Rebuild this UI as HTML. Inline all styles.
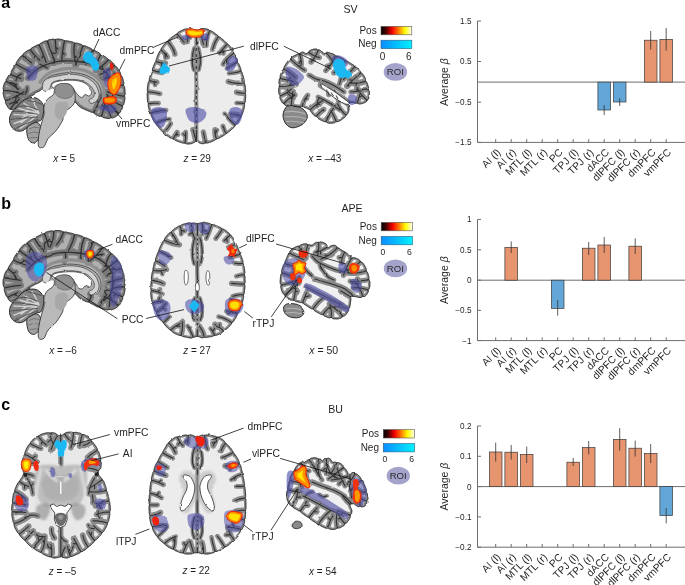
<!DOCTYPE html>
<html><head><meta charset="utf-8"><style>
html,body{margin:0;padding:0;background:#fff;width:685px;height:585px;overflow:hidden}
svg{display:block;font-family:"Liberation Sans",sans-serif;will-change:transform}
</style></head><body>
<svg width="685" height="585" viewBox="0 0 685 585">
<rect width="685" height="585" fill="#fff"/>
<defs><filter id="bw" x="-5%" y="-5%" width="110%" height="110%"><feGaussianBlur stdDeviation="0.75"/></filter><filter id="b1" x="-20%" y="-20%" width="140%" height="140%"><feGaussianBlur stdDeviation="1.2"/></filter><filter id="soft" x="-5%" y="-5%" width="110%" height="110%"><feTurbulence type="fractalNoise" baseFrequency="0.13" numOctaves="2" seed="4" result="n"/><feDisplacementMap in="SourceGraphic" in2="n" scale="2.0" xChannelSelector="R" yChannelSelector="G" result="d"/><feGaussianBlur in="d" stdDeviation="0.35"/></filter></defs>
<g filter="url(#soft)"><g>
<path d="M196,30.2 196.8,30.1 197.2,30 197.6,30.1 198.5,30.1 199.2,29.8 199.5,29.5 199.9,29.2 200.2,28.9 200.6,28.8 201,28.7 201.4,28.7 202.2,28.6 203,28.6 203.8,28.6 204.6,28.7 205.3,28.7 205.7,28.8 206.1,28.9 206.5,29 206.9,29 207.3,29.1 207.7,29.3 208.1,29.4 208.5,29.5 208.8,29.8 209.1,30.1 209.4,30.4 209.7,30.7 210.1,30.7 210.5,30.8 210.9,30.8 211.3,30.9 211.7,31.1 212,31.3 212.3,31.5 212.7,31.8 213,32 213.3,32.2 213.7,32.4 214,32.7 214.3,32.9 214.7,33.1 215,33.4 215.3,33.6 215.6,33.8 216,34.1 216.3,34.3 216.6,34.5 216.9,34.8 217.2,35 217.6,35.2 217.8,35.6 218,36 218.2,36.3 218.5,36.7 218.9,36.8 219.3,36.9 219.7,37.1 220.1,37.2 220.4,37.5 220.7,37.7 221,38 221.3,38.2 221.6,38.5 221.9,38.8 222.2,39 222.5,39.3 222.8,39.5 223.1,39.8 223.4,40.1 223.7,40.3 224,40.6 224.3,40.9 224.6,41.1 224.9,41.4 225.2,41.7 225.5,41.9 225.8,42.2 226.1,42.5 226.4,42.7 226.6,43.1 226.8,43.5 227,43.9 227.2,44.2 227.6,44.4 228,44.6 228.4,44.7 228.8,44.9 229.1,45.2 229.3,45.5 229.6,45.8 229.9,46.1 230.1,46.4 230.4,46.7 230.6,47 230.9,47.3 231.1,47.6 231.3,48 231.5,48.3 231.8,48.6 232,49 232.2,49.3 232.4,49.7 232.6,50 232.8,50.4 233,50.7 233.2,51 233.4,51.4 233.6,51.7 233.6,52.2 233.7,52.6 233.7,53 233.8,53.4 234.1,53.7 234.4,54 234.7,54.3 235,54.6 235.2,54.9 235.4,55.3 235.6,55.7 235.8,56 235.9,56.4 236.1,56.8 236.2,57.1 236.4,57.5 236.5,57.9 236.7,58.3 236.8,58.6 236.9,59 237,59.4 237.2,59.8 237.3,60.1 237.4,60.5 237.4,61.4 237.5,62.2 237.7,62.6 238,62.9 238.3,63.2 238.6,63.5 238.8,63.9 239,64.2 239.1,64.6 239.3,65 239.4,65.3 239.6,65.7 239.7,66.1 239.9,66.4 240,66.8 240.2,67.2 240.3,67.6 240.5,67.9 240.6,68.3 240.7,68.7 240.9,69.1 241,69.4 241,70.3 240.9,71.1 241.2,71.5 241.5,71.8 241.8,72.1 242,72.5 242.1,72.8 242.3,73.2 242.4,73.6 242.5,74 242.6,74.4 242.7,74.8 242.8,75.1 242.9,75.5 243.1,75.9 243.2,76.3 243.3,76.7 243.4,77.1 243.5,77.5 243.6,77.8 243.7,78.2 243.8,78.6 243.9,79 244,79.4 244.1,79.8 244.1,80.2 244.2,80.6 244.3,81 244.4,81.4 244.3,81.8 244.2,82.2 244.2,82.6 244.1,83 244.3,83.4 244.5,83.8 244.7,84.1 245,84.5 245,84.9 245.1,85.3 245.1,85.7 245.2,86.1 245.3,86.9 245.4,87.7 245.5,88.5 245.5,89.3 245.6,90.1 245.7,90.9 245.7,91.7 245.6,92.1 245.4,92.5 245.3,92.9 245.2,93.3 245.3,93.7 245.5,94.1 245.6,94.5 245.8,94.9 245.7,95.7 245.7,96.5 245.7,97.3 245.6,98.1 245.5,98.9 245.4,99.6 245.4,100.4 245.3,101.2 245.2,102 245,102.4 244.8,102.8 244.6,103.2 244.3,103.5 244.4,103.9 244.5,104.4 244.6,104.8 244.7,105.2 244.6,105.6 244.6,106 244.5,106.4 244.4,106.8 244.3,107.2 244.2,107.6 244.2,107.9 244.1,108.3 244,108.7 243.9,109.1 243.8,109.5 243.7,109.9 243.6,110.3 243.4,110.7 243.3,111 243.2,111.4 243.1,111.8 243,112.2 242.8,112.6 242.7,112.9 242.6,113.3 242.4,113.7 242.3,114.1 242.2,114.4 242,114.8 241.7,115.1 241.4,115.4 241.1,115.7 240.8,116 240.8,116.9 240.7,117.3 240.7,117.7 240.5,118.1 240.3,118.4 240.1,118.8 239.9,119.1 239.7,119.5 239.5,119.8 239.3,120.2 239.1,120.5 238.9,120.9 238.7,121.2 238.5,121.5 238.3,121.9 238,122.2 237.8,122.5 237.6,122.9 237.4,123.2 237.1,123.5 236.9,123.8 236.6,124.1 236.3,124.4 235.9,124.6 235.5,124.8 235.2,125 235,125.4 234.9,125.8 234.7,126.2 234.6,126.6 234.3,126.9 234,127.2 233.8,127.5 233.5,127.8 233.2,128 232.9,128.3 232.6,128.6 232.3,128.9 232,129.1 231.7,129.4 231.4,129.7 231.2,129.9 230.8,130.2 230.5,130.5 230.2,130.7 229.9,131 229.6,131.2 229.3,131.5 229,131.7 228.7,132 228.4,132.2 228.1,132.5 227.7,132.7 227.3,132.9 226.9,133 226.5,133.1 226.1,133.2 225.9,133.6 225.6,133.9 225.4,134.3 225.2,134.6 224.8,134.8 224.5,135.1 224.2,135.3 223.8,135.5 223.5,135.7 223.1,135.9 222.8,136.1 222.4,136.3 222.1,136.5 221.7,136.7 221.4,136.9 221,137.1 220.7,137.3 220.3,137.5 220,137.6 219.6,137.8 219.3,138 218.9,138.2 218.6,138.4 218.2,138.5 217.8,138.6 217.3,138.6 216.9,138.7 216.5,138.7 216.2,139 215.9,139.4 215.6,139.7 215.3,140 215,140.1 214.6,140.3 214.2,140.5 213.9,140.6 213.5,140.8 213.2,141 212.8,141.1 212.4,141.3 212,141.5 211.7,141.6 211.3,141.8 210.9,141.9 210.6,142 210.2,142.2 209.8,142.3 209.4,142.4 209,142.5 208.7,142.7 208.3,142.8 207.9,142.9 207.5,143 207.1,143.1 206.7,143 206.3,143 205.9,142.9 205.4,142.8 205.1,143 204.7,143.3 204.3,143.4 204,143.6 203.2,143.7 202.4,143.7 201.6,143.6 201.2,143.6 200.8,143.5 200.4,143.3 200.1,143.1 199.7,143 199.3,142.8 199,142.6 198.6,142.4 198.3,142.2 197.9,142.1 197.5,142 197.2,141.7 196.8,141.5 196.3,141.4 195.9,141.3 195.4,141.5 195.1,141.8 194.7,142.1 194.4,142.4 194.1,142.5 193.7,142.7 193.3,142.8 193,143 192.6,143.2 192.2,143.3 191.9,143.5 191.5,143.6 191.1,143.7 190.7,143.8 190.3,143.8 189.9,143.9 189.1,144 188.3,144 187.5,144 186.7,143.9 186.3,143.8 186,143.6 185.6,143.4 185.2,143.2 184.9,143 184.5,143 184,143.1 183.6,143.1 183.2,143.2 182.8,143.1 182.4,143 182,142.8 181.7,142.7 181.3,142.6 180.9,142.5 180.5,142.4 180.1,142.3 179.8,142.1 179.4,142 179,141.9 178.6,141.7 178.2,141.6 177.9,141.5 177.5,141.3 177.1,141.2 176.8,141 176.4,140.9 176,140.7 175.6,140.5 175.3,140.4 174.9,140.2 174.6,140 174.3,139.7 174,139.4 173.7,139.1 173.4,138.8 173,138.8 172.5,138.7 172.1,138.7 171.7,138.6 171.3,138.4 171,138.3 170.6,138.1 170.3,137.9 169.9,137.7 169.6,137.5 169.2,137.3 168.9,137.1 168.6,136.8 168.2,136.6 167.9,136.4 167.6,136.2 167.2,136 166.9,135.7 166.6,135.5 166.3,135.3 165.9,135 165.6,134.8 165.3,134.5 165,134.3 164.7,134 164.5,133.6 164.3,133.2 164.1,132.9 163.9,132.5 163.6,132.3 163.2,132.1 162.8,132 162.4,131.8 162.1,131.5 161.9,131.2 161.6,130.9 161.3,130.6 161.1,130.3 160.8,130 160.5,129.7 160.3,129.4 160,129.1 159.8,128.8 159.5,128.5 159.2,128.2 159,127.8 158.7,127.5 158.5,127.2 158.2,126.9 158,126.6 157.7,126.3 157.5,126 157.2,125.7 157,125.3 156.8,125 156.6,124.6 156.5,124.2 156.4,123.8 156.3,123.4 155.9,123.1 155.6,122.9 155.2,122.7 154.9,122.4 154.7,122.1 154.5,121.8 154.2,121.4 154,121.1 153.8,120.7 153.6,120.4 153.4,120.1 153.2,119.7 153,119.4 152.8,119 152.6,118.7 152.4,118.3 152.3,117.9 152.1,117.6 151.9,117.2 151.7,116.9 151.6,116.5 151.4,116.1 151.3,115.8 151.1,115.4 150.9,115 150.8,114.7 150.8,113.8 150.8,113 150.5,112.6 150.3,112.3 150,112 149.7,111.6 149.6,111.3 149.5,110.9 149.4,110.5 149.2,110.1 149.1,109.7 149,109.3 148.9,109 148.8,108.6 148.7,108.2 148.7,107.8 148.6,107.4 148.5,107 148.4,106.6 148.3,106.2 148.3,105.8 148.2,105.4 148.3,105 148.3,104.6 148.4,104.2 148.5,103.8 148.3,103.4 148.1,103 147.9,102.6 147.7,102.3 147.6,101.5 147.5,100.7 147.4,99.9 147.4,99.1 147.3,98.3 147.3,97.5 147.3,96.7 147.2,95.9 147.2,95.1 147.2,94.3 147.2,93.5 147.3,93.1 147.5,92.7 147.7,92.3 147.8,91.9 147.7,91.5 147.5,91.1 147.4,90.7 147.3,90.3 147.3,89.5 147.4,88.7 147.4,87.9 147.5,87.1 147.6,86.3 147.7,85.5 147.7,85.1 147.8,84.7 147.9,84.3 147.9,83.9 148,83.5 148.1,83.2 148.2,82.8 148.3,82.4 148.4,82 148.7,81.6 148.9,81.3 149.2,81 149.4,80.6 149.4,80.2 149.3,79.8 149.3,79.3 149.3,78.9 149.4,78.5 149.5,78.1 149.6,77.7 149.7,77.4 149.8,77 149.9,76.6 150,76.2 150.1,75.8 150.2,75.4 150.4,75.1 150.5,74.7 150.6,74.3 150.7,73.9 150.8,73.5 150.9,73.1 151.1,72.8 151.2,72.4 151.3,72 151.4,71.6 151.7,71.3 152,71 152.2,70.6 152.5,70.3 152.5,69.5 152.5,68.6 152.6,68.2 152.8,67.9 152.9,67.5 153.1,67.1 153.2,66.7 153.4,66.4 153.5,66 153.7,65.6 153.8,65.3 154,64.9 154.1,64.5 154.3,64.1 154.4,63.8 154.6,63.4 154.7,63 154.9,62.7 155.2,62.4 155.5,62 155.8,61.7 156.1,61.4 156.1,60.6 156.1,59.7 156.3,59.3 156.4,59 156.6,58.6 156.7,58.2 156.8,57.8 157,57.5 157.1,57.1 157.2,56.7 157.4,56.3 157.5,56 157.6,55.6 157.8,55.2 157.9,54.8 158.1,54.5 158.2,54.1 158.4,53.7 158.5,53.4 158.7,53 158.9,52.6 159.1,52.3 159.2,51.9 159.4,51.6 159.6,51.2 160,50.9 160.3,50.7 160.6,50.4 161,50.2 161,49.7 161.1,49.3 161.2,48.9 161.3,48.5 161.5,48.2 161.7,47.8 162,47.5 162.2,47.2 162.4,46.8 162.7,46.5 162.9,46.2 163.2,45.9 163.4,45.6 163.6,45.2 163.9,44.9 164.1,44.6 164.4,44.3 164.7,44 164.9,43.7 165.2,43.4 165.5,43.1 165.7,42.8 166,42.5 166.3,42.2 166.7,42 167,41.9 167.4,41.7 167.8,41.5 168,41.1 168.2,40.7 168.3,40.3 168.5,40 168.8,39.7 169.1,39.4 169.4,39.1 169.7,38.9 170,38.6 170.3,38.3 170.6,38.1 170.9,37.8 171.2,37.6 171.6,37.3 171.9,37.1 172.2,36.9 172.5,36.7 172.9,36.4 173.2,36.2 173.5,36 173.9,35.8 174.2,35.6 174.5,35.3 174.8,35.1 175.2,34.8 175.5,34.6 175.9,34.5 176.3,34.3 176.7,34.2 177.1,34 177.3,33.6 177.5,33.3 177.7,32.9 177.9,32.6 178.3,32.3 178.6,32.1 178.9,31.9 179.3,31.6 179.6,31.4 180,31.2 180.3,31.1 180.7,30.9 181,30.7 181.4,30.5 181.7,30.4 182.1,30.2 182.5,30 182.9,29.9 183.2,29.7 183.6,29.6 184,29.5 184.4,29.3 184.7,29.2 185.1,29.1 185.5,29 185.9,28.9 186.3,28.8 186.7,28.9 187.1,29 187.5,29.1 187.9,29.2 188.3,29 188.7,28.8 189.1,28.7 189.5,28.5 190.3,28.6 191,28.7 191.4,28.8 191.8,28.9 192.2,29.1 192.6,29.2 192.9,29.4 193.3,29.5 193.7,29.7 194,29.8 194.4,29.9 194.8,30 195.2,30.1Z" fill="#8a8a8a" stroke="#151515" stroke-width="0.9"/>
<path d="M175.7,36.9 175.4,37.2 175,37.4 174.7,37.7 174.3,37.9 174,38.1 173.6,38.3 173.3,38.5 173,38.8 172.7,39 172.4,39.2 172.2,39.4 171.9,39.6 171.6,39.9 171.3,40.1 171,40.4 170.8,40.6 171.3,41.5 173.2,44.1 174.9,46.9 176.3,50 177.5,53.3 177.6,53.8 177.6,54.3 177.5,54.8 177.4,55.3 177.1,55.7 176.8,56.1 176.3,56.4 175.9,56.6 175.4,56.8 174.9,56.8 174.4,56.7 173.9,56.5 173.4,56.3 173,55.9 172.7,55.5 172.5,55 171.5,52.1 170.3,49.5 168.9,47.1 167.3,44.9 166.9,44.5 166.7,44.7 166.4,45 166.2,45.3 165.9,45.6 165.7,45.9 165.5,46.2 165.2,46.5 165,46.8 164.7,47.1 164.5,47.4 164.3,47.7 164.1,48 163.8,48.3 163.6,48.6 165.2,50.2 166.8,51.8 168.3,53.6 169.7,55.5 169.9,56 170.1,56.4 170.1,56.9 170.1,57.4 169.9,57.9 169.7,58.4 169.4,58.8 169,59.1 168.6,59.3 168.1,59.5 167.6,59.6 167.1,59.5 166.6,59.7 166.2,59.9 165.8,60 165.4,60 165,60 164.5,59.9 164.2,59.7 163.8,59.4 163.6,59.1 163.4,58.7 163.2,58.3 162.9,55.2 161.8,54.1 160.8,53.2 160.5,53.8 160.4,54.2 160.2,54.5 160.1,54.9 159.9,55.2 159.8,55.6 159.7,55.9 159.5,56.3 159.4,56.6 159.3,57 159.1,57.4 159,57.8 158.8,58.1 158.7,58.5 158.6,58.9 159.9,59.6 161.7,60 163.5,60.2 165.4,60.3 166,60.4 166.5,60.6 167,60.9 167.4,61.2 167.8,61.7 168,62.2 168.1,62.7 168.2,63.3 168.1,63.9 167.9,64.4 167.6,64.9 167.2,65.3 166.8,65.6 166.3,65.9 165.7,66 165.1,66 164.3,66 164.4,66.4 164.5,66.8 164.5,67.3 164.4,67.7 164.2,68.1 164,68.4 164.1,69 164.2,69.5 164.1,69.9 164,70.4 164.3,70.8 164.6,71.2 164.9,71.7 165,72.2 165,72.7 164.9,73.2 164.8,73.7 164.5,74.1 164.1,74.5 163.7,74.8 163.3,75.1 162.8,75.2 162.2,75.2 159.8,74.9 157.6,74.5 155.4,73.9 153.2,73.3 152.8,73.7 152.7,74.1 152.6,74.5 152.5,74.9 152.4,75.2 152.3,75.6 152.2,76 152.1,76.4 151.9,76.8 151.8,77.1 151.7,77.5 151.6,77.9 151.5,78.3 152.7,78.6 154.2,79 155.8,79.3 157.4,79.6 157.9,79.7 158.4,80 158.8,80.3 159.1,80.7 159.4,81.2 159.5,81.7 159.6,82.2 159.5,82.7 159.4,83.3 159.2,83.7 158.8,84.1 158.4,84.5 157.9,84.7 157.4,84.9 157.2,85.2 157.2,85.6 157,86 156.8,86.4 156.6,86.7 156.2,87 155.8,87.1 155.4,87.3 155,87.3 154.6,87.3 154.2,87.1 153.8,86.9 153.5,86.6 153.2,86.3 153.1,85.9 152.3,84.1 151.4,83.9 150.1,83.6 150,84 149.8,84.7 149.7,85.4 149.6,86.2 149.5,86.9 149.4,87.7 149.4,88.4 149.3,89.2 149.9,89.6 152.6,89.8 155.2,90.2 157.9,90.8 160.5,91.4 161,91.6 161.4,91.8 161.8,92.2 162.1,92.6 162.3,93 162.4,93.5 162.4,93.9 162.3,94.4 162.2,94.9 161.9,95.3 161.6,95.6 161.2,95.9 160.8,96.1 160.3,96.3 159.8,96.3 159.3,96.2 156.9,95.6 154.4,95.1 152,94.7 149.6,94.5 149.2,94.7 149.2,95.4 149.2,96.2 149.3,97 149.3,97.8 149.3,98.6 149.4,99.3 149.5,100.1 149.5,100.9 149.7,101.2 151.9,101 154.1,100.8 156.3,100.7 158.5,100.7 159,100.8 159.4,100.9 159.9,101.2 160.2,101.5 160.5,101.8 160.7,102.2 160.9,102.7 160.9,103.2 160.9,103.6 160.7,104.1 160.5,104.5 160.2,104.9 159.8,105.2 159.4,105.4 159,105.5 158.5,105.6 156.4,105.6 154.4,105.6 152.3,105.8 150.3,106 150.4,106.6 150.5,107 150.6,107.4 150.7,107.7 150.8,108.1 150.9,108.5 151,108.8 151.1,109.2 151.2,109.6 151.3,109.9 152.5,109.8 155.7,109 158.9,108.3 162.3,107.9 165.7,107.7 166.2,107.7 166.7,107.8 167.1,108 167.5,108.3 167.9,108.7 168.1,109.1 168.3,109.5 168.4,110 168.4,110.5 168.2,111 168,111.5 167.8,111.9 167.4,112.2 167,112.5 166.5,112.6 166,112.7 162.8,112.9 159.8,113.3 156.8,113.9 153.9,114.6 153.1,114.9 153.2,115.3 153.4,115.7 153.6,116 153.7,116.4 153.9,116.7 154,117 154.2,117.4 154.4,117.7 154.6,118.1 154.8,118.4 154.9,118.7 155.3,119.4 155.5,119.7 155.7,120 155.9,120.3 156.1,120.7 157,120.3 159.8,119 162.8,118 166,117.3 169.3,116.9 170,116.9 170.4,117.1 170.8,117.3 171.2,117.5 171.4,117.9 171.7,118.2 171.8,118.7 171.8,119.1 171.8,119.5 171.7,120 171.5,120.4 171.2,120.7 170.9,121 171.4,121.2 171.8,121.4 172.2,121.6 172.6,122 172.9,122.4 173.1,122.8 173.2,123.3 173.2,123.7 173.1,124.2 172.9,124.7 171.5,126.9 170.1,128.9 168.6,130.9 167,132.8 166.7,133.1 167.5,133.7 167.7,133.9 168.1,134.1 168.4,134.3 169,134.7 169.3,134.9 169.6,135.1 170,135.3 170.3,135.5 170.6,135.7 170.9,135.9 171.3,136.1 171.6,136.3 172.3,135.3 173.1,133.8 174,132.3 174.9,130.9 175.2,130.5 175.6,130.2 176,129.9 176.5,129.8 177,129.7 177.5,129.7 178,129.9 178.5,130.1 178.9,130.4 179.2,130.8 179.5,131.2 179.6,131.7 179.7,132.2 179.7,132.7 179.8,133.1 180.1,133.5 180.3,133.9 180.3,134.4 180.3,134.8 180.2,135.3 180.1,135.7 179.8,136.1 179.5,136.4 179.1,136.7 178.6,136.9 177.2,137.1 176.9,137.7 176.4,138.7 176.8,138.9 177.2,139 177.5,139.2 177.9,139.3 178.2,139.5 178.6,139.6 178.9,139.7 179.3,139.9 179.7,140 180,140.1 180.4,140.2 180.8,140.4 181.5,140.6 181.9,140.7 182.2,140.8 182.6,140.9 183.1,138.8 183.3,137.4 181.6,135.5 181.4,135.2 181.2,134.7 181.1,134.3 181.1,133.8 181.1,133.4 181.3,133 181.6,132.6 181.9,132.3 182.2,132 182.7,131.8 183.1,131.7 183.4,131.4 183.6,131 183.8,130.6 184.1,130.2 184.5,130 184.9,129.8 185.4,129.7 185.8,129.7 186.3,129.7 186.7,129.9 187.1,130.1 187.5,130.5 187.7,130.8 187.9,131.3 188,131.7 188.1,134.3 188.1,136.8 187.9,139.2 187.5,141.6 187.7,142 188.3,142 188.9,142 189.6,141.9 190.4,141.8 191,141.7 191.5,141.5 192.2,141.2 192.5,141 192.9,140.9 192.7,140 192.2,137.6 191.6,135.3 191,132.9 190.2,130.6 190.1,130 190.1,129.5 190.2,128.9 190.4,128.4 190.7,127.9 191.1,127.5 191.6,127.2 192.1,127 192.6,126.9 193.2,126.9 193.8,127 194.3,127.2 194.3,124.5 194.2,121.8 194.2,119 194.2,116.2 194.4,110.7 194.4,108 194.4,105.3 194.3,102.6 194.2,99.8 194.2,97 194.2,94.2 194.4,88.7 194.4,86 194.4,83.3 194.3,80.6 194.2,77.8 194.2,75 194.2,72.2 194.1,71.9 193.5,71.9 193,71.7 192.7,71.5 192.4,71.3 192.2,71 192,70.7 191.6,69.4 191.2,67.8 190.8,65.8 190.5,63.7 190.4,61.4 190.4,58.9 190.6,56.6 190.8,54.4 191.1,52.3 191.6,50.3 192,48.7 192.3,47.5 192.4,47.2 192.6,46.9 192.9,46.6 193.2,46.4 193.5,46.2 193.9,46.1 194.3,46.1 194.4,44.8 194.4,42 194.4,38.8 194.4,35.3 194.3,32.2 193.9,31.9 193.4,31.7 193,31.5 192.6,31.4 192.2,31.2 191.8,31.1 191.5,30.9 190.8,30.7 190.6,31 190.7,33.8 190.6,35.7 191.4,36.2 191.7,36.4 192,36.7 192.2,37.1 192.3,37.4 192.3,38 192.2,38.6 192.1,38.9 191.8,39.2 191.5,39.5 191.2,39.7 190.8,39.8 190.2,39.9 189.9,42.1 189.8,42.6 189.6,43.1 189.3,43.5 188.9,43.8 188.5,44.1 188,44.3 187.5,44.3 187,44.3 186.5,44.2 186,44.3 185.5,44.6 185,44.8 184.5,44.9 184,45 183.4,44.9 182.9,44.7 182.4,44.4 182,44 180.5,42.3 179,40.6 177.5,38.9 176,37.1 175.8,36.9ZM156.3,64.5 156.1,64.9 156,65.3 155.8,65.6 155.7,66 155.5,66.4 155.4,66.7 155.2,67.1 155.1,67.5 154.9,67.8 154.8,68.2 156.7,68.8 157.9,69.1 160.1,67.6 159.5,65.4 158.7,65.2 156.6,64.6ZM159.1,124.7 159.3,125.1 159.5,125.4 159.8,125.7 160,126 160.3,126.3 160.5,126.6 160.8,126.9 161.3,127.5 161.5,127.8 161.8,128.1 162.1,128.4 162.3,128.7 162.6,129 162.8,129.3 163.1,129.5 164.7,127.9 166.1,126.1 167.4,124.2 168.7,122.2 169,121.9 169.3,121.5 166.8,121.7 164.1,122.3 161.6,123.2 159.2,124.2 158.8,124.5ZM198.6,140.2 199,140.4 199.5,140.6 199.9,140.8 200.3,141 200.6,141.2 201.2,141.5 201.7,141.6 202.1,141.7 202.5,141.6 202.1,139.3 201.6,137 201.2,134.8 200.7,132.5 200.7,132 200.7,131.5 200.9,131 201.1,130.5 201.4,130.1 201.8,129.8 202.3,129.5 202.8,129.4 203.3,129.3 203.8,129.3 204.3,129.5 204.8,129.7 205.2,130.1 205.5,130.5 205.8,130.9 205.9,131.4 206.4,133.7 206.8,136 207.3,138.3 207.7,140.6 208.1,140.7 208.5,140.6 208.8,140.5 209.2,140.4 209.5,140.3 209.9,140.2 210.2,140 210.6,139.9 210.9,139.7 211.3,139.6 211.6,139.5 212,139.3 212.3,139.1 212.7,139 213.1,138.8 213.4,138.7 212.8,136.6 212.4,134.4 212.2,132.1 212.3,129.7 212.3,129.2 212.5,128.6 212.8,128.2 213.1,127.7 213.6,127.4 214.1,127.2 214.6,127 215.1,127 215.7,127 216.2,127.2 216.7,127.5 217.1,127.8 217.7,127.9 218.1,128 218.5,128.3 218.8,128.6 219,128.9 219.2,129.3 219.3,129.8 219.3,130.4 219.2,130.8 217.9,133.3 218.2,135.1 218.5,136.1 219.1,135.9 219.4,135.7 219.7,135.5 220.1,135.3 220.4,135.1 220.8,134.9 221.1,134.8 221.4,134.6 221.8,134.4 222.1,134.2 222.4,134 222.8,133.8 223.1,133.6 222.6,132.1 221.8,130.4 221.1,128.6 220.5,126.8 220.4,126.3 220.4,125.8 220.5,125.4 220.7,124.9 221,124.5 221.3,124.2 221.7,123.9 222.2,123.7 222.7,123.6 223.2,123.6 223.6,123.7 224.1,123.9 224.5,124.2 224.8,124.5 225.1,124.9 225.3,125.4 225.8,126.9 226.3,128.4 226.9,129.7 227.4,130.5 227.8,130.2 228.1,129.9 228.4,129.7 228.7,129.4 229,129.2 229.2,129 229.5,128.7 229.8,128.4 230.1,128.2 230.4,127.9 230.7,127.7 231,127.4 231.2,127.1 231.5,126.9 232.1,126.3 232.3,126.1 232.6,125.8 231.7,125 229.4,122.7 227.1,120.2 224.9,117.7 222.9,115 222.6,114.6 222.5,114.2 222.4,113.8 222.4,113.3 222.5,112.9 222.7,112.5 222.9,112.1 223.3,111.8 223.6,111.6 224,111.4 224.5,111.4 224.9,111.4 225.4,111.5 225.8,111.7 226.1,111.9 226.4,112.2 227.7,114 227.9,113.4 228.1,112.9 228.4,112.4 228.8,112 229.3,111.7 229.8,111.5 230.4,111.4 233,111.4 235.4,111.6 237.9,112.1 240.2,112.7 240.6,112.9 240.8,112.3 240.9,111.9 241.1,111.6 241.2,111.2 241.3,110.8 241.4,110.5 241.5,110.1 241.6,109.7 241.7,109.4 241.9,108.6 242,108.2 242.1,107.9 242.4,106.8 242.5,106 242.6,105.6 241.4,105.4 239.8,105.3 238.2,105.2 236.6,105.2 236.1,105.2 235.7,105 235.3,104.8 235,104.5 234.7,104.2 234.5,103.8 234.4,103.4 234.4,103 234.4,102.5 234.5,102.1 234.8,101.7 235,101.4 235.4,101.1 235.8,100.9 236.2,100.8 236.6,100.8 238.3,100.8 240.1,100.9 241.8,101 243.3,101.1 243.3,100.6 243.4,99.8 243.5,99 243.6,98.3 243.6,97.5 243.7,96.7 243.7,96 241.9,95.9 239.9,95.7 237.9,95.4 236,94.9 235.5,94.8 235,94.5 234.6,94.2 234.2,93.7 234,93.3 233.8,92.8 233.8,92.2 233.9,91.7 234,91.2 234.3,90.7 234.6,90.3 235,90 235.5,89.7 236,89.6 236.6,89.5 237.1,89.6 238.9,90 240.6,90.2 242.3,90.4 243.6,90.5 243.6,89.8 243.5,89.1 243.4,88.3 243.4,87.5 243.3,86.7 243.2,86 241.8,86.1 238.4,86.1 234.8,85.9 231.2,85.2 227.6,84.2 227,84.1 226.6,83.8 226.2,83.4 225.9,83 225.7,82.5 225.5,81.9 225.5,81.4 225.6,80.9 225.8,80.3 226.1,79.9 226.5,79.5 226.9,79.2 227.4,79 227.9,78.8 228.5,78.8 229,78.9 232.3,79.8 235.4,80.4 238.4,80.6 241.3,80.6 242.2,80.5 242,79.9 241.9,79.5 241.8,79.1 241.7,78.7 241.6,78.4 241.5,78 241.4,77.6 241.3,77.2 241.2,76.8 241.1,76.5 241,76.1 240.9,75.7 240.8,75.3 240.7,74.9 240.6,74.6 240.5,74.2 240.3,73.8 239.7,73.8 237.2,74.5 234.6,75 231.9,75.3 229.2,75.5 228.6,75.5 228.1,75.4 227.8,75.2 227.4,74.9 227.1,74.5 226.9,74.1 226.8,73.7 226.8,73.3 226.8,72.8 227,72.4 227.2,72 227.5,71.7 227.8,71.4 228.2,71.2 228.6,71.1 231.4,70.9 233.8,70.5 236.2,70.1 238.5,69.5 238.9,69.4 238.7,69 238.6,68.6 238.4,68.3 238.3,67.9 238.2,67.5 238,67.2 237.9,66.8 237.7,66.5 237.6,66.1 237.4,65.7 237.3,65.4 237.1,65 236.7,65.2 234.6,66.2 232.5,67.5 230.5,68.8 228.4,70.3 228.1,70.5 227.6,70.7 227.2,70.7 226.7,70.7 226.3,70.6 225.8,70.4 225.5,70.1 225.2,69.8 224.9,69.4 224.8,68.9 224.7,68.5 224.7,68 224.9,67.6 225.1,67.2 225.3,66.8 225.7,66.5 226.9,65.6 226.3,65.7 225.8,65.6 225.3,65.8 225,66.2 224.6,66.5 224.1,66.7 223.6,66.8 223,66.8 222.5,66.7 222,66.5 221.6,66.2 221.2,65.8 220.9,65.4 220.7,64.9 220.6,64.4 220.6,63.9 220.7,63.4 220.9,62.9 222.9,59.8 225.1,57.1 227.5,54.7 230.1,52.6 231.3,51.8 231.1,51.3 230.7,50.7 230.5,50.4 230.3,50 230.1,49.7 229.9,49.4 229.7,49.1 229.5,48.8 229.2,48.5 229,48.2 228.8,47.9 228.6,47.7 228.1,47.1 227.8,47.3 226.1,49.2 225.3,50.1 225.8,52.8 225.9,53.3 225.8,53.8 225.7,54.2 225.4,54.7 225.1,55.1 224.7,55.4 224.3,55.6 223.8,55.7 223.3,55.8 222.8,55.7 222.3,55.6 221.9,55.3 221.5,55 220.9,55.2 220.5,55.5 220,55.6 219.5,55.7 219,55.7 218.6,55.6 218.1,55.4 217.7,55.2 217.4,54.8 217.1,54.4 216.9,53.9 216.8,53.5 216.8,53 216.9,52.5 217.1,52.1 217.4,51.7 219,49.7 220.3,48.3 220.5,48 220.8,47.6 221.1,47.3 222.4,45.9 224.1,44 224.4,43.6 223.9,43.2 223.6,42.9 223.3,42.6 223,42.4 222.7,42.1 222.4,41.8 222.1,41.6 221.8,41.3 221.5,41 221.2,40.8 220.9,40.5 220.6,40.3 220.3,40 220,39.8 219.7,39.5 219.3,39.9 218,42.2 216.8,44.6 215.9,47.2 215.1,50.1 214.9,50.6 214.6,51 214.3,51.3 213.9,51.6 213.4,51.8 213,51.9 212.5,51.9 212,51.8 211.5,51.7 211.1,51.4 210.8,51.1 210.5,50.7 210.3,50.2 210.2,49.7 210.2,49.2 210.3,48.8 211.1,45.8 212.2,42.8 213.5,40 215,37.3 215.7,36.3 215.4,36.1 215.1,35.9 214.8,35.7 214.4,35.4 214.1,35.2 213.8,35 213.5,34.7 213.2,34.5 212.9,34.3 212.5,34.1 212.2,33.9 211.9,33.6 211.6,33.4 211.3,33.2 210.8,33.8 209.9,36.6 209.4,38.8 209.4,39.3 209.3,39.8 209.2,40.1 208.9,42.5 208.7,45.8 208.7,46.2 208.5,46.7 208.3,47 208,47.4 207.6,47.6 207.2,47.8 206.8,47.9 206.4,48 205.9,47.9 205.5,47.7 205.1,47.5 204.8,47.2 204.5,46.9 204,46.9 203.5,46.9 203,46.9 202.4,46.8 202,46.6 201.5,46.2 201.1,45.8 200.9,45.4 200.7,44.9 199.9,41.9 199.1,39 198.4,36.9 198.4,38.8 198.4,42 198.4,44.9 198.3,46.1 198.9,46.2 199.3,46.3 199.6,46.5 199.9,46.7 200.1,47 200.2,47.4 200.6,48.7 201,50.3 201.4,52.2 201.8,54.3 202,56.5 202.2,58.9 202.2,61.3 202.2,63.5 201.9,65.6 201.4,67.7 201,69.4 200.7,70.5 200.5,70.8 200.3,71.2 200.1,71.4 199.8,71.6 199.4,71.8 198.9,71.9 198.3,71.8 198.2,72.3 198.2,75 198.2,77.7 198.3,80.4 198.4,83.2 198.4,86 198.4,88.8 198.2,94.3 198.2,97 198.2,99.7 198.3,102.4 198.4,105.2 198.4,108 198.4,110.8 198.2,116.3 198.2,119 198.2,121.7 198.3,124.4 198.4,127.1 198.4,130 198.4,133.2 198.4,136.7 198.4,139.1 198.6,140.2ZM235.7,122 236,121.7 236.2,121.4 236.4,121.1 236.6,120.8 236.8,120.4 237,120.1 237.2,119.8 237.4,119.5 237.6,119.2 237.8,118.8 238,118.5 238.2,118.2 236.7,117.7 234.8,117.4 232.8,117.2 230.6,117.2 232.5,119.5 234.8,121.6 235.5,122.3ZM235.3,60.4 235.1,60 235,59.7 234.9,59.3 234.8,58.9 234.6,58.6 234.5,58.2 234.4,57.9 234.2,57.5 234.1,57.2 233.9,56.9 233.3,56.9 231.2,58.6 229.5,60.2 229,63.5 228.8,64 228.7,64.4 230,63.5 232.3,62.2 234.6,60.9 235.4,60.6ZM206.8,31.1 206.1,30.9 205.4,30.8 204.7,30.7 204,30.6 203.3,30.6 202.6,30.6 202.1,30.6 202.4,31.4 203.4,34.4 204.3,37.1 205.2,37 205.5,35.5 206.5,32.3 207,31.1ZM185.3,31.1 184.6,31.4 184.3,31.5 183.9,31.6 183.6,31.8 183.3,31.9 182.9,32 182.6,32.2 182.2,32.3 181.9,32.5 181.6,32.7 181.2,32.8 180.9,33 180.6,33.2 180.3,33.4 181.8,35.2 183.2,36.9 184.7,38.6 185.1,39 185.4,36.3 185.5,33.8 185.4,31.3ZM194.2,59.1 194.2,61.3 194.2,63.2 194.4,64.7 194.4,64 194.4,61.3 194.3,58.6ZM198.4,61.7 198.4,59.1 198.3,57.7 198.3,58.4 198.4,61.2Z" fill="#ececec" filter="url(#bw)"/>
<path d="M198.9,30 199.8,32.4 200.8,35.3 201.7,38.2 202.6,41.2 203.4,44.2 M209.7,30.6 208.7,33 207.7,36 207,39.1 206.6,42.3 206.5,45.7 M207,39.1 204.1,39.6 M218.5,36.6 217.2,38.5 215.8,41 214.5,43.7 213.5,46.5 212.7,49.4 M227.3,44.2 225.9,45.7 224.2,47.5 222.6,49.4 220.9,51.3 219.3,53.3 M222.6,49.4 223.3,53.2 M233.9,53.4 231.8,54.7 229.4,56.6 227.2,58.7 225.1,61.3 223.3,64.1 M227.2,58.7 226.4,63.1 M237.5,62.2 235.7,63 233.5,64.2 231.3,65.5 229.1,66.9 227.1,68.4 M241,71.1 239.1,71.7 236.7,72.3 234.2,72.8 231.6,73.1 229,73.3 M244.2,83 241.5,83.3 238.3,83.4 235,83.1 231.7,82.5 228.3,81.6 M245.3,93.3 243.9,93.3 242.1,93.2 240.2,92.9 238.4,92.7 236.5,92.3 M244.4,103.5 243.3,103.4 241.6,103.2 240,103.1 238.3,103 236.6,103 M240.9,116.1 239.4,115.5 237.3,114.9 235.2,114.5 232.9,114.3 230.6,114.3 M235.2,125.1 233.2,123.3 230.9,121 228.7,118.7 226.6,116.2 224.6,113.6 M226.2,133.3 225.5,132.3 224.7,130.9 224,129.3 223.4,127.8 222.9,126.1 M216.5,138.8 216,137.6 215.5,135.8 215.2,133.9 215,131.9 215.1,129.8 M215.2,133.9 217.1,130 M205.5,142.9 205.1,141.1 204.7,138.8 204.2,136.5 203.8,134.2 203.3,132 M195.9,141.4 195.5,139.4 195,137 194.4,134.5 193.7,132.1 193,129.7 M184.9,143.1 185.2,141.3 185.5,139 185.7,136.7 185.7,134.4 185.7,132 M185.7,136.7 183.4,134 M173.3,138.9 173.8,137.9 174.6,136.5 175.4,135.1 176.2,133.7 177.1,132.3 M175.4,135.1 178,134.6 M163.9,132.5 165.1,131.2 166.6,129.4 168.1,127.5 169.4,125.6 170.7,123.6 M156.2,123.4 158.2,122.3 160.7,121.1 163.5,120.1 166.5,119.5 169.6,119.1 M150.7,113 153.2,112.2 156.3,111.4 159.4,110.8 162.6,110.4 165.9,110.2 M148.4,103.8 150,103.6 152.1,103.4 154.2,103.2 156.4,103.2 158.5,103.2 M147.7,91.9 149.8,92 152.3,92.3 154.9,92.7 157.4,93.2 159.9,93.8 M149.3,80.6 150.4,80.9 152,81.3 153.6,81.6 155.3,81.9 156.9,82.2 M153.6,81.6 155.1,85.1 M152.4,70.3 154,70.8 156,71.4 158.1,71.9 160.2,72.3 162.4,72.6 M158.1,71.9 161.8,69.4 M156,61.4 157.3,61.9 159.2,62.4 161.2,62.8 163.2,63.1 165.3,63.2 M161.2,62.8 162.3,66.9 M160.9,50.1 162.1,50.9 163.6,52.2 165,53.6 166.3,55.2 167.6,57 M165,53.6 165.4,57.9 M167.7,41.4 169.3,43.3 171.1,45.7 172.6,48.3 173.9,51.1 175,54.2 M177,33.9 178.2,35.3 179.6,37 181.1,38.7 182.6,40.5 184.1,42.2 M187.9,29.1 188,31.2 188.1,33.8 188,36.4 187.7,39.1 187.3,41.7 M188,36.4 190.4,37.9 M196.3,30 196.3,32.2 196.4,35.3 196.4,38.8 196.5,42 196.4,44.8 196.3,47.6 196.2,50.3 196.2,53 196.2,55.8 196.3,58.5 196.4,61.2 196.5,64 196.4,66.8 196.3,69.5 196.2,72.2 196.2,75 196.2,77.8 196.3,80.5 196.4,83.2 196.5,86 196.4,88.8 196.3,91.5 196.2,94.2 196.2,97 196.2,99.8 196.3,102.5 196.4,105.2 196.5,108 196.4,110.8 196.3,113.5 196.2,116.2 196.2,119 196.2,121.7 196.3,124.4 196.4,127.2 196.5,130 196.4,133.2 196.4,136.7 196.3,139.8 196.3,142 M194.1,48 193.9,49.1 193.4,50.8 193,52.6 192.7,54.6 192.5,56.7 192.3,59 192.3,61.3 192.3,63.4 192.6,65.4 193,67.2 193.5,68.9 193.8,70 M198.5,48 198.7,49.1 199.2,50.8 199.6,52.6 199.9,54.6 200.1,56.7 200.3,59 200.3,61.3 200.3,63.4 200,65.4 199.6,67.2 199.1,68.9 198.8,70" fill="none" stroke="#303030" stroke-width="1.1" stroke-linecap="round" stroke-linejoin="round"/>
</g>
<path d="M196.3,45 L196.3,130" stroke="#f4f4f4" stroke-width="0.7" stroke-dasharray="3 3"/>
<path d="M186,29.5 C186.9,28.4 190.2,28.5 192,28.5 C193.8,28.5 195.3,29.4 197,29.5 C198.7,29.6 200.7,28.8 202,29 C203.3,29.2 204.7,30 205,31 C205.3,32 205,33.9 204,35 C203,36.1 201,37.1 199,37.5 C197,37.9 194.1,37.9 192,37.5 C189.9,37.1 187.5,36.3 186.5,35 C185.5,33.7 185.1,30.6 186,29.5Z" fill="#ee2a0a"/>
<path d="M186.8,30.2 186.5,31.2 186.7,33 187.3,34.4 187.7,34.8 190.2,36 193.2,36.7 197.8,36.7 200.6,36 202.2,35.2 203.3,34.3 203.8,33.3 204.1,32.2 204,31.3 203.7,30.8 201.8,30 197,30.5 192.8,29.6 191,29.5 187.8,29.7Z" fill="#ff8c00"/>
<path d="M188.1,31.3 188.4,33.1 189.2,33.9 191.6,34.7 194.4,35.2 197.6,35.1 200,34.5 202.1,33.3 202.5,32 201.3,31.6 196.9,32.1 192.5,31.1Z" fill="#ffe000"/>
<path d="M182,36 C182.7,35.2 185.7,34.8 187,35 C188.3,35.2 190,36.7 190,37.5 C190,38.3 188.2,39.7 187,40 C185.8,40.3 183.8,40.2 183,39.5 C182.2,38.8 181.3,36.8 182,36Z" fill="#4a4aa8" fill-opacity="0.62" />
<path d="M201,36 C201.7,34.9 204.7,33.4 206,33.5 C207.3,33.6 208.8,35.3 209,36.5 C209.2,37.7 208.2,39.9 207,40.5 C205.8,41.1 203,40.8 202,40 C201,39.2 200.3,37.1 201,36Z" fill="#4a4aa8" fill-opacity="0.62" />
<path d="M159.5,70.5 C159.6,69.9 161.1,67.2 161.5,66.5 C161.9,65.8 163.7,62.3 164.2,62.2 C164.7,62.1 166.5,65 167,65.5 C167.5,66 169.9,67.9 170,68.5 C170.1,69.1 169,72.8 168.5,73.2 C168,73.6 164.2,73.8 163.5,73.8 C162.8,73.8 160.1,73.8 159.8,73.5 C159.5,73.2 159.4,71.1 159.5,70.5Z" fill="#1cb8f2"/>
<path d="M229.5,57.5 C230.8,56.3 233.6,55.6 235,56 C236.4,56.4 237.8,58.3 238,60 C238.2,61.7 237,64.2 236,66 C235,67.8 233.7,70.3 232,71 C230.3,71.7 226.8,71.3 226,70 C225.2,68.7 226.4,65.1 227,63 C227.6,60.9 228.2,58.7 229.5,57.5Z" fill="#4a4aa8" fill-opacity="0.62" />
<path d="M152,109 C153.4,107.5 157.6,106.7 160,107 C162.4,107.3 165.5,108.7 166.5,111 C167.5,113.3 166.8,118.2 166,121 C165.2,123.8 163.8,127.5 162,128 C160.2,128.5 156.8,126 155,124 C153.2,122 152,118.5 151.5,116 C151,113.5 150.6,110.5 152,109Z" fill="#4a4aa8" fill-opacity="0.62" />
<path d="M186,109 C187.1,107.7 190.7,107.2 193,107 C195.3,106.8 197.8,107.3 200,108 C202.2,108.7 205.2,109.3 206,111 C206.8,112.7 206.3,116 205,118 C203.7,120 200.5,122.5 198,123 C195.5,123.5 191.9,122.3 190,121 C188.1,119.7 187.2,117 186.5,115 C185.8,113 184.9,110.3 186,109Z" fill="#4a4aa8" fill-opacity="0.6" />
<path d="M230,109 C231.1,107.7 234,106.8 236,107 C238,107.2 241,108.3 242,110 C243,111.7 242.7,114.6 242,117 C241.3,119.4 239.7,123.7 238,124.5 C236.3,125.3 233.4,123.6 232,122 C230.6,120.4 229.8,117.2 229.5,115 C229.2,112.8 228.9,110.3 230,109Z" fill="#4a4aa8" fill-opacity="0.62" />
<path d="M287.4,105.8 C289.6,104.4 293.4,106 296,106.5 C298.6,107 301.1,107.4 303,109 C304.9,110.6 307.4,113.8 307.4,116.3 C307.4,118.8 305.4,122.1 303,124 C300.6,125.9 295.8,127.8 293,127.8 C290.2,127.8 287.7,126.1 286,124 C284.3,121.9 282.8,118 283,115 C283.2,112 285.2,107.2 287.4,105.8Z" fill="#8a8a8a" stroke="#1c1c1c" stroke-width="0.9"/>
<path d="M285,112 Q296,110 306,114 M284.5,117 Q296,115.5 306.5,119 M286,121.5 Q295,120.5 304,123" fill="none" stroke="#b4b4b4" stroke-width="1.1"/>
<path d="M278.9,84 279,83.2 279,82.4 279.1,81.6 279.2,80.8 279.3,80 279.6,79.7 280,79.3 280.3,79 280.6,78.6 280.5,78.2 280.3,77.8 280.1,77.3 279.9,76.9 280,76.5 280.1,76.1 280.2,75.7 280.3,75.3 280.5,74.9 280.6,74.6 280.7,74.2 280.9,73.8 281,73.4 281.2,73.1 281.3,72.7 281.5,72.3 281.6,72 281.8,71.6 282,71.2 282.1,70.9 282.3,70.5 282.5,70.1 282.9,69.9 283.3,69.7 283.7,69.5 284.2,69.2 284.1,68.8 284.1,68.3 284,67.8 284,67.3 284.1,67 284.3,66.6 284.5,66.3 284.7,65.9 284.9,65.6 285.1,65.2 285.4,64.9 285.6,64.5 285.8,64.2 286,63.9 286.2,63.5 286.4,63.2 286.6,62.9 286.9,62.5 287.1,62.2 287.3,61.9 287.6,61.5 287.8,61.2 288.1,60.9 288.3,60.6 288.6,60.3 288.8,60 289.1,59.7 289.6,59.6 290,59.5 290.5,59.4 291,59.3 291.1,58.9 291.2,58.4 291.3,58 291.4,57.5 291.8,57.3 292.1,57 292.4,56.8 292.8,56.6 293.1,56.4 293.4,56.2 293.8,56 294.1,55.8 294.5,55.6 294.8,55.4 295.2,55.2 295.6,55.1 295.9,54.9 296.3,54.7 296.6,54.5 297,54.3 297.4,54.2 297.7,54 298.2,54.1 298.7,54.1 299.2,54.2 299.6,54.3 299.9,53.9 300.1,53.5 300.4,53.1 300.6,52.7 301,52.5 301.4,52.4 301.8,52.3 302.2,52.2 302.6,52.1 303.3,52.2 303.7,52.3 304.1,52.5 304.4,52.7 304.7,53 305,53.2 305.4,53.4 305.7,53.6 306.5,53.5 306.9,53.3 307.1,53 307.6,52.9 308.1,52.8 308.6,52.6 309,52.5 309.1,52.1 309.1,51.6 309.2,51.2 309.4,50.8 309.8,50.6 310.1,50.4 310.5,50.2 310.9,50.1 311.2,49.9 311.6,49.8 312,49.6 312.4,49.5 312.7,49.4 313.1,49.3 313.5,49.2 313.9,49.1 314.3,49.1 315.1,49 315.9,49 316.7,49.1 317.1,49.4 317.4,49.7 317.7,50.1 318,50.4 318.4,50.3 318.9,50.1 319.3,50 319.8,49.9 320.2,50 320.5,50.2 320.9,50.4 321.2,50.7 321.5,51 321.8,51.2 322,51.5 322.3,51.8 322.6,52.1 322.9,52.4 323.1,52.7 323.4,53 323.7,53.2 324,53.5 324.4,53.6 324.9,53.8 325.5,53.7 326,53.5 326.4,53.4 326.4,52.7 326.6,52.4 327,52.1 327.4,52.2 327.8,52.3 328.1,52.4 328.5,52.5 328.9,52.6 329.3,52.8 329.7,52.9 330,53 330.4,53.2 330.8,53.3 331.2,53.5 331.5,53.6 331.9,53.8 332.2,54 332.6,54.2 332.9,54.4 333.3,54.6 333.6,54.8 334,54.9 334.3,55.3 334.6,55.7 334.9,56.1 335.1,56.5 335.6,56.4 336.1,56.3 336.6,56.1 337,56 337.4,56.1 337.8,56.3 338.1,56.4 338.5,56.6 338.9,56.7 339.3,56.9 339.6,57 340,57.2 340.4,57.4 340.7,57.5 341.1,57.7 341.4,57.9 341.8,58.1 342.2,58.2 342.5,58.4 342.9,58.6 343.2,58.8 343.6,59 343.9,59.2 344.1,59.6 344.4,60 344.6,60.5 344.8,60.9 345.2,60.9 345.7,60.9 346.2,60.8 346.7,60.8 347,61 347.4,61.2 347.7,61.5 348,61.7 348.4,61.9 348.7,62.1 349,62.3 349.4,62.5 349.7,62.8 350.1,63 350.4,63.2 350.7,63.4 351.1,63.6 351.4,63.8 351.8,64 352.1,64.2 352.5,64.4 352.8,64.6 353.2,64.8 353.5,65 353.8,65.2 354,65.7 354.2,66.1 354.3,66.6 354.5,67 354.9,67 355.4,67.1 355.9,67.1 356.4,67.2 356.7,67.5 357,67.7 357.2,68 357.5,68.3 357.8,68.6 358.1,68.8 358.4,69.1 358.7,69.4 358.9,69.7 359.2,70 359.5,70.3 359.8,70.6 360,70.9 360.3,71.2 360.4,71.7 360.4,72.1 360.5,72.6 360.5,73.1 361,73.2 361.5,73.3 361.9,73.5 362.4,73.6 362.6,73.9 362.9,74.2 363.1,74.6 363.3,74.9 363.6,75.2 363.8,75.6 364,75.9 364.2,76.2 364.4,76.6 364.6,76.9 364.8,77.3 365,77.6 365.2,78 365.4,78.4 365.5,78.7 365.7,79.1 365.9,79.4 365.8,79.9 365.7,80.4 365.6,80.9 365.4,81.3 365.8,81.6 366.2,81.9 366.6,82.1 367,82.4 367.1,82.8 367.3,83.2 367.4,83.6 367.5,84 367.6,84.3 367.7,84.7 367.8,85.1 367.9,85.5 368.1,85.9 368.2,86.3 368.3,86.7 368.4,87 368.5,87.4 368.6,87.8 368.4,88.3 368.2,88.7 368.1,89.2 367.9,89.6 368.2,89.9 368.6,90.3 368.9,90.6 369.2,91 369.3,91.4 369.4,92.1 369.4,92.9 369.4,93.7 369.3,94.5 369.3,95.3 369.2,96.1 369.1,96.5 369.1,96.9 369,97.3 368.9,97.7 368.8,98.1 368.6,98.5 368.5,98.9 368.4,99.2 367.9,99.5 367.5,99.7 367.1,99.8 366.7,99.9 366.6,100.8 366.5,101.2 366.4,101.7 366.1,101.9 365.7,102.1 365.4,102.3 365,102.5 364.6,102.7 364.3,102.8 363.9,103 363.5,103.1 363.1,103.2 362.8,103.4 362.4,103.5 362,103.6 361.6,103.7 361.2,103.8 360.8,103.8 360.4,103.9 359.6,104 358.8,104 358.5,103.7 358.1,103.4 357.8,103.1 357.5,102.7 357,102.9 356.6,103.1 356.2,103.2 355.7,103.4 355.3,103.3 354.9,103.1 354.5,103 354.2,102.9 353.8,102.8 353.4,102.7 353,102.6 352.6,102.5 351.8,102.5 351,102.6 350.6,102.7 350.2,102.8 349.7,102.7 349.2,102.8 348.6,102.9 348.1,103.1 348,103.7 348.1,104.3 348.2,104.8 348.5,105.3 348.6,106.1 348.7,106.5 348.7,106.8 348.8,107.2 348.9,107.6 349,108 349,108.4 349.1,109.2 349,110 348.9,110.4 348.8,110.8 348.7,111.2 348.6,111.6 348.5,111.9 348.3,112.3 348.2,112.7 348,113 347.8,113.4 347.7,113.8 347.5,114.1 347,114.3 346.6,114.5 346.1,114.6 345.7,114.7 345.7,115.2 345.6,115.7 345.6,116.1 345.5,116.6 345.2,116.9 344.9,117.2 344.6,117.4 344.3,117.7 344,117.9 343.7,118.2 343.3,118.4 343,118.7 342.7,118.9 342.4,119.1 342,119.4 341.7,119.6 341.4,119.8 341,120 340.7,120.2 340.4,120.5 340,120.7 339.7,120.9 339.3,121 339,121.2 338.6,121.4 338.2,121.6 337.9,121.7 337.4,121.6 336.9,121.5 336.5,121.4 336,121.3 335.8,121.6 335.5,122 335.2,122.4 334.8,122.7 334.4,122.8 334.1,122.9 333.7,123 333.3,123 332.5,123.1 331.7,123.2 330.9,123.2 330.1,123.2 329.3,123.2 328.5,123.1 328.1,123 327.7,122.9 327.3,122.9 327,122.5 326.7,122.1 326.4,121.7 326.2,121.3 325.7,121.4 325.2,121.5 324.8,121.6 324.3,121.7 323.9,121.6 323.6,121.4 323.2,121.2 322.8,121.1 322.5,120.9 322.1,120.7 321.8,120.5 321.4,120.3 321.1,120.1 320.7,120 320.3,119.8 320,119.6 319.7,119.4 319.3,119.2 319,119 318.6,118.8 318.3,118.6 317.9,118.3 317.6,118.1 317.3,117.9 317.1,117.5 316.9,117 316.7,116.6 316.6,116.1 316.1,116.1 315.6,116.1 315.2,116.1 314.7,116 314.4,115.8 314.1,115.5 313.8,115.2 313.5,114.9 313.3,114.6 313,114.3 312.7,114 312.5,113.7 312.2,113.4 312,113.1 311.8,112.7 311.5,112.4 311.3,112.1 311,111.8 310.8,111.5 310.7,111 310.6,110.5 310.6,110 310.5,109.5 310,109.4 309.5,109.3 309,109.3 308.5,109.2 308.2,109 307.8,108.8 307.5,108.6 307.1,108.4 306.8,108.2 306.4,108 306,107.9 305.7,107.8 305.3,107.6 304.9,107.5 304.5,107.4 304.1,107.3 303.7,107.2 303.4,106.9 303,106.5 302.7,106.2 302.3,105.9 301.9,106.1 301.4,106.3 301,106.5 300.6,106.7 299.8,106.6 299,106.5 298.2,106.5 297.4,106.4 296.6,106.3 295.8,106.2 295,106.1 294.2,106 293.4,106 292.6,105.7 292.2,105.4 291.8,105.2 291.4,104.9 291,105.2 290.6,105.4 290.2,105.7 289.8,106 289,106 288.2,105.9 287.4,105.8 287,105.8 286.6,105.7 286.2,105.6 285.8,105.5 285.5,105.4 285.1,105.2 284.7,105 284.5,104.6 284.4,104.2 284.2,103.7 284.2,103.3 283.7,103.3 283.3,103.2 282.8,103.1 282.4,102.9 282.1,102.6 281.9,102.2 281.7,101.9 281.5,101.5 281.3,101.2 281.1,100.8 280.9,100.5 280.8,100.1 280.6,99.8 280.4,99.4 280.3,99 280.2,98.6 280,98.3 279.9,97.9 279.8,97.5 280,97 280.1,96.6 280.3,96.1 280.5,95.7 280.1,95.4 279.8,95.1 279.4,94.7 279.1,94.4 279,94 279,93.6 278.9,93.2 278.8,92.4 278.7,91.6 278.7,90.8 278.7,90 278.7,89.2 278.7,88.4 279,87.6 279.2,87.2 279.5,86.8 279.8,86.5 279.6,86 279.3,85.6 279.1,85.2 278.8,84.8Z" fill="#8a8a8a" stroke="#151515" stroke-width="0.9"/>
<path d="M280.7,89.6 280.7,90.3 280.7,91.1 280.8,91.8 280.8,92.6 281.1,92.9 283.3,91.9 284.7,91.1 285,90.8 285.3,90.6 285.1,90.1 285.1,89.7 282.3,89.5 280.7,89.5ZM282.1,98 282.2,98.3 282.3,98.6 282.4,99 282.6,99.3 282.7,99.6 282.9,99.9 283.1,100.2 283.6,100.2 285.7,98 287.3,96.6 286.4,95.8 285.6,96.2 282.9,97.4 282,97.8ZM287.6,103.9 288.3,103.9 288.5,103 288.6,102.6 287.3,103.8ZM294.7,104.1 295.2,104.1 296,104.2 296.4,104.2 296.8,104.3 297.6,104.4 298.4,104.5 299.2,104.6 299.6,104.6 300.2,103.9 301.1,101.3 302.3,98.7 303.8,96.1 305.7,93.7 306,93.3 306.4,93 306.9,92.8 307.4,92.6 307.9,92.6 308.4,92.7 308.9,92.9 309.3,93.1 309.7,93.5 310,93.9 310.2,94.4 310.3,94.8 310.3,95.4 310.3,95.9 310.1,96.3 309.8,96.8 309.1,97.7 309.2,98.1 309.3,98.6 309.2,99 309.1,99.4 308.9,99.8 308.6,100.1 308.3,100.4 306.9,101.1 305.9,103.1 305.2,105.2 305.8,105.7 306.3,105.9 306.7,106 307.1,106.2 307.6,106.4 308,106.6 308.4,106.8 308.7,107 310,105.8 312.6,103.7 315.2,101.7 315.7,100 316.3,98.6 315.9,98.2 315.7,97.8 315.6,97.3 315.6,96.9 315.7,96.4 315.8,96 316.1,95.6 316.4,95.2 316.8,94.9 317.2,94.7 317.7,94.6 318.1,94.6 318.6,94.7 319,94.8 320.5,95.5 322.5,96.5 324.9,97.7 327.1,98.9 329.3,100.1 331.4,101.5 333.4,102.8 335.2,103.9 335.2,103.3 335.4,102.8 335.6,102.4 335.9,102.1 336.2,101.8 336.2,101.2 336.3,100.7 336,100.4 335.6,99.9 335.4,99.3 335.2,98.8 335.2,98.2 334.9,98 333.1,96.8 331.3,95.5 331,95.9 330.8,96.3 330.4,96.7 330,97 329.6,97.2 329.1,97.3 328.6,97.3 328.1,97.2 327.6,97.1 327.2,96.8 326.8,96.5 326.5,96 326.3,95.6 326.2,95.1 326.1,94.3 326,93.1 326,92.4 326.1,91.8 324.4,90.8 322.4,89.7 320.6,88.7 319.4,88 319.1,87.8 318.8,87.6 318.6,87.4 318.3,87.1 318.1,86.8 318,86.6 317.7,85.9 317.6,85.3 317.6,84.6 317.8,84 318,83.4 318.2,83.1 318.4,82.8 318.6,82.6 317.4,82.2 315.2,81.5 314.9,81.3 312.9,80.4 310.7,79.1 308.9,78 307.6,77.2 307.2,76.9 306.9,76.5 306.6,76.1 306.5,75.6 306.4,75.1 306.4,74.6 306.6,74.1 306.8,73.6 307.1,73.2 307.5,72.9 307.9,72.6 308.4,72.5 308.9,72.4 309.4,72.4 309.9,72.6 310.4,72.8 311.6,73.6 313.3,74.6 315.2,75.7 317,76.6 318.6,77.1 320.5,77.5 322.6,77.9 324.7,78.5 326.7,79.2 328.6,80 330.4,80.8 332.1,81.7 334,82.6 335.8,83.7 336.8,84.3 336.9,83.8 337,83.3 337.3,82.3 337.8,81 338.1,79.7 338.4,78.4 338.7,77 338.9,76 339,75.5 339.2,75.1 339.5,74.7 339.9,74.4 340.4,74.1 340.8,74 341.3,73.9 341.8,73.9 342.3,74.1 342.7,74.3 343.1,74.6 343.1,74.1 343.1,73.6 343.3,73.1 343.6,72.6 343.9,72.2 344.3,71.9 344.8,71.7 345.3,71.5 345.9,71.5 347.1,71.5 348.6,69.9 350.9,67.2 351.7,66.2 351.1,65.9 350.8,65.7 350.5,65.5 350.1,65.3 349.7,65.1 349.4,64.9 349,64.7 348.7,64.5 348.3,64.2 348,64 347.6,63.8 347.3,63.6 347,63.4 346.6,63.1 345.8,64.3 343.6,67.2 341.2,69.9 338.5,72.4 335.6,74.9 335.2,75.2 334.7,75.4 334.1,75.5 333.6,75.5 333.1,75.4 332.6,75.2 332.1,74.9 331.7,74.5 331.4,74 331.2,73.5 331.1,73 331.1,72.5 331.2,71.9 331.4,71.4 331.7,71 332.1,70.6 334.8,68.4 337.1,66.1 339.3,63.7 341.2,61.2 341.8,60.3 341.2,60 340.9,59.9 340.6,59.7 340.2,59.5 339.9,59.3 339.5,59.2 339.2,59 338.8,58.9 338.5,58.7 338.1,58.6 337.8,58.4 337.4,58.3 336.6,59.7 335.6,61.6 335.8,62.1 336,62.5 336.1,63.1 336,63.6 335.9,64.1 335.7,64.5 335.4,65 335,65.3 334.6,65.6 334.1,65.8 333.6,65.8 333.1,65.8 332.7,66.3 330.3,69.4 327.6,72.4 327.2,72.8 326.8,73 326.3,73.2 325.8,73.2 325.3,73.2 324.8,73.1 324.3,72.9 323.9,72.5 323.6,72.2 323.3,71.7 323.2,71.3 323.1,70.8 323.1,70.3 323.3,69.8 323.5,69.3 323.8,68.9 325.3,67.3 325.1,66.9 324.9,66.5 324.9,66 324.9,65.5 325,65.1 325.2,64.6 325.5,64.3 325.9,63.9 326.3,63.7 328.8,62.9 329.7,61.6 328.6,59.8 327.2,58 325.6,56.2 325.2,55.8 324.7,55.8 324.3,55.7 323.6,55.5 323.3,55.3 322.9,55.1 322.5,54.9 322.1,54.5 321.7,54.1 321.4,53.8 321.1,53.5 320.8,53.2 320.6,52.9 320.4,52.7 320.1,52.9 319.3,54.7 320.1,55 320.6,55.2 321,55.5 321.4,55.8 321.7,56.3 321.9,56.8 322,57.3 322,57.8 321.9,58.4 321.7,58.8 321.4,59.3 321,59.7 320.6,60 320.1,60.2 319.6,60.3 319,60.3 318.5,60.2 316.6,59.6 315.4,61.2 313.2,63.8 312.8,64.2 312.4,64.5 311.8,64.7 311.3,64.8 310.7,64.8 310.2,64.6 309.7,64.4 309.2,64.1 308.8,63.7 308.5,63.2 308.3,62.7 308.3,62.2 308.3,61.6 308.4,61.1 308.6,60.5 308.9,60.1 310.9,57.8 311.3,57.3 310.9,57.1 308.6,55.6 307.8,55 307.5,55.3 307.1,55.4 306.7,55.5 306.2,55.6 305.6,55.6 305.2,55.5 304.6,55.3 304.3,55.1 304,54.9 303.5,54.6 303.2,54.3 302.9,54.1 302.3,54.2 302.5,54.6 303.1,56.8 303.6,59.2 303.9,61.8 303.9,64.5 303.9,65 303.8,65.5 303.5,65.9 303.4,66.3 306.1,68 306.5,68.4 306.8,68.8 307,69.2 307.2,69.7 307.3,70.2 307.2,70.7 307.1,71.2 306.8,71.7 306.5,72.1 306.1,72.4 305.7,72.7 305.2,72.8 304.7,72.9 304.1,72.8 303.7,72.7 303.2,72.4 300,70.4 296.9,68.1 293.9,65.7 291.1,63.1 289.8,61.9 289.6,62.2 289.4,62.4 289.2,62.7 289,63 288.7,63.4 288.5,63.7 288.1,64.3 287.9,64.6 287.7,64.9 287.5,65.3 287.3,65.6 287.1,65.9 286.9,66.2 286.7,66.6 286.5,66.9 287.3,67.4 289.9,69.1 292.4,70.9 294.9,72.8 297.2,75 297.6,75.4 298,75.9 298.2,76.5 298.3,77.1 298.2,77.7 298.1,78.3 297.8,78.8 297.5,79.3 297,79.7 296.5,80.1 296.7,80.7 296.8,81.2 297.1,81.3 297.7,81.6 298.1,82 298.5,82.5 298.8,83 298.9,83.6 299,84.2 298.9,84.8 298.7,85.3 298.4,85.9 298,86.3 297.5,86.7 297,87 293.6,87.9 293.7,88.3 293.8,88.7 294.3,88.9 294.8,89.2 295.2,89.6 295.5,90.1 295.8,90.6 295.9,91.2 295.9,91.8 296,92.1 296.4,92.5 296.7,92.9 296.9,93.2 297.3,93.7 297.5,94.1 297.6,94.7 297.6,95.2 297.6,95.7 297.4,96.2 297.1,96.7 296.8,97.1 295.8,97.9 295.8,98.5 295.7,99 295.5,99.5 295.2,99.9 294.9,100.2 294.5,100.5 294.4,103.2 294.3,104ZM313.3,111.5 313.6,111.8 313.8,112.1 314.1,112.4 314.3,112.7 314.5,113 314.8,113.3 315,113.5 316.6,111.9 318.3,110.2 320.1,108.6 322,107.2 322.5,106.9 323,106.7 323.5,106.6 324.1,106.7 324.6,106.8 325.1,107 325.6,107.3 325.9,107.7 326.2,108.2 326.4,108.7 326.5,109.3 326.5,109.8 326.3,110.3 326.1,110.8 325.8,111.3 325.4,111.7 323.6,112.9 322.1,114.3 320.7,115.6 319.5,117 320,117.2 320.6,117.6 321,117.8 321.3,118 321.7,118.2 322.3,118.6 322.7,118.7 323,118.9 323.4,119.1 323.7,119.3 324.1,119.4 324.7,118.4 326.1,115.4 327.7,112.5 328.5,111.2 328.5,110.6 328.6,110.2 328.8,109.7 329.1,109.3 329.5,109 329.9,108.7 331.2,107 330.8,106.8 328.8,105.5 326.8,104.3 324.8,103.1 324.3,103.1 322.2,104.4 322.1,105 321.9,105.5 321.7,105.9 321.4,106.2 321,106.5 320.6,106.7 320.1,106.8 319.6,106.8 319.2,106.8 319.1,107.2 318.9,107.6 318.6,108 318.3,108.3 317.9,108.5 317.5,108.6 317,108.7 316.6,108.7 316.2,108.6 314.1,110.4 313.1,111.2ZM329.1,121.1 329.7,121.2 330.5,121.2 331.2,121.2 331.9,121.1 332.6,121.1 333.2,121 332.3,118.7 331.2,116.6 330.6,117.7 329.3,120.4 329,121.1ZM338.4,119.3 338.7,119.1 339.3,118.7 339.7,118.5 340,118.3 340.3,118.1 340.6,117.9 340.9,117.7 341.2,117.5 341.5,117.3 341.8,117.1 342.1,116.8 342.4,116.6 342.7,116.4 343,116.1 343.3,115.9 342.8,115.4 340.7,113.1 340.1,112.4 339.5,112.4 339.1,112.2 338.7,112 337.6,111.3 336.2,110.3 335.4,109.8 334.3,111.4 334.6,111.9 335.8,114.2 337,116.6 338,119 338.1,119.4ZM346.3,111.9 346.6,111.2 346.8,110.6 347,110 347.1,109.5 347.1,109 347,108.4 346.9,107.6 346.8,107.3 346.7,106.9 346.6,106.4 346.5,106 346.2,105.9 345.9,105.7 344.9,104.9 344.1,104.3 343.5,103.9 341.9,103.1 340.3,103.6 341.2,105.4 342.6,107.7 344.3,109.9 346.1,111.8ZM350.6,100.6 351.1,100.6 351.6,100.5 352.2,100.5 352.8,100.6 353.4,100.7 353.8,100.8 354.3,100.9 354.7,101 355.6,98.7 356.2,96.4 357,94.1 357.1,93.7 354.7,94 350.9,94.3 350.5,94.3 350,94.2 349.6,94 349.2,93.7 348.8,93.4 348.6,93 348.4,92.5 348.3,92 348.3,91.6 348.4,91.1 348.6,90.6 348.9,90.3 349.2,89.9 349.6,89.7 350.1,89.5 350.6,89.4 353.8,89.2 353.9,88.7 354.1,88.3 354.3,88 354.3,87.4 354.1,87.1 353.8,86.7 353.6,86.3 353,86.2 351.4,86.1 349.4,88.2 348.9,88.6 348.4,88.9 347.8,89.1 347.2,89.2 346.6,89.2 346,89 345.5,88.7 345,88.4 344.6,87.9 344.3,87.4 344.1,86.8 344,86.2 344.1,85.6 344.2,85 344.5,84.5 344.9,84 346.6,82.1 346.9,81.5 347.1,81.1 346.9,80.7 346.8,80.1 345.3,81.3 344.9,81.6 344.5,81.9 344,82 343.5,82.1 342.9,82.1 342.6,82.5 342.1,84 341.8,84.9 341.6,85.4 341.3,85.8 340.9,86.1 340.5,86.4 341.1,86.9 342.9,88.1 344.4,89.1 345.5,89.9 345.9,90.2 346.2,90.6 346.4,91 346.6,91.5 346.6,92 346.5,92.5 346.4,93 346.1,93.5 345.8,93.9 345.4,94.2 345,94.4 344.5,94.6 344,94.6 343.5,94.5 343,94.4 342.5,94.1 341.5,93.4 340,92.4 338.3,91.3 336.6,90.2 335,89.2 333.3,88.2 331.5,87.2 331,87 331.7,87.4 332,87.6 332.5,87.8 332.8,88.2 333.5,88.7 335.2,90 336.9,91.2 338.6,92.3 340.4,93.4 342.1,94.5 343.9,95.7 345.7,97 347.5,98.3 349,99.5 350.1,100.3 350.3,100.5ZM360.8,101.8 361.5,101.6 362.2,101.4 362.9,101.2 363.5,101 363.2,100.6 361.5,98.8 361.1,100.1 360.6,101.8ZM367.2,96.2 367.3,95.5 367.3,94.8 367.4,94.1 367.4,93.3 367.4,92.6 367.4,92.2 365.8,92.5 363.8,92.8 364.9,94.3 367,96.4ZM366.3,87.2 366.2,86.8 366.1,86.4 366,86.1 365.9,85.7 365.8,85.3 365.7,84.9 365.6,84.5 364.3,84.9 360.8,85.7 359.4,85.9 359.6,86.2 360.8,88.3 361.4,88.3 364.9,87.7 366.4,87.4ZM363.2,78.6 363,78.2 362.9,77.9 362.7,77.6 362.5,77.3 362.3,77 362.1,76.6 361.9,76.3 360.5,77.3 357.7,79.8 359.6,79.6 362.5,79 363.3,78.7ZM357.8,71.4 357.5,71.1 357.2,70.8 357,70.5 356.7,70.3 356.4,70 356.1,69.7 355.9,69.5 355,70.6 352.7,73.3 350.6,75.7 350.3,76 349.9,76.4 349.4,77 350,77.1 351.3,77.3 353.3,75.4 356.3,72.7 357.8,71.4ZM314.6,51 313.9,51.2 313.3,51.3 312.6,51.5 313.5,52.3 314.1,52.6 314.8,51ZM297.5,56.3 297.2,56.5 296.8,56.7 296.5,56.8 296.1,57 295.8,57.2 295.4,57.4 295.1,57.5 294.8,57.7 294.4,57.9 294.1,58.1 293.8,58.3 294.6,59.3 297.3,61.6 298.5,60 298.1,58.1 297.6,56.3ZM283.5,72.8 283.3,73.1 283.1,73.5 283,73.8 282.9,74.2 282.7,74.5 282.6,74.9 282.5,75.2 282.4,75.6 283,76.1 285.9,76.7 287.8,77.1 288.9,76 286.5,74.3 284.2,72.8 283.6,72.5ZM281.1,81.8 281,82.6 281,83.4 282.1,83.4 285.3,83.2 286.9,83 284.7,82.5 281.8,81.9 281.1,81.8Z" fill="#f0f0f0" filter="url(#bw)"/>
<path d="M280.1,78.5 282.4,79 285.3,79.6 288.2,80.2 291,80.9 293.9,81.7 M288.2,80.2 290.7,77.9 M283.6,68.9 285.7,70.1 288.2,71.7 290.6,73.4 292.9,75.3 295.2,77.3 M290.6,58.9 292.8,61.2 295.6,63.6 298.4,66 301.5,68.2 304.6,70.2 M298.4,66 301,65.7 M299.4,53.7 300,55.3 300.6,57.5 301.1,59.7 301.3,62.1 301.3,64.5 M301.1,59.7 299.1,63.4 M308.6,52.1 310.1,53.3 312.1,54.7 314.4,55.8 316.7,56.8 319.3,57.6 M318.2,49.8 317.4,52 316.3,54.6 314.8,57.1 313.1,59.6 311.1,61.9 M326,53 327.5,54.4 329.2,56.3 330.8,58.4 332.2,60.7 333.4,63.2 M335.3,55.9 334.2,58.7 332.6,61.9 330.6,64.9 328.3,67.9 325.7,70.7 M330.6,64.9 327.3,66 M345.1,60.4 343.5,62.8 341.4,65.5 339.1,68 336.6,70.5 333.9,72.7 M354.8,66.5 352.9,68.9 350.6,71.6 348.3,74.3 345.9,76.9 343.4,79.4 M348.3,74.3 345.8,74.2 M361,72.7 358.4,75 355.5,77.7 352.6,80.4 349.8,83.2 347.1,86.1 M352.6,80.4 349.4,79.7 M366,81.1 363.3,81.9 360.1,82.7 356.7,83.1 353.2,83.1 349.6,82.9 M356.7,83.1 356,85.5 M368.5,89.5 365.4,90.1 361.7,90.7 358.1,91.2 354.4,91.6 350.8,91.8 M358.1,91.2 356.2,89.5 M367.1,100.3 365.1,98.5 362.8,96.1 360.7,93.5 358.8,90.7 357.1,87.6 M357.3,103.3 357.8,101.6 358.3,99.4 359,97.2 359.7,95 360.4,92.9 M359,97.2 362.7,95.5 M348.6,103.5 347,102.4 344.9,101.2 342.8,100.1 340.6,99.2 338.2,98.3 M342.8,100.1 338.7,101.4 M346.2,115.1 344.4,113.6 342.4,111.5 340.7,109.1 339,106.6 337.6,103.8 M336.2,121.8 335.6,120 334.6,117.7 333.6,115.4 332.4,113.2 331.1,111 M325.9,121.9 327,119.4 328.4,116.5 329.9,113.7 331.6,110.9 333.4,108.2 M316.2,116.6 317.2,115.3 318.7,113.7 320.2,112.2 321.9,110.8 323.7,109.4 M310,109.9 312,108.1 314.5,106 317.1,104 319.9,102.2 322.7,100.5 M317.1,104 319.7,104.4 M302.2,106.5 302.7,104.5 303.5,102.1 304.6,99.8 306.1,97.5 307.7,95.2 M304.6,99.8 307,98.5 M291.4,105.5 291.5,103.1 291.6,100.2 292,97.3 292.4,94.4 293,91.5 M292,97.3 294.9,95.1 M283.8,103.7 285.4,102 287.6,99.9 289.7,97.9 292,96 294.4,94.1 M289.7,97.9 293.2,98.2 M279.9,95.8 281.9,95.2 284.4,94.1 286.8,92.7 289.1,91 291.3,88.9 M286.8,92.7 290.1,95.5 M279.2,86.4 282.1,86.5 285.6,86.3 289,85.8 292.5,85.1 295.9,84.1 M289,85.8 291.8,82.5 M348,103 346.9,102.2 345.4,101 343.7,99.7 342,98.5 340.3,97.4 338.6,96.3 336.8,95.2 335,94 333.2,92.8 331.5,91.5 329.8,90.2 328,89 326.1,87.8 324.1,86.7 322.3,85.7 321,85 M309,75 310.2,75.8 312,76.9 314,78 316,79 318,79.6 320,80.1 322,80.5 324,81 325.8,81.7 327.6,82.4 329.3,83.2 331,84 332.8,84.9 334.6,85.9 336.3,87 338,88 339.7,89.1 341.4,90.2 342.9,91.3 344,92 M318,97 319.4,97.7 321.5,98.7 323.8,99.8 326,101 328,102.2 330.1,103.5 332.1,104.8 334,106 335.8,107.2 337.5,108.3 339,109.3 340,110 M318.9,98.2 318.5,99.2 317.9,100.7 317.4,102.2 317.2,103.7 317,105.3 317,106.4 M331,89.9 330.3,90.4 329.4,91 328.7,91.8 328.5,92.8 328.6,94 328.7,94.8 M341.4,76.4 341.2,77.5 340.9,78.9 340.6,80.3 340.2,81.8 339.7,83.1 339.4,84.1 M287.4,89.7 287.9,90.4 288.7,91.5 289.5,92.5 290.6,93.2 291.8,93.8 292.6,94.2" fill="none" stroke="#303030" stroke-width="1.1" stroke-linecap="round" stroke-linejoin="round"/>
<path d="M321.5,84 C322.5,84 325.8,86.3 328,87.6 C330.2,88.9 332.8,90.5 335,92 C337.2,93.5 339.2,95.1 341,96.5 C342.8,97.9 344.6,99 346,100.2 C347.4,101.4 349.5,102.8 349.5,103.5 C349.5,104.2 347.6,104.6 346,104.2 C344.4,103.8 342.1,102.5 340,101.3 C337.9,100.1 335.7,98.8 333.5,97.2 C331.3,95.7 328.9,93.6 327,92 C325.1,90.4 322.9,88.8 322,87.5 C321.1,86.2 320.5,84 321.5,84Z" fill="#fff" stroke="#222" stroke-width="0.8"/>
<path d="M326,89.5 L329,93 M331,92.5 L333.5,96 M336,95.5 L338,99" stroke="#555" stroke-width="1.1"/>
<path d="M287,67 C288.3,65.5 291.8,67.2 294,68 C296.2,68.8 298.3,70.5 300,72 C301.7,73.5 304,75.2 304,77 C304,78.8 301.7,81.5 300,83 C298.3,84.5 295.7,86 294,86 C292.3,86 291.3,84.5 290,83 C288.7,81.5 286.5,79.7 286,77 C285.5,74.3 285.7,68.5 287,67Z" fill="#4a4aa8" fill-opacity="0.56" />
<path d="M332.5,57 C333.3,55.9 336.1,55.1 338,55.2 C339.9,55.3 342.4,56.5 344,57.5 C345.6,58.5 347,59.6 347.5,61 C348,62.4 347.9,65 347,66 C346.1,67 343.8,67.1 342,67 C340.2,66.9 337.5,66.3 336,65.5 C334.5,64.7 333.6,63.4 333,62 C332.4,60.6 331.7,58.1 332.5,57Z" fill="#4a4aa8" fill-opacity="0.6" />
<path d="M333.8,61.5 C334.6,60.3 336.1,59.1 337.5,58.8 C338.9,58.5 340.8,59.1 342,59.8 C343.2,60.5 344.2,61.7 344.8,63 C345.4,64.3 345.1,66.2 345.5,67.5 C345.9,68.8 346.7,69.8 347.5,70.5 C348.3,71.2 349.8,71 350.5,71.8 C351.2,72.6 352.2,74.4 352,75.5 C351.8,76.6 350.1,78.2 349,78.5 C347.9,78.8 346.8,77.3 345.5,77.2 C344.2,77.1 342.9,78.3 341.5,78 C340.1,77.7 338.2,76.7 337,75.5 C335.8,74.3 335.2,72.6 334.5,71 C333.8,69.4 333.1,67.6 333,66 C332.9,64.4 333.1,62.7 333.8,61.5Z" fill="#1cb8f2" fill-opacity="1.0" />
<path d="M349,95 C350,93.9 352.7,94 354,94.5 C355.3,95 356.7,96.6 357,98 C357.3,99.4 357,101.8 356,103 C355,104.2 352.3,105.3 351,105 C349.7,104.7 348.3,102.7 348,101 C347.7,99.3 348,96.1 349,95Z" fill="#4a4aa8" fill-opacity="0.6" />
<path d="M12,110 11.6,109.7 11.3,109.5 11.1,109.1 10.9,108.8 10.5,108.9 10.1,108.9 9.6,108.9 9.2,108.8 8.9,108.5 8.6,108.2 8.4,107.9 8.2,107.6 7.9,107.3 7.7,106.9 7.5,106.6 7.3,106.3 7.1,105.9 6.9,105.6 6.7,105.2 6.5,104.9 6.3,104.5 6.1,104.2 5.9,103.8 5.8,103.4 5.6,103.1 5.5,102.7 5.4,102.3 5.5,101.9 5.6,101.4 5.8,100.9 5.9,100.5 5.6,100.2 5.2,99.9 4.8,99.6 4.5,99.2 4.4,98.9 4.3,98.5 4.2,98.1 4.1,97.7 4,97.3 3.9,96.9 3.8,96.5 3.7,96.1 3.6,95.7 3.6,95.3 3.5,95 3.4,94.6 3.3,94.2 3.3,93.8 3.2,93.4 3.2,93 3.1,92.2 3.3,91.8 3.6,91.4 3.8,91 4.1,90.6 3.8,90.2 3.6,89.8 3.3,89.4 3.1,89 3.2,88.2 3.2,87.8 3.3,87.4 3.4,87 3.4,86.6 3.5,86.2 3.6,85.8 3.7,85.5 3.8,85.1 3.9,84.7 4.1,84.3 4.2,83.9 4.3,83.5 4.4,83.2 4.6,82.8 4.7,82.4 5.1,82.2 5.6,81.9 6,81.7 6.4,81.5 6.3,81 6.3,80.5 6.2,80.1 6.2,79.6 6.4,79.2 6.6,78.9 6.8,78.5 7,78.2 7.2,77.8 7.4,77.5 7.6,77.2 7.8,76.8 8,76.5 8.2,76.1 8.4,75.8 8.6,75.4 8.9,75.1 9.1,74.8 9.5,74.6 10,74.4 10.4,74.2 10.9,74 10.9,73.6 10.9,73.1 10.8,72.6 10.8,72.1 11,71.8 11.2,71.4 11.5,71.1 11.7,70.7 11.9,70.4 12.1,70 12.2,69.7 12.4,69.3 12.6,69 12.8,68.6 13,68.3 13.2,67.9 13.4,67.6 13.6,67.2 13.8,66.9 13.9,66.5 14.1,66.2 14.3,65.8 14.5,65.5 14.7,65.1 15.2,64.9 15.6,64.7 16,64.5 16.5,64.3 16.4,63.8 16.4,63.4 16.4,62.9 16.4,62.4 16.6,62.1 16.8,61.7 17.1,61.4 17.3,61.1 17.5,60.7 17.7,60.4 18,60.1 18.2,59.7 18.4,59.4 18.6,59.1 18.9,58.8 19.1,58.4 19.3,58.1 19.6,57.8 19.8,57.5 20.1,57.2 20.3,56.8 20.6,56.5 20.9,56.2 21.3,56.1 21.8,56 22.3,55.9 22.7,55.8 22.8,55.4 22.9,54.9 23,54.4 23.1,54 23.4,53.7 23.7,53.4 24,53.2 24.3,52.9 24.6,52.7 25,52.4 25.3,52.2 25.6,52 25.9,51.7 26.2,51.5 26.6,51.3 26.9,51 27.2,50.8 27.6,50.6 27.9,50.4 28.2,50.1 28.6,49.9 29,49.9 29.5,50 30,50 30.5,50 30.7,49.5 30.9,49.1 31.1,48.7 31.3,48.2 31.6,48 32,47.8 32.3,47.6 32.7,47.4 33,47.2 33.4,47 33.7,46.8 34.1,46.7 34.4,46.5 34.8,46.3 35.1,46.1 35.5,45.9 35.8,45.7 36.2,45.5 36.5,45.3 36.9,45.2 37.3,45 37.7,45 38.2,45.1 38.7,45.2 39.2,45.2 39.4,44.8 39.6,44.4 39.9,44 40.1,43.5 40.5,43.4 40.8,43.2 41.2,43 41.5,42.8 41.9,42.6 42.2,42.4 42.6,42.2 42.9,42.1 43.3,41.9 43.7,41.7 44,41.5 44.4,41.3 44.7,41.2 45.1,41 45.5,40.9 45.9,41 46.4,41.1 46.9,41.2 47.3,41.3 47.6,41 47.9,40.6 48.2,40.2 48.5,39.9 48.9,39.8 49.3,39.7 49.7,39.6 50.1,39.5 50.5,39.5 50.9,39.4 51.3,39.4 51.7,39.3 52.5,39.2 53.2,39.1 54.1,39.3 54.5,39.6 54.9,39.8 55.3,40.1 55.7,39.8 56.1,39.5 56.4,39.2 56.8,39 57.6,39 58.4,39 59.2,39.1 60,39.2 60.4,39.3 60.8,39.3 61.2,39.4 61.6,39.5 62,39.6 62.4,39.6 62.8,39.7 63.2,39.8 63.5,40.2 63.8,40.5 64.1,40.9 64.5,41.3 64.9,41.1 65.4,40.9 65.8,40.8 66.3,40.6 66.7,40.7 67.1,40.8 67.4,40.9 67.8,41 68.2,41.1 68.6,41.1 69,41.2 69.4,41.3 69.8,41.4 70.2,41.5 70.6,41.6 71,41.7 71.3,41.7 71.7,41.8 72.1,41.9 72.5,42 72.9,42.1 73.3,42.2 73.6,42.5 74,42.9 74.3,43.3 74.6,43.6 75,43.4 75.5,43.3 76,43.1 76.4,42.9 76.8,43 77.2,43.2 77.6,43.3 78,43.4 78.3,43.5 78.7,43.6 79.1,43.7 79.5,43.8 79.9,44 80.2,44.1 80.6,44.2 81,44.3 81.4,44.5 81.8,44.6 82,45 82.3,45.4 82.6,45.8 82.9,46.2 83.3,46.1 83.8,46 84.3,45.8 84.7,45.7 85.1,45.9 85.5,46 85.9,46.2 86.2,46.3 86.6,46.5 87,46.7 87.3,46.8 87.7,47 88.1,47.1 88.4,47.3 88.8,47.5 89.2,47.6 89.5,47.8 89.9,48 90.2,48.1 90.6,48.3 91,48.5 91.3,48.7 91.7,48.8 91.9,49.3 92.1,49.7 92.4,50.1 92.6,50.5 93.1,50.5 93.6,50.4 94,50.4 94.5,50.3 94.9,50.5 95.2,50.7 95.6,50.9 95.9,51.1 96.3,51.3 96.6,51.5 97,51.7 97.3,51.9 97.7,52.1 98,52.3 98.4,52.5 98.7,52.7 99.1,52.9 99.4,53.1 99.7,53.3 99.9,53.7 100.1,54.2 100.3,54.6 100.5,55 101,55 101.5,55 102,55 102.5,55 102.8,55.2 103.1,55.4 103.5,55.6 103.8,55.9 104.1,56.1 104.4,56.3 104.8,56.5 105.1,56.8 105.4,57 105.8,57.2 106.1,57.4 106.4,57.7 106.7,57.9 107.1,58.1 107.4,58.4 107.6,58.8 107.7,59.3 107.9,59.7 108,60.2 108.5,60.2 109,60.2 109.5,60.3 109.9,60.3 110.3,60.6 110.6,60.8 110.9,61.1 111.2,61.3 111.5,61.6 111.8,61.9 112.1,62.1 112.4,62.4 112.7,62.7 113,62.9 113.2,63.2 113.5,63.5 113.8,63.8 113.9,64.3 113.9,64.8 114,65.2 114.1,65.7 114.5,65.8 115,65.9 115.5,66.1 115.9,66.2 116.2,66.5 116.4,66.8 116.7,67.1 116.9,67.4 117.2,67.7 117.4,68.1 117.6,68.4 117.9,68.7 118.1,69 118.3,69.4 118.6,69.7 118.8,70 119,70.4 119.2,70.7 119.4,71.1 119.6,71.4 119.8,71.7 120,72.1 120.2,72.4 120.4,72.8 120.6,73.2 120.5,73.6 120.4,74.1 120.4,74.6 120.3,75 120.7,75.3 121.1,75.5 121.5,75.8 121.9,76.1 122,76.5 122.2,76.8 122.3,77.2 122.4,77.6 122.5,78 122.7,78.3 122.8,78.7 122.9,79.1 123,79.5 123.1,79.9 123.2,80.3 123.3,80.7 123.4,81 123.5,81.4 123.6,81.8 123.7,82.2 123.8,82.6 123.8,83 123.9,83.4 123.7,83.8 123.5,84.3 123.3,84.7 123.1,85.2 123.5,85.5 123.8,85.8 124.2,86.2 124.5,86.5 124.5,86.9 124.6,87.3 124.7,88.1 124.8,88.9 124.9,89.7 125,90.5 125,91.3 125.1,92.1 125.1,92.9 125.1,93.7 125.1,94.5 124.9,94.9 124.6,95.3 124.3,95.7 124,96.1 124.3,96.5 124.5,96.9 124.8,97.3 125,97.7 124.9,98.5 124.8,99.3 124.8,99.7 124.7,100.1 124.7,100.5 124.6,100.9 124.5,101.3 124.4,101.7 124.3,102 124.2,102.4 124.1,102.8 124,103.2 123.9,103.6 123.8,104 123.7,104.4 123.6,104.7 123.2,105 122.8,105.3 122.4,105.6 122,105.9 122.2,106.3 122.3,106.8 122.4,107.3 122.5,107.8 122.3,108.1 122.2,108.5 122,108.9 121.9,109.2 121.7,109.6 121.5,110 121.4,110.3 121.2,110.7 121,111 120.8,111.4 120.6,111.7 120.4,112.1 120.2,112.4 119.8,112.6 119.3,112.8 118.9,112.9 118.4,113 118.4,113.5 118.3,113.9 118.3,114.4 118.2,114.9 117.9,115.1 117.5,115.4 117.2,115.6 116.9,115.8 116.6,116.1 116.2,116.3 115.9,116.5 115.6,116.7 115.2,116.9 114.8,117.1 114.5,117.2 114.1,117.4 113.8,117.6 113.4,117.7 113,117.8 112.6,118 112.2,117.8 111.7,117.7 111.3,117.5 110.9,117.3 110.6,117.6 110.2,117.9 109.9,118.2 109.5,118.5 108.7,118.5 107.9,118.5 107.1,118.4 106.7,118.3 106.3,118.2 105.9,118.2 105.5,118.1 105.1,118 104.7,117.9 104.3,117.8 104,117.7 103.6,117.6 103.2,117.5 102.8,117.4 102.5,117 102.2,116.6 101.9,116.3 101.6,115.9 101.1,116 100.7,116.1 100.2,116.3 99.8,116.4 99.4,116.3 99,116.1 98.6,116 98.3,115.8 97.9,115.6 97.5,115.5 97.2,115.3 96.8,115.1 96.5,114.9 96.1,114.7 95.8,114.5 95.4,114.4 95.1,114.2 94.7,114 94.5,113.5 94.3,113.1 94.1,112.6 93.9,112.2 93.4,112.3 92.9,112.3 92.4,112.4 91.9,112.5 91.5,112.3 91.2,112.1 90.8,112 90.4,111.8 90.1,111.7 89.7,111.5 89.3,111.4 89,111.2 88.6,111.1 88.2,110.9 87.8,110.8 87.5,110.6 87.1,110.5 86.7,110.3 86.4,110.2 86,110 85.6,109.8 85.3,109.7 84.9,109.5 84.5,109.3 84.2,109.2 83.8,109 83.4,108.9 83.1,108.7 82.7,108.5 82.4,108.3 82,108.2 81.6,108 81.3,107.8 80.9,107.6 80.6,107.4 80.3,107.2 79.9,106.9 79.6,106.7 79.3,106.5 79,106.2 78.7,105.9 78.4,105.6 78.2,105.3 77.9,105 77.6,104.7 77.4,104.4 77.1,104.1 76.8,103.8 76.6,103.5 76.3,103.3 76,103 75.7,102.7 75.4,102.4 75.1,102.2 74.8,101.9 74.6,101.6 74.3,101.3 74,101 73.7,100.8 73.4,100.5 73.1,100.2 72.8,99.9 72.5,99.7 72.2,99.4 71.9,99.2 71.6,98.9 71.2,98.7 70.9,98.5 70.6,98.3 70.2,98.1 69.8,97.9 69.5,97.8 69.1,97.6 68.7,97.5 68.4,97.3 68,97.2 67.6,97.1 67.2,96.9 66.8,96.8 66.5,96.7 66.1,96.6 65.7,96.5 65.3,96.4 64.9,96.3 64.5,96.2 64.1,96.1 63.8,96 63.4,95.9 63,95.8 62.6,95.7 62.2,95.6 61.8,95.5 61.4,95.4 61,95.3 60.7,95.2 60.3,95.1 59.9,95 59.5,94.9 59.1,94.7 58.7,94.6 58.3,94.5 58,94.4 57.6,94.3 57.2,94.2 56.8,94.1 56.4,94 56,93.9 55.6,93.8 55.3,93.7 54.9,93.6 54.5,93.5 54.1,93.4 53.7,93.3 53.3,93.2 53,93 52.6,92.9 52.2,92.8 51.8,92.7 51.4,92.6 51.1,92.4 50.7,92.3 50.3,92.1 49.9,92 49.6,91.8 49.2,91.6 48.9,91.4 48.5,91.2 48.2,90.9 47.9,90.7 47.6,90.5 47.3,90.2 47,89.9 46.7,89.7 46.4,89.4 46.1,89.2 45.8,88.9 45.4,88.7 45.1,88.5 44.8,88.3 44.4,88.1 44,88 43.2,88.1 42.8,88.2 42.5,88.5 42.2,88.7 42,89 41.7,89.3 41.4,89.6 41.1,89.9 40.8,90.1 40.5,90.4 40.2,90.6 39.8,90.8 39.4,91 39.1,91.2 38.7,91.3 38.4,91.5 38,91.7 37.6,91.8 37.3,92 36.9,92.2 36.5,92.3 36.2,92.5 35.8,92.6 35.4,92.8 35.1,93 34.7,93.2 34.4,93.3 34,93.5 33.7,93.7 33.3,93.9 33,94.1 32.6,94.3 32.3,94.5 31.9,94.7 31.6,95 31.3,95.2 30.9,95.4 30.6,95.6 30.3,95.9 30,96.1 29.6,96.3 29.3,96.6 29,96.8 28.7,97 28.3,97.3 28,97.5 27.7,97.8 27.4,98 27.1,98.2 26.8,98.5 26.4,98.7 26.1,99 25.8,99.2 25.5,99.5 25.2,99.7 24.9,99.9 24.5,100.2 24.2,100.4 23.9,100.7 23.6,100.9 23.3,101.2 23,101.4 22.6,101.7 22.3,101.9 22,102.2 21.7,102.4 21.4,102.6 21.1,102.9 20.8,103.1 20.4,103.4 20.1,103.7 19.8,103.9 19.5,104.2 19.2,104.4 18.9,104.7 18.6,105 18.3,105.3 18.1,105.5 17.8,105.8 17.5,106.1 17.2,106.3 16.9,106.6 16.6,106.9 16.3,107.2 16,107.4 15.7,107.7 15.4,108 15.1,108.2 14.8,108.5 14.5,108.7 14.1,108.9 13.8,109.2 13.5,109.4 13.1,109.6 12.8,109.8 12.4,109.9Z" fill="#7a7a7a" stroke="#151515" stroke-width="0.9"/>
<path d="M5.6,94.2 5.7,94.9 5.8,95.3 5.9,95.6 6,96 6,96.4 6.1,96.8 7.7,96.4 11.4,94.9 10.5,94.6 6.7,94.2 5.6,94.1ZM22.9,98.7 23.2,98.5 23.5,98.2 24.1,97.7 23.7,97.8 23,97.8 22.3,97.7 22.4,98.1 22.6,98.8ZM28,94.8 28.3,94.5 28.7,94.3 29,94.1 29.7,93.6 30,93.4 30.4,93.1 30.7,92.9 31.1,92.7 31.5,92.4 31.8,92.2 32.2,92 32.6,91.8 33,91.6 33.4,91.4 33.7,91.2 34.1,91 34.5,90.8 34.9,90.7 35.3,90.5 35.6,90.3 36,90.1 36.4,90 36.7,89.8 37.1,89.7 37.5,89.5 37.8,89.3 38.1,89.2 38.5,89 39,88.7 39.4,88.4 39.9,88.1 40.1,87.8 40.4,87.5 40.7,87.2 41,86.9 41.6,86.5 41.9,86.2 42.3,86.1 42.8,85.9 43.2,85.8 43.6,85.8 44.3,85.8 44.9,86 45.6,86.2 46.2,86.5 46.7,86.9 47.1,87.2 47.4,87.4 47.8,87.8 48.1,88 48.4,88.3 48.7,88.5 49,88.7 49.2,89 49.5,89.2 50.1,89.5 50.6,89.8 51.1,90.1 51.5,90.2 51.8,90.4 52.2,90.5 52.5,90.6 52.9,90.7 53.2,90.8 53.6,90.9 54,91.1 54.3,91.2 54.7,91.3 55.1,91.4 55.5,91.5 55.8,91.6 56.2,91.7 56.6,91.8 57.4,92 57.8,92.1 58.1,92.2 58.5,92.3 58.9,92.4 59.3,92.5 59.7,92.6 60.1,92.7 60.5,92.9 60.9,93 61.3,93.1 61.6,93.2 62,93.3 62.4,93.4 62.8,93.5 63.1,93.6 63.5,93.7 63.9,93.8 64.3,93.9 64.7,94 65.1,94.1 65.5,94.2 65.9,94.3 66.3,94.4 66.7,94.5 67.1,94.6 67.5,94.7 67.9,94.8 68.3,95 68.7,95.1 69.1,95.2 69.9,95.5 70.4,95.8 70.8,95.9 71.2,96.1 71.6,96.4 72,96.6 72.4,96.9 72.8,97.1 73.2,97.4 73.5,97.7 73.9,98 74.2,98.2 74.6,98.6 74.9,98.8 75.2,99.2 75.5,99.4 75.8,99.8 76.1,100 76.4,100.3 76.7,100.6 76.9,100.9 77.2,101.1 77.5,101.4 77.8,101.7 78.1,102 78.4,102.3 78.7,102.6 79,102.9 79.3,103.3 79.6,103.6 79.8,103.9 80.1,104.1 80.3,104.4 80.7,104.8 81.2,105.2 81.8,105.5 82,105.7 82.4,105.9 82.7,106 83,106.2 83.3,106.4 83.7,106.5 84,106.7 84.4,106.9 84.7,107 85.1,107.2 85.4,107.3 85.8,107.5 86.2,107.7 86.5,107.8 86.9,108 87.3,108.1 87.6,108.3 87.9,108.4 88.3,108.6 88.7,108.7 89,108.9 89.4,109 89.8,109.2 90.1,109.3 90.5,109.5 90.9,109.6 91.3,109.8 92.3,108.4 94,105.1 95.3,102.7 94.2,100.4 94,99.9 94,99.3 94,98.8 94.1,98.3 94.4,97.8 94.7,97.4 95.1,97 95.5,96.7 96.1,96.5 96.6,96.5 97.1,96.5 97.6,96.6 98.1,96.9 99.1,95.1 99.4,94.6 99.9,94.2 100.4,93.8 100.9,93.6 101.5,93.4 102.2,93.4 102.8,93.5 103.4,93.7 103.6,93.5 103.9,92.9 104.1,92.6 104.1,92.1 104.1,91.4 104.2,90.8 104.4,90.2 104.6,89.9 104.8,89.6 105,89.4 105.3,89.1 105.6,88.9 105.8,88.8 106.5,88.5 107.1,88.4 107.8,88.4 108.4,88.5 110,89.1 109.7,86.4 109.5,85.7 109.3,85.2 109.1,84.7 109.1,84.1 109.1,83.6 108.2,81.2 105,81.4 100.2,81.5 99.6,81.5 99.1,81.3 98.6,81.1 98.1,80.7 97.8,80.3 97.5,79.8 97.3,79.3 97.3,78.7 97.3,78.1 97.4,77.6 97.7,77.1 97.9,76.8 97.6,76.4 97.3,75.9 97.1,75.3 97,74.7 97,74.1 97.2,73.5 97.4,73 96.8,73.2 96.2,73.3 95.6,73.3 95,73.2 94.4,72.9 93.9,72.5 93.5,72.1 93.2,71.6 93,71 92.9,70.4 92.9,69.8 93.1,68.2 91,67.3 87.9,66.3 84.6,65.6 81.2,65 79.5,64.7 79.4,65.4 79.1,66 78.7,66.5 78.5,66.8 78.2,67 77.8,67.4 77.6,67.6 77.3,67.8 77,67.9 76.3,68.1 75.6,68.2 75,68.2 74.3,68 74,67.8 73.7,67.6 73.4,67.4 73.2,67.2 72.9,67 72.7,66.7 72.6,66.4 72.4,66.1 72.2,65.5 72.1,64.8 72.2,64.1 69.9,63.9 66,63.8 62.2,64 58.8,64.4 56.4,64.8 56,65.3 55.6,65.6 55.1,65.9 54.6,66 54,66.1 53.5,66 52.9,65.9 52.6,65.7 52.1,65.8 49.4,66.7 49.5,67.1 49.6,67.5 49.6,68 49.5,68.5 49.3,68.9 49.1,69.3 48.8,69.7 48.4,69.9 47.9,70.1 47.5,70.2 47,70.2 46.5,70.1 45.3,69.7 44,69.1 43,69.4 40.2,70.9 37.8,72.4 35.6,74.3 33.4,76.4 31.6,78.5 30.2,80 29.8,80.4 29.3,80.7 28.7,80.9 28.1,81 27.6,81 27,80.8 26.5,80.6 26,80.2 25.6,79.8 25.3,79.3 25.1,78.7 25,78.1 25,77.6 25.2,77 25.4,76.5 25.8,76 27.1,74.5 27.6,74 25.8,73.1 22.8,71.5 19.8,69.8 16.9,68.1 15.9,67.5 15.7,67.9 15.5,68.3 15.3,68.6 15.1,69 14.9,69.3 14.8,69.7 14.6,70 14.4,70.4 14.2,70.7 14,71.1 13.8,71.5 15.7,72.8 16.7,73.2 17.2,72.9 19,72 20.2,71.5 20.7,71.3 21.3,71.2 21.8,71.3 22.4,71.4 22.9,71.6 23.3,72 23.7,72.4 24,72.9 24.1,73.4 24.2,74 24.2,74.5 24,75.1 23.8,75.6 23.4,76 23.7,76.6 23.9,76.9 24.1,77.2 24.3,77.8 24.4,78.5 24.4,79.2 24.2,79.8 23.9,80.5 23.7,80.8 23.5,81 23.3,81.3 23,81.5 22.7,81.7 22.4,81.8 21.8,82.1 21.1,82.2 20.4,82.1 19.7,82 18.7,81.6 18.5,82 18.2,82.4 18.4,82.7 18.7,83.1 18.9,83.6 18.9,84.1 18.9,84.6 18.8,85 18.9,85.6 20.4,86.7 20.9,87.1 21.3,87.6 21.5,88.2 21.7,88.7 21.7,89.3 22.2,89 22.8,88.7 23.4,88.5 24.1,88.5 24.6,88.5 24.6,87.5 24.7,87 24.8,86.5 25.1,86.1 25.4,85.7 25.8,85.4 26.3,85.1 26.8,85 27.3,85 27.8,85 28.3,85.2 28.7,85.4 29.1,85.8 29.4,86.2 29.7,86.6 29.8,87.1 29.8,87.6 29.8,88.6 29.7,90 29.5,91.6 29.3,92 28.7,93.4 28.5,93.7 27.8,94.8ZM97.2,112.8 97.5,113 97.8,113.2 98.2,113.3 98.5,113.5 98.9,113.7 99.2,112.9 100.1,109.8 100.7,107.5 100.3,106.9 99.7,108 97.9,111.4 97.2,112.8ZM105.3,115.8 106,115.9 106.7,116.1 106.9,115.7 105.8,112.8 105.3,114.7 105,115.7ZM113.9,115.1 114.2,114.9 114.5,114.8 114.8,114.6 113.9,113.6 113,112.6 113.3,113.5 113.4,113.8 113.8,115.1ZM119.6,109 119.7,108.7 118.2,107.9 118.6,108.5 119.5,109.2ZM122.1,101.9 122.4,100.8 122.5,100.1 122.6,99.4 121.3,99.2 117.5,98.6 115.5,98.1 118,99.9 121.1,101.7 122.1,102.1ZM122.9,92.2 122.8,91.5 122.8,90.7 122.7,89.9 122.6,89.2 122.5,88.4 122.2,88.2 119.6,88.3 118.9,88.3 118.3,89.5 118,90 117.6,90.5 117.1,90.8 116.6,91.1 116,91.2 118.7,91.9 122,92.4 122.9,92.5ZM121.3,81.9 121.2,81.2 121,80.5 120.9,80.1 120.8,79.7 120.7,79.4 120.6,79 120.4,78.6 120.3,78.3 118.4,78.8 114.5,79.9 114.3,80.2 114.8,81.8 115.2,81.9 116.8,82.1 117.3,82.1 117.9,82.2 119.5,82.3 121.4,82.3ZM117.9,72.8 117.7,72.5 117.5,72.2 117.3,71.9 116.9,71.2 116.7,70.9 116.5,70.6 116.3,70.3 116.1,70 115.9,69.7 115.6,69.4 115.4,69.1 115.2,68.8 114.2,69.6 113.1,70.4 113.6,70.2 114,70.2 114.5,70.2 115,70.4 115.4,70.6 115.8,70.9 116.1,71.3 116.3,71.7 116.5,72.2 116.5,72.7 116.5,73.4 117.9,72.8ZM110.9,64 110.6,63.8 110.3,63.5 110,63.2 109.2,63.8 106.8,66.2 105.7,67.1 105.9,67.9 107.6,66.7 110.3,64.8 111,64.2ZM104.5,59 104.2,58.8 103.9,58.6 103.5,58.3 103.2,58.1 102.9,57.9 102.3,58.3 101.1,61.1 100.6,62.7 102.3,61.4 104.3,59.4 104.6,59.1ZM97.3,54.4 96.9,54.2 96.6,54 96.2,53.8 95.9,53.6 95.6,53.4 95.2,53.2 94.9,53 94.3,53.7 92.4,56.4 90.3,59 88.9,60.4 89.4,60.5 92.9,61.6 94.2,62.2 95.2,59.1 96.6,55.7 97.3,54.4ZM88.9,50 88.6,49.8 88.2,49.6 87.9,49.5 87.5,49.3 87.2,49.2 86.5,48.8 86.1,48.7 85.7,48.5 85,50.3 83.5,54.3 82,58.2 81.8,58.7 83.6,57.1 84.5,56.1 84.7,55.8 85.6,54.7 86.3,53.9 86.6,53.5 87,53.2 87.5,52.8 89,50.5 89.3,50.1ZM79.2,46 78.8,45.9 78.4,45.8 78.1,45.7 77.7,45.6 77.4,47 77.2,50.9 78.5,47.9 79.2,46.1ZM70.9,43.9 70.5,43.8 70.1,43.7 69.7,43.6 68.9,43.5 68.5,43.4 68.1,43.3 67.7,43.2 67.3,43.1 67,43 66.6,44.7 65.9,48.7 65.4,51.6 66.3,52.6 66.6,53 66.8,53.5 66.9,54 66.9,54.6 66.8,55.1 66.6,55.6 66.3,56 65.9,56.4 65.4,56.7 64.9,56.9 64.8,57.9 65.8,57.8 70,57.9 71.2,57.9 70.9,55.8 70.6,51.1 70.8,46.5 71.2,44ZM61.2,41.6 60.4,41.5 59.7,41.4 59,41.3 58.4,41.2 58.6,44.3 58.7,46 59.4,46.5 59.8,46.8 60.1,47.2 60.3,47.6 61,43.7 61.5,41.7ZM52,41.5 51.2,41.6 51.6,43.3 52.5,45.9 52.4,44.7 52.3,41.9 52.2,41.4ZM44.3,43.8 44,44 43.6,44.2 43.3,44.4 42.9,44.6 42.6,44.8 43.3,46.4 45,50 46.5,53.8 47.9,57.5 48.9,60.6 50.4,60.1 50.8,60 49.9,57.9 48.2,53.8 46.6,49.7 45.1,45.6 44.5,43.7ZM36.5,47.9 36.1,48 35.8,48.2 35.5,48.4 35.1,48.6 34.8,48.8 34.4,49 34.1,49.1 34.3,49.4 36,51.6 37.8,53.7 39.7,55.5 39.9,55 39,52.6 37.4,49.2 36.7,47.7ZM28.1,52.8 27.8,53.1 27.5,53.3 27.2,53.5 26.9,53.7 26.6,54 26.3,54.2 26,54.4 27.6,55.9 29.5,57.3 31.4,58.7 31.4,58 31.6,57.4 30.8,56.1 28.8,53.6 28.2,52.8ZM21.3,59.1 21.1,59.4 20.9,59.7 20.7,60 20.4,60.4 20.2,60.7 20,61 19.8,61.3 19.5,61.6 19.3,61.9 19.1,62.3 19.9,62.9 22.8,64.5 25.7,66.1 28.6,67.7 31.5,69.2 31.9,69.5 34.1,67.7 34.4,67.5 37.1,65.8 37.9,65.3 37.7,64.9 37.6,64.4 37.7,64 37.8,63.5 38,63.1 37.5,62.8 35.7,61.2 35.4,61.4 34.8,61.5 34.8,62.1 34.8,62.7 34.8,63.3 34.6,63.9 34.3,64.5 33.9,65 33.4,65.4 32.8,65.7 32.2,65.9 31.6,66 31,65.9 30.4,65.7 29.8,65.4 27.7,64 25.6,62.5 23.6,60.9 21.6,59.2ZM9.9,77.6 9.7,77.9 9.5,78.3 9.3,78.6 9.1,79 8.9,79.3 9.6,79.7 10.2,80 10.7,80.1 12.1,80.3 13.2,80.6 13.2,80 13.4,79.4 12.6,79 10.3,77.8 9.9,77.5ZM6.1,85 6,85.3 5.9,85.7 5.7,86.4 5.6,87.1 7.2,87.3 10.9,87.7 9.2,86.7 6.6,85.2 6.2,84.9ZM42.1,62.7 42.6,62.9 42.5,62.2 42.2,62.7ZM57.6,58.5 59.1,58.3 59.2,56.2 59.7,52 59.9,50.5 59.5,50.8 59.2,51 59.3,52.3 59.3,53 59.2,53.5 59,54.1 58.7,54.6 58.2,55.1 57.7,55.4 57.3,55.8 56.9,56.2ZM110.6,73.5 111.4,74.6 111.5,73.5 111.6,72.4 111.7,72 111.9,71.5 112.1,71.1 111.2,71.8 109.9,72.6 110.4,73.2ZM99.4,71.4 99,71.7 99.4,71.4Z" fill="#b0b0b0" filter="url(#bw)"/>
<path d="M10.6,109.3 11.6,107.4 13.1,105.2 14.9,103.2 16.9,101.2 19.2,99.4 M14.9,103.2 17.7,102.5 M5.4,100.6 8.9,99.5 12.8,98 16.6,96.2 20.3,94.1 24,91.8 M16.6,96.2 18.8,97.8 M3.5,90.6 7,90.7 11,91.2 15.1,91.9 19.1,93 23.1,94.4 M5.9,81.2 8.1,82.4 10.8,84 13.5,85.6 16.1,87.4 18.6,89.2 M13.5,85.6 16.4,84.2 M10.4,73.7 12,74.7 14.1,75.9 16.3,76.9 18.6,77.9 20.9,78.7 M16.3,76.9 18.8,76 M16,64 18.4,65.5 21.3,67.2 24.2,68.8 27.2,70.4 30.2,71.9 M22.3,55.4 23.7,56.7 25.6,58.4 27.5,59.9 29.5,61.3 31.6,62.7 M30.2,49.5 31.6,51.5 33.4,53.8 35.3,56 37.5,58.1 39.8,60.2 M35.3,56 34.4,58.5 M38.9,44.7 40.4,47.8 42,51.4 43.4,55 44.8,58.7 46.1,62.4 M43.4,55 42,58 M47.1,40.8 48.3,44.4 49.8,48.5 51.4,52.5 53,56.5 54.8,60.5 M51.4,52.5 55,53.7 M55.3,39.5 55.4,41.7 55.5,44.5 55.7,47.2 56,49.9 56.2,52.7 M55.7,47.2 57.9,48.7 M64.6,40.7 63.8,44.2 63.1,48.2 62.5,52.2 62.1,56.3 61.8,60.5 M62.5,52.2 64.2,54.3 M74.7,43 74.1,46.7 73.9,50.9 74.2,55.3 74.9,59.8 76.2,64.4 M74.2,55.3 75.9,57.4 M83.1,45.6 81.8,49.1 80.3,53 78.7,56.9 77.2,60.8 75.6,64.7 M92.9,50 91.6,52.2 89.9,54.7 87.9,57 85.7,59.3 83.3,61.4 M100.8,54.5 99.5,57 98.2,60 97.2,63.2 96.4,66.6 96,70.2 M97.2,63.2 98.2,65.8 M108.4,59.7 106.7,61.7 104.5,63.8 102.1,65.8 99.5,67.6 96.6,69.2 M102.1,65.8 103.1,69.4 M114.5,65.3 112.2,67.2 109.4,69.3 106.4,71.2 103.3,73 100.1,74.5 M120.8,74.8 117.4,76.1 113.3,77.3 109.1,78.1 104.7,78.5 100.1,78.6 M109.1,78.1 105.8,76.3 M123.7,85.1 121.9,85.3 119.5,85.3 117.1,85.2 114.6,84.8 112.1,84.2 M117.1,85.2 115.6,88.1 M124.6,96.1 121.6,95.8 118,95.2 114.5,94.4 111,93.2 107.4,91.8 M114.5,94.4 112.4,91.3 M122.6,106.1 119.5,104.7 116.1,102.8 112.9,100.5 109.8,97.8 106.9,94.6 M112.9,100.5 111.9,97.3 M118.9,113.4 116.2,111 113.4,108 110.7,104.9 108.2,101.5 105.9,97.9 M110.7,104.9 110.9,101.9 M111,117.9 110.2,114.7 108.8,111 106.9,107.5 104.6,104.1 101.8,100.7 M101.4,116.4 102.2,113.8 103.1,110.6 104,107.5 104.8,104.3 105.5,101.1 M104,107.5 101.4,103.9 M93.6,112.7 95.1,109.9 96.8,106.6 98.6,103.3 100.3,99.9 101.9,96.6 M98.6,103.3 96.7,99.2 M28,78 29.3,76.5 31.2,74.4 33.5,72 36,70 38.7,68.3 41.6,66.7 44.8,65.2 48,64 51.3,63 54.8,62.1 58.3,61.4 62,61 65.9,60.8 70,60.9 74.1,61.1 78,61.5 81.7,62 85.2,62.6 88.7,63.4 92,64.5 95.3,65.8 98.4,67.4 101.4,69.1 104,71 106.2,73 108.1,75.2 109.7,77.5 111,80 112,82.8 112.6,85.9 113,89 113,92 112.7,94.9 112,97.9 111.1,100.6 110,103 108.6,105 106.8,106.7 105.1,108 104,109 M52.7,57.2 53.2,57.9 53.8,59 54.2,60.1 54.2,61.2 54.1,62.4 54,63.3 M21.4,74.1 20.2,74.6 18.7,75.3 17.4,76.3 16.7,77.7 16.3,79.4 16,80.6 M40.1,64.3 41,64.8 42.2,65.5 43.5,66.2 44.9,66.8 46.2,67.4 47.2,67.8 M88.2,55.5 87.6,56.3 86.7,57.4 86,58.6 85.5,60 85.2,61.4 84.9,62.4 M27.2,87.6 27.2,88.5 27.1,89.8 26.9,91.1 26.3,92.3 25.6,93.4 25.1,94.2 M114.1,72.7 114,73.8 113.8,75.3 113.4,76.8 112.7,78.2 111.8,79.4 111.1,80.3 M16.3,95.3 16.1,96.9 15.9,99.2 15.1,101.1 13.5,102.4 11.4,103.3 9.9,103.9 M10.2,82.7 11.6,83 13.6,83.4 15.2,84.3 16.2,85.8 16.7,87.8 17.1,89.2" fill="none" stroke="#303030" stroke-width="1.3" stroke-linecap="round" stroke-linejoin="round"/>
<path d="M40,82 C41.2,80.8 44.3,76.4 47,74.5 C49.7,72.6 52.2,71.5 56,70.5 C59.8,69.5 65.3,68.3 70,68.3 C74.7,68.3 79.7,68.9 84,70.3 C88.3,71.7 92.8,73.9 96,76.5 C99.2,79.1 101.8,82.6 103,86 C104.2,89.4 104,94 103.5,97 C103,100 100.6,102.8 100,104" fill="none" stroke="#8e8e8e" stroke-width="3.2" stroke-linecap="round"/>
<path d="M42,84.5 C43,83.3 45.7,79.2 48,77.5 C50.3,75.8 52.3,75.3 56,74.5 C59.7,73.7 65.3,72.6 70,72.6 C74.7,72.6 79.8,73.3 84,74.6 C88.2,75.9 92.2,78.1 95,80.5 C97.8,82.9 99.6,86.1 100.5,89 C101.4,91.9 101.1,95.7 100.5,98 C99.9,100.3 97.6,102.2 97,103" fill="none" stroke="#4a4a4a" stroke-width="0.9"/>
<path d="M44,108 C43.9,105 42.3,103.2 41,101.5 C39.7,99.8 37.7,98.7 36,98 C34.3,97.3 32.5,97.5 31,97.6 C29.4,97.7 28.2,98 26.7,98.7 C25.2,99.4 23.4,100.4 22,101.5 C20.6,102.6 19.2,104.2 18,105.5 C16.8,106.8 15.8,108.2 14.7,109.5 C13.6,110.8 12.3,111.6 11.5,113 C10.7,114.4 9.8,116.2 9.6,118 C9.3,119.8 9.5,121.8 10,123.5 C10.5,125.2 11.4,126.8 12.5,128 C13.6,129.2 15,130.3 16.5,130.8 C18,131.3 19.9,131.4 21.5,131 C23.1,130.6 24.4,129.6 26,128.5 C27.6,127.4 29.2,125.7 31,124.5 C32.8,123.3 34.8,122.3 36.5,121.5 C38.2,120.7 40.2,121.8 41.5,119.5 C42.8,117.2 44.1,111 44,108Z" fill="#858585" stroke="#1c1c1c" stroke-width="0.9"/>
<path d="M27,128 C27.7,125.9 29.8,124.9 31.5,124 C33.2,123.1 35.5,122.2 37,122.5 C38.5,122.8 39.8,124.3 40.3,126 C40.8,127.7 40.3,130.3 40,132.5 C39.7,134.7 39.4,137.3 38.5,139 C37.6,140.7 35.9,142.4 34.5,142.8 C33.1,143.2 31.2,142.6 30,141.5 C28.8,140.4 28,138.8 27.5,136.5 C27,134.2 26.3,130.1 27,128Z" fill="#a0a0a0" stroke="#1c1c1c" stroke-width="0.9"/>
<path d="M29,129 34,127 39.5,128 M28.5,133.5 34,132 39.8,133 M29.5,138 34,137.5 38.8,137.5" fill="none" stroke="#6a6a6a" stroke-width="0.8"/>
<path d="M39,113 C37.7,112.2 33.5,109.6 31,108 C28.5,106.4 25.2,104.2 24,103.5 M39,113 C37.3,112.7 32.3,111.8 29,111 C25.7,110.2 20.7,108.9 19,108.5 M39,113 C37,113.3 31.2,114.8 27,115 C22.8,115.2 16.2,114.6 14,114.5 M39,113 C36.8,114 30.2,117.2 26,119 C21.8,120.8 16,122.8 14,123.5 M39,113 C37.3,114.5 32.2,119.4 29,122 C25.8,124.6 21.5,127.4 20,128.5 M39,113 C38.3,111.7 36.2,107.2 35,105 C33.8,102.8 32.5,100.8 32,100 M31,108 27,107.5 M29,111 24,112.5 M27,115 22,117.8 M26,119 21,122.6" fill="none" stroke="#d2d2d2" stroke-width="1.4" stroke-linecap="round"/>
<path d="M41,104 C39.7,103.6 35.3,102.1 33,101.5 C30.7,100.9 28,100.4 27,100.2 M38,109.6 C36,109 29.5,106.5 26,106 C22.5,105.5 18.5,106.7 17,106.8 M37.5,114.2 C34.6,113.8 24.2,112 20,111.5 C15.8,111 13.3,111.5 12,111.5 M37.5,117 C34.6,117.2 24.4,118.1 20,118.5 C15.6,118.9 12.5,119.3 11,119.5 M38,119.4 C35.7,120.2 27.8,122.9 24,124.5 C20.2,126.1 16.5,128.2 15,129 M36,121.6 C34.7,122.4 30.2,125 28,126.5 C25.8,128 23.8,129.8 23,130.5" fill="none" stroke="#4a4a4a" stroke-width="0.9" stroke-linecap="round"/>
<path d="M42.6,86 C42.8,84.5 42.9,82.3 44,81 C45.1,79.7 47,78.8 49,78 C51,77.2 52.5,76.9 56,76.3 C59.5,75.7 65.3,74.3 70,74.3 C74.7,74.3 79.9,75 84,76.5 C88.1,78 92.1,80.7 94.6,83.5 C97.1,86.3 98.6,90.7 99,93.5 C99.4,96.3 98.3,98.8 97,100.5 C95.7,102.2 92.3,103.6 91,103.5 C89.7,103.4 88.6,101.1 89,100 C89.4,98.9 92.7,98.5 93.5,97 C94.3,95.5 94.8,93.1 94,91 C93.2,88.9 91.2,86.2 89,84.5 C86.8,82.8 84.2,81.4 81,80.5 C77.8,79.6 73.8,79.3 70,79.3 C66.2,79.3 61,79.9 58,80.5 C55,81.1 53.3,81.8 52,83 C50.7,84.2 50.8,86.6 50,88 C49.2,89.4 48.2,91.2 47,91.5 C45.8,91.8 43.7,90.9 43,90 C42.3,89.1 42.4,87.5 42.6,86Z" fill="#d2d2d2" stroke="#4a4a4a" stroke-width="0.8"/>
<path d="M52,84 C52.8,82.9 55,81.9 58,81.3 C61,80.7 66.2,80.2 70,80.2 C73.8,80.2 77.9,80.5 81,81.5 C84.1,82.5 86.8,84.2 88.5,86 C90.2,87.8 91.4,90.8 91.5,92.5 C91.6,94.2 90.1,95.7 89,96 C87.9,96.3 86.2,94.2 85,94.5 C83.8,94.8 83.2,97.4 82,97.5 C80.8,97.6 79.4,96.4 78,95 C76.6,93.6 74.8,90.8 73.5,89 C72.2,87.2 71.6,85.4 70,84.5 C68.4,83.6 66.2,83.4 64,83.5 C61.8,83.6 58.8,84.2 57,85 C55.2,85.8 53.8,88.2 53,88 C52.2,87.8 51.2,85.1 52,84Z" fill="#ffffff" stroke="#2a2a2a" stroke-width="0.7"/>
<path d="M46,91.5 C46.7,90.6 50.3,89.1 52,89 C53.7,88.9 55.7,90.2 56,91 C56.3,91.8 55.3,93.4 54,94 C52.7,94.6 49.3,94.9 48,94.5 C46.7,94.1 45.3,92.4 46,91.5Z" fill="#ffffff"/>
<path d="M44,106.7 C44.5,104.2 45.2,102 46.7,100 C48.2,98 51.9,96.5 53.3,94.7 C54.7,92.9 53.9,90.7 55,89 C56.1,87.3 58,85.3 60,84.5 C62,83.7 64.8,83.5 67,84 C69.2,84.5 71.7,85.8 73,87.5 C74.3,89.2 74.7,91.6 75,94 C75.3,96.4 75.5,99.7 74.7,102 C73.9,104.3 71.8,106.3 70,108 C68.2,109.7 65.2,110 64,112 C62.8,114 64,116.9 62.7,120 C61.4,123.1 58.5,127.6 56,130.7 C53.5,133.8 50,136 48,138.7 C46,141.4 45.5,145.4 44,146.7 C42.5,148 39.6,148.5 38.7,146.7 C37.8,144.9 38.3,139.8 38.7,136 C39.1,132.2 40.4,127.5 41.3,124 C42.2,120.5 43.5,117.6 44,114.7 C44.5,111.8 43.5,109.2 44,106.7Z" fill="#b9b9b9" stroke="#2a2a2a" stroke-width="0.8"/>
<path d="M55,89 C55.4,87.5 56.5,85.4 58,84.5 C59.5,83.6 62,83.4 64,83.5 C66,83.6 68.4,83.9 70,85 C71.6,86.1 73.2,88.2 73.5,90 C73.8,91.8 73.2,94.6 72,96 C70.8,97.4 68.2,98.3 66,98.5 C63.8,98.7 60.8,97.8 59,97 C57.2,96.2 56.2,94.8 55.5,93.5 C54.8,92.2 54.6,90.5 55,89Z" fill="#8f8f8f" stroke="#5a5a5a" stroke-width="0.6"/>
<path d="M56,104 C57.2,101.8 60,101 62,101 C64,101 67.3,101.8 68,104 C68.7,106.2 67.3,111.3 66,114 C64.7,116.7 61.8,120 60,120 C58.2,120 55.7,116.7 55,114 C54.3,111.3 54.8,106.2 56,104Z" fill="#a8a8a8"/>
<path d="M26,68 C26.9,66.6 30.1,65.7 32,65.5 C33.9,65.3 36.6,65.6 37.5,67 C38.4,68.4 37.9,71.8 37.5,74 C37.1,76.2 36.5,79 35,80 C33.5,81 29.9,81 28.5,80 C27.1,79 26.9,76 26.5,74 C26.1,72 25.1,69.4 26,68Z" fill="#4a4aa8" fill-opacity="0.56" />
<path d="M93,57 C93.7,55.7 97.2,58.5 98,60 C98.8,61.5 98.2,64.7 97.5,66 C96.8,67.3 94.8,69.5 94,68 C93.2,66.5 92.3,58.3 93,57Z" fill="#4a4aa8" fill-opacity="0.6" />
<path d="M104,70 C104.8,68.7 106.8,67.5 108,68 C109.2,68.5 110.7,70.7 111,73 C111.3,75.3 110.7,79.5 110,82 C109.3,84.5 108,87.7 107,88 C106,88.3 104.7,86 104,84 C103.3,82 103,78.3 103,76 C103,73.7 103.2,71.3 104,70Z" fill="#4a4aa8" fill-opacity="0.56" />
<path d="M100,106 C101.3,105.1 105.5,104.5 108,104.5 C110.5,104.5 113.7,105 115,106 C116.3,107 116.7,109.2 116,110.5 C115.3,111.8 112.7,113.4 111,113.5 C109.3,113.6 107.8,111.6 106,111 C104.2,110.4 101,110.8 100,110 C99,109.2 98.7,106.9 100,106Z" fill="#4a4aa8" fill-opacity="0.6" />
<path d="M83.5,55.5 C84.1,54.1 85.7,52.3 87,51.8 C88.3,51.3 90.4,51.7 91.5,52.5 C92.6,53.3 92.7,55.3 93.5,56.5 C94.3,57.7 95.6,58.2 96.5,59.5 C97.4,60.8 98.7,62.4 99,64 C99.3,65.6 99.1,67.8 98.5,69 C97.9,70.2 96.5,71.1 95.5,71 C94.5,70.9 93.3,69.6 92.5,68.5 C91.7,67.4 91.5,65.5 90.5,64.5 C89.5,63.5 87.7,63.2 86.5,62.5 C85.3,61.8 84,61.2 83.5,60 C83,58.8 82.9,56.9 83.5,55.5Z" fill="#1cb8f2" fill-opacity="1.0" />
<path d="M110,63.5 C110.2,62.3 111.9,62.2 112.5,63 C113.1,63.8 113.8,66.8 113.5,68 C113.2,69.2 111.6,70.8 111,70 C110.4,69.2 109.8,64.7 110,63.5Z" fill="#e8200c" fill-opacity="1.0" />
<path d="M108,80 C108.9,78.1 111.2,75.8 113,74.5 C114.8,73.2 117.6,71.8 119,72.5 C120.4,73.2 121.3,76.4 121.5,79 C121.7,81.6 121.1,85.3 120,88 C118.9,90.7 116.7,94.2 115,95 C113.3,95.8 111.2,94 110,92.5 C108.8,91 107.8,88.1 107.5,86 C107.2,83.9 107.1,81.9 108,80Z" fill="#ee2a0a"/>
<path d="M108.9,80.4 108.4,82.1 108.4,84.9 109,88 109.8,90.2 110.8,91.9 112.1,93.2 113.5,94.1 114.6,94.1 116,92.8 117.7,90.3 119.1,87.6 119.9,84.8 120.4,81.8 120.5,79.1 120.1,76.6 119.4,74.4 118.9,73.7 118.1,73.3 116.5,73.7 114.5,74.7 112.7,76 110.9,77.7Z" fill="#ff8800"/>
<path d="M112.2,82 111.9,83.8 112.2,86.1 113.1,88.7 113.8,89.8 115.2,87.3 116.4,84 116.9,80.3 116.7,77.6 114.2,79.4Z" fill="#ffd400"/>
<path d="M103.5,97 C104.6,95.8 107.8,95.9 110,96 C112.2,96.1 115.6,96.3 116.5,97.5 C117.4,98.7 116.8,101.8 115.5,103 C114.2,104.2 111,104.5 109,104.5 C107,104.5 104.4,104.2 103.5,103 C102.6,101.8 102.4,98.2 103.5,97Z" fill="#ee2a0a"/>
<path d="M104.5,97.9 104.1,99.9 104.3,101.8 104.8,102.5 106.1,102.9 110,103.2 113.3,102.7 114.6,102 115.5,100 115.4,98.3 113.5,97.6 107.6,97.3 105.5,97.5Z" fill="#ff7000"/>
<path d="M105.5,98.8 105.4,99.9 105.6,101.4 108.1,101.9 111,101.8 113.5,101.2 114.1,100.4 114.3,99.2 109.9,98.6 107.7,98.6Z" fill="#ff9a00"/>
<path d="M12,301.5 11.2,301.5 10.8,301.4 10.4,301.3 10.1,301.1 9.8,300.9 9.4,300.6 9.2,300.3 8.9,300 8.6,299.7 8.4,299.4 8.2,299.1 8.2,298.6 8.2,298.1 8.2,297.7 8.2,297.2 7.8,297 7.3,296.8 6.9,296.6 6.5,296.4 6.3,296 6.1,295.7 5.9,295.3 5.8,294.9 5.6,294.6 5.5,294.2 5.4,293.8 5.2,293.4 5.1,293.1 5,292.7 4.9,292.3 4.8,291.9 4.7,291.5 4.6,291.1 4.5,290.7 4.4,290.4 4.3,290 4.2,289.6 4.4,289.1 4.5,288.7 4.7,288.2 4.9,287.8 4.5,287.4 4.2,287.1 3.8,286.8 3.5,286.5 3.4,286.1 3.3,285.7 3.3,285.3 3.2,284.9 3.2,284.5 3.1,283.7 3,282.9 3,282.1 3,281.3 3.1,280.5 3.2,279.7 3.2,279.3 3.3,278.9 3.6,278.6 4,278.2 4.3,277.9 4.7,277.6 4.5,277.2 4.3,276.7 4.2,276.3 4.1,275.8 4.2,275.4 4.3,275 4.4,274.7 4.6,274.3 4.7,273.9 4.9,273.6 5.1,273.2 5.2,272.8 5.4,272.5 5.6,272.1 5.8,271.8 6,271.4 6.2,271.1 6.4,270.7 6.6,270.4 6.8,270 7.2,269.8 7.7,269.6 8.1,269.4 8.6,269.2 8.5,268.7 8.5,268.3 8.5,267.8 8.4,267.3 8.6,266.9 8.9,266.6 9.1,266.3 9.3,265.9 9.5,265.6 9.7,265.3 10,264.9 10.2,264.6 10.4,264.3 10.6,263.9 10.8,263.6 11,263.3 11.2,262.9 11.5,262.6 11.7,262.2 11.9,261.9 12.1,261.5 12.2,261.2 12.7,261 13.1,260.7 13.5,260.5 14,260.3 13.9,259.8 13.9,259.3 13.8,258.8 13.8,258.4 13.9,258 14.1,257.7 14.3,257.3 14.5,257 14.7,256.6 14.9,256.3 15.1,255.9 15.3,255.6 15.5,255.2 15.7,254.9 16,254.6 16.2,254.2 16.4,253.9 16.6,253.6 16.8,253.2 17.1,252.9 17.3,252.6 17.5,252.2 17.7,251.9 18,251.6 18.4,251.4 18.9,251.2 19.3,251.1 19.8,250.9 19.8,250.4 19.8,249.9 19.8,249.5 19.8,249 20.1,248.7 20.3,248.3 20.6,248 20.9,247.7 21.1,247.4 21.4,247.1 21.7,246.9 21.9,246.6 22.2,246.3 22.5,246 22.8,245.7 23.1,245.5 23.4,245.2 23.7,244.9 24,244.7 24.3,244.4 24.6,244.2 25,243.9 25.3,243.7 25.6,243.5 26.1,243.4 26.6,243.4 27,243.4 27.5,243.4 27.7,243 27.9,242.5 28,242.1 28.2,241.6 28.6,241.4 28.9,241.2 29.2,241 29.6,240.8 29.9,240.6 30.2,240.3 30.6,240.1 30.9,239.9 31.3,239.7 31.6,239.5 32,239.3 32.3,239.1 32.7,238.9 33,238.7 33.5,238.8 34,238.8 34.5,238.9 34.9,238.9 35.2,238.5 35.4,238.1 35.6,237.6 35.8,237.2 36.2,237 36.5,236.8 36.9,236.7 37.3,236.5 37.6,236.3 38,236.1 38.3,235.9 38.7,235.8 39,235.6 39.4,235.4 39.8,235.2 40.1,235 40.5,234.9 40.8,234.7 41.2,234.5 41.5,234.3 41.9,234.1 42.2,233.9 42.6,233.7 43.1,233.8 43.6,233.9 44,233.9 44.5,234 44.7,233.6 45,233.2 45.2,232.8 45.5,232.4 45.8,232.2 46.2,232.1 46.6,231.9 47,231.8 47.4,231.7 47.7,231.6 48.1,231.5 48.5,231.4 48.9,231.3 49.3,231.2 49.7,231.1 50.1,231 50.5,231 50.9,230.9 51.3,230.9 51.7,230.8 52.5,231 52.9,231.2 53.3,231.4 53.7,231.7 54.1,231.4 54.5,231.1 54.9,230.8 55.2,230.5 56,230.5 56.8,230.5 57.6,230.5 58.4,230.5 59.2,230.6 60,230.7 60.4,230.8 60.8,230.8 61.2,230.9 61.6,231 62,231.1 62.3,231.4 62.7,231.8 63,232.1 63.3,232.5 63.8,232.3 64.2,232.1 64.7,232 65.1,231.8 65.5,231.9 65.9,232 66.3,232.1 66.7,232.2 67.1,232.3 67.4,232.4 67.8,232.5 68.2,232.6 68.6,232.6 69,232.7 69.4,232.8 69.8,232.9 70.2,233 70.6,233.1 71,233.2 71.3,233.2 71.7,233.3 72.1,233.4 72.5,233.5 72.9,233.6 73.3,233.7 73.6,234 74,234.4 74.3,234.8 74.6,235.1 75,234.9 75.5,234.8 76,234.6 76.4,234.4 76.8,234.5 77.2,234.7 77.6,234.8 78,234.9 78.3,235 78.7,235.1 79.1,235.2 79.5,235.3 79.9,235.5 80.2,235.6 80.6,235.7 81,235.8 81.4,236 81.8,236.1 82.1,236.2 82.5,236.4 82.9,236.5 83.2,236.9 83.4,237.3 83.7,237.7 84,238.1 84.4,238 84.9,237.9 85.4,237.8 85.9,237.7 86.2,237.8 86.6,238 87,238.2 87.3,238.3 87.7,238.5 88.1,238.6 88.4,238.8 88.8,239 89.2,239.1 89.5,239.3 89.9,239.5 90.2,239.6 90.6,239.8 91,240 91.3,240.2 91.7,240.3 92,240.5 92.3,240.9 92.5,241.4 92.7,241.8 93,242.2 93.4,242.2 93.9,242.1 94.4,242.1 94.9,242 95.2,242.2 95.6,242.4 95.9,242.6 96.3,242.8 96.6,243 97,243.2 97.3,243.4 97.7,243.6 98,243.8 98.4,244 98.7,244.2 99.1,244.4 99.4,244.6 99.7,244.8 100.1,245 100.4,245.2 100.8,245.4 101.1,245.6 101.4,245.8 101.8,246 102,246.5 102.2,246.9 102.3,247.4 102.5,247.8 103,247.8 103.5,247.8 104,247.8 104.4,247.8 104.8,248 105.1,248.3 105.4,248.5 105.8,248.7 106.1,248.9 106.4,249.2 106.7,249.4 107.1,249.6 107.4,249.9 107.7,250.1 108,250.3 108.4,250.6 108.7,250.8 109,251.1 109.3,251.3 109.6,251.6 109.9,251.8 110.3,252.1 110.4,252.5 110.5,253 110.6,253.5 110.8,253.9 111.2,254 111.7,254 112.2,254.1 112.7,254.2 113,254.4 113.2,254.7 113.5,255 113.8,255.3 114.1,255.6 114.3,255.9 114.6,256.2 114.9,256.5 115.2,256.8 115.4,257.1 115.7,257.4 115.9,257.7 116.2,258 116.4,258.3 116.7,258.6 116.9,258.9 117,259.4 117,259.9 117,260.4 117,260.9 117.4,261 117.9,261.2 118.3,261.4 118.8,261.5 119,261.9 119.2,262.2 119.4,262.6 119.6,262.9 119.8,263.2 120,263.6 120.2,263.9 120.4,264.3 120.6,264.7 120.8,265 120.9,265.4 121.1,265.7 121.3,266.1 121.4,266.5 121.6,266.8 121.5,267.3 121.4,267.8 121.2,268.2 121.1,268.7 121.5,269 121.9,269.3 122.3,269.6 122.7,269.8 122.8,270.2 122.9,270.6 123,271 123.1,271.4 123.2,271.8 123.3,272.2 123.4,272.5 123.5,272.9 123.6,273.3 123.7,273.7 123.8,274.1 123.8,274.5 123.9,274.9 124,275.3 124.1,275.7 124.1,276.1 124.2,276.5 124,276.9 123.8,277.3 123.6,277.8 123.4,278.2 123.7,278.6 124.1,278.9 124.4,279.3 124.7,279.6 124.8,280.4 124.9,281.2 125,282 125,282.8 125.1,283.6 125.1,284.4 125.1,285.2 124.9,285.6 124.6,286 124.3,286.4 124,286.8 124.3,287.2 124.6,287.6 124.8,288 125.1,288.4 125,289.2 124.9,290 124.8,290.8 124.8,291.2 124.7,291.6 124.7,292 124.6,292.4 124.5,292.8 124.4,293.2 124.3,293.5 124.2,293.9 124.1,294.3 124,294.7 123.9,295.1 123.8,295.5 123.4,295.8 123.1,296.1 122.7,296.4 122.3,296.6 122.4,297.1 122.6,297.6 122.7,298 122.8,298.5 122.6,298.9 122.5,299.3 122.3,299.6 122.2,300 122,300.4 121.9,300.7 121.7,301.1 121.5,301.5 121.4,301.8 121.2,302.2 121,302.5 120.8,302.9 120.6,303.2 120.4,303.6 120.2,303.9 120,304.2 119.8,304.6 119.5,304.9 119.1,305 118.6,305.1 118.1,305.2 117.7,305.3 117.6,305.7 117.5,306.2 117.4,306.6 117.2,307.1 116.9,307.3 116.6,307.6 116.2,307.8 115.9,308 115.6,308.2 115.2,308.4 114.8,308.6 114.5,308.7 114.1,308.9 113.8,309.1 113.4,309.2 113,309.3 112.6,309.5 112.2,309.6 111.9,309.7 111.5,309.8 111.1,309.9 110.6,309.6 110.2,309.4 109.8,309.2 109.4,308.9 109.1,309.2 108.7,309.5 108.3,309.7 107.9,310 107.1,309.9 106.7,309.8 106.3,309.7 105.9,309.7 105.5,309.6 105.1,309.5 104.7,309.4 104.3,309.3 104,309.2 103.6,309.1 103.2,309 102.8,308.9 102.4,308.8 102,308.7 101.7,308.5 101.3,308.4 100.9,308.3 100.5,308.2 100.2,307.8 99.9,307.4 99.7,307 99.4,306.6 99,306.7 98.5,306.8 98,306.9 97.5,307 97.2,306.8 96.8,306.6 96.5,306.4 96.1,306.2 95.8,306 95.4,305.9 95.1,305.7 94.7,305.5 94.4,305.3 94,305.1 93.7,304.9 93.3,304.7 93,304.5 92.6,304.3 92.3,304.1 91.9,304 91.5,303.8 91.2,303.6 90.8,303.5 90.4,303.3 90.1,303.2 89.8,302.8 89.5,302.4 89.3,302 89,301.5 88.5,301.7 88,301.8 87.6,301.9 87.1,302 86.7,301.8 86.4,301.7 86,301.5 85.6,301.3 85.3,301.2 84.9,301 84.5,300.8 84.2,300.7 83.8,300.5 83.4,300.4 83.1,300.2 82.7,300 82.4,299.8 82,299.7 81.6,299.5 81.3,299.3 80.9,299.1 80.6,298.9 80.3,298.7 79.9,298.4 79.6,298.2 79.3,298 79,297.7 78.7,297.4 78.4,297.1 78.2,296.8 77.9,296.5 77.6,296.2 77.4,295.9 77.1,295.6 76.8,295.3 76.6,295 76.3,294.8 76,294.5 75.7,294.2 75.4,293.9 75.1,293.7 74.8,293.4 74.6,293.1 74.3,292.8 74,292.5 73.7,292.3 73.4,292 73.1,291.7 72.8,291.4 72.5,291.2 72.2,290.9 71.9,290.7 71.6,290.4 71.2,290.2 70.9,290 70.6,289.8 70.2,289.6 69.8,289.4 69.5,289.3 69.1,289.1 68.7,289 68.4,288.8 68,288.7 67.6,288.6 67.2,288.4 66.8,288.3 66.5,288.2 66.1,288.1 65.7,288 65.3,287.9 64.9,287.8 64.5,287.7 64.1,287.6 63.8,287.5 63.4,287.4 63,287.3 62.6,287.2 62.2,287.1 61.8,287 61.4,286.9 61,286.8 60.7,286.7 60.3,286.6 59.9,286.5 59.5,286.4 59.1,286.2 58.7,286.1 58.3,286 58,285.9 57.6,285.8 57.2,285.7 56.8,285.6 56.4,285.5 56,285.4 55.6,285.3 55.3,285.2 54.9,285.1 54.5,285 54.1,284.9 53.7,284.8 53.3,284.7 53,284.5 52.6,284.4 52.2,284.3 51.8,284.2 51.4,284.1 51.1,283.9 50.7,283.8 50.3,283.6 49.9,283.5 49.6,283.3 49.2,283.1 48.9,282.9 48.5,282.7 48.2,282.4 47.9,282.2 47.6,282 47.3,281.7 47,281.4 46.7,281.2 46.4,280.9 46.1,280.7 45.8,280.4 45.4,280.2 45.1,280 44.8,279.8 44.4,279.6 44,279.5 43.2,279.6 42.8,279.7 42.5,280 42.2,280.2 42,280.5 41.7,280.8 41.4,281.1 41.1,281.4 40.8,281.6 40.5,281.9 40.2,282.1 39.8,282.3 39.4,282.5 39.1,282.7 38.7,282.8 38.4,283 38,283.2 37.6,283.3 37.3,283.5 36.9,283.7 36.5,283.8 36.2,284 35.8,284.1 35.4,284.3 35.1,284.5 34.7,284.7 34.4,284.8 34,285 33.7,285.2 33.3,285.4 33,285.6 32.6,285.8 32.3,286 31.9,286.2 31.6,286.5 31.3,286.7 30.9,286.9 30.6,287.1 30.3,287.4 30,287.6 29.6,287.8 29.3,288.1 29,288.3 28.7,288.5 28.3,288.8 28,289 27.7,289.3 27.4,289.5 27.1,289.7 26.8,290 26.4,290.2 26.1,290.5 25.8,290.7 25.5,291 25.2,291.2 24.9,291.4 24.5,291.7 24.2,291.9 23.9,292.2 23.6,292.4 23.3,292.7 23,292.9 22.6,293.2 22.3,293.4 22,293.7 21.7,293.9 21.4,294.1 21.1,294.4 20.8,294.6 20.4,294.9 20.1,295.2 19.8,295.4 19.5,295.7 19.2,295.9 18.9,296.2 18.6,296.5 18.3,296.8 18.1,297 17.8,297.3 17.5,297.6 17.2,297.8 16.9,298.1 16.6,298.4 16.3,298.7 16,298.9 15.7,299.2 15.4,299.5 15.1,299.7 14.8,300 14.5,300.2 14.1,300.4 13.8,300.7 13.5,300.9 13.1,301.1 12.8,301.3 12.4,301.4Z" fill="#7a7a7a" stroke="#151515" stroke-width="0.9"/>
<path d="M5.2,281.4 5.2,282.1 5.2,282.8 5.3,283.5 5.3,284.2 6.5,284.1 9.9,283.4 13.4,282.9 14.8,282.7 12,282.4 8.9,281.8 5.9,281.2 5.2,281.1ZM6.8,290.9 6.9,291.3 7,291.7 7.1,292 7.2,292.4 7.3,292.8 7.4,293.1 7.6,293.4 7.7,293.8 10.2,292.7 12.6,291.6 15,290.6 17.5,289.7 18.1,289.5 18.7,289.5 19.2,289.6 19.8,289.8 20.3,290.1 20.7,290.5 21.1,290.9 21.3,291.4 21.6,291.2 21.9,290.9 22.2,290.7 22.6,290.4 22.9,290.2 23.2,290 23.5,289.7 23.8,289.5 24.1,289.2 24.5,289 24.8,288.7 25.1,288.5 25.4,288.2 25.7,288 26.1,287.7 26.4,287.5 26.7,287.3 27,287 27.4,286.8 27.7,286.5 28.3,286 28.7,285.8 29,285.6 29.4,285.3 29.7,285.1 30,284.9 30.4,284.6 30.7,284.4 31.1,284.2 31.5,283.9 31.8,283.7 32.2,283.5 32.6,283.3 33,283.1 33.4,282.9 33.7,282.7 34.1,282.5 34.5,282.3 34.9,282.2 35.3,282 35.6,281.8 36,281.6 36.4,281.5 36.7,281.3 37.1,281.2 37.5,281 37.8,280.8 38.1,280.7 38.5,280.5 39,280.2 39.4,279.9 39.9,279.6 40.1,279.3 40.4,279 40.7,278.7 41,278.4 41.6,278 41.9,277.7 42.3,277.6 42.8,277.4 43.2,277.3 43.6,277.3 44.3,277.3 44.9,277.5 45.6,277.7 46.2,278 46.7,278.4 47.1,278.7 47.4,278.9 47.8,279.3 48.1,279.5 48.4,279.8 48.7,280 49,280.2 49.2,280.5 49.5,280.7 50.1,281 50.6,281.3 51.1,281.6 51.5,281.7 51.8,281.9 52.2,282 52.5,282.1 53.2,282.3 53.6,282.4 54,282.6 54.3,282.7 54.7,282.8 55.1,282.9 55.5,283 55.8,283.1 56.2,283.2 56.6,283.3 57,283.4 57.4,283.5 57.8,283.6 58.1,283.7 58.5,283.8 58.9,283.9 59.3,284 59.7,284.1 60.1,284.2 60.5,284.4 60.9,284.5 61.3,284.6 61.6,284.7 62,284.8 62.4,284.9 62.8,285 63.1,285.1 63.5,285.2 63.9,285.3 64.7,285.5 65.1,285.6 65.5,285.7 65.9,285.8 66.3,285.9 66.7,286 67.1,286.1 67.5,286.2 67.9,286.3 68.3,286.5 68.7,286.6 69.1,286.7 69.5,286.9 69.9,287 70.4,287.3 70.8,287.4 71.2,287.6 71.6,287.9 72,288.1 72.4,288.4 72.8,288.6 73.2,288.9 73.5,289.2 73.9,289.5 74.2,289.7 74.6,290.1 74.9,290.3 75.2,290.7 75.5,290.9 75.8,291.3 76.1,291.5 76.4,291.8 76.7,292.1 76.9,292.4 77.2,292.6 77.5,292.9 77.8,293.2 78.1,293.5 78.4,293.8 78.7,294.1 79,294.4 79.3,294.8 79.6,295.1 79.8,295.4 80.1,295.6 80.3,295.9 80.7,296.3 81.2,296.7 81.8,297 82,297.2 82.4,297.4 82.7,297.5 83,297.7 83.3,297.9 83.7,298 84,298.2 84.4,298.4 84.7,298.5 85.1,298.7 85.4,298.8 85.8,299 86.2,299.2 86.5,299.3 87.4,297.3 87.9,296.1 87.4,295.3 87.2,294.8 87.1,294.3 87,293.8 87.1,293.3 87.3,292.9 87.5,292.4 87.8,292.1 88.2,291.7 88.7,291.5 89.2,291.4 89.7,291.4 90.2,291.1 90.5,290.6 90.9,290.1 91.4,289.8 91.9,289.5 92.5,289.3 93.1,289.3 93.7,289.4 94.3,289.6 94.8,289.9 95.2,290.3 95.6,290.8 95.8,291.3 96,291.9 96,292.5 96,293.1 95.8,293.7 94.8,295.7 93.9,297.7 93.1,299.7 92.2,301.7 92.8,302 93.2,302.1 93.6,302.3 94,302.5 94.4,302.7 94.7,302.9 95.1,303.1 95.5,303.3 95.8,303.5 96.2,303.7 96.5,303.9 96.8,304.1 97.2,304.3 97.5,303.7 98.9,300.8 100.6,298.1 101.3,297 101.2,296.6 101.3,296 101.4,295.5 101.7,294.9 102,294.4 102.4,294.1 102.9,293.8 102.5,293.2 102.3,292.8 101.9,291.6 101.8,291.1 101.7,290.6 101.8,289.3 101.8,288.8 102.1,287.5 102.4,286.5 102.5,286 102.8,285.6 103.1,285.2 103.5,284.9 104,284.7 104.4,284.6 104.9,284.6 105.4,284.6 105.3,284.2 105,283.6 104.9,283 104.8,282.5 104.9,281.9 105.1,281.3 105.4,280.8 105.8,280.3 106.3,280 106.8,279.7 109.7,278.6 109.7,277.9 109.6,277.4 109.2,277.9 108.8,278.3 108.3,278.6 107.8,278.8 107.2,278.9 106.7,278.9 106.1,278.7 105.6,278.5 105.1,278.2 104.7,277.8 104.4,277.3 104.2,276.8 104.1,276.2 104.1,275.6 103.6,275.6 102.9,275.7 102.2,275.7 101.6,275.6 100.9,275.4 100.6,275.2 100.3,275 100.1,274.8 99.9,274.5 99.6,274.2 99.5,273.9 99.3,273.6 99.1,273 99,272.3 99.1,271.6 99.3,271 99.4,270.6 99.6,270.3 99.8,270.1 100,269.8 100.3,269.6 102.5,267.7 102.3,267.4 102.1,266.9 101.9,266.4 101.9,265.9 102,265.4 102.1,264.9 99.8,263.1 97,261.5 94.9,260.5 91.7,263.1 91.3,263.3 91.1,263.8 90.7,264.4 90.5,264.6 90.3,264.9 90,265.1 89.4,265.4 88.8,265.6 88.2,265.7 87.5,265.6 86.9,265.4 86.3,265.1 86,264.9 85.8,264.7 85.6,264.5 85.4,264.2 85,263.7 84.8,263 84.8,262.4 85.1,257.5 84.6,257.1 83.9,256.9 83.9,258.9 83.8,259.5 83.6,260.1 83.3,260.7 82.9,261.1 82.5,261.5 81.9,261.8 81.3,262 80.7,262 80.1,261.9 79.5,261.8 79,261.5 78.5,261.1 78.2,260.6 77.9,260.1 77.7,259.5 77.7,258.9 77.7,256 73.9,255.6 69.9,255.4 68.3,255.4 68.4,255.9 68.3,257.5 68.3,257.9 67.8,259.7 67.1,261.6 66.6,262.7 66.3,263.2 66,263.6 65.6,263.9 65.1,264.1 64.6,264.3 64.1,264.3 63.6,264.2 63.1,264.1 62.7,263.8 62.3,263.5 61.9,263.1 61.7,262.6 61.6,262.1 61.5,261.6 61.6,261.1 61.7,260.6 62.2,259.5 62.7,258.2 63,257.1 63,256 63,255.5 62.2,255.5 58.8,255.9 55.4,256.5 52.1,257.3 49,258.3 45.9,259.5 43,260.9 42.8,261.3 42.7,261.9 42.5,262.4 42.2,262.9 41.8,263.3 41.4,263.7 40.9,263.9 40.3,264 39.7,264.1 39.2,264 38.6,263.8 38.3,263.6 37.8,263.9 37.4,264.3 37,264.7 36.5,265 35.6,265.8 33.4,267.9 31.6,270 30.2,271.5 29.8,271.9 29.3,272.2 28.7,272.4 28.1,272.5 27.6,272.5 27,272.3 26.5,272.1 26,271.7 25.6,271.3 25.3,270.8 25.1,270.2 25,269.6 25,269.1 25.2,268.5 25.4,268 24.8,267.9 24.2,267.8 21.7,266.9 19.1,266 16.5,264.9 14,263.8 13.5,263.5 13.1,264.1 12.9,264.4 12.7,264.8 12.5,265.1 12.2,265.5 12,265.8 11.8,266.2 11.6,266.5 11.3,266.8 11.5,267.2 13.5,268.9 13.8,269.1 14.4,269.8 14.9,269.6 15.4,269.4 15.9,269.4 16.4,269.4 16.9,269.6 17.4,269.8 17.8,270.2 18.1,270.6 18.3,271 18.5,271.5 18.5,272.1 18.5,272.6 18.3,273.1 18.1,273.5 17.8,273.8 18.9,275.4 19.1,275.7 19.3,276.3 19.4,276.7 20,276.9 20.6,277.3 20.8,277.5 21,277.7 21.3,277.9 21.7,278.2 22.2,278.5 22.5,278.9 22.8,279.3 22.9,279.8 23,280.3 22.9,280.8 22.8,281.3 22.6,281.8 22.3,282.2 22.6,282.6 22.8,282.8 23.1,283 23.3,283.3 23.5,283.5 23.8,284.1 24,284.7 24,285.4 24,286 23.8,286.6 23.5,287.2 23.3,287.4 23.1,287.7 22.8,287.9 22.6,288.1 22,288.4 21.4,288.6 17.7,289 14.4,289.4 11.1,289.9 7.8,290.5 6.7,290.7ZM11.1,299.1 11.4,299.3 11.9,299.2 12.4,299 12.9,298.6 13.4,298.2 13.7,298 14,297.8 12.9,298 11,299ZM103.1,306.7 103.4,306.8 103.8,306.9 104.2,307 104.5,307.1 105.3,307.3 106.1,307.5 106.1,306.8 106.2,303.5 106.3,302.5 105.9,302.8 105.4,303.1 104.9,303.4 104.4,303.5 102.9,306.2 102.8,306.6ZM112.9,307 113.2,306.9 113.9,306.6 114.2,306.4 114.1,306 112.8,305 112.8,306.8ZM118.7,302.1 118.9,301.8 119.1,301.5 119.2,301.2 119.4,300.9 119.6,300.5 119.7,300.2 119.9,299.8 120,299.5 120.2,299.1 119.8,299 117.5,298 116.8,297.6 115.7,298.4 115.1,298.7 114.6,298.8 115.1,299.2 117.9,301.4 118.7,302.2ZM122.2,293 122.3,292.7 122.4,292 122.5,291.6 122.6,290.9 122.7,290.1 122.8,289.7 121.5,289.7 117.8,290.2 116.1,290.5 117.5,291.3 117.9,291.4 119.9,292.4 122.1,293.3ZM122.9,283.7 122.8,282.6 122.7,281.8 121.7,281.6 118.5,282.3 116.6,282.9 115.9,284.1 115.9,284.8 116.8,284.6 120.9,284.1 122.9,284.1ZM121.8,275.3 121.7,275 121.6,274.6 121.4,273.8 121.3,273.4 121.2,272.7 121.1,272.3 120.6,272.3 118.4,272.7 115.8,273 115.9,273.4 115.8,274 115.7,274.5 115.4,275 115.2,275.3 115.6,276.7 117,276.5 120.4,275.7 121.8,275.4ZM118.6,265.6 118.5,265.3 118.3,265 118.1,264.7 116.8,265.3 115.7,266.1 117.3,266 118.7,265.8ZM113.8,258.5 113.5,258.2 113.2,257.9 113,257.7 112.7,257.4 112.5,257.1 112.2,256.8 111,258.8 110,261 109.6,262 112.6,259.7 114,258.7ZM107.7,252.8 107.3,252.6 107,252.3 106.7,252.1 106.4,251.9 106.1,251.7 105.8,251.4 105.5,251.2 105.1,251 104.8,250.7 104.2,250.3 103.2,251.7 103.7,251.7 104.2,251.9 104.6,252.2 104.9,252.5 105.2,252.9 105.4,253.4 105.5,253.9 105.6,254.3 105.5,254.8 105.3,255.3 105,255.7 104.7,256.1 104.3,256.4 103.9,256.6 103.4,256.7 102.1,256.8 101.1,257 102.9,258 104.5,259.2 104.7,258.7 105.9,256.2 107.4,253.7 107.9,253ZM99.3,247.1 98.9,246.9 98.6,246.7 98.3,246.5 97.9,246.3 97.3,245.9 96.9,245.7 96.6,245.5 96.2,245.3 95.9,245.1 95.6,244.9 94.8,246.3 93.4,250.1 92.7,253.1 93.1,253.2 94.3,253.1 96.3,251 98.6,248.2 99.4,247.2ZM89.3,241.6 88.9,241.5 88.6,241.3 88.2,241.1 87.9,241 87.5,240.8 87.2,240.7 86.8,240.5 85.9,242.1 84.9,246.1 84.3,250.2 84.2,250.9 85.1,251.1 86.4,250.9 87,248.3 88.5,244 89.6,241.8ZM80.6,238 80.3,237.9 79.9,237.8 79.5,237.7 79.2,237.5 78.8,237.4 78.4,237.3 78.1,237.2 77.4,237 77,238.4 75.9,241.9 74.5,245.4 72.9,248.9 72.6,249.5 74.3,249.6 78,250 78.1,249.5 78.8,244.9 80,240.4 80.7,238.1ZM70.9,235.4 70.5,235.3 70.1,235.2 69.7,235.1 69.3,235 68.9,235 68.5,234.9 68.1,234.8 67.7,234.7 67.3,234.6 66.9,234.5 66.6,234.4 66.1,234.3 65.5,235.1 64.3,238 62.8,241 61,243.8 58.9,246.5 58.5,246.9 58,247.3 57.5,247.5 56.9,247.6 56.4,247.7 55.8,247.6 55.3,247.3 54.8,247 54.4,246.6 54,246.2 52.8,248.5 52.5,249 52.1,249.5 51.6,249.8 51.1,250.1 50.5,250.3 49.9,250.3 49.3,250.2 48.8,250 48.1,250 47.5,249.9 47.1,250 47.2,250.7 47.3,251.3 47.2,252 47.1,252.7 50.4,251.6 54,250.7 57.8,250 61.6,249.5 65.4,249.3 67.1,246.1 68.5,243 69.7,239.8 70.8,236.6 71.1,235.4ZM59.7,232.9 59,232.8 58.3,232.7 57.6,232.7 56.8,232.7 56.8,233.8 56.5,237.5 55.7,241.1 56.2,240.5 57.7,238.1 59,235.7 60,233.2ZM50.5,233.2 49.7,233.4 49,233.5 48.3,233.7 48.3,234.2 49.4,236.9 50,236.9 50.3,236.7 50.6,233.7 50.6,233.2ZM41.8,236.6 41.5,236.8 41.1,237 40.7,237.2 40.4,237.4 40,237.5 39.7,237.7 39.3,237.9 39,238.1 38.6,238.3 39,239 40.6,241.7 42.1,243.8 42.3,242.8 42.5,242.2 42.7,241.8 43.5,240.9 43,239.4 42,236.9ZM32.4,241.6 32.1,241.8 31.7,242 31.4,242.2 31.1,242.4 30.8,242.6 32,244.4 33.3,246.2 34.6,247.9 35.9,249.7 36.2,250.2 36.5,250.8 36.6,251.4 36.7,251.8 37.1,253.5 37.5,255.2 38,256.2 38.4,256.5 40.2,255.6 42.4,254.5 42,254.3 41.7,254.1 41.5,253.9 41.3,253.6 39.1,251.1 37,248.4 35,245.5 33.1,242.6 32.5,241.5ZM25.4,246.4 25.1,246.6 24.8,246.9 24.6,247.1 24.3,247.4 24,247.6 23.8,247.9 23.5,248.1 23.3,248.4 23,248.6 22.8,248.9 22.5,249.2 23.8,250.4 26.4,252.3 26.4,251.7 26.6,251.1 27.4,248.6 26.9,248 25.6,246.2ZM18.9,254.1 18.7,254.4 18.5,254.8 18.2,255.1 18,255.4 17.8,255.7 17.6,256.1 17.4,256.4 17.2,256.7 17,257 16.8,257.4 16.6,257.7 16.4,258 19,259.2 20.5,259.8 20.7,259.3 20.9,258.8 21.2,258.4 21.6,257.9 22,257.6 22.5,257.4 23.1,257.3 23.6,257.2 20.5,254.9 19.1,253.9ZM7.7,272.8 7.5,273.2 7.4,273.5 7.2,273.8 7,274.1 6.9,274.4 7.2,274.8 10.1,275.4 10.6,275.5 9.1,274 7.7,272.8ZM109.7,285.9 109.6,285.2 108.9,285.4 108.3,285.6 107.7,285.6 107.2,285.5 106.7,285.4 107,285.8 107.2,286.2 107.3,286.7 107.4,287.1 108.7,286.6 109.6,286.4Z" fill="#b0b0b0" filter="url(#bw)"/>
<path d="M7.7,297.5 9.4,296.5 11.6,295.3 13.9,294.3 16.2,293.3 18.5,292.5 M13.9,294.3 16.8,295.5 M4.3,287.9 7.2,287.3 10.5,286.7 13.9,286.1 17.3,285.7 20.8,285.4 M4.1,277.5 6.5,278 9.5,278.6 12.5,279.1 15.5,279.5 18.5,279.8 M8,268.9 9.6,270 11.4,271.5 13.1,273.2 14.6,275.1 16.1,277.3 M13.1,273.2 15.9,272 M13.4,260 15.3,261 17.7,262.1 20.2,263.1 22.7,264 25.2,264.8 M20.2,263.1 23.5,261.5 M19.3,250.5 22.2,252.7 25.5,255.1 28.8,257.5 32.1,260 35.3,262.4 M28.8,257.5 31.4,256.7 M27.2,242.9 28.2,244.4 29.5,246.2 30.8,248 32.1,249.8 33.4,251.6 M30.8,248 29.4,252.1 M34.6,238.4 36,240.8 37.8,243.6 39.7,246.3 41.7,248.9 43.9,251.4 M44.2,233.5 45.2,235.6 46.2,238.2 47.1,240.9 47.8,243.7 48.4,246.6 M47.1,240.9 51.3,241.7 M53.7,231.1 53.7,233.8 53.4,237.1 52.7,240.5 51.5,243.8 50,247.2 M63.4,231.9 62.7,234.2 61.6,236.9 60.2,239.6 58.6,242.2 56.6,244.7 M74.7,234.5 73.9,237.5 72.8,240.9 71.5,244.2 70,247.6 68.3,250.8 M84.2,237.6 83,241.2 81.9,245.4 81.2,249.8 80.8,254.3 80.8,258.9 M93.2,241.7 91.7,245.1 90.3,249.1 89.2,253.3 88.5,257.7 88.1,262.3 M89.2,253.3 85,254 M102.8,247.3 100.9,250 98.5,252.9 95.8,255.7 93,258.3 89.9,260.8 M95.8,255.7 92.2,255.9 M111.1,253.5 109.9,255.2 108.5,257.4 107.3,259.9 106.4,262.5 105.7,265.4 M117.5,260.5 114.7,262.5 111.6,264.8 108.5,267.3 105.5,269.7 102.5,272.2 M108.5,267.3 104.5,266 M121.7,268.5 120,269 117.8,269.4 115.4,269.6 113,269.5 110.6,269.3 M115.4,269.6 112.4,267.5 M124,278.1 121.1,278.6 117.8,279.4 114.4,280.3 111.1,281.4 107.9,282.6 M114.4,280.3 112.4,284 M124.6,286.8 121.3,286.9 117.4,287.4 113.5,288.2 109.7,289.3 105.8,290.7 M113.5,288.2 111.3,291.1 M122.9,296.8 121,296.2 118.7,295.2 116.4,294.1 114.2,293 112,291.7 M116.4,294.1 113.9,295.9 M118.1,305.7 116,303.8 113.4,301.6 110.5,299.7 107.5,298 104.2,296.4 M110.5,299.7 111,297 M109.5,309.5 109.4,306.8 109.6,303.6 109.8,300.3 110.2,297.1 110.7,293.9 M109.8,300.3 111.9,298.7 M99.2,307.2 100.2,304.9 101.6,302.2 103.2,299.6 104.9,297.1 106.8,294.6 M88.8,302.1 89.4,300.5 90.3,298.5 91.1,296.4 92,294.4 93,292.4 M91.1,296.4 89.6,293.9 M28,269.5 29.3,268 31.2,265.9 33.5,263.5 36,261.5 38.7,259.8 41.6,258.2 44.8,256.7 48,255.5 51.3,254.5 54.8,253.6 58.3,252.9 62,252.5 65.9,252.3 70,252.4 74.1,252.6 78,253 81.7,253.5 85.2,254.1 88.7,254.9 92,256 95.3,257.3 98.4,258.9 101.4,260.6 104,262.5 106.2,264.5 108.1,266.7 109.7,269 111,271.5 112,274.3 112.6,277.4 113,280.5 113,283.5 112.7,286.4 112,289.4 111.1,292.1 110,294.5 108.6,296.5 106.8,298.2 105.1,299.5 104,300.5 M49.4,239.5 48.1,240.4 46.2,241.7 44.8,243.3 44.4,245.3 44.5,247.6 44.7,249.2 M14.7,276.3 15.2,277.2 15.9,278.5 16.8,279.4 18,280 19.4,280.2 20.3,280.4 M103,254.2 101.8,254.3 100,254.6 98.2,255 96.6,255.6 94.9,256.4 93.8,256.9 M23.5,260.1 24.4,260.5 25.8,261.2 27.2,262 28.5,262.9 29.7,263.8 30.6,264.5 M113,273.5 112,273.3 110.6,273.1 109.4,273.3 108.4,274 107.6,275.2 107,276 M65.4,253 65.5,254.2 65.7,255.8 65.7,257.5 65.3,259 64.6,260.6 64.2,261.7 M33.9,252.8 34.3,254.2 34.8,256.2 35.6,257.9 37,259.3 38.7,260.4 39.9,261.1 M104.8,287.1 104.6,288 104.3,289.4 104.3,290.7 104.7,291.9 105.4,293.1 105.9,294" fill="none" stroke="#303030" stroke-width="1.3" stroke-linecap="round" stroke-linejoin="round"/>
<path d="M40,273.5 C41.2,272.2 44.3,267.9 47,266 C49.7,264.1 52.2,263 56,262 C59.8,261 65.3,259.8 70,259.8 C74.7,259.8 79.7,260.4 84,261.8 C88.3,263.2 92.8,265.4 96,268 C99.2,270.6 101.8,274.1 103,277.5 C104.2,280.9 104,285.5 103.5,288.5 C103,291.5 100.6,294.3 100,295.5" fill="none" stroke="#8e8e8e" stroke-width="3.2" stroke-linecap="round"/>
<path d="M42,276 C43,274.8 45.7,270.7 48,269 C50.3,267.3 52.3,266.8 56,266 C59.7,265.2 65.3,264.1 70,264.1 C74.7,264.1 79.8,264.8 84,266.1 C88.2,267.4 92.2,269.6 95,272 C97.8,274.4 99.6,277.6 100.5,280.5 C101.4,283.4 101.1,287.2 100.5,289.5 C99.9,291.8 97.6,293.7 97,294.5" fill="none" stroke="#4a4a4a" stroke-width="0.9"/>
<path d="M44,299.5 C43.9,296.5 42.3,294.7 41,293 C39.7,291.3 37.7,290.1 36,289.5 C34.3,288.9 32.5,289 31,289.1 C29.4,289.2 28.2,289.6 26.7,290.2 C25.2,290.8 23.4,291.9 22,293 C20.6,294.1 19.2,295.7 18,297 C16.8,298.3 15.8,299.8 14.7,301 C13.6,302.2 12.3,303.1 11.5,304.5 C10.7,305.9 9.8,307.8 9.6,309.5 C9.3,311.2 9.5,313.3 10,315 C10.5,316.7 11.4,318.3 12.5,319.5 C13.6,320.7 15,321.8 16.5,322.3 C18,322.8 19.9,322.9 21.5,322.5 C23.1,322.1 24.4,321.1 26,320 C27.6,318.9 29.2,317.2 31,316 C32.8,314.8 34.8,313.8 36.5,313 C38.2,312.2 40.2,313.2 41.5,311 C42.8,308.8 44.1,302.5 44,299.5Z" fill="#858585" stroke="#1c1c1c" stroke-width="0.9"/>
<path d="M27,319.5 C27.7,317.4 29.8,316.4 31.5,315.5 C33.2,314.6 35.5,313.7 37,314 C38.5,314.3 39.8,315.8 40.3,317.5 C40.8,319.2 40.3,321.8 40,324 C39.7,326.2 39.4,328.8 38.5,330.5 C37.6,332.2 35.9,333.9 34.5,334.3 C33.1,334.7 31.2,334.1 30,333 C28.8,331.9 28,330.2 27.5,328 C27,325.8 26.3,321.6 27,319.5Z" fill="#a0a0a0" stroke="#1c1c1c" stroke-width="0.9"/>
<path d="M29,320.5 34,318.5 39.5,319.5 M28.5,325 34,323.5 39.8,324.5 M29.5,329.5 34,329 38.8,329" fill="none" stroke="#6a6a6a" stroke-width="0.8"/>
<path d="M39,304.5 C37.7,303.7 33.5,301.1 31,299.5 C28.5,297.9 25.2,295.8 24,295 M39,304.5 C37.3,304.2 32.3,303.2 29,302.5 C25.7,301.8 20.7,300.4 19,300 M39,304.5 C37,304.8 31.2,306.2 27,306.5 C22.8,306.8 16.2,306.1 14,306 M39,304.5 C36.8,305.5 30.2,308.8 26,310.5 C21.8,312.2 16,314.2 14,315 M39,304.5 C37.3,306 32.2,310.9 29,313.5 C25.8,316.1 21.5,318.9 20,320 M39,304.5 C38.3,303.2 36.2,298.7 35,296.5 C33.8,294.3 32.5,292.3 32,291.5 M31,299.5 27,299 M29,302.5 24,304 M27,306.5 22,309.3 M26,310.5 21,314.1" fill="none" stroke="#d2d2d2" stroke-width="1.4" stroke-linecap="round"/>
<path d="M41,295.5 C39.7,295.1 35.3,293.6 33,293 C30.7,292.4 28,291.9 27,291.7 M38,301.1 C36,300.5 29.5,298 26,297.5 C22.5,297 18.5,298.2 17,298.3 M37.5,305.7 C34.6,305.2 24.2,303.4 20,303 C15.8,302.6 13.3,303 12,303 M37.5,308.5 C34.6,308.8 24.4,309.6 20,310 C15.6,310.4 12.5,310.8 11,311 M38,310.9 C35.7,311.8 27.8,314.4 24,316 C20.2,317.6 16.5,319.8 15,320.5 M36,313.1 C34.7,313.9 30.2,316.5 28,318 C25.8,319.5 23.8,321.3 23,322" fill="none" stroke="#4a4a4a" stroke-width="0.9" stroke-linecap="round"/>
<path d="M42.6,277.5 C42.8,276 42.9,273.8 44,272.5 C45.1,271.2 47,270.3 49,269.5 C51,268.7 52.5,268.4 56,267.8 C59.5,267.2 65.3,265.8 70,265.8 C74.7,265.8 79.9,266.5 84,268 C88.1,269.5 92.1,272.2 94.6,275 C97.1,277.8 98.6,282.2 99,285 C99.4,287.8 98.3,290.3 97,292 C95.7,293.7 92.3,295.1 91,295 C89.7,294.9 88.6,292.6 89,291.5 C89.4,290.4 92.7,290 93.5,288.5 C94.3,287 94.8,284.6 94,282.5 C93.2,280.4 91.2,277.8 89,276 C86.8,274.2 84.2,272.9 81,272 C77.8,271.1 73.8,270.8 70,270.8 C66.2,270.8 61,271.4 58,272 C55,272.6 53.3,273.2 52,274.5 C50.7,275.8 50.8,278.1 50,279.5 C49.2,280.9 48.2,282.7 47,283 C45.8,283.3 43.7,282.4 43,281.5 C42.3,280.6 42.4,279 42.6,277.5Z" fill="#d2d2d2" stroke="#4a4a4a" stroke-width="0.8"/>
<path d="M52,275.5 C52.8,274.4 55,273.4 58,272.8 C61,272.2 66.2,271.7 70,271.7 C73.8,271.7 77.9,272 81,273 C84.1,274 86.8,275.7 88.5,277.5 C90.2,279.3 91.4,282.3 91.5,284 C91.6,285.7 90.1,287.2 89,287.5 C87.9,287.8 86.2,285.8 85,286 C83.8,286.2 83.2,288.9 82,289 C80.8,289.1 79.4,287.9 78,286.5 C76.6,285.1 74.8,282.2 73.5,280.5 C72.2,278.8 71.6,276.9 70,276 C68.4,275.1 66.2,274.9 64,275 C61.8,275.1 58.8,275.8 57,276.5 C55.2,277.2 53.8,279.7 53,279.5 C52.2,279.3 51.2,276.6 52,275.5Z" fill="#ffffff" stroke="#2a2a2a" stroke-width="0.7"/>
<path d="M46,283 C46.7,282.1 50.3,280.6 52,280.5 C53.7,280.4 55.7,281.7 56,282.5 C56.3,283.3 55.3,284.9 54,285.5 C52.7,286.1 49.3,286.4 48,286 C46.7,285.6 45.3,283.9 46,283Z" fill="#ffffff"/>
<path d="M44,298.2 C44.5,295.8 45.2,293.5 46.7,291.5 C48.2,289.5 51.9,288 53.3,286.2 C54.7,284.4 53.9,282.2 55,280.5 C56.1,278.8 58,276.8 60,276 C62,275.2 64.8,275 67,275.5 C69.2,276 71.7,277.3 73,279 C74.3,280.7 74.7,283.1 75,285.5 C75.3,287.9 75.5,291.2 74.7,293.5 C73.9,295.8 71.8,297.8 70,299.5 C68.2,301.2 65.2,301.5 64,303.5 C62.8,305.5 64,308.4 62.7,311.5 C61.4,314.6 58.5,319.1 56,322.2 C53.5,325.3 50,327.5 48,330.2 C46,332.9 45.5,336.9 44,338.2 C42.5,339.5 39.6,340 38.7,338.2 C37.8,336.4 38.3,331.3 38.7,327.5 C39.1,323.7 40.4,319.1 41.3,315.5 C42.2,311.9 43.5,309.1 44,306.2 C44.5,303.3 43.5,300.6 44,298.2Z" fill="#b9b9b9" stroke="#2a2a2a" stroke-width="0.8"/>
<path d="M55,280.5 C55.4,279 56.5,276.9 58,276 C59.5,275.1 62,274.9 64,275 C66,275.1 68.4,275.4 70,276.5 C71.6,277.6 73.2,279.7 73.5,281.5 C73.8,283.3 73.2,286.1 72,287.5 C70.8,288.9 68.2,289.8 66,290 C63.8,290.2 60.8,289.3 59,288.5 C57.2,287.7 56.2,286.3 55.5,285 C54.8,283.7 54.6,282 55,280.5Z" fill="#8f8f8f" stroke="#5a5a5a" stroke-width="0.6"/>
<path d="M56,295.5 C57.2,293.3 60,292.5 62,292.5 C64,292.5 67.3,293.3 68,295.5 C68.7,297.7 67.3,302.8 66,305.5 C64.7,308.2 61.8,311.5 60,311.5 C58.2,311.5 55.7,308.2 55,305.5 C54.3,302.8 54.8,297.7 56,295.5Z" fill="#a8a8a8"/>
<path d="M27,256 C28.2,253.7 30.8,252.5 33,252 C35.2,251.5 37.8,252 40,253 C42.2,254 44.8,255.8 46,258 C47.2,260.2 47.2,263.3 47,266 C46.8,268.7 46.2,271.8 45,274 C43.8,276.2 42,277.8 40,279 C38,280.2 35,281.5 33,281 C31,280.5 29.2,278.5 28,276 C26.8,273.5 26.2,269.3 26,266 C25.8,262.7 25.8,258.3 27,256Z" fill="#4a4aa8" fill-opacity="0.52" />
<path d="M35,265 C35.8,263.9 37.7,262.7 39,262.5 C40.3,262.3 42.2,262.8 43,264 C43.8,265.2 44.2,267.8 44,269.5 C43.8,271.2 42.9,273.3 42,274.5 C41.1,275.7 39.7,276.7 38.5,276.5 C37.3,276.3 35.8,274.8 35,273.5 C34.2,272.2 34,270.4 34,269 C34,267.6 34.2,266.1 35,265Z" fill="#1cb8f2" fill-opacity="1.0" />
<path d="M84,252 C84.6,250.8 86.5,249.4 88,249 C89.5,248.6 91.8,248.8 93,249.5 C94.2,250.2 95,252.1 95,253.5 C95,254.9 94.2,257.1 93,258 C91.8,258.9 89.4,259.2 88,259 C86.6,258.8 85.2,257.7 84.5,256.5 C83.8,255.3 83.4,253.2 84,252Z" fill="#4a4aa8" fill-opacity="0.55" />
<path d="M86.5,251.5 C87.1,250.6 88.8,249.9 90,249.8 C91.2,249.8 92.9,250.3 93.5,251.2 C94.1,252.1 94.1,253.8 93.8,255 C93.5,256.2 92.5,257.7 91.5,258.2 C90.5,258.7 88.8,258.5 88,258 C87.2,257.5 86.7,256.1 86.4,255 C86.2,253.9 85.9,252.4 86.5,251.5Z" fill="#ee2a0a"/>
<path d="M87.3,252 87,252.7 87.2,254.3 87.6,255.8 88.3,257 89.8,257.6 90.7,257.5 91.4,257.2 92.1,256.3 92.9,254.7 93.1,253 92.8,251.7 91.6,251 90,250.7 88.4,251.2Z" fill="#ff8c00"/>
<path d="M88.4,252.7 88.5,254.5 89.1,256 89.5,256.2 90.5,256.2 91.1,255.6 91.7,254.4 91.7,252.5 90.1,252Z" fill="#ffe800"/>
<path d="M111,258 C111.8,255 114.3,256 116,257 C117.7,258 119.8,261 121,264 C122.2,267 122.8,271.2 123,275 C123.2,278.8 122.7,283.2 122,287 C121.3,290.8 120.3,294.7 119,298 C117.7,301.3 115.5,306.3 114,307 C112.5,307.7 110.7,304.8 110,302 C109.3,299.2 109.8,294.5 110,290 C110.2,285.5 110.8,280.3 111,275 C111.2,269.7 110.2,261 111,258Z" fill="#4a4aa8" fill-opacity="0.52" />
<g>
<path d="M198.2,223.5 198.6,223.4 199,223.4 199.4,223.3 199.8,223.1 200.1,223 200.5,222.9 201.4,222.9 202.2,222.9 202.5,222.7 202.8,222.5 203.2,222.3 203.6,222.2 204.4,222.3 204.8,222.3 205.2,222.4 205.6,222.5 206,222.6 206.4,222.7 206.7,222.8 207.1,222.9 207.5,223 207.9,223.1 208.3,223.2 208.7,223.3 209.1,223.4 209.5,223.5 209.9,223.6 210.2,223.7 210.6,223.9 210.9,224.2 211.3,224.4 211.6,224.7 212,224.6 212.5,224.6 213.3,224.6 213.7,224.7 214.1,224.8 214.5,225 214.8,225.1 215.2,225.3 215.6,225.4 215.9,225.5 216.3,225.7 216.7,225.9 217.1,226 217.4,226.2 217.8,226.3 218.2,226.5 218.5,226.6 218.9,226.8 219.3,227 219.6,227.1 220,227.3 220.3,227.5 220.7,227.7 221.1,227.8 221.4,228.1 221.6,228.5 221.9,228.8 222.2,229.1 222.6,229.1 223,229.2 223.5,229.3 223.9,229.3 224.2,229.5 224.6,229.8 224.9,230 225.2,230.2 225.6,230.4 225.9,230.7 226.2,230.9 226.5,231.1 226.9,231.4 227.2,231.6 227.5,231.9 227.8,232.1 228.1,232.4 228.4,232.7 228.7,232.9 229,233.2 229.3,233.5 229.5,233.9 229.6,234.3 229.8,234.6 230,235 230.4,235.2 230.7,235.4 231.1,235.6 231.5,235.8 231.7,236.1 232,236.4 232.2,236.7 232.5,237 232.7,237.4 233,237.7 233.2,238 233.4,238.3 233.6,238.7 233.8,239 234.1,239.4 234.3,239.7 234.5,240 234.7,240.4 234.8,240.7 235,241.1 235.2,241.5 235.4,241.8 235.6,242.2 235.8,242.5 235.8,243 235.8,243.8 236.1,244.5 236.4,244.9 236.7,245.2 237,245.5 237.1,245.9 237.3,246.2 237.4,246.6 237.5,247 237.7,247.4 237.8,247.7 238,248.1 238.1,248.5 238.3,248.9 238.4,249.2 238.6,249.6 238.7,250 238.9,250.3 239,250.7 239.2,251.1 239.4,251.4 239.5,251.8 239.7,252.2 239.8,252.5 239.9,253.4 239.9,254.2 240.2,254.6 240.4,254.9 240.7,255.2 241,255.5 241.1,255.9 241.3,256.3 241.4,256.6 241.5,257 241.7,257.4 241.8,257.8 241.9,258.2 242.1,258.5 242.2,258.9 242.3,259.3 242.4,259.7 242.5,260.1 242.7,260.4 242.8,260.8 242.9,261.2 243,261.6 243,262 242.9,262.5 242.9,262.9 242.8,263.3 243.1,263.6 243.3,264 243.5,264.4 243.8,264.7 243.9,265.1 243.9,265.5 244,265.9 244.1,266.3 244.1,266.7 244.2,267.1 244.3,267.5 244.3,267.9 244.4,268.3 244.4,268.7 244.5,269.4 244.6,270.2 244.7,271 244.8,271.8 244.8,272.6 244.7,273.4 244.6,273.9 244.5,274.3 244.3,274.7 244.5,275.1 244.6,275.4 244.8,275.8 245,276.2 245,277 245,277.8 245,278.6 245,279.4 245.1,280.2 245.1,281 245.1,281.8 245.1,282.6 244.9,283 244.7,283.4 244.6,283.8 244.4,284.2 244.6,284.6 244.7,285 244.8,285.4 245,285.8 244.9,286.6 244.9,287.4 244.8,288.2 244.7,289 244.6,289.8 244.5,290.6 244.4,291.4 244.3,292.2 244.2,293 244.2,293.4 244,293.8 243.8,294.2 243.6,294.5 243.4,294.9 243.4,295.3 243.5,295.7 243.6,296.1 243.7,296.6 243.6,297 243.5,297.4 243.5,297.7 243.4,298.1 243.3,298.5 243.2,298.9 243.1,299.3 243,299.7 243,300.1 242.9,300.5 242.8,300.9 242.7,301.3 242.6,301.7 242.5,302 242.4,302.4 242.3,302.8 242.2,303.2 242,303.6 241.7,303.9 241.5,304.2 241.2,304.6 241.3,305.4 241.3,306.3 241.1,306.6 241,307 240.8,307.4 240.7,307.8 240.5,308.1 240.4,308.5 240.2,308.9 240.1,309.2 239.9,309.6 239.7,310 239.6,310.3 239.4,310.7 239.2,311 239,311.4 238.9,311.8 238.7,312.1 238.4,312.4 238.1,312.7 237.7,313 237.4,313.3 237.4,313.7 237.3,314.1 237.3,314.6 237.3,315 237.1,315.3 236.9,315.7 236.7,316.1 236.5,316.4 236.3,316.8 236.1,317.1 236,317.5 235.8,317.8 235.6,318.2 235.4,318.5 235.2,318.9 234.9,319.2 234.7,319.5 234.5,319.9 234.3,320.2 234.1,320.5 233.8,320.9 233.6,321.2 233.4,321.5 233.1,321.8 232.8,322.1 232.4,322.3 232,322.5 231.7,322.7 231.6,323.1 231.4,323.5 231.3,323.9 231.1,324.3 230.9,324.6 230.6,324.9 230.3,325.2 230.1,325.5 229.8,325.8 229.5,326.1 229.3,326.4 229,326.7 228.7,327 228.4,327.3 228.1,327.6 227.9,327.8 227.6,328.1 227.3,328.4 227,328.7 226.7,329 226.4,329.2 226.1,329.5 225.8,329.8 225.5,330 225.2,330.3 224.9,330.5 224.5,330.7 224.1,330.8 223.7,330.9 223.3,331.1 223.1,331.4 222.8,331.8 222.6,332.1 222.3,332.5 222,332.7 221.7,332.9 221.3,333.1 221,333.3 220.6,333.5 220.2,333.6 219.9,333.8 219.5,334 219.2,334.1 218.8,334.3 218.4,334.5 218.1,334.6 217.7,334.8 217.3,334.9 216.9,335 216.6,335.2 216.2,335.3 215.3,335.3 214.5,335.2 214.1,335.5 213.8,335.7 213.5,336 213.1,336.2 212.7,336.3 212.3,336.4 211.9,336.5 211.6,336.6 211.2,336.7 210.8,336.7 210.4,336.8 210,336.8 209.6,336.9 209.2,337 208.4,337.1 208,337.1 207.6,337.2 207.2,337.2 206.8,337.3 206.4,337.4 206,337.4 205.6,337.4 205.2,337.3 204.8,337.2 204.3,337.1 204,337.3 203.6,337.5 203.2,337.7 202.8,337.8 202,337.8 201.6,337.7 201.3,337.7 200.9,337.5 200.5,337.4 200.1,337.2 199.8,337.1 199.4,336.9 199,336.7 198.7,336.6 198.3,336.5 197.9,336.4 197.1,336.3 196.3,336.4 195.9,336.6 195.6,336.7 195.2,336.9 194.8,337 194.4,337.1 194,337.1 193.2,337.1 192.8,337.4 192.5,337.6 192.2,337.8 191.8,338 191,338 190.2,338 189.4,337.9 189,337.8 188.6,337.7 188.2,337.6 187.8,337.6 187.4,337.5 187,337.4 186.7,337.3 186.3,337.3 185.9,337.2 185.5,337.1 185.1,337 184.7,336.9 184.3,336.9 183.9,336.8 183.5,336.7 183.1,336.6 182.7,336.5 182.4,336.4 182,336.1 181.7,335.9 181.4,335.6 181,335.3 180.2,335.4 179.3,335.4 178.9,335.2 178.6,335.1 178.2,334.9 177.8,334.8 177.5,334.7 177.1,334.5 176.7,334.3 176.3,334.2 176,334 175.6,333.8 175.3,333.7 174.9,333.5 174.5,333.3 174.2,333.1 173.9,332.9 173.5,332.7 173.2,332.5 172.8,332.3 172.5,332 172.2,331.8 171.9,331.6 171.6,331.2 171.4,330.8 171.2,330.5 171,330.1 170.6,330 170.2,329.8 169.8,329.7 169.4,329.5 169.1,329.3 168.8,329 168.5,328.7 168.2,328.4 167.9,328.2 167.6,327.9 167.4,327.6 167.1,327.3 166.8,327 166.5,326.7 166.2,326.5 166,326.2 165.7,325.9 165.4,325.6 165.2,325.3 164.9,325 164.6,324.7 164.4,324.4 164.1,324.1 163.9,323.7 163.8,323.3 163.7,322.9 163.5,322.5 163.1,322.3 162.8,322.1 162.4,321.8 162,321.6 161.8,321.3 161.5,321 161.3,320.7 161,320.4 160.8,320.1 160.5,319.8 160.3,319.4 160.1,319.1 159.8,318.8 159.6,318.5 159.4,318.1 159.1,317.8 158.9,317.5 158.7,317.1 158.5,316.8 158.2,316.5 158,316.1 157.8,315.8 157.6,315.4 157.4,315.1 157.2,314.7 157.1,314.4 156.9,314 156.7,313.7 156.6,313.3 156.6,312.8 156.5,312.4 156.5,312 156.2,311.7 155.9,311.4 155.6,311.1 155.3,310.8 155.1,310.4 155,310.1 154.8,309.7 154.6,309.3 154.5,309 154.3,308.6 154.2,308.2 154,307.9 153.9,307.5 153.7,307.1 153.6,306.7 153.4,306.4 153.3,306 153.1,305.6 153,305.2 152.9,304.9 152.7,304.5 152.8,303.6 152.8,302.8 152.6,302.5 152.3,302.1 152.1,301.8 151.9,301.4 151.8,301 151.7,300.6 151.6,300.2 151.5,299.8 151.5,299.5 151.4,299.1 151.3,298.7 151.2,298.3 151.2,297.9 151.1,297.5 151,296.7 150.9,295.9 150.9,295.1 150.8,294.3 150.7,293.5 150.7,292.7 150.8,291.9 151,291.5 151.2,291.1 151.3,290.7 151.2,290.3 151,289.9 150.9,289.5 150.8,289.1 150.8,288.3 150.8,287.5 150.8,286.7 150.9,285.9 150.9,285.1 150.9,284.3 151,283.5 151,282.7 151.1,281.9 151.2,281.5 151.4,281.1 151.6,280.7 151.8,280.3 151.7,279.9 151.5,279.5 151.4,279.1 151.3,278.7 151.4,277.9 151.5,277.1 151.6,276.3 151.7,275.5 151.7,275.1 151.8,274.7 151.8,274.3 151.9,273.9 152,273.5 152,273.1 152.1,272.8 152.2,272.4 152.2,272 152.5,271.6 152.7,271.2 152.9,270.9 153.1,270.5 153.1,270.1 153,269.7 152.9,269.3 152.9,268.8 153,268.4 153.1,268.1 153.2,267.7 153.2,267.3 153.3,266.9 153.4,266.5 153.5,266.1 153.6,265.7 153.7,265.3 153.8,264.9 153.9,264.6 154,264.2 154.1,263.8 154.2,263.4 154.3,263 154.4,262.6 154.6,262.2 154.8,261.9 155.1,261.6 155.3,261.2 155.6,260.9 155.6,260.5 155.5,260 155.5,259.2 155.6,258.8 155.7,258.4 155.9,258 156,257.7 156.1,257.3 156.2,256.9 156.4,256.5 156.5,256.1 156.6,255.8 156.8,255.4 156.9,255 157,254.6 157.2,254.2 157.3,253.9 157.4,253.5 157.6,253.1 157.7,252.7 157.9,252.4 158.1,252 158.4,251.7 158.7,251.4 159,251.1 159,250.2 159,249.4 159.2,249 159.4,248.7 159.5,248.3 159.7,247.9 159.8,247.6 160,247.2 160.2,246.8 160.3,246.5 160.5,246.1 160.7,245.7 160.9,245.4 161,245 161.2,244.7 161.4,244.3 161.6,244 161.8,243.6 161.9,243.2 162.1,242.9 162.3,242.5 162.5,242.2 162.7,241.8 162.9,241.5 163.1,241.1 163.4,240.9 163.8,240.6 164.1,240.3 164.4,240.1 164.5,239.6 164.6,239.2 164.7,238.8 164.8,238.4 165,238.1 165.2,237.7 165.4,237.4 165.7,237.1 165.9,236.8 166.1,236.4 166.4,236.1 166.7,235.8 166.9,235.5 167.2,235.2 167.5,234.9 167.7,234.6 168,234.3 168.3,234.1 168.6,233.8 168.9,233.5 169.1,233.2 169.4,233 169.8,232.8 170.2,232.6 170.6,232.5 171,232.3 171.2,232 171.4,231.6 171.7,231.2 171.9,230.9 172.2,230.6 172.5,230.4 172.8,230.1 173.1,229.9 173.5,229.6 173.8,229.4 174.1,229.2 174.4,228.9 174.7,228.7 175.1,228.5 175.4,228.2 175.7,228 176.1,227.8 176.4,227.6 176.7,227.3 177.1,227.1 177.4,226.9 177.8,226.7 178.1,226.5 178.4,226.3 178.9,226.2 179.3,226.2 179.7,226.1 180.1,226.1 180.4,225.8 180.7,225.5 181,225.2 181.3,224.9 181.7,224.8 182.1,224.6 182.4,224.5 182.8,224.4 183.2,224.2 183.6,224.1 184,224 184.4,223.9 184.7,223.8 185.1,223.7 185.5,223.6 185.9,223.5 186.3,223.4 186.7,223.3 187.1,223.2 187.5,223.1 187.9,223 188.2,223 188.6,222.9 189.4,222.8 190.2,222.9 190.6,223.1 191,223.3 191.4,223.4 191.8,223.3 192.2,223.2 192.6,223.1 193,223 193.8,223 194.6,223.1 195,223.2 195.4,223.2 195.8,223.3 196.2,223.4 196.6,223.4 197.4,223.5Z" fill="#8a8a8a" stroke="#151515" stroke-width="0.9"/>
<path d="M188.9,224.9 188.2,225 187.5,225.1 186.8,225.3 186.4,225.4 186,225.5 185.6,225.6 185.3,225.7 184.9,225.8 184.6,225.9 184.2,226 183.8,226.1 183.5,226.3 183.1,226.4 183.2,228.1 185,228.5 185.5,228.7 186,228.9 186.3,229.2 186.7,229.6 186.9,230.1 187.1,230.6 187.1,231.1 187.1,231.6 186.9,232 186.7,232.5 186.4,232.9 186,233.2 185.5,233.4 185,233.6 184.5,233.6 184,233.6 183.6,233.5 183.6,234.2 183.5,234.6 183.4,235.1 183.1,235.5 182.8,235.8 182.4,236.1 182,236.3 181.6,236.4 181.1,236.5 180.6,236.4 180.2,236.2 179.8,236 179.4,235.7 179.1,235.3 178.9,234.9 178.8,234.4 178.8,233.9 178.9,232.2 178.9,231.4 178.7,230.9 178.6,230.4 178.7,229.9 178.6,229.2 178.4,228.6 178.1,228.8 177.8,229 177.5,229.2 177.2,229.4 176.9,229.7 176.5,229.9 176.2,230.1 175.9,230.3 175.6,230.5 175.3,230.8 175,231 174.7,231.2 174.4,231.5 174,231.7 174.4,232.5 176.1,234.9 177.6,237.5 179,240.2 179.7,242 180.3,242.2 180.8,242.4 181.3,242.7 181.6,243.1 181.9,243.6 182.1,244.1 182.2,244.6 182.1,245.2 182,245.7 181.8,246.2 181.4,246.6 181,247 180.6,247.3 180.1,247.4 179.5,247.5 179,247.5 175.6,247 172.1,246.2 168.8,245.1 165.6,243.8 164.3,243.1 164.1,243.5 163.9,243.9 163.7,244.2 163.5,244.5 163.3,244.9 163.2,245.2 163,245.6 162.8,245.9 162.7,246.3 162.5,246.6 162.3,247 162.2,247.3 162,247.7 161.8,248 161.7,248.4 161.5,248.7 161.4,249.1 161.2,249.5 162,249.8 164.6,251.1 167.3,252.5 169.8,254 172.3,255.6 172.7,255.9 173,256.3 173.2,256.7 173.4,257.1 173.4,257.6 173.4,258 173.3,258.5 173,258.9 172.8,259.3 172.4,259.6 172,259.8 171.6,259.9 171.1,260 170.6,259.9 170.2,259.8 169.8,259.6 167.4,258 165,256.6 162.6,255.3 160.1,254.1 159.4,253.9 159.2,254.6 159,254.9 158.9,255.3 158.8,255.7 158.6,256 158.5,256.4 158.4,256.8 158.3,257.2 158.1,257.5 158,257.9 157.9,258.3 157.8,258.7 158,258.9 160.2,259.8 162.4,261 164.5,262.4 166.5,264 166.9,264.3 167.2,264.8 167.4,265.3 167.5,265.8 167.5,266.3 167.4,266.8 167.7,267.1 168.2,267.4 168.5,267.8 168.9,268.2 169.1,268.7 169.2,269.2 169.2,269.8 169.2,270.3 169,270.8 168.7,271.2 168.3,271.6 167.9,272 167.4,272.2 164.3,273 164.4,273.4 164.5,273.8 164.6,274.2 164.5,274.8 164.4,275.2 164.1,275.6 163.9,275.9 163.5,276.1 163.1,276.3 162.7,276.4 162.1,276.4 161.7,276.3 161.3,276.1 161,275.9 160.7,275.6 160.5,275.2 159.7,273.6 158.1,273.7 155.1,273.5 154,273.4 153.9,273.9 153.8,274.6 153.7,275.4 153.6,276.2 153.5,276.9 153.4,277.7 154,277.7 156.5,278.2 159.1,278.9 161.7,279.8 164.2,280.9 164.7,281.2 165.1,281.5 165.5,282 165.8,282.5 165.9,283 166,283.6 165.9,284.1 165.7,284.7 165.4,285.2 165.1,285.6 164.6,286 164.1,286.2 163.6,286.4 163,286.4 162.5,286.3 162,286.2 159.7,285.2 157.5,284.4 155.3,283.8 153.1,283.4 152.9,284 152.9,284.8 152.9,285.6 152.8,286.4 152.8,287.2 152.8,288 152.8,288.6 153.3,288.6 155.9,289.1 156.8,289.3 158,287.8 158.4,287.4 158.8,287.2 159.2,287 159.7,286.9 160.1,286.9 160.6,286.9 161,287.1 161.4,287.4 161.8,287.7 162,288.1 162.2,288.5 162.3,289 162.3,289.5 162.3,289.9 162.1,290.4 161.8,290.8 161.6,291.1 163.5,292.1 163.9,292.3 164.2,292.6 164.5,293 164.7,293.4 164.8,293.8 164.8,294.3 164.7,294.7 164.5,295.1 164.3,295.5 164,295.8 163.6,296.1 163.2,296.3 162.8,296.4 162.3,296.4 161.9,296.3 162,296.9 162,297.4 162,297.8 161.9,298.3 161.7,298.7 162.1,298.7 162.6,298.7 163.1,298.9 163.5,299.1 163.9,299.4 164.2,299.8 164.4,300.2 164.6,300.6 164.6,301.1 165.2,301.1 165.7,301.1 166.2,301.2 166.7,301.4 167.1,301.6 167.5,302 167.8,302.4 168,302.9 168.1,303.4 168.1,303.9 168.1,304.4 167.9,304.9 167.6,305.3 166,307.5 166.3,307.8 166.7,308 167,308.3 167.2,308.6 167.4,309 167.4,309.4 167.4,310 167.3,310.4 167.1,310.8 166.9,311.1 166.5,311.3 166.2,311.5 165.8,311.7 165.2,311.7 164.8,311.6 164.4,311.5 162.9,310.7 161.9,311.6 159.6,313.2 158.9,313.6 159.2,314.1 159.4,314.4 159.6,314.8 159.8,315.1 159.9,315.4 160.1,315.7 160.4,316.1 160.6,316.4 160.8,316.7 161,317 161.2,317.3 161.4,317.6 161.7,317.9 161.9,318.2 162.1,318.5 162.4,318.8 162.6,319.1 162.8,319.5 163.1,319.8 164.2,318.8 165.4,317.7 166.6,316.4 167.8,315.2 168.2,314.9 168.6,314.6 169,314.5 169.4,314.4 169.9,314.5 170.3,314.6 170.7,314.8 171,315.1 171.3,315.4 171.6,315.8 171.7,316.2 171.8,316.6 171.7,317.1 171.6,317.5 171.4,317.9 171.1,318.3 169.9,319.6 168.6,320.9 167.3,322.2 166,323.3 166.4,323.6 166.6,323.9 166.9,324.2 167.2,324.5 167.4,324.8 167.7,325.1 168,325.4 168.2,325.6 168.5,325.9 168.8,326.2 169,326.5 169.3,326.7 169.6,327 169.9,327.3 170.2,327.1 172.1,325.5 174.2,323.9 176.4,322.6 178.8,321.4 179.3,321.3 179.6,320.7 179.7,320.2 180,319.8 180.3,319.3 180.8,319 181.3,318.8 181.8,318.6 182.3,318.6 182.9,318.6 183.4,318.8 183.8,319.1 184.2,319.4 184.6,319.9 184.8,320.3 185,320.9 185.2,324.2 185.2,327.5 184.9,330.6 184.3,333.7 184,334.8 184.7,334.9 185.1,335 185.5,335.1 185.8,335.1 186.2,335.2 186.6,335.3 187,335.4 187.4,335.4 187.8,335.5 188.2,335.6 188.6,335.7 189.3,335.8 190.1,335.9 189.4,333.8 188.2,331.6 187,329.4 185.7,327.2 185.5,326.8 185.4,326.3 185.4,325.9 185.4,325.5 185.6,325.1 185.8,324.7 186.1,324.3 186.4,324.1 186.8,323.9 187.3,323.8 187.7,323.8 188.1,323.8 188.5,324 188.9,324.2 189.2,324.5 189.5,324.8 190.9,327.1 192.2,329.5 193.4,331.9 194.5,334.4 194.7,334.9 195.2,334.7 195.3,333.8 195.4,330.7 195.4,327.2 195.4,324 195.4,321.5 195,321.7 194.6,321.9 194.1,321.9 193.5,321.8 193.2,321.6 192.9,321.4 192.7,321.1 192.5,320.8 192,319.5 191.5,317.9 191,315.9 190.6,313.7 190.5,311.4 190.6,308.9 190.8,306.5 191,304.4 191.4,302.3 192,300.2 192.5,298.6 192.8,297.4 193,297.1 193.2,296.8 193.5,296.5 193.8,296.3 194.1,296.2 194.7,296.1 195.2,296.2 195.2,293.8 195.2,291 195.2,288.2 195.4,282.7 195.4,280 195.4,277.3 195.3,274.6 195.2,271.8 195.2,269 195.2,266.2 195.2,265.6 194.9,265.8 194.5,265.9 194,265.9 193.4,265.7 193.1,265.6 192.8,265.3 192.6,265 192.4,264.7 192,263.2 191.5,261.3 190.9,259 190.6,256.5 190.5,253.8 190.6,250.9 190.8,248.1 191,245.6 191.4,243.2 192,240.8 192.4,239.2 191.3,236.7 191,236 190.7,236.2 190.4,236.4 190,236.5 189.5,236.5 189.1,236.5 188.7,236.4 188.3,236.2 188,235.9 187.7,235.5 187.5,235.2 187.4,234.7 187.4,234.3 187.4,233.9 187.5,233.5 187.8,233.1 188,232.8 188.4,232.5 189.7,231.6 189.3,229.8 189,226.3 188.9,224.9ZM170,235.2 169.7,235.5 169.4,235.7 169.2,236 168.9,236.3 168.7,236.6 168.4,236.8 168.2,237.1 167.9,237.4 167.7,237.7 167.5,238 167.3,238.3 167.9,238.7 170.6,239.9 173.5,240.8 173.1,240 171.8,237.8 170.3,235.6 170,235.2ZM156.1,264.3 156,264.7 155.9,265.1 155.8,265.4 155.7,265.8 155.6,266.2 155.5,266.6 155.4,267 155.3,267.3 155.2,267.7 155.5,268.1 158,268.2 160.5,268 162.4,267.7 161.3,266.9 159.6,265.8 157.9,264.8 156.1,264ZM152.7,293.4 152.8,294.1 152.8,294.9 152.9,295.7 153,296.4 153.1,297.2 153.2,298 153.4,298.7 153.5,299.5 153.6,300.1 155.6,299.6 156.5,299.4 157.6,296.6 157.8,296.2 158.1,295.9 158.4,295.6 158.8,295.4 159.2,295.2 157.7,294.4 157.2,294.3 156.7,294.1 156.4,293.9 154.9,293.5 152.8,293.1ZM155,304.9 155.1,305.3 155.3,305.7 155.4,306 155.6,306.4 155.7,306.7 155.9,307.1 156,307.5 156.2,307.8 156.3,308.2 156.5,308.5 156.6,308.9 158.5,307.6 160.2,306 161.8,304.3 162.3,303.6 160.4,303.8 158.5,304.1 156.6,304.4 155,304.8ZM174.3,330.8 174.6,331 174.9,331.2 175.2,331.4 175.5,331.5 175.8,331.7 176.1,331.9 176.5,332 176.8,332.2 177.2,332.4 177.5,332.5 177.9,332.7 178.2,332.8 178.6,332.9 178.9,332.5 179.4,330 179.6,328.6 177,328.4 175.5,329.5 174.1,330.7ZM199.4,334.7 199.8,334.9 200.2,335.1 200.6,335.2 200.9,335.4 200.6,333.8 199.7,331.7 199.4,331.1 199.3,333.9 199.3,334.7ZM206.9,335.3 207.3,335.2 207.7,335.1 208.1,335.1 208.5,335 209.3,334.9 210.1,334.8 210.8,334.7 211.5,334.6 211.3,333.9 210.6,332.6 209.8,331.3 208.8,330 208.5,329.6 208.3,329.2 208.3,328.8 208.3,328.3 208.4,327.9 208.6,327.5 208.8,327.1 209.1,326.8 209.5,326.5 210,326.3 210.4,326.3 210.9,326.3 211.3,326.4 211.7,326.6 212.1,326.8 212.4,327.1 212.7,327.5 212.9,327.2 213.2,326.9 212.9,326.4 212.6,326 212.3,325.5 212.2,324.9 212.1,324.4 212.2,323.8 212.4,323.3 212.6,322.8 213,322.4 213.4,322 213.9,321.8 214.5,321.6 215.1,321.6 215.6,321.6 216.1,321.8 217.9,322.8 218.2,322.4 218.6,322.1 219,321.9 219.5,321.8 220,321.8 220.4,321.9 220.9,322.1 221.3,322.3 221.6,322.7 221.9,323.1 222,323.5 222.1,323.9 222.1,324.4 222.1,324.9 221.9,325.6 222.5,326.1 224.3,327.8 224.6,328.2 225,327.8 225.3,327.5 225.6,327.2 225.9,327 226.2,326.7 226.5,326.4 226.7,326.1 227,325.9 227.3,325.6 227.5,325.3 227.8,325 228.1,324.8 228.3,324.5 228.6,324.2 228.9,323.9 228.5,323.4 226.1,322 223.6,320.8 221,319.8 218,319 217.6,318.8 217.2,318.5 216.8,318.2 216.6,317.8 216.4,317.4 216.3,316.9 216.3,316.5 216.4,316 216.5,315.6 216.8,315.2 217.1,314.8 217.5,314.6 217.9,314.4 218.4,314.3 218.9,314.3 219.3,314.4 222.4,315.2 225.4,316.4 228.3,317.7 231,319.3 232,320 232.2,319.7 232.4,319.4 232.6,319.1 232.8,318.8 233,318.5 233.3,318.1 233.4,317.8 233.6,317.5 233.8,317.2 234,316.8 234.2,316.5 234.4,316.2 234.6,315.8 234.8,315.5 234.9,315.1 233.1,314.4 231.8,314.2 229.4,315.4 228.9,315.6 228.4,315.6 228,315.6 227.5,315.5 227,315.3 226.6,315 226.3,314.7 226,314.2 225.8,313.8 225.4,313.4 225,313.1 224.6,312.8 224.4,312.4 224.2,311.9 224.1,311.4 224.1,310.9 224.2,310.4 224.4,310 224.7,309.6 225.1,309.2 225.5,308.9 225.9,308.8 226.4,308.7 229.2,308.7 231.8,309 234.3,309.5 236.7,310.2 237.3,310.5 237.6,309.8 237.7,309.5 237.9,309.1 238.1,308.8 238.2,308.4 238.4,308.1 238.5,307.7 238.7,307.4 238.8,307 239,306.6 238.7,306.2 236.4,305.2 234.1,304 231.8,302.7 229.6,301.1 229.3,300.8 229,300.5 228.8,300 228.6,299.6 228.6,299.1 228.7,298.6 228.8,298.2 229,297.8 229.3,297.4 229.7,297.1 230.1,296.9 230.4,296.6 230.4,296.1 230.5,295.6 230.6,295.2 230.9,294.8 231.2,294.4 231.6,294.2 232.1,294 234.4,293.2 236.9,292.7 239.3,292.4 241.8,292.3 242.3,292.4 242.4,292 242.5,291.2 242.6,290.4 242.6,289.6 242.7,288.8 242.8,288.1 242.9,287.3 242.9,286.9 242.2,286.8 239.5,286.7 236.8,286.5 234.1,286.3 231.3,286.1 230.8,286 230.3,285.8 229.9,285.5 229.5,285.1 229.2,284.7 229,284.2 228.9,283.6 228.9,283.1 229,282.6 229.2,282.1 229.5,281.7 229.9,281.3 230.3,281 230.8,280.8 231.3,280.7 231.8,280.7 234.5,280.9 237.2,281.1 239.8,281.3 242.5,281.4 243.1,281.5 243.1,280.7 243.1,279.9 243,279.1 243,278.3 243,277.5 241.9,277.4 240.3,277.6 238.8,278 237.2,278.5 236.7,278.6 236.2,278.6 235.8,278.5 235.3,278.4 234.9,278.1 234.6,277.8 234.3,277.4 234.1,276.9 234,276.5 234,276 234.1,275.5 234.3,275.1 234.6,274.7 234.9,274.4 235.3,274.1 235.7,273.9 237.4,273.4 239.2,272.9 241.1,272.6 242.8,272.4 242.7,271.6 242.7,270.8 242.6,270.1 242.5,269.3 242.4,268.5 242.3,267.8 242.2,267 242,266.3 242,265.9 240.2,266 238.2,266 236.2,265.8 234.1,265.4 233.7,265.3 233.3,265 232.9,264.7 232.6,264.4 232.4,264 232.2,263.5 232.2,263.1 232.2,262.6 232.4,262.1 232.6,261.7 232.9,261.4 233.2,261.1 233.7,260.8 234.1,260.7 234.6,260.7 235,260.7 236.8,261.1 238.4,261.2 239.9,261.2 240.8,261.2 240.6,260.7 240.5,260.3 240.4,259.9 240.3,259.5 240.2,259.2 240,258.8 239.9,258.4 239.8,258.1 239.7,257.7 239.5,257.3 237.2,257.9 235,258.5 232.8,259 230.6,259.5 230.1,259.6 229.6,259.5 229.1,259.4 228.7,259.2 228.3,258.8 228,258.5 227.7,258 227.6,257.5 227.5,257 227.6,256.5 227.7,256.1 228,255.6 228.3,255.2 228.7,254.9 229.1,254.7 229.6,254.5 231.7,254.1 233.7,253.6 235.6,253 237.6,252.4 237.4,251.9 237.2,251.5 237,251.1 236.9,250.7 236.7,250.4 236.6,250 236.4,249.6 236.3,249.2 236.1,248.9 236,248.5 235.8,248.1 235.7,247.7 235.5,247.3 234.3,247.9 232.8,248.6 231.3,249.3 229.7,250 229.2,250.2 228.7,250.3 228.2,250.3 227.6,250.1 227.1,249.9 226.7,249.6 226.3,249.2 226.1,248.8 225.9,248.2 225.8,247.7 225.8,247.2 225.9,246.6 226.2,246.2 226.5,245.7 226.9,245.4 227.3,245.1 228.9,244.3 230.5,243.6 232.1,242.8 233.4,242.3 233.1,241.7 232.9,241.4 232.7,241 232.5,240.7 232.3,240.4 232.1,240.1 232,239.8 231.7,239.4 231.5,239.1 231.3,238.8 231.1,238.5 230.9,238.2 230.7,237.9 229.6,238.7 229.7,241.2 229.7,241.7 229.6,242.2 229.4,242.7 229.2,243.1 228.8,243.5 228.4,243.8 227.9,244 227.4,244.1 226.9,244.1 226.4,244 226,243.8 225.5,243.6 225.2,243.2 224.9,242.8 224.5,242.9 224,242.9 223.6,242.8 223.2,242.6 222.8,242.4 222.5,242.1 222.2,241.7 222,241.3 222,240.8 222,240.4 222.1,239.9 222.2,239.5 222.5,239.1 223.9,237.8 224.3,237.4 224.5,236.8 224.8,236.4 225.2,236.1 225.7,235.8 226.3,235.3 227.3,234.4 227.1,234.2 226.8,233.9 226.5,233.7 226.2,233.4 225.9,233.2 225.6,232.9 225.3,232.7 225,232.5 224.7,232.3 224.4,232.1 224.1,231.9 223.8,231.6 223.5,231.9 222.2,234 220.8,236.1 219.4,238.1 217.8,240.1 217.5,240.5 217,240.8 216.6,241 216.1,241.1 215.6,241.1 215.1,241 214.7,240.8 214.3,240.5 213.9,240.2 213.6,239.8 213.4,239.3 213.3,238.9 213.3,238.4 213.4,237.9 213.6,237.4 213.8,237 215.3,235.1 216.7,233.3 218,231.3 219.2,229.4 218.8,229 218.4,228.8 218.1,228.6 217.7,228.5 217.4,228.3 217,228.2 216.6,228 216.3,227.8 215.9,227.7 215.6,227.5 215.2,227.4 214.8,227.3 214.5,227.1 214.1,227 213.8,226.8 213.2,227.7 212.1,230.7 211,233.7 209.7,236.6 208.4,239.5 208.1,239.9 207.8,240.3 207.5,240.5 207,240.7 206.6,240.9 206.1,240.9 205.7,240.8 205.2,240.7 204.8,240.4 204.5,240.1 204.2,239.7 204,239.3 203.9,238.9 203.9,238.4 203.9,237.9 204.1,237.5 205,235.5 204.7,235.3 204.4,234.9 204.3,234.5 203.9,235.7 203.8,236.1 203.6,236.5 203.3,236.8 202.9,237.1 202.5,237.3 202.1,237.4 202.1,238.9 202.6,240.8 203.2,243.1 203.6,245.5 203.8,248.1 204,250.9 204.1,253.7 204,256.3 203.7,258.8 203.1,261.2 202.6,263.2 202.2,264.5 202.1,264.9 201.9,265.2 201.6,265.4 201.3,265.7 201,265.8 200.4,265.9 199.9,265.8 199.5,265.7 199.2,265.5 199.2,266.3 199.2,269 199.2,271.7 199.3,274.4 199.4,277.2 199.4,280 199.4,282.8 199.2,288.3 199.2,291 199.2,293.7 199.3,296.2 199.7,296.1 200.3,296.1 200.7,296.2 201,296.4 201.3,296.7 201.5,296.9 201.7,297.3 202.1,298.6 202.6,300.2 203.1,302.1 203.6,304.2 203.8,306.5 204,308.8 204.1,311.2 204,313.5 203.7,315.7 203.1,317.8 202.6,319.5 202.2,320.6 202,320.9 201.8,321.2 201.6,321.5 201.2,321.7 200.9,321.8 200.3,321.9 199.8,321.8 199.5,321.7 199.4,323.1 200,323.3 200.5,323.5 200.9,323.8 201.3,324.2 202.9,326.5 204.4,329.1 205.6,331.7 206.5,334.4 206.7,335.3ZM216.2,333.2 216.6,333 217,332.9 217.3,332.8 217.7,332.6 218,332.5 218.4,332.3 218.7,332.2 219,332 219.4,331.9 219.7,331.7 218.8,330.4 217.2,329.2 216.8,328.9 216.6,329.4 216.5,329.7 215.3,331.4 215.5,331.8 216.2,333.2ZM240.6,301.6 240.7,301.2 240.8,300.8 240.8,300.4 240.9,300.1 241,299.7 241.1,299.3 241.2,298.9 241.3,298.5 241.3,298.1 241.4,297.7 241.5,297.4 239.8,297.2 237.8,297.5 235.8,297.9 234.1,298.4 236.3,299.8 238.3,300.8 240.4,301.7ZM208.6,225.3 208.2,225.2 207.8,225.2 207.5,225.1 207.1,225 206.7,224.9 206.3,224.8 205.8,224.7 205.5,224.6 205.1,224.5 204.7,224.4 204.9,227.1 204.9,228.4 207.3,229.3 207.7,229.1 208.6,226.3 208.9,225.4ZM200,225.2 199.5,225.3 199.3,226.1 199.4,229.3 199.4,232.8 199.4,236 199.5,235.6 199.5,235.2 199.5,234.7 200.1,232.1 200.4,230 200.4,229.4 200.5,227.4 200.3,225.1ZM195.1,225.2 194.3,225.1 193.9,225 193.9,225.9 194.2,228.8 194.8,231.8 195.4,233.7 195.4,232.8 195.4,229.3 195.3,226.2 195.3,225.3ZM195.2,310.2 195.4,304.7 195.4,302 195.1,303.1 194.8,304.9 194.5,306.9 194.4,309.1 194.3,311.3 194.4,313.2 194.6,314.9 195.1,316.7 195.2,315.8 195.2,313 195.2,310.2ZM199.2,310.3 199.2,313 199.2,315.7 199.3,317.3 199.5,316.7 200,314.9 200.2,313.2 200.3,311.3 200.2,309.1 200.1,306.9 199.8,304.9 199.5,303.1 199.4,304.8ZM194.3,253.7 194.4,256 194.7,258.2 195.2,260.3 195.4,261.1 195.4,258 195.4,255.3 195.3,252.6 195.2,249.8 195.2,247 195.2,244.2 195.2,243.6 194.8,246.1 194.5,248.4 194.4,251.1ZM200.3,253.7 200.2,251.1 200.1,248.4 199.8,246.1 199.4,243.9 199.2,243 199.2,244.3 199.2,247 199.2,249.7 199.3,252.4 199.4,255.2 199.4,258 199.4,260.4 199.9,258.2 200.2,256Z" fill="#ececec" filter="url(#bw)"/>
<path d="M202.2,222.8 202.5,224.8 202.7,227.3 202.7,229.9 202.3,232.5 201.7,235.2 M202.7,229.9 206.4,231.4 M211.7,224.6 210.9,227 209.9,229.9 208.8,232.8 207.6,235.7 206.2,238.5 M208.8,232.8 206.3,233.8 M222.3,229 221.3,230.7 220.1,232.7 218.7,234.7 217.3,236.7 215.8,238.6 M230,235 229.2,235.8 227.9,237 226.7,238.2 225.5,239.4 224.3,240.6 M226.7,238.2 227.1,241.5 M235.9,244.2 234.8,244.7 233.2,245.3 231.6,246.1 230.1,246.8 228.5,247.5 M240,254.2 238.4,254.8 236.4,255.4 234.3,256 232.2,256.6 230.1,257 M242.9,263.3 241.7,263.5 240,263.6 238.2,263.6 236.4,263.4 234.6,263 M244.4,274.7 243.2,274.8 241.5,275 239.8,275.3 238.1,275.7 236.4,276.2 M244.5,284.2 242.3,284.1 239.7,284 237,283.8 234.3,283.6 231.6,283.4 M243.4,294.9 241.8,294.8 239.6,294.8 237.4,295.1 235.1,295.6 232.8,296.3 M241.3,304.6 239.5,304 237.3,303 235.2,301.9 233.1,300.6 231,299.2 M237.5,313.3 235.9,312.7 233.8,312 231.5,311.5 229.1,311.3 226.6,311.2 M231.5,311.5 228.3,313.1 M231.8,322.8 229.8,321.4 227.3,319.9 224.6,318.6 221.7,317.5 218.7,316.7 M223.3,331.1 222.3,329.9 220.7,328.3 219,326.9 217.1,325.6 215,324.4 M219,326.9 219.8,324.2 M214.5,335.3 214.1,334.3 213.4,332.8 212.6,331.3 211.7,329.9 210.6,328.6 M212.6,331.3 214.6,328.6 M204.4,337.2 203.9,335.2 203.2,332.8 202.1,330.4 200.7,328.1 199.1,325.8 M193.2,337.2 192.4,335.3 191.4,332.9 190.2,330.5 189,328.3 187.6,326 M181,335.4 181.6,333.2 182.2,330.3 182.5,327.4 182.5,324.4 182.2,321.3 M170.9,330.2 172.1,328.9 173.8,327.4 175.7,326.1 177.7,324.9 180,323.8 M175.7,326.1 180.2,326.3 M163.4,322.5 164.4,321.7 165.7,320.5 167,319.3 168.3,318 169.5,316.7 M156.4,312 158.1,311.1 160.2,309.6 162.1,307.9 163.9,306 165.5,303.7 M162.1,307.9 165.4,309.6 M152.7,302.8 154.2,302.4 156.2,302 158.1,301.6 160.1,301.4 162.2,301.1 M158.1,301.6 159.7,297.5 M151.2,290.7 153.1,290.9 155.4,291.3 157.8,292 160.2,292.9 162.5,294.1 M157.8,292 159.9,289.3 M151.7,280.3 153.6,280.6 156,281.1 158.4,281.7 160.7,282.5 163.1,283.5 M153,270.5 155.2,270.8 158,270.9 160.8,270.8 163.6,270.3 166.5,269.6 M160.8,270.8 162.4,274.3 M155.5,260.8 157.1,261.4 159.1,262.3 161,263.4 162.9,264.7 164.8,266.1 M158.9,251.1 161.1,252 163.6,253.2 166.1,254.6 168.6,256 171.1,257.6 M164.3,240 166.7,241.3 169.7,242.5 172.8,243.5 176,244.3 179.4,244.8 M171,232.3 172.4,234.1 174,236.4 175.4,238.8 176.7,241.4 177.8,244.1 M180.1,226 180.5,227.1 180.9,228.7 181.2,230.4 181.3,232.2 181.2,234.1 M181.2,230.4 184.5,231.1 M191.4,223.3 191.4,226 191.7,229.2 192.4,232.5 193.5,235.7 195,239 M192.4,232.5 189.6,234.3 M197.3,224 197.3,226.2 197.4,229.3 197.4,232.8 197.5,236 197.4,238.8 197.3,241.6 197.2,244.3 197.2,247 197.2,249.8 197.3,252.5 197.4,255.2 197.5,258 197.4,260.8 197.3,263.5 197.2,266.2 197.2,269 197.2,271.8 197.3,274.5 197.4,277.2 197.5,280 197.4,282.8 197.3,285.5 197.2,288.2 197.2,291 197.2,293.8 197.3,296.5 197.4,299.2 197.5,302 197.4,304.8 197.3,307.5 197.2,310.2 197.2,313 197.2,315.7 197.3,318.4 197.4,321.2 197.5,324 197.4,327.2 197.4,330.7 197.3,333.8 197.3,336 M194.7,238 194.3,239.3 193.8,241.2 193.3,243.5 192.9,245.8 192.6,248.3 192.5,251 192.4,253.7 192.5,256.2 192.8,258.5 193.3,260.8 193.9,262.7 194.2,264 M199.9,238 200.3,239.3 200.8,241.2 201.3,243.5 201.7,245.8 202,248.3 202.1,251 202.2,253.7 202.1,256.2 201.8,258.5 201.3,260.8 200.7,262.7 200.4,264 M194.7,298 194.3,299.1 193.8,300.8 193.3,302.6 192.9,304.6 192.6,306.7 192.5,309 192.4,311.3 192.5,313.4 192.8,315.4 193.3,317.2 193.9,318.9 194.2,320 M199.9,298 200.3,299.1 200.8,300.8 201.3,302.6 201.7,304.6 202,306.7 202.1,309 202.2,311.3 202.1,313.4 201.8,315.4 201.3,317.2 200.7,318.9 200.4,320" fill="none" stroke="#303030" stroke-width="1.1" stroke-linecap="round" stroke-linejoin="round"/>
</g>
<path d="M197.3,236 L197.3,262 M197.3,298 L197.3,330" stroke="#f4f4f4" stroke-width="0.7" stroke-dasharray="2.5 2"/>
<path d="M185.2,270.5 C185.7,270.2 187.1,270.4 187.6,271.5 C188.1,272.6 188.3,275 188.3,277 C188.3,279 187.9,282.2 187.4,283.5 C186.9,284.8 185.7,285.2 185.2,284.5 C184.7,283.8 184.3,280.8 184.2,279 C184.1,277.2 184.2,274.9 184.4,273.5 C184.6,272.1 184.7,270.8 185.2,270.5Z" fill="#fff" stroke="#333" stroke-width="0.7"/>
<path d="M207.6,270.5 C208.1,270.3 209,271.2 209.4,272.5 C209.8,273.8 209.8,276 209.8,278 C209.8,280 209.6,283.4 209.2,284.5 C208.8,285.6 207.7,285.4 207.2,284.5 C206.7,283.6 206.2,280.8 206,279 C205.8,277.2 206,274.9 206.3,273.5 C206.6,272.1 207.1,270.7 207.6,270.5Z" fill="#fff" stroke="#333" stroke-width="0.7"/>
<path d="M197.2,282.5 C197.8,282.5 198.7,283.8 199,285 C199.3,286.2 199.5,288.5 199.2,289.5 C198.9,290.5 197.8,291 197.2,291 C196.6,291 195.7,290.5 195.4,289.5 C195.1,288.5 195.3,286.2 195.6,285 C195.9,283.8 196.6,282.5 197.2,282.5Z" fill="#fff" stroke="#333" stroke-width="0.7"/>
<path d="M185,224 C185.8,222.8 189.2,222.8 191,222.8 C192.8,222.8 195.2,222.8 196,224 C196.8,225.2 196.8,228.6 196,230 C195.2,231.4 192.7,232.5 191,232.5 C189.3,232.5 187,231.4 186,230 C185,228.6 184.2,225.2 185,224Z" fill="#4a4aa8" fill-opacity="0.52" />
<path d="M198.5,224 C199.3,222.6 202.2,222.6 204,222.8 C205.8,223 208.6,223.6 209.5,225 C210.4,226.4 210.2,229.4 209.5,231 C208.8,232.6 206.8,234.4 205,234.4 C203.2,234.4 200.1,232.7 199,231 C197.9,229.3 197.7,225.4 198.5,224Z" fill="#4a4aa8" fill-opacity="0.52" />
<path d="M158.5,252 C159.2,250.1 162,250.5 164,250.8 C166,251.1 169.5,252.3 170.5,254 C171.5,255.7 170.9,259.2 170,261 C169.1,262.8 166.8,264.8 165,265 C163.2,265.2 160.6,264.2 159.5,262 C158.4,259.8 157.8,253.9 158.5,252Z" fill="#4a4aa8" fill-opacity="0.52" />
<path d="M224,257 C224.8,256.1 227.3,255.8 229,256 C230.7,256.2 233.3,256.8 234,258 C234.7,259.2 234,261.9 233,263 C232,264.1 229.4,264.8 228,264.5 C226.6,264.2 225.2,262.8 224.5,261.5 C223.8,260.2 223.2,257.9 224,257Z" fill="#4a4aa8" fill-opacity="0.56" />
<path d="M229,246 C229.8,245.2 231.2,244.2 232,244.5 C232.8,244.8 232.6,247.2 233.5,248 C234.4,248.8 237.1,248.7 237.5,249.5 C237.9,250.3 236.3,251.8 236,253 C235.7,254.2 236.2,256.6 235.5,257 C234.8,257.4 233.2,255.6 232,255.5 C230.8,255.4 228.4,257.1 228,256.5 C227.6,255.9 229.7,253.2 229.5,252 C229.3,250.8 227.1,250 227,249 C226.9,248 228.2,246.8 229,246Z" fill="#f02a0c" fill-opacity="1.0" />
<path d="M231.5,249.5 C231.8,248.9 233.5,249 234,249.5 C234.5,250 234.8,251.9 234.5,252.5 C234.2,253.1 232.5,253.5 232,253 C231.5,252.5 231.2,250.1 231.5,249.5Z" fill="#ff7a00" fill-opacity="1.0" />
<path d="M153,302 C154.1,300.4 157.5,299.6 160,299.5 C162.5,299.4 166.2,300.1 168,301.5 C169.8,302.9 170.4,305.6 170.5,308 C170.6,310.4 169.9,313.9 168.5,316 C167.1,318.1 164.1,320.3 162,320.5 C159.9,320.7 157.5,318.9 156,317 C154.5,315.1 153.7,311.5 153.2,309 C152.7,306.5 151.9,303.6 153,302Z" fill="#4a4aa8" fill-opacity="0.56" />
<path d="M186,301 C187.2,299.7 190.7,298.9 193,299 C195.3,299.1 198.2,300.5 200,301.5 C201.8,302.5 203.6,303.4 204,305 C204.4,306.6 203.8,309.5 202.5,311 C201.2,312.5 198.2,313.8 196,314 C193.8,314.2 190.8,313.7 189,312.5 C187.2,311.3 186,308.9 185.5,307 C185,305.1 184.8,302.3 186,301Z" fill="#4a4aa8" fill-opacity="0.56" />
<path d="M194,300 C194.4,300 199.5,304.8 199.5,305.3 C199.5,305.8 194.7,312 194.3,312 C193.9,312 189,306.5 189,306 C189,305.5 193.6,300 194,300Z" fill="#1cb8f2"/>
<path d="M226,300 C227.3,298.5 230.5,298 233,298 C235.5,298 239.2,298.7 241,300 C242.8,301.3 243.7,303.8 243.5,306 C243.3,308.2 241.8,311.2 240,313 C238.2,314.8 235.2,316.8 233,317 C230.8,317.2 228.3,315.7 227,314 C225.7,312.3 225.2,309.3 225,307 C224.8,304.7 224.7,301.5 226,300Z" fill="#4a4aa8" fill-opacity="0.56" />
<path d="M228.5,301.5 C229.5,300.1 232.1,299.4 234,299.2 C235.9,299 238.9,299.4 240.2,300.5 C241.4,301.6 241.8,303.8 241.5,305.5 C241.2,307.2 240.1,309.6 238.5,310.5 C236.9,311.4 233.7,311.5 232,311 C230.3,310.5 228.8,309.1 228.2,307.5 C227.6,305.9 227.5,302.9 228.5,301.5Z" fill="#ee2a0a"/>
<path d="M229.3,302.1 228.8,304.5 229.1,307.2 230.4,308.9 231.6,309.8 234.1,310.3 237.3,309.9 238.6,309.2 239.6,307.8 240.3,306.1 240.6,303.8 239.9,301.7 239,300.9 237.2,300.4 234.1,300.2 231.2,300.8Z" fill="#ff8c00"/>
<path d="M230.7,303 230.4,304.5 230.6,306.6 231.4,307.7 232.3,308.3 234.2,308.7 236.8,308.4 237.8,307.6 238.5,306.3 238.9,305.1 239,303.9 238.7,302.9 238.3,302.4 236.9,302 234.2,301.8 231.8,302.3Z" fill="#ffe000"/>
<path d="M283.8,306.6 C284.4,305.1 285.9,304.1 288.1,303.7 C290.3,303.3 294.5,303.7 296.9,304.4 C299.3,305.1 301.6,306.5 302.7,308.1 C303.8,309.7 304.2,312.3 303.5,313.9 C302.8,315.5 300.7,317.1 298.4,317.6 C296.1,318.1 291.9,317.7 289.6,316.8 C287.3,315.9 285.5,314.2 284.5,312.5 C283.5,310.8 283.2,308.1 283.8,306.6Z" fill="#8a8a8a" stroke="#1c1c1c" stroke-width="0.9"/>
<path d="M285.5,309 Q294,307 302,310 M285.5,313 Q294,311.5 303,314" fill="none" stroke="#b4b4b4" stroke-width="1.1"/>
<path d="M282,269.3 282.1,268.9 282.2,268.5 282.3,268.1 282.5,267.8 282.6,267.4 282.7,267 282.9,266.6 283,266.3 283.1,265.9 283.3,265.5 283.4,265.1 283.6,264.8 284,264.5 284.4,264.3 284.8,264 285.2,263.7 285.1,263.3 285.1,262.8 285,262.3 284.9,261.8 285.1,261.5 285.2,261.1 285.4,260.8 285.6,260.4 285.7,260 285.9,259.7 286.1,259.3 286.2,258.9 286.4,258.6 286.6,258.2 286.7,257.8 286.9,257.5 287,257.1 287.2,256.7 287.3,256.4 287.5,256 287.6,255.6 287.8,255.3 288,254.9 288.1,254.5 288.3,254.2 288.7,253.9 289.1,253.7 289.6,253.5 290,253.2 289.9,252.8 289.9,252.3 289.8,251.8 289.8,251.4 290.1,251 290.3,250.7 290.6,250.4 290.9,250.1 291.1,249.8 291.4,249.6 291.7,249.3 292,249 292.4,248.8 292.7,248.6 293,248.4 293.4,248.1 293.7,247.9 294.1,247.7 294.4,247.6 294.8,247.4 295.1,247.2 295.5,247 295.8,246.9 296.2,246.7 296.6,246.5 296.9,246.4 297.3,246.2 297.8,246.3 298.3,246.4 298.7,246.5 299.2,246.6 299.5,246.2 299.7,245.8 300,245.4 300.3,245 300.7,244.9 301.1,244.8 301.4,244.7 301.8,244.5 302.2,244.4 302.6,244.3 303,244.2 303.4,244.1 303.8,244 304.1,244 304.5,243.9 304.9,243.8 305.3,243.8 306.1,243.7 306.9,244 307.2,244.4 307.5,244.7 307.7,245.1 308.1,245 308.6,244.9 309.1,244.8 309.6,244.7 309.9,244.9 310.3,245 310.7,245.1 311.1,245.2 311.9,245.1 312.2,245 312.6,244.8 312.9,244.6 313.2,244.4 313.6,244.1 313.9,243.8 314.2,243.6 314.5,243.3 314.8,243.1 315.1,242.9 315.5,242.7 315.9,242.6 316.2,242.4 316.6,242.3 317,242.1 317.4,242.3 317.9,242.5 318.3,242.7 318.6,242.9 319,242.6 319.3,242.3 319.7,242.1 320.1,241.9 320.5,241.9 320.9,242 321.3,242.1 321.7,242.1 322.1,242.2 322.5,242.3 322.9,242.4 323.3,242.6 323.7,242.7 324,242.8 324.4,243 324.8,243.1 325.1,243.3 325.5,243.5 325.8,243.7 326.1,244 326.3,244.3 326.6,244.6 326.8,245 327,245.3 326.9,245.8 326.8,246.3 326.8,246.8 326.8,247.4 327.5,247.7 328.2,247.8 328.8,247.5 329.1,247.1 329.4,246.8 329.7,246.6 330,246.3 330.4,246.1 330.7,245.9 331.1,245.8 331.5,245.7 331.9,245.6 332.3,245.5 332.7,245.4 333,245.3 333.8,245.3 334.6,245.3 335,245.4 335.4,245.6 335.8,245.8 336.1,246 336.5,246.2 336.6,246.6 336.8,247.1 336.9,247.5 337.1,248 337.6,248 338,248 338.5,248.1 339,248.1 339.3,248.3 339.7,248.5 340,248.8 340.3,249 340.6,249.3 340.9,249.6 341.2,249.8 341.5,250.1 341.9,250.3 342.2,250.5 342.5,250.7 342.9,250.9 343.3,251 344,251.4 344.3,251.7 344.4,252.1 344.9,252.4 345.4,252.5 345.9,252.5 346.3,252.6 346.6,252.9 346.9,253.2 347.1,253.5 347.4,253.8 347.7,254.1 348,254.4 348.2,254.7 348.5,254.9 348.8,255.2 349.1,255.5 349.4,255.7 349.7,256 350,256.3 350.3,256.5 350.5,257 350.7,257.5 350.9,257.9 351.1,258.4 351.7,258.4 352.3,258.3 352.8,258.1 353.2,257.8 354,257.8 354.8,257.8 355.2,257.9 355.6,258.1 355.9,258.2 356.3,258.3 356.7,258.5 357,258.7 357.4,258.8 357.8,259 358.1,259.2 358.5,259.4 358.8,259.6 359.2,259.8 359.5,260 359.7,260.4 359.8,260.9 360,261.3 360.1,261.8 360.5,261.8 361,261.9 361.5,262 362,262.1 362.2,262.3 362.5,262.6 362.8,262.9 363,263.3 363.3,263.6 363.5,263.9 363.7,264.2 364,264.5 364.2,264.9 364.4,265.2 364.6,265.6 364.8,265.9 365,266.3 365.2,266.6 365.4,267 365.5,267.3 365.7,267.7 365.9,268.1 366,268.4 366.2,268.8 366.3,269.2 366.2,269.6 366.1,270.1 366,270.6 365.9,271 366.3,271.3 366.7,271.6 367.1,271.9 367.5,272.2 367.6,272.5 367.7,272.9 367.9,273.3 368,273.7 368.1,274.1 368.2,274.4 368.3,274.8 368.4,275.2 368.5,275.6 368.6,276 368.7,276.4 368.8,276.8 368.9,277.1 369,277.5 369.1,277.9 368.9,278.4 368.8,278.8 368.6,279.3 368.4,279.7 368.7,280 369,280.4 369.4,280.7 369.7,281.1 369.8,281.5 369.8,282.3 369.9,283.1 369.9,283.9 369.9,284.7 369.9,285.5 369.8,286.3 369.7,287.1 369.6,287.4 369.5,287.8 369.5,288.2 369.4,288.6 369,288.9 368.6,289.2 368.2,289.5 367.8,289.8 368,290.2 368.1,290.7 368.2,291.2 368.3,291.6 368.1,292 368,292.4 367.8,292.7 367.6,293.1 367.4,293.4 367.2,293.8 367,294.1 366.8,294.4 366.5,294.8 366.3,295.1 366,295.4 365.7,295.7 365.4,295.9 365.1,296.2 364.8,296.4 364.4,296.6 364,296.5 363.5,296.4 363.1,296.2 362.7,296.1 362.4,296.4 362.1,296.8 361.7,297.1 361.4,297.4 360.6,297.5 359.8,297.5 359,297.4 358.6,297.3 358.2,297.3 357.8,297.2 357.4,297.1 357,297 356.6,296.9 356.2,296.8 355.8,296.7 355.4,296.6 354.6,296.6 353.9,296.5 353.1,296.5 352.2,296.3 351.6,296.2 351,296.3 350.4,296.7 350.4,297.3 350.5,297.9 350.7,298.3 350.9,298.8 350.8,299.6 350.8,300.4 350.7,301.2 350.6,301.6 350.6,302 350.5,302.4 350.4,303.2 350.3,304 350.2,304.7 350.1,305.5 350.1,305.9 350,306.3 349.9,306.7 349.9,307.1 349.8,307.5 349.4,307.8 349,308.1 348.6,308.3 348.2,308.6 348.3,309.1 348.4,309.5 348.5,310 348.6,310.5 348.4,310.8 348.2,311.2 348,311.5 347.8,311.9 347.6,312.2 347.4,312.6 347.2,312.9 346.9,313.2 346.7,313.6 346.5,313.9 346.2,314.2 346,314.5 345.7,314.8 345.4,315.1 345.1,315.4 344.8,315.6 344.5,315.9 344.2,316.1 343.7,316.2 343.3,316.2 342.8,316.1 342.3,316.1 342.1,316.5 341.9,317 341.7,317.4 341.5,317.8 341.1,318 340.7,318.1 340.4,318.3 340,318.4 339.6,318.5 339.2,318.6 338.8,318.7 338.4,318.8 338,318.8 337.3,318.9 336.5,319 335.7,318.9 334.9,318.9 334.1,318.8 333.3,318.7 332.9,318.6 332.5,318.6 332.1,318.2 331.8,317.9 331.5,317.5 331.1,317.2 330.7,317.4 330.3,317.5 329.8,317.7 329.3,317.9 329,317.8 328.6,317.7 328.2,317.5 327.8,317.4 327.4,317.3 327.1,317.1 326.7,317 326.3,316.9 325.9,316.7 325.6,316.6 325.2,316.4 324.8,316.2 324.5,316.1 324.1,315.9 323.9,315.5 323.6,315.1 323.4,314.7 323.1,314.2 322.7,314.3 322.2,314.4 321.7,314.4 321.2,314.5 320.9,314.3 320.5,314.1 320.2,314 319.8,313.8 319.5,313.6 319.1,313.4 318.8,313.2 318.4,313 318.1,312.8 317.7,312.6 317.4,312.4 317,312.2 316.7,312 316.3,311.8 316,311.6 315.6,311.4 315.3,311.2 315,311 314.6,310.8 314.3,310.6 313.9,310.4 313.7,309.9 313.5,309.5 313.3,309 313.1,308.6 312.6,308.6 312.1,308.6 311.7,308.7 311.2,308.7 310.8,308.5 310.5,308.3 310.1,308.1 309.8,307.9 309.5,307.7 309.1,307.4 308.8,307.2 308.5,307 308.1,306.8 307.8,306.6 307.5,306.3 307.1,306.1 306.8,305.9 306.5,305.7 306.1,305.4 305.8,305.2 305.5,305 305.1,304.8 304.8,304.6 304.4,304.4 304.1,304.2 303.7,304 303.5,303.6 303.3,303.2 303,302.7 302.7,302.3 302.2,302.4 301.7,302.5 301.3,302.6 300.8,302.7 300.4,302.6 300,302.5 299.6,302.4 299.3,302.3 298.9,302.2 298.5,302.1 298.1,302 297.7,301.9 297.3,301.8 296.9,301.7 296.5,301.6 296.1,301.5 295.8,301.4 295.4,301.3 295,301.2 294.7,300.9 294.4,300.5 294.1,300.1 293.8,299.7 293.3,299.9 292.8,300 292.4,300.2 291.9,300.3 291.5,300.2 291.1,300.1 290.8,300 290.4,299.9 290,299.8 289.6,299.6 289.2,299.5 288.9,299.3 288.5,299.2 288.1,299 287.8,298.8 287.5,298.6 287.1,298.3 286.8,298.1 286.5,297.8 286.2,297.6 285.9,297.3 285.7,297 285.4,296.7 285.1,296.4 285,295.9 285,295.5 285,295 285,294.5 284.5,294.4 284.1,294.2 283.6,294 283.2,293.9 283,293.5 282.8,293.2 282.6,292.8 282.4,292.4 282.3,292.1 282.1,291.7 281.9,291.3 281.8,291 281.7,290.6 281.5,290.2 281.4,289.8 281.3,289.5 281.2,289.1 281.1,288.7 281,288.3 280.9,287.9 280.8,287.5 280.8,287.1 280.7,286.7 280.9,286.3 281.1,285.8 281.3,285.4 281.5,285 281.2,284.6 280.9,284.3 280.6,283.9 280.3,283.5 280.2,282.7 280.2,281.9 280.2,281.1 280.2,280.3 280.3,279.5 280.3,278.7 280.4,277.9 280.5,277.2 280.6,276.4 280.6,276 280.7,275.6 280.7,275.2 280.8,274.8 280.9,274.4 281.2,274 281.6,273.7 281.9,273.4 282.2,273 282.1,272.6 281.9,272.1 281.7,271.7 281.5,271.2 281.6,270.9 281.7,270.5 281.8,270.1 281.9,269.7Z" fill="#8a8a8a" stroke="#151515" stroke-width="0.9"/>
<path d="M282.9,287.5 283,287.8 283.1,288.5 283.2,288.9 283.4,289.6 283.7,290.3 283.8,290.6 283.9,290.9 284.1,291.3 285.2,290.4 288.1,288.1 290.9,285.6 291.5,285.1 288.8,285.8 284.9,286.8 282.8,287.2ZM287.8,296.3 288.1,296.5 288.4,296.7 288.9,297.1 289.4,297.4 290,297.6 290.6,297.9 291,298 291.3,298.1 291.7,297.3 292.3,294.6 292.6,292.3 292.1,292.8 289.1,295.3 287.8,296.3ZM296.6,299.6 297,299.7 297.4,299.8 297.8,299.9 298.2,299.9 298.6,300 299,300.1 299.4,300.2 299.8,300.4 300.2,300.5 300.7,300.2 301.5,298.1 302.3,296 303.1,293.9 303.9,291.8 304.1,291.3 304.4,290.9 304.8,290.5 305.3,290.3 305.8,290.1 306.2,290 304.8,289.3 304.4,289.1 304,288.7 303.7,288.3 303.5,287.8 303.4,287.3 303.4,286.8 303.5,286.3 303.7,285.8 303.9,285.4 304.3,285 304.7,284.7 305.2,284.5 305.7,284.4 306.2,284.4 306.7,284.5 307.2,284.7 334.1,298.2 334.8,298.3 335.3,298.4 335.8,298.7 336.8,299.3 337.2,299.6 338.5,300.3 339.1,300.3 339.5,300.5 339.9,300.7 340.3,300.9 340.6,301.3 343.2,302.7 343.6,302.9 344,303.3 344.3,303.7 344.5,304.2 344.6,304.7 346.8,305.2 348.1,305.6 348.2,304.9 348.3,304.1 348.4,303.4 348.4,302.9 348.5,302.5 348.5,302.1 348.6,301.7 348.6,301.3 348.7,300.5 348.8,299.8 348.9,299.2 347.7,298.5 345.6,297.3 343.5,296 341.4,294.7 339.4,293.4 338.9,293 338.5,292.6 338.2,292.1 338,291.5 338,291 338,290.4 338.2,289.8 338.4,289.3 336.6,288.5 334.1,287.7 331.7,286.9 329.2,286.1 326.7,285.4 324.2,284.7 314.2,281.7 313.7,281.5 313.2,281.2 312.8,280.8 312.5,280.3 312.3,279.8 312.2,279.3 312.2,278.7 312.1,278.4 311.6,278.4 311.1,278.2 310.7,278 310.3,277.7 309.3,276.7 307.7,275.2 306,273.5 304.2,271.6 302.5,269.5 301.6,268.3 301.2,268.6 300.7,268.8 300.1,268.9 296.7,268.9 296.7,269.4 296.6,269.9 296.4,270.4 296.1,270.9 295.8,271.3 295.4,271.5 295.7,272 295.8,272.5 295.8,273 295.7,273.5 295.5,273.9 295.3,274.4 294.9,274.7 294.6,275 297,276.5 297.6,275.6 297.9,275.3 298.2,275 298.6,274.8 298.9,274.7 299.4,274.6 300,274.7 300.3,274.9 300.7,275.1 301,275.4 301.2,275.7 301.4,276.1 301.5,276.5 301.4,277.1 301.3,277.5 301.4,278 301.4,278.5 301.3,279 301.2,279.4 300.9,279.8 300.6,280.2 300.8,280.5 301.2,281 301.4,281.6 301.6,282.1 301.7,282.7 301.6,283.4 301.4,283.9 301.1,284.5 300.7,284.9 299.2,286.3 299,286.7 298.8,287 298.4,287.2 298.6,287.6 298.8,288.1 298.9,288.6 298.9,289.1 299.3,289.4 299.6,289.8 299.9,290.2 300,290.6 300.1,291.1 300.1,291.6 300,292.1 299.7,292.5 299.5,292.9 299.1,293.2 298.7,293.5 297.6,293.9 297.3,295.4 296.7,298.4 296.4,299.5ZM305.8,302.9 306.1,303.1 306.5,303.3 306.9,303.5 307.2,303.8 307.6,304 307.9,304.2 308.2,304.4 308.6,304.7 308.9,304.9 309.2,305.1 309.6,305.3 309.9,305.5 310.2,305.8 310.6,306 310.9,306.2 311.2,306.4 312,305.4 314,302.8 316.3,300.3 318.9,297.9 320.1,296.9 308.7,291.3 308.9,291.6 309.1,292.1 309.2,292.6 309.1,293.1 309.6,293.3 310.1,293.4 310.6,293.6 311,294 311.4,294.4 311.6,294.8 311.8,295.3 311.9,295.8 311.9,296.3 311.7,296.9 311.5,297.3 311.2,297.7 310.8,298.1 310.3,298.4 309.8,298.5 306.9,299.3 306.6,300.1 305.7,302.2 305.5,302.7ZM316.3,309.5 316.7,309.7 317,309.9 317.3,310.1 317.7,310.3 318,310.5 318.4,310.7 318.7,310.9 319,311.1 319.4,311.3 319.7,311.4 320.1,311.6 320.4,311.8 320.8,312 321.1,311.7 322.6,309.7 322.9,309.4 324.5,307.7 324.7,307.5 326.5,305.9 327.1,305.5 326.8,304.8 326.7,304.3 326.7,303.7 326.8,303.1 327,302.6 327.4,302.1 327.8,301.7 328.2,301.4 328.6,301.2 325.4,299.6 325,300 322.5,302 320.3,304.1 318.3,306.2 316.5,308.5 316,309.3ZM326.7,314.9 327.1,315 327.4,315.1 327.8,315.3 328.1,315.4 328.5,312.9 328.4,312.4 327.4,313.5 326.5,314.8ZM334.3,316.8 335,316.9 335.7,316.9 336.4,317 337.1,316.9 337.8,316.9 338.4,316.7 339.1,316.6 338.9,316.2 337,313.9 334.8,311.9 334.2,311.4 334.3,312.5 334.3,315.6 334.1,316.8ZM344,313.7 344.2,313.4 344.4,313.2 344.7,312.9 344.9,312.7 345.1,312.4 345.3,312.1 345.5,311.8 345.7,311.5 345.9,311.2 346.1,310.9 345.4,310.6 342.6,310 340.7,309.8 341.1,310.2 343.2,312.6 344,313.7ZM355.8,294.7 356.2,294.7 356.6,294.8 357.1,294.9 357.5,295 357.9,295.1 358.2,295.2 358.9,295.4 359.6,295.5 359.6,294.9 358.5,292.1 357.6,290.3 356.2,290.2 353,290.2 352.5,290.1 352.1,290 351.6,289.7 351.3,289.4 351,289.1 350.8,288.6 350.6,288.2 350.6,287.7 350.6,287.2 350.8,286.8 351,286.3 351.3,286 351.7,285.7 352.1,285.5 352.5,285.3 351.6,285 351.3,284.8 349.8,283.9 348.8,283.3 348.4,282.9 348.1,282.6 347.8,282.1 347.7,281.7 347.6,281.2 347.6,280.7 347.8,280.2 348,279.8 348.3,279.4 348.7,279.1 349.1,278.8 349.6,278.7 350,278.6 350.5,278.7 351,278.8 351.5,279 351.9,279.3 352.3,279.2 352.8,279.1 354.7,278.9 354.8,278.3 354.9,277.8 355.2,277.3 355.6,276.9 356,276.6 356.5,276.4 357,276.2 357.6,276.2 358.1,276.3 358.6,276.5 359.1,276.8 360.8,278.3 362.6,278.1 365.8,277.6 367,277.4 366.8,276.9 366.7,276.5 366.6,276.1 366.5,275.8 366.3,275 366.2,274.6 366.1,274.3 364.1,274.6 360,275.5 355.8,276 351.4,276 346.9,275.7 346.3,275.6 345.9,276.3 345.7,276.7 345.4,277.1 345,277.5 344.5,277.7 344,277.9 343.5,277.9 343,277.9 342.5,277.7 342,277.5 341.6,277.2 341.2,276.8 341,276.3 340.8,275.8 340.8,275.3 340.8,274.8 341,274.3 341.1,273.9 340.1,273.7 337.7,273.1 335.3,272.4 332.8,271.5 330.1,270.5 327.4,269.4 325,268.3 323.9,267.8 325,269.5 326.9,272.3 328.6,274.3 330.2,275.6 332,276.6 333.7,277.3 335,277.9 335.3,278.1 335.7,278.4 336,278.8 336.2,279.2 336.3,279.6 336.3,280.1 336.2,280.5 336.1,281 335.9,281.3 335.6,281.7 335.2,282 335.9,282.3 338.5,283.2 341.1,284.1 343.7,285.2 346.3,286.5 346.6,286.7 348.9,288.3 351.4,290.3 353.5,292.2 354.9,293.4 355.2,293.8 355.5,294.3 355.7,294.7ZM364.7,293.8 364.9,293.6 365.3,293 365.5,292.7 365.7,292.4 365.8,292.1 366,291.8 365.2,291.6 363.6,291.2 364.4,293.2 364.6,293.9ZM367.7,287.1 367.8,286.4 367.9,285.7 367.9,285 367.9,284.2 367.9,283.5 367.9,282.8 367.8,282.3 366.6,282.5 363.3,283 361.3,283.2 361.3,283.7 361.2,284.2 361,284.7 360.7,285.1 361,285.7 363.1,286.1 366.4,286.8 367.6,287.2ZM363.9,268.5 363.7,268.2 363.6,267.9 363.4,267.5 363.2,267.2 363.1,266.9 362.9,266.6 362.7,266.3 362.5,266 362.3,265.7 362.1,265.4 361.9,265.1 361.7,264.8 360.3,265.9 360.1,266.1 357,268.5 356.8,268.7 354.6,270.1 355.3,270.1 359,269.7 362.5,269 363.9,268.5ZM356.6,260.6 356.2,260.5 355.9,260.3 355.6,260.2 355.2,260.1 354.6,259.9 354.2,259.8 353.8,259.8 353.3,260 352.3,262.1 350.7,265.3 353.3,263.6 356,261.4 356.7,260.7ZM348.4,257.5 348.1,257.2 347.8,257 347.5,256.7 347.2,256.4 346.9,256.1 346.5,255.8 345.9,256.5 345.3,258.3 344.9,260.3 344.6,262.6 344.5,263.2 344.3,263.7 343.9,264.2 343.5,264.6 343,264.9 342.5,265.2 341.9,265.3 341.3,265.3 340.7,265.1 340.2,264.9 339.7,264.6 339.3,264.1 338.9,263.6 338.7,263.1 338.6,262.5 338.6,261.9 338.8,260.2 338.4,260.1 337.9,259.9 337.5,259.6 337.1,259.3 336.8,258.9 336.6,258.4 336.5,257.9 336.5,257.4 336.6,256.9 336.7,256.4 337,255.9 337.4,255.6 337.8,255.3 338.3,255.1 338.8,255 340,254.9 340.2,254.4 340.3,254.1 341.2,252.3 340.7,251.9 340.3,251.6 340,251.4 339.6,251.1 339.3,250.8 339,250.6 338.8,250.4 337.3,252 337.1,252.3 334.1,255 333.8,255.2 330.4,257.6 326.4,259.9 322.4,261.6 322.8,261.9 324.8,262.8 327,263.7 329.4,264.7 331.9,265.8 334.5,266.8 336.8,267.6 339,268.3 341.2,268.8 342.4,269.1 343,268.8 344,266.9 345.7,263.3 347.5,259.7 348.5,257.6ZM333.6,247.3 333,247.4 332.4,247.5 332,247.6 331.7,247.7 331.3,247.9 331,248.1 330.7,248.3 330.5,248.6 330.2,248.9 329.9,249.1 329.6,249.3 329,249.6 328.6,249.7 328.2,249.8 327.7,249.7 326.9,250.3 324.3,251.7 322.8,252.5 322.8,253.9 323.1,253.5 323.5,253.2 323.9,253 324.3,252.9 324.8,252.8 327,252.9 330.3,250.5 333.1,248.1 333.7,247.3ZM324.7,245.5 324.5,245.3 324.2,245.1 323.6,244.8 323,244.6 322.3,244.4 321.6,244.2 321.6,247.3 322,247.4 324.2,246.2 324.9,245.7ZM315.7,244.9 315.2,245.3 314.9,245.6 314.5,245.9 314.1,246.2 313.7,246.5 313.1,246.8 312.5,247 311.8,247.2 311,247.2 310.3,247.1 310.1,247.5 309.5,250 309.1,252.5 308.8,255.1 308.7,257.9 308.7,258.5 308.5,259.1 308.2,259.6 307.8,260 307.3,260.4 306.8,260.6 306.5,261 306.1,261.5 305.7,261.9 305.3,262.2 304.8,262.4 304.2,262.5 303.6,262.5 304.6,264.2 306.3,266.5 307.8,268.4 309.4,270.1 311,271.8 312.6,273.2 313.7,274.3 314,274.6 314.2,275 314.3,275.5 314.4,275.9 314.7,276.2 315.3,276.2 315.8,276.3 325.8,279.3 328.3,280 329.2,280.3 327.8,279.5 327.5,279.3 325.6,277.8 325.2,277.5 323.3,275.2 321.2,272.1 320.7,271.4 320.4,271.2 320,271 319.7,270.6 319.4,270.3 319.1,269.6 318.6,268.7 318.2,267.6 318,267.1 317.8,266.6 317.7,266.2 317.7,265.7 317.8,265.3 317.9,264.9 316.7,264.1 316.4,263.9 314.6,262.4 312.7,260.5 311.2,258.8 310.2,257.7 309.9,257.3 309.7,256.9 309.5,256.4 309.5,255.9 309.6,255.4 309.7,254.9 310,254.5 310.3,254.2 310.7,253.9 311.1,253.7 311.6,253.5 312.1,253.5 312.6,253.6 313.1,253.7 312.9,253.4 312.8,252.9 312.7,252.5 312.8,252 312.9,251.5 313.2,251.1 313.5,250.7 313.9,250.4 314.3,250.2 314.9,250 315.6,249.4 315.7,247.1 315.7,244.9ZM304.2,246 303.5,246.2 302.8,246.4 302.4,246.5 302.9,248.1 303.6,249.3 303.6,248.9 304.3,246ZM297,248.5 296.7,248.7 296.3,248.8 296,249 295.7,249.2 295.3,249.3 295,249.5 294.7,249.7 294.4,249.9 294.1,250 293.8,250.2 293.5,250.4 293.3,250.6 293,250.8 292.8,251 292.5,251.3 293.2,251.7 296.1,253.1 298.4,254.2 299.1,253.9 299.4,253.7 299.4,253.2 299.5,252.8 298.3,250.7 297.2,248.7ZM289.5,256.4 289.3,256.8 289.2,257.1 289,257.5 288.9,257.9 288.7,258.2 288.6,258.6 288.4,259 288.2,259.4 288.1,259.7 287.9,260.1 287.7,260.5 287.5,260.9 287.3,261.4 288,261.7 290.7,262.5 293.6,263 296.6,263.2 297.9,263.2 297.7,262.8 297.6,262.3 297.6,261.9 297.7,261.4 297.8,261 298.1,260.6 296.7,259.7 293.6,258.3 290.6,256.8 289.5,256.3ZM284.9,267 284.7,267.3 284.6,267.7 284.5,268 284.4,268.4 284.2,268.7 284.1,269.1 284,269.5 283.9,269.8 283.8,270.2 283.7,270.6 284.8,270.9 288,271.9 289.7,272.6 291.6,270.9 291.5,270.3 291.4,269.8 291,268.3 289.6,268 286.3,267.2 285,266.7ZM282.6,276.2 282.5,277 282.4,277.8 282.3,278.5 282.3,279.3 282.2,280 282.2,280.8 282.2,281.5 282.2,282.3 283.7,282.1 287.3,281.2 290.8,279.9 291.4,279.6 288.8,278.3 286.1,277.1 283.4,276.2 282.6,276ZM314.7,255.2 314.4,254.8ZM317.9,258.6ZM322.4,255.2ZM332.6,303.5 333.7,304.2 334.5,304.2 332.5,303.2Z" fill="#f0f0f0" filter="url(#bw)"/>
<path d="M284.7,263.5 287.1,264.4 290.1,265.2 293.2,265.8 296.5,266.1 299.8,266.1 M293.2,265.8 294,269.2 M289.4,253 291.9,254.3 294.8,255.7 297.8,257.1 300.8,258.4 303.9,259.7 M297.8,257.1 300.1,256.1 M299,246.1 299.6,247.5 300.6,249.4 301.6,251.2 302.9,253 304.2,254.8 M307.9,244.5 307.2,246.7 306.6,249.4 306.1,252.1 305.8,254.9 305.7,257.8 M306.1,252.1 301.9,253.4 M318.6,242.3 318.7,244.5 318.7,247.3 318.5,250 318.1,252.8 317.6,255.5 M318.5,250 316.2,252 M327.3,247 325.5,248.3 323.1,249.6 320.6,250.7 318,251.7 315.2,252.5 M320.6,250.7 320.6,253.9 M337.4,247.5 335.1,250.1 332.1,252.8 328.7,255.2 324.9,257.3 320.8,259.2 M328.7,255.2 324.8,255.2 M344.9,251.9 344,253.4 343.1,255.4 342.4,257.5 341.9,259.8 341.6,262.2 M342.4,257.5 339.1,257.6 M351.4,257.9 349.9,260.9 348.1,264.4 346.5,268 344.9,271.6 343.5,275.3 M346.5,268 348.4,272 M360.5,261.3 358.1,263.7 355.1,266.1 351.8,268.3 348.1,270.1 344.1,271.7 M351.8,268.3 352.6,272.3 M366.5,270.8 363.3,271.8 359.4,272.6 355.5,273 351.4,273.1 347.1,272.8 M369,279.6 366.2,280.1 362.9,280.5 359.6,281 356.3,281.3 353,281.5 M359.6,281 357.4,279 M368.4,290 365.9,289.2 362.8,288.5 359.6,288 356.3,287.7 353,287.7 M362.8,296.7 362,294.1 360.9,291.1 359.4,288.2 357.8,285.4 355.8,282.6 M359.4,288.2 357,287.2 M350.9,297 349.2,296 347.2,294.7 345.1,293.4 343,292.2 340.9,290.9 M348.8,308.8 346.2,307.9 343,307.2 339.7,306.8 336.3,306.8 332.7,307.1 M339.7,306.8 338.7,302.7 M342.6,316.6 341.1,314.4 339,312 336.6,309.8 334,307.7 331,305.8 M331,317.8 331.3,315.6 331.4,312.8 331.2,309.9 330.6,307 329.6,304 M331.2,309.9 329,307.3 M322.9,314.8 323.8,313.3 325.1,311.5 326.7,309.8 328.5,308.2 330.6,306.8 M312.8,309.1 314.3,306.9 316.2,304.5 318.3,302.1 320.7,299.9 323.3,297.9 M302.5,302.9 303.2,301.2 304,299.1 304.9,297 305.7,294.9 306.4,292.7 M304.9,297 309.2,295.9 M293.6,300.3 294.2,297.9 294.8,295 295.2,292.1 295.5,289.1 295.5,286 M295.2,292.1 297.6,291.2 M284.5,294.9 287.1,292.9 290.1,290.4 293,288 295.8,285.4 298.6,282.7 M293,288 296.2,288.9 M280.9,285.1 284.2,284.5 288,283.5 291.7,282.1 295.4,280.4 299,278.3 M291.7,282.1 294,284.6 M281.7,272.9 284.2,273.5 287.1,274.5 290,275.7 292.8,277.2 295.6,278.9 M290,275.7 293.3,272.8 M353,295.5 351.6,294.3 349.6,292.5 347.3,290.6 345,289 342.6,287.8 340.1,286.8 337.5,285.9 335,285 332.5,284.2 330,283.4 327.5,282.7 325,282 322.3,281.2 319.4,280.3 316.8,279.5 315,279 M306,287 308.2,288.1 311.2,289.6 314.7,291.4 318,293 321,294.5 324,296 327,297.5 330,299 333.3,300.6 336.8,302.4 339.8,303.9 342,305 M312,256 313,257.1 314.5,258.8 316.2,260.5 318,262 319.8,263.1 321.8,264.1 323.8,265 326,266 328.4,267 331,268.1 333.6,269.1 336,270 338.3,270.7 340.6,271.2 342.6,271.7 344,272 M320,266 321.3,267.9 323.1,270.8 325.1,273.7 327,276 328.9,277.5 330.9,278.6 332.7,279.4 334,280 M300,262 301.1,263.5 302.6,265.6 304.4,268 306,270 307.6,271.8 309.4,273.5 310.9,275 312,276 M350.1,281.1 351.1,281.8 352.6,282.7 354.2,283.3 355.8,283.5 357.6,283.5 358.8,283.4 M331,300.7 331.9,300.7 333.2,300.6 334.4,300.8 335.4,301.4 336.3,302.3 336.9,303 M320.2,264 320.2,264.8 320.2,265.8 320.4,266.7 320.7,267.7 321.2,268.6 321.5,269.2 M299.4,276.7 298.7,277.7 297.8,279.2 297.1,280.8 297.1,282.4 297.2,284.2 297.4,285.4" fill="none" stroke="#303030" stroke-width="1.1" stroke-linecap="round" stroke-linejoin="round"/>
<path d="M284,263 C285.2,260.9 287.7,259.2 290,258.5 C292.3,257.8 295.7,258.2 298,259 C300.3,259.8 302.7,261 304,263 C305.3,265 306.2,268.3 306,271 C305.8,273.7 304.7,276.8 303,279 C301.3,281.2 298.3,283.5 296,284.5 C293.7,285.5 291.1,285.9 289,285 C286.9,284.1 284.6,281.3 283.5,279 C282.4,276.7 282.4,273.7 282.5,271 C282.6,268.3 282.8,265.1 284,263Z" fill="#4a4aa8" fill-opacity="0.55" />
<path d="M305,283.5 C306,282.8 308.8,283.8 311,284.5 C313.2,285.2 315.7,286.8 318,288 C320.3,289.2 322.5,290.2 325,291.5 C327.5,292.8 330.5,294.5 333,296 C335.5,297.5 337.8,299.1 340,300.5 C342.2,301.9 344.4,303.1 346,304.5 C347.6,305.9 349.5,307.7 349.5,309 C349.5,310.3 347.6,312.5 346,312.5 C344.4,312.5 342.2,310.2 340,309 C337.8,307.8 335.3,306.4 333,305 C330.7,303.6 328.5,302 326,300.5 C323.5,299 320.5,297.4 318,296 C315.5,294.6 313.2,293.2 311,292 C308.8,290.8 306,290.4 305,289 C304,287.6 304,284.2 305,283.5Z" fill="#5a5aa8" fill-opacity="0.7" />
<path d="M338.5,264.5 C339.2,263 342.6,262.4 344,263 C345.4,263.6 346.8,266.3 347,268 C347.2,269.7 346.7,272.3 345.5,273 C344.3,273.7 341.2,273.4 340,272 C338.8,270.6 337.8,266 338.5,264.5Z" fill="#4a4aa8" fill-opacity="0.6" />
<path d="M351,280 C351.8,278.3 354.2,278.5 356,279 C357.8,279.5 360.7,281.2 361.5,283 C362.3,284.8 361.9,288.3 361,290 C360.1,291.7 357.6,293.2 356,293 C354.4,292.8 352.3,291.2 351.5,289 C350.7,286.8 350.2,281.7 351,280Z" fill="#4a4aa8" fill-opacity="0.55" />
<path d="M299,251.5 C299.8,250.8 302.5,250.4 304,250.6 C305.5,250.8 307.4,251.6 307.8,252.6 C308.2,253.6 307.6,256 306.5,256.8 C305.4,257.7 302.8,258 301.5,257.7 C300.2,257.4 299.4,256 299,255 C298.6,254 298.2,252.2 299,251.5Z" fill="#f02a0c" fill-opacity="1.0" />
<path d="M292.5,264 C292.9,262.8 294.9,262.7 296,262 C297.1,261.3 298,259.9 299,259.8 C300,259.7 300.8,261 302,261.5 C303.2,262 305.9,262 306.4,263 C306.9,264 305.1,266.1 305,267.5 C304.9,268.9 306.4,270.3 306,271.5 C305.6,272.7 303.8,274.2 302.5,274.5 C301.2,274.8 299.4,272.9 298,273 C296.6,273.1 294.8,275.5 294,274.8 C293.2,274.1 293.8,270.8 293.5,269 C293.2,267.2 292.1,265.2 292.5,264Z" fill="#ee2a0a"/>
<path d="M293.5,264.4 293.5,265.2 294.5,268.9 294.6,273.7 296.8,272.3 297.9,272 299,272.1 302.4,273.5 303.9,272.6 304.8,271.6 305.1,271 304.1,268.5 304,267.4 305.4,263.4 301.6,262.4 299.1,260.8 296.5,262.8 293.9,264Z" fill="#ff8c00"/>
<path d="M296.4,270.5 298.4,270.2 299.8,270.5 302.2,271.6 302.8,271.2 303.1,270.9 302.3,268.8 302.2,267.5 302.5,265.9 303,264.6 300.9,264.1 299.1,263 297.5,264.4 295.4,265.3 296.2,268.4Z" fill="#ffe600"/>
<path d="M290.5,274 C291.1,273 293.7,272.6 294.5,273.2 C295.3,273.8 295.7,276.3 295.5,277.5 C295.3,278.7 294.3,280.2 293.5,280.5 C292.7,280.8 291.1,280.1 290.6,279 C290.1,277.9 289.9,275 290.5,274Z" fill="#f0300c" fill-opacity="1.0" />
<path d="M297.5,278.3 C298.1,277.7 300.2,277.3 301,277.8 C301.8,278.3 302.4,280.6 302.2,281.5 C301.9,282.4 300.3,283.5 299.5,283.5 C298.7,283.5 297.5,282.4 297.2,281.5 C296.9,280.6 296.9,278.9 297.5,278.3Z" fill="#f0300c" fill-opacity="1.0" />
<path d="M349,266 C349.4,264.5 351.3,263.2 352.5,262.8 C353.7,262.4 354.8,262.9 356,263.5 C357.2,264.1 359.3,265 359.7,266.2 C360.1,267.4 359.4,269.2 358.5,270.5 C357.6,271.8 355.9,273.6 354.5,273.8 C353.1,274.1 351.1,273.3 350.2,272 C349.3,270.7 348.6,267.5 349,266Z" fill="#f03a0c" fill-opacity="1.0" />
<path d="M351.5,266.5 C351.8,265.5 353.6,264.8 354.5,265 C355.4,265.2 356.8,266.5 357,267.5 C357.2,268.5 356.2,270.4 355.5,271 C354.8,271.6 353.2,271.8 352.5,271 C351.8,270.2 351.2,267.5 351.5,266.5Z" fill="#ff9000" fill-opacity="1.0" />
<path d="M60.5,435.8 60.9,435.7 61.3,435.6 61.6,435.5 62,435.3 62.3,435 62.6,434.8 62.9,434.5 63.3,434.4 63.7,434.2 64.1,434.1 64.5,434 64.8,433.7 65,433.3 65.3,433 65.6,432.7 66,432.6 66.3,432.5 66.7,432.4 67.1,432.4 67.5,432.3 68.3,432.2 69.1,432.2 69.9,432.1 70.7,432.1 71.5,432.1 72.3,432.3 72.7,432.4 73.1,432.6 73.5,432.8 73.9,432.6 74.3,432.5 74.7,432.4 75.1,432.3 75.9,432.3 76.3,432.4 76.7,432.5 77.1,432.5 77.5,432.6 77.9,432.7 78.3,432.8 78.7,432.9 79.1,433 79.4,433.1 79.8,433.2 80.2,433.3 80.6,433.4 81,433.5 81.3,433.8 81.6,434.1 82,434.3 82.3,434.6 83.1,434.6 84,434.6 84.4,434.8 84.7,434.9 85.1,435.1 85.4,435.3 85.8,435.5 86.1,435.7 86.5,435.9 86.8,436.1 87.1,436.4 87.4,436.6 87.8,436.9 88.1,437.1 88.4,437.4 88.7,437.6 89,437.9 89.3,438.2 89.5,438.5 89.8,438.7 90.1,439 90.4,439.3 90.7,439.6 90.9,439.9 91.1,440.3 91.3,440.7 91.4,441.1 91.6,441.5 91.9,441.7 92.3,441.9 92.7,442.1 93,442.3 93.3,442.7 93.5,443 93.7,443.3 94,443.6 94.2,443.9 94.4,444.3 94.7,444.6 94.9,444.9 95.1,445.3 95.3,445.6 95.5,445.9 95.8,446.3 96,446.6 96.2,447 96.4,447.3 96.6,447.6 96.8,448 97,448.3 97.2,448.7 97.2,449.1 97.3,449.5 97.3,450 97.4,450.4 97.7,450.7 98,451 98.3,451.3 98.6,451.6 98.8,451.9 98.9,452.3 99.1,452.7 99.2,453 99.3,453.4 99.5,453.8 99.6,454.2 99.7,454.6 99.8,454.9 99.9,455.3 100.1,455.7 100.2,456.1 100.3,456.5 100.3,456.9 100.4,457.3 100.5,457.7 100.6,458 100.7,458.4 100.8,458.8 100.8,459.2 100.8,459.6 100.7,460.1 100.6,460.5 100.5,460.9 100.6,461.3 100.8,461.6 101,462 101.2,462.4 101.2,463.2 101.2,464 101.2,464.8 101.1,465.6 101,466.4 101,466.8 100.9,467.2 100.8,467.6 100.7,468 100.6,468.3 100.4,468.7 100.2,469 99.9,469.4 99.7,469.7 99.3,469.9 98.9,470.1 98.6,470.4 98.2,470.7 98.2,471.2 98.3,471.7 98.3,472.1 98.4,472.5 98.4,473.3 98.5,474.1 98.6,474.5 98.7,474.9 98.9,475.3 99.1,475.6 99.3,476 99.5,476.3 99.8,476.6 100.1,476.9 100.4,477.1 100.7,477.4 101,477.7 101.3,478 101.6,478.2 101.7,478.6 101.9,479 102,479.4 102.1,479.8 102.5,480 102.8,480.3 103.1,480.5 103.4,480.8 103.6,481.2 103.8,481.5 103.9,481.9 104.1,482.3 104.3,482.6 104.4,483 104.5,483.4 104.7,483.8 104.8,484.1 104.9,484.5 105.1,484.9 105.2,485.3 105.3,485.6 105.5,486 105.6,486.4 105.7,486.8 105.9,487.2 106,487.5 106.1,487.9 106.2,488.3 106.3,488.7 106.3,489.1 106.3,489.5 106.2,490 106.2,490.4 106.5,490.7 106.7,491.1 107,491.4 107.2,491.8 107.3,492.2 107.4,492.5 107.5,492.9 107.6,493.3 107.7,493.7 107.8,494.1 107.9,494.5 108,494.9 108.1,495.3 108.2,495.6 108.3,496 108.4,496.4 108.5,496.8 108.6,497.2 108.7,497.6 108.8,498 108.9,498.4 109,498.7 109.1,499.1 109.1,499.6 109,500 108.9,500.4 108.9,500.8 109.1,501.2 109.3,501.5 109.5,501.9 109.7,502.3 109.8,502.7 109.8,503.1 109.9,503.5 110,504.3 110.1,505.1 110.2,505.8 110.2,506.6 110.3,507.4 110.3,508.2 110.3,509 110.3,509.8 110.2,510.6 110.1,511 109.9,511.4 109.7,511.8 109.5,512.2 109.6,512.6 109.7,513 109.8,513.4 109.9,513.8 109.9,514.2 109.8,514.6 109.8,515 109.7,515.4 109.6,515.8 109.6,516.2 109.5,516.6 109.4,517 109.4,517.4 109.3,517.8 109.2,518.2 109.1,518.6 109,519 108.9,519.4 108.9,519.7 108.8,520.1 108.7,520.5 108.6,520.9 108.4,521.3 108.3,521.7 108.1,522 107.8,522.3 107.5,522.7 107.3,523 107.3,523.8 107.2,524.7 107.1,525.1 106.9,525.4 106.8,525.8 106.6,526.1 106.4,526.5 106.2,526.9 106.1,527.2 105.9,527.6 105.7,527.9 105.5,528.3 105.3,528.6 105.1,529 104.9,529.3 104.7,529.7 104.5,530 104.3,530.3 104.1,530.7 103.8,531 103.6,531.3 103.4,531.7 103.1,532 102.8,532.2 102.4,532.4 102,532.7 101.7,532.9 101.5,533.3 101.4,533.7 101.3,534.1 101.1,534.5 100.9,534.8 100.6,535.1 100.3,535.4 100.1,535.7 99.8,536 99.5,536.3 99.3,536.6 99,536.9 98.7,537.2 98.5,537.5 98.2,537.8 97.9,538.1 97.6,538.3 97.3,538.6 97.1,538.9 96.8,539.2 96.5,539.5 96.2,539.8 95.8,539.9 95.4,540.1 95.1,540.3 94.7,540.5 94.5,540.9 94.3,541.3 94.1,541.7 94,542 93.7,542.3 93.4,542.6 93.1,542.9 92.8,543.2 92.6,543.5 92.3,543.7 92,544 91.7,544.3 91.4,544.6 91.1,544.9 90.8,545.1 90.5,545.4 90.2,545.7 89.9,545.9 89.6,546.2 89.2,546.4 88.8,546.5 88.4,546.6 88,546.8 87.8,547.1 87.6,547.5 87.4,547.9 87.1,548.2 86.8,548.5 86.5,548.7 86.2,548.9 85.9,549.2 85.5,549.4 85.2,549.6 84.9,549.9 84.5,550.1 84.2,550.3 83.9,550.5 83.5,550.7 83.2,551 82.9,551.2 82.5,551.4 82.1,551.5 81.7,551.5 81.3,551.6 80.9,551.7 80.6,552 80.3,552.3 80,552.7 79.7,553 79.4,553.2 79,553.3 78.7,553.5 78.3,553.7 78,553.9 77.6,554 77.2,554.2 76.9,554.4 76.5,554.5 76.1,554.7 75.8,554.8 75.4,555 75,555.1 74.7,555.3 74.3,555.5 73.9,555.6 73.5,555.8 73.2,555.9 72.8,556.1 72.4,556.2 72.1,556.4 71.2,556.4 70.4,556.4 70.1,556.7 69.7,557 69.4,557.3 69.1,557.5 68.7,557.6 68.3,557.7 67.9,557.8 67.5,557.9 67.1,558 66.3,558 65.5,558 65.1,557.9 64.7,557.8 64.4,557.7 64,557.6 63.6,557.5 63.2,557.4 62.9,557.2 62.5,556.9 62.1,556.7 61.7,556.5 61.3,556.6 60.8,556.7 60.4,556.9 60,557.1 59.6,557.1 59.3,557.2 58.9,557.3 58.5,557.4 58.1,557.5 57.7,557.6 57.3,557.7 56.9,557.7 56.5,557.8 56.1,557.9 55.7,558 54.9,558 54.1,558 53.3,557.9 53,557.8 52.6,557.8 52.2,557.5 51.9,557.3 51.5,557 51.2,556.8 50.8,556.8 49.9,556.9 49.1,556.7 48.7,556.6 48.4,556.5 48,556.3 47.6,556.2 47.2,556 46.9,555.9 46.5,555.7 46.1,555.6 45.8,555.4 45.4,555.3 45,555.1 44.7,554.9 44.3,554.8 43.9,554.6 43.6,554.4 43.2,554.2 42.9,554 42.5,553.8 42.2,553.6 41.9,553.3 41.6,553 41.4,552.7 41.1,552.3 40.7,552.3 40.2,552.2 39.8,552.1 39.4,552 39.1,551.8 38.7,551.6 38.4,551.4 38,551.2 37.7,551 37.3,550.8 37,550.6 36.6,550.4 36.3,550.2 35.9,550 35.6,549.8 35.2,549.6 34.9,549.4 34.6,549.2 34.3,548.9 34,548.5 33.8,548.2 33.5,547.9 33.1,547.8 32.7,547.7 32.3,547.6 31.9,547.4 31.6,547.2 31.3,547 30.9,546.7 30.6,546.5 30.3,546.2 30,545.9 29.7,545.7 29.4,545.4 29.1,545.1 28.8,544.9 28.6,544.6 28.3,544.3 28,544 27.7,543.7 27.4,543.5 27.1,543.2 26.8,542.9 26.6,542.6 26.3,542.3 26,542 25.7,541.7 25.6,541.4 25.4,541 25.2,540.6 25,540.2 24.6,540 24.3,539.8 23.9,539.6 23.5,539.5 23.2,539.2 22.9,538.9 22.6,538.6 22.4,538.3 22.1,538 21.8,537.7 21.5,537.4 21.3,537.2 21,536.9 20.7,536.6 20.5,536.3 20.2,536 19.9,535.7 19.8,535.2 19.7,534.8 19.5,534.4 19.4,534 19.1,533.8 18.7,533.6 18.3,533.3 18,533.1 17.8,532.8 17.5,532.5 17.3,532.1 17.1,531.8 16.9,531.4 16.7,531.1 16.5,530.8 16.3,530.4 16.1,530.1 15.9,529.7 15.7,529.4 15.5,529 15.3,528.6 15.2,528.3 15,527.9 14.8,527.5 14.7,527.2 14.6,526.8 14.4,526.4 14.3,526 14.2,525.7 14,525.3 14.1,524.9 14.1,524.4 14.1,524 14.2,523.6 13.9,523.2 13.7,522.9 13.4,522.5 13.2,522.2 13.1,521.8 13,521.4 12.9,521 12.8,520.6 12.7,520.2 12.6,519.9 12.6,519.5 12.5,519.1 12.4,518.7 12.3,518.3 12.3,517.9 12.2,517.5 12.1,517.1 12.1,516.7 12,516.3 11.9,515.5 11.8,514.7 11.8,513.9 11.9,513.1 12,512.7 12.1,512.3 12.3,511.9 12.1,511.5 12,511.1 11.8,510.7 11.7,510.3 11.7,509.5 11.7,508.7 11.7,507.9 11.8,507.1 11.8,506.3 11.9,505.5 12,504.7 12.2,503.9 12.4,503.6 12.6,503.2 12.8,502.8 12.6,502.4 12.5,502 12.4,501.6 12.3,501.1 12.4,500.4 12.5,499.6 12.6,498.8 12.7,498.4 12.7,498 12.8,497.6 12.9,497.2 12.9,496.8 13,496.4 13.1,496 13.1,495.6 13.2,495.2 13.3,494.8 13.4,494.4 13.5,494 13.6,493.6 13.7,493.3 13.8,492.9 14.1,492.5 14.3,492.2 14.6,491.9 14.8,491.5 14.8,490.7 14.8,489.8 14.9,489.5 15.1,489.1 15.2,488.7 15.4,488.3 15.5,488 15.7,487.6 15.8,487.2 16,486.9 16.1,486.5 16.3,486.1 16.4,485.8 16.6,485.4 16.8,485 17,484.7 17.1,484.3 17.3,484 17.5,483.6 17.7,483.2 17.9,482.9 18.1,482.6 18.4,482.3 18.8,482.1 19.1,481.8 19.5,481.6 19.6,481.2 19.7,480.8 19.9,480.4 20,480 20.3,479.7 20.5,479.4 20.8,479 21,478.7 21.3,478.4 21.5,478.1 21.7,477.8 22,477.4 22.2,477.1 22.4,476.8 22.5,476.4 22.7,476 22.9,475.7 23,475.3 23.1,474.9 23.3,474.5 23.6,474.2 23.8,473.8 24,473.4 23.9,473 23.7,472.5 23.6,472.1 23.4,471.7 23.3,470.9 23.1,470.6 22.9,470.2 22.7,469.9 22.5,469.6 22.3,469.2 22,468.9 21.9,468.5 21.7,468.1 21.7,467.8 21.6,467.4 21.5,467 21.4,466.2 21.4,465.4 21.4,464.6 21.6,463.8 21.8,463.4 22,463 22.2,462.7 22.1,462.3 22,461.9 22,461.5 22.1,460.7 22.3,460.3 22.4,459.9 22.5,459.5 22.7,459.2 22.8,458.8 22.9,458.4 23.1,458 23.2,457.6 23.3,457.3 23.4,456.9 23.5,456.5 23.7,456.1 23.8,455.7 24,455.4 24.3,455.1 24.6,454.7 24.8,454.4 24.8,453.5 24.8,452.7 25,452.3 25.1,451.9 25.3,451.6 25.4,451.2 25.6,450.8 25.7,450.5 25.9,450.1 26,449.7 26.2,449.4 26.4,449 26.5,448.7 26.7,448.3 26.9,447.9 27.1,447.6 27.3,447.2 27.5,446.9 27.7,446.5 27.9,446.2 28.1,445.8 28.3,445.5 28.5,445.2 28.7,444.8 29,444.5 29.3,444.3 29.7,444 30,443.8 30.4,443.6 30.5,443.1 30.6,442.7 30.7,442.3 30.9,441.9 31.1,441.6 31.4,441.3 31.7,441 31.9,440.7 32.2,440.4 32.5,440.1 32.8,439.9 33,439.6 33.3,439.3 33.6,439 33.9,438.7 34.2,438.5 34.5,438.2 34.8,438 35.1,437.7 35.4,437.5 35.8,437.2 36.1,437 36.4,436.8 36.8,436.6 37.2,436.5 37.6,436.4 38,436.3 38.4,436.3 38.7,436 39,435.6 39.3,435.3 39.6,435 39.9,434.9 40.3,434.7 40.7,434.5 41,434.4 41.4,434.2 41.8,434.1 42.2,433.9 42.5,433.8 42.9,433.7 43.3,433.6 43.7,433.5 44.1,433.4 44.5,433.3 44.8,433.2 45.2,433.1 45.6,433 46,432.9 46.4,432.9 46.8,432.8 47.6,432.7 48.4,432.7 48.8,432.8 49.2,432.9 49.6,433.1 50,433.2 50.4,433 50.8,432.9 51.2,432.7 51.6,432.6 52.4,432.7 53.2,432.8 53.6,432.8 54,432.9 54.4,433 54.8,433.1 55.1,433.2 55.5,433.4 55.9,433.6 56.2,433.8 56.6,434 56.8,434.3 57.1,434.7 57.3,435 57.6,435.3 58,435.4 58.5,435.5 58.9,435.6 59.3,435.6 59.7,435.7 60.1,435.8Z" fill="#8a8a8a" stroke="#151515" stroke-width="0.9"/>
<path d="M13.9,514.9 14,515.6 14.1,516.4 14.3,517.1 14.4,517.9 14.5,518.3 14.5,518.7 14.6,519 14.7,519.4 14.8,519.8 14.9,520.2 15.8,519.9 18.8,518.7 21.7,517.3 24.5,515.5 24.8,515.3 22.7,515.2 20,515 19,515 18.1,515.1 16.9,515.3 16.1,515.4 15.5,515.4 15,515.3 14.5,515.1 14.1,514.9ZM16.5,526.1 16.6,526.4 16.8,526.7 16.9,527.1 17.1,527.4 17.2,527.7 17.4,528.1 17.5,528.4 17.7,528.7 17.9,529 18.1,529.4 18.3,529.7 18.5,530 18.7,530.3 18.9,530.6 21.1,529 23,527.4 24.9,525.8 26.8,524.1 27.3,523.7 27.8,523.5 28.3,523.4 28.9,523.3 29.4,523.4 30,523.6 30.5,523.9 30.9,524.3 31.2,524.7 31.4,525.2 31.6,525.8 31.6,526.3 31.5,526.9 31.3,527.4 31,527.9 30.7,528.3 29.5,529.4 30.1,529.4 30.6,529.6 31.1,529.1 31.5,528.8 32,528.5 32.5,528.2 33,528.1 33.5,528.1 34.1,528.2 34.6,528.4 35,528.7 35.4,529.1 35.7,529.6 35.9,530.1 36,530.6 36,531.1 35.9,531.7 36.4,531.6 37,531.7 37.5,531.9 38,532.1 38.8,532.9 39.6,533.5 39.9,533.6 41.2,533.6 42.1,533.5 42.6,533.4 43.1,533.4 43.7,533.3 44.3,533.3 44.9,533.4 45.4,533.5 45.9,533.6 46.4,533.8 46.9,534.2 47.2,534.6 47.5,535 47.7,535.5 47.8,536.1 47.6,540.1 47.4,541.3 48.1,541.3 48.6,541.5 49,541.7 49.6,541.5 50.2,541.3 50.8,541.2 51.5,541.3 52.1,541.5 52.6,541.8 53.2,542.2 53.4,542.4 53.6,542.7 53.9,543.2 54.1,543.8 54.7,546.6 55,549.5 55.1,552.4 54.8,555.3 54.7,555.9 55.2,555.9 55.8,555.8 56.5,555.7 57.2,555.5 57.6,555.4 58,555.3 58.2,553 58.2,548.8 58.2,540 58.2,536.4 58.2,533 58.2,528 58.2,527.5 58.4,527 58.6,526.6 59,526.2 59.4,525.8 59.8,525.6 60.3,525.4 60.8,525.4 61.3,525.4 61.8,525.6 62.2,525.8 62.6,526.2 63,526.6 63.2,527 63.4,527.5 63.4,528 63.4,533 63.4,535.5 63.7,536 64.3,537 64.9,537.8 65.7,538.4 66.7,539.1 67.5,539.6 67.9,539.9 68.3,540.3 68.5,540.7 68.7,541.2 68.7,541.7 68.7,542.2 68.6,542.6 68.3,543.1 68,543.5 68.6,543.7 69.1,543.9 69.5,544.3 69.8,544.7 70.1,545.1 70.2,545.7 70.5,547 70.8,546.2 71.2,545.2 71.1,544.7 70.9,544.3 70.8,543.8 70.9,543.3 71,542.8 71.2,542.3 71.5,541.9 71.8,541.6 71.1,539.8 70.9,539.2 70.8,538.6 70.8,538 70.9,537.4 71.2,536.9 71.5,536.4 72,535.9 72.5,535.6 73,535.4 73.7,535.3 74.3,535.3 74.9,535.5 75.4,535.7 75.9,536.1 76.3,536.5 76.7,537 78,539.8 79.4,542.6 80.9,545.3 82.3,548 82.8,548.7 83,548.6 83.4,548.3 83.7,548.1 84,547.9 84.3,547.7 84.6,547.5 84.5,546.8 83.1,544.3 81.8,541.7 80.8,538.9 80,535.9 79.9,535.4 79.9,534.8 80,534.3 80.3,533.7 80.6,533.3 81,532.9 81.5,532.6 82,532.4 82.6,532.3 83.1,532.3 83.7,532.5 84.2,532.7 84.6,533 85,533.4 85.3,533.9 85.5,534.4 86.2,537 87.1,539.4 88.1,541.5 89.3,543.6 89.7,543.3 90,543.1 90.2,542.8 90.5,542.5 90.8,542.2 91.1,542 91.4,541.7 91.6,541.4 91.4,541.2 90,539.5 88.6,537.6 87.4,535.5 86.2,533.4 86,532.8 85.9,532.3 85.9,531.7 86,531.1 86.3,530.6 86.6,530.1 87,529.7 87.5,529.4 88,529.2 87.8,528.8 86.9,527.5 86.3,526.6 86.1,526.1 85.9,525.7 85.9,525.2 86,524.7 86.1,524.2 86.4,523.8 86.7,523.4 87.1,523.1 87.5,522.9 88,522.8 88.4,522.7 88.9,522.8 89.4,522.9 89.8,523.2 90.2,523.5 90.5,523.9 91,524.7 91.3,524.4 91.6,524 91.9,523.7 91.4,523.4 90.9,523.1 90.6,522.6 90.3,522.1 90.1,521.5 90.1,520.9 90.1,520.3 90.3,519.7 90.6,519.2 91,518.8 91.4,518.4 91.9,518.1 92.5,517.9 93.1,517.9 96.2,517.9 96.8,517.9 96.5,517.3 95.8,517.3 95.3,517.1 94.9,516.8 94.5,516.5 94.1,516 93.9,515.5 93.7,515 93.7,514.5 93.8,513.9 94,513.4 94.2,513 94.6,512.5 95,512.2 95.5,512 95.9,511.6 96,510.6 96.1,510.1 96.3,509.7 96.6,509.3 97,509 97.4,508.8 97.8,508.7 97.9,508.2 96.8,508.5 96.3,508.7 95.8,508.8 95.3,508.8 94.7,508.7 94.3,508.5 93.8,508.3 93.4,507.9 93.1,507.5 92.9,507 92.8,506.5 92.8,506 92.9,505.6 92.4,505.5 91.9,505.4 91.4,505.1 91,504.8 90.6,504.4 90.4,503.9 90.2,503.4 90.1,502.8 90.2,501.7 90.3,500.5 90.3,499.5 90.1,498.6 89.8,497.5 89.6,496.6 89.2,496.5 88.7,496.6 88.2,496.6 87.7,496.5 87.2,496.3 86.8,496 86.5,495.6 86.2,495.2 86,494.7 85.9,494.2 85.9,493.7 86.3,492 86.7,490.2 86.4,489.9 86.1,489.3 86,488.7 86,488.1 86.1,487.5 86.3,486.9 86.6,486.4 87,486 87.5,485.6 88,485.3 88.1,485 89.1,482.8 90.3,480.3 91.4,478.2 92.2,476.8 92.5,476.4 92.8,476 93.3,475.7 93.7,475.5 94.2,475.4 94.8,475.4 95.3,475.5 95.7,475.7 96.1,476 96.5,476.3 96.8,476.8 97,477.2 97.1,477.7 97.1,478.3 97,478.8 96.8,479.2 96.4,480.1 98.2,478.8 98.7,478.4 98.3,478 98,477.7 97.7,477.3 97.3,476.8 97,476.3 96.8,475.7 96.6,475.2 96.5,474.7 96.4,474.1 96.3,473.5 94.8,472.9 92,472 89.1,471.4 86.1,471 82.8,470.8 82.2,470.7 81.5,470.5 81,470.2 80.7,470 80.5,469.7 80.3,469.5 80,468.9 79.8,468.3 79.7,467.7 79.7,467 79.9,466.4 80.2,465.8 80.6,465.3 80.8,465.1 81,464.9 81.6,464.6 82.2,464.3 82.8,464.3 86.6,464.4 90.1,464.9 93.5,465.6 96.8,466.7 98.7,467.4 98.9,466.8 99,466.1 99,465.4 99.1,464.7 99.1,464 98.4,463.7 95.5,463.9 93.1,463.9 92.7,463.9 92.1,463.9 91.7,463.8 89.5,463.7 86.5,463.4 86,463.3 85.5,463.1 85,462.8 84.6,462.5 84.4,462 84.1,461.5 84,461 84,460.5 84.1,460 84.3,459.5 84.6,459 85,458.7 84.8,458.1 84.7,457.5 84.7,456.9 84.9,456.3 85.1,455.8 85.5,455.4 87.6,453.4 89.7,451.7 91.9,450.2 94.2,448.7 94.6,448.5 94.4,448 94.2,447.7 94,447.4 93.8,447.1 93.6,446.7 93.4,446.4 93.1,446.1 92.9,445.8 92.7,445.5 92.5,445.2 92.3,444.8 90.6,445.7 88.7,446.7 86.6,447.5 84.5,448.2 84,448.3 83.4,448.3 82.8,448.2 82.3,448 81.7,448.2 81.3,448.6 80.7,448.8 80.2,449 79.6,449 79,448.9 78.5,448.7 78,448.4 77.6,448 77.2,447.6 77,447.1 76.8,446.5 76.8,445.9 77.2,443.2 77.7,440.6 78.2,438.1 78.9,435.6 79,435.2 78.5,435 78.1,434.9 77.4,434.7 76.7,434.6 76.1,434.5 76,435.5 75.6,438.8 75.1,442 75.3,442.6 75.6,443 75.8,443.5 75.9,444.1 75.9,444.6 75.8,445.1 75.5,445.6 75.2,446 74.8,446.4 74.4,446.7 73.9,446.9 73.5,448.5 73.3,449 73,449.5 72.6,449.9 72.2,450.2 71.7,450.4 71.2,450.5 70.7,450.5 70.2,450.4 69.7,450.3 69.2,450 68.8,449.6 68.5,449.2 68.3,448.7 68.2,448.2 68.2,447.6 68.3,447.1 69.1,444.1 67.3,441.9 65.5,439.7 63.7,437.5 63.3,436.9 63.3,439.3 63.3,442.7 63.3,446 63.3,449 63.4,455 63.4,458 63.4,461.3 63.4,464.8 63.4,467.8 63.4,470 63.3,470.5 63.2,471 63,471.4 62.6,471.8 62.2,472.2 61.8,472.4 61.3,472.6 60.8,472.6 60.3,472.5 59.8,472.4 59.4,472.2 59,471.8 58.6,471.4 58.4,471 58.2,470.5 58.2,470 58.2,467.8 58.2,464.7 58.2,461.3 58.2,458 58.2,455 58.1,449 58.1,446 58.1,442.7 58.1,441.2 57.7,441.9 56.4,444.7 55.3,447.5 54.2,450.6 54,451.1 53.6,451.7 53.1,452.1 52.6,452.4 52,452.6 51.4,452.7 50.7,452.7 50.1,452.6 49.6,452.3 49,451.9 48.6,451.5 48.3,450.9 48.1,450.3 48,449.7 48,449.1 48.1,448.5 49.2,445.4 49.5,444.6 49,444.9 48.9,445.3 48.8,445.8 48.5,446.3 48.2,446.7 47.8,447 47.3,447.3 46.8,447.5 46.3,447.5 45.7,447.5 45.2,447.3 44.7,447.1 42.9,445.6 42.6,445.9 42.1,446.1 42.4,446.3 42.8,446.7 43.1,447.1 43.3,447.5 43.5,448 43.5,448.6 43.5,449.1 43.3,449.6 43,450 42.7,450.4 42.3,450.8 41.8,451 41.3,451.1 40.8,451.2 40.3,451.1 37.6,450.3 35.2,449.3 32.8,448.2 30.5,446.9 30.1,446.6 29.9,447 29.7,447.3 29.5,447.6 29.3,447.9 29.1,448.2 28.9,448.6 28.8,448.9 28.6,449.2 28.4,449.6 28.3,449.9 28.1,450.3 28,450.6 27.8,451 27.6,451.3 27.5,451.7 27.3,452 28.1,452.6 31,454.1 32.2,454.9 33.8,453.8 34.3,453.5 34.8,453.4 35.3,453.3 35.9,453.4 36.4,453.5 36.9,453.8 37.3,454.1 37.7,454.5 38,455 38.1,455.5 38.2,456.1 38.1,456.6 38,457.2 37.7,457.7 37.4,458.1 37,458.5 38,459.4 38.5,459.6 39,460 39.4,460.5 39.8,461 40,461.6 40.1,462.2 40,462.8 39.9,463.5 39.6,464 39.3,464.5 38.8,465 38.3,465.3 37.7,465.5 34.2,466.1 30.9,466.3 27.6,466.4 24.3,466.2 23.5,466.1 23.6,466.7 23.7,467.3 23.8,467.7 24,468.1 24.2,468.4 24.4,468.7 24.7,469.1 25,469.6 25.2,470.1 25.4,470.8 26.7,471 29.8,471.7 32.9,472.7 35.9,473.9 39,475.3 39.4,475.6 39.8,475.9 40.1,476.4 40.4,476.8 40.5,477.4 40.5,477.9 40.4,478.4 40.2,478.9 40,479.4 39.6,479.8 39.2,480.1 38.7,480.3 38.2,480.4 37.6,480.5 37.1,480.4 36.6,480.2 33.9,478.9 31.2,477.9 29.6,477.4 30.1,478.2 31.2,480.3 31.6,481.2 32.1,480.9 32.6,480.8 33.1,480.7 33.7,480.7 34.2,480.9 34.7,481.1 35.1,481.4 35.4,481.8 35.7,482.3 35.9,482.8 36,483.3 35.9,483.8 35.8,484.4 35.6,484.8 35.2,485.3 34.7,485.8 34.2,486.4 34.4,487.1 34.7,487.9 34.8,488.4 34.8,488.9 34.7,489.4 34.8,489.9 35.2,492 35.5,493.4 35.6,494 35.6,494.5 35.4,495 35.2,495.4 34.9,495.8 34.5,496.1 34,496.4 33.6,496.5 33,496.6 32.5,496.6 32,496.4 31.6,496.2 31.2,495.9 30.9,495.5 30.6,495 30.5,494.6 30.1,493.1 29.7,491.1 29.2,489.1 28.7,489.2 28.2,489.1 27.7,489 27.2,488.8 27.1,489.2 26.8,489.7 26.5,490.1 26.1,490.5 25.6,490.7 25.1,490.9 24.6,490.9 24.1,490.9 23.6,490.7 23.1,490.5 22.7,490.1 22.4,489.7 22.1,489.2 22,488.7 21.9,488.2 21.9,486.3 21.4,486 19.4,484.7 19,485.3 18.8,485.6 18.7,485.9 18.5,486.3 18.4,486.6 18.2,487 18.1,487.3 17.9,487.7 17.8,488 17.6,488.4 17.5,488.7 17.3,489.1 18,489.4 20.6,490.8 20.9,491 23.2,492.6 23.5,492.8 25.6,494.7 27.9,497.1 28.3,497.6 28.6,498.2 28.7,498.8 28.8,499.4 28.7,500 28.5,500.6 28.2,501.2 27.8,501.6 27.3,502 26.7,502.3 27.1,502.7 27.5,503 27.8,503.4 28.1,503.9 28.2,504.3 28.3,504.9 28.2,505.4 28.1,505.9 27.8,506.3 27.5,506.7 27.1,507 26.7,507.3 26.2,507.4 25.7,507.5 25.1,507.4 22.5,506.9 20.7,506.6 20.1,506.6 19.6,506.5 19,506.3 17.2,506 14.5,505.7 14,505.6 13.9,506.1 13.9,506.9 13.8,507.6 13.8,508.4 13.8,509 14.5,509 17.3,509 19.5,509.1 20.1,508.9 20.8,508.6 21.4,508.5 21.9,508.5 22.5,508.6 23,508.7 23.4,509 23.8,509.3 26,509.5 26.5,509.6 27.1,509.8 27.6,510.1 28,510.6 28.3,511 28.5,511.6 28.7,512.1 28.7,512.7 29.1,512.6 30.5,512.4 32,512.3 33.8,512.3 34.4,512.3 35.9,512.6 37.6,513.2 38.7,513.5 39.1,513.8 39.6,514.1 39.9,514.5 40.2,514.9 40.4,515.4 40.5,515.9 40.5,516.5 40.4,517 40.1,517.5 39.8,517.9 39.4,518.3 39,518.5 38.5,518.7 38,518.8 37.4,518.8 36.9,518.7 35.9,518.3 34.6,517.9 33.5,517.7 32.4,517.7 31.4,517.8 31,518.2 27.9,520.5 24.6,522.4 21.4,524.1 18,525.5 16.5,526ZM49.4,534.5 49,532.5 48.8,530.3 48.8,528.9 48.8,528.4 48.9,527.8 49.2,527.4 49.5,526.9 49.9,526.6 50.3,526.3 50.8,526.1 51.4,526 51.9,526 52.4,526.2 52.9,526.4 53.3,526.7 53.7,527.1 54,527.6 54.2,528.1 54.3,528.6 54.3,529.9 54.4,531.6 54.7,532.9 55.3,534.1 56.2,535.5 56.9,536.6 57.1,537 57.3,537.6 57.3,538.1 57.3,538.6 57.1,539.1 56.9,539.6 56.5,540 56.1,540.4 55.6,540.6 55.1,540.8 54.6,540.8 54,540.8 53.5,540.6 53.1,540.4 52.6,540 52.3,539.6 51.6,538.5 50.5,536.9 50.4,536.6 49.6,534.9ZM22.5,535.4 22.8,535.7 23.1,536 23.3,536.3 23.6,536.6 23.9,536.9 24.1,537.1 24.4,536.8 26.2,535 27.3,533.8 27,532.2 27,531.7 24.8,533.4 22.7,535.1 22.4,535.3ZM28.1,541.1 28.3,541.4 28.6,541.7 28.9,542 29.2,542.3 29.5,542.5 29.7,542.8 30,543.1 30.3,543.3 30.6,543.6 30.8,543.9 31.1,544.1 31.4,544.4 31.7,544.6 32,544.8 32.6,544 34.7,541.4 36.1,539.7 35.5,538 35.4,537.5 35.2,537.1 34.5,536.5 34.2,536.1 33.9,535.7 33.7,535.2 32,536.7 30.3,538.7 28.4,540.6 28,541.1ZM37,548.2 37.3,548.4 37.7,548.6 38,548.8 38.4,549 38.7,549.2 39.1,549.4 39.7,548.8 40.8,545.9 41.3,543.8 41.1,543.2 39.3,545.2 37.5,547.5 37,548.2ZM44.2,552.4 44.5,552.5 44.9,552.7 45.2,552.9 45.5,553 45.9,553.2 46.2,553.3 46.6,553.5 46.9,553.6 47.3,553.8 47.7,553.9 48,554.1 48.3,554.2 48.5,552.3 48.5,550.4 48,550.1 47.4,549.8 46.6,549.1 46.2,548.7 45.9,548.3 44.9,550.9 44.2,552.4ZM65.2,555.8 65.8,555.9 66.3,555.9 66.9,555.9 67.3,555.8 66.5,553.6 66.1,552 65.4,553.9 64.9,555.7ZM72.7,553.8 73.1,553.7 73.5,553.5 73.8,553.4 74.2,553.2 74.6,553.1 74.9,552.9 75.3,552.7 75.7,552.6 76,552.4 76.4,552.3 76.7,552.1 77.1,552 76.9,551 75.4,548.2 75.1,547.7 74.4,549.4 73.8,550.9 73.1,552.4 72.3,553.8ZM95.8,537.2 96.1,536.9 96.4,536.6 96.7,536.3 96.9,536 97.2,535.7 97.5,535.5 97.7,535.2 98,534.9 98.3,534.6 98.5,534.3 98.8,534 96.9,532.4 95.2,530.9 94.8,531 94.3,531.1 94.1,531.4 94.2,531.9 94.3,532.4 93.9,534.9 94.6,535.9 95.7,537.3ZM102.3,529.5 102.5,529.2 102.7,528.9 102.9,528.6 103.1,528.3 103.3,527.9 103.5,527.6 103.7,527.3 103.8,526.9 104,526.6 104.2,526.3 104.4,525.9 104.5,525.6 104.2,525.2 101.6,524.6 98.9,524.2 96.1,524 95.5,524 97,525.4 98.7,526.9 100.4,528.3 102.1,529.8ZM106.7,519.6 106.8,519.3 106.9,518.9 107,518.5 107.1,518.1 107.1,517.8 107.2,517.4 107.3,517 107.4,516.2 107.6,515.5 107.6,514.9 105.1,515.1 102.6,515.5 101,515.9 101.6,517 101.8,517.4 101.9,517.8 101.9,518.3 102.6,518.6 105.7,519.3 106.7,519.6ZM108.2,509 108.2,508.3 108.2,507.5 108.1,506.8 108.1,506 108,505.3 107.9,504.5 107.8,503.8 107.3,503.9 104.6,504.8 102.2,505.7 102.4,506.3 102.9,507.4 103,507.8 103,508.3 103,508.8 102.8,509.2 102.6,509.7 104.3,509.6 107.3,509.4 108.2,509.4ZM106.8,498.5 106.7,498.1 106.6,497.7 106.5,497.3 106.4,497 106.3,496.6 106.2,496.2 106.1,495.8 106,495.4 105.9,495 105.8,494.6 105.7,494.2 105.6,493.8 105.5,493.5 104.2,493.8 100.8,494.4 97.2,494.7 94.8,494.8 94.9,495.2 95.2,496.1 95.5,497.3 95.8,498.8 95.8,499.2 95.8,500.5 95.8,501 96.6,501.2 98.1,501.6 99.8,500.9 102.8,499.8 105.8,498.8 106.8,498.6ZM103.9,487.8 103.7,487.5 103.6,487.1 103.5,486.7 103.4,486.3 103.2,485.9 103.1,485.6 103,485.2 102.8,484.8 102.7,484.5 102.6,484.1 102.4,483.8 101.8,483.8 99.1,485.7 97,487.1 97,488.6 99.9,488.7 103,488.2 103.9,488ZM98.5,458.1 98.4,457.7 98.3,457.4 98.2,457 98.1,456.6 98,456.3 97.9,455.9 97.8,455.5 97.7,455.2 97.6,454.8 97.5,454.5 97.4,454.1 95.3,455.1 93.4,456.4 92.5,457.1 93.8,458.5 95.3,458.5 98.1,458.4 98.5,458.3ZM88.1,440 87.8,439.7 87.5,439.5 87.3,439.2 87,439 86.7,438.7 86.4,438.5 86.2,438.3 85.9,438.1 85.6,437.9 85.3,437.7 85,437.5 84.7,437.3 84,439.5 83.4,441.7 83.3,442.4 84.5,442 86.1,441.4 87.5,440.7 88.3,440.2ZM70.4,434.2 69.6,434.2 68.9,434.3 68.2,434.4 69.7,436.2 70.4,437 70.6,435.1 70.7,434.2ZM53.9,435 53.2,434.9 53.3,436.3 53.5,436 54,435.1ZM47.1,434.9 46.4,435 45.7,435.1 45,435.3 44.2,435.5 43.6,435.7 43.2,435.8 42.9,435.9 42.5,436.1 42.2,436.2 41.8,436.3 42.9,438 44.4,439.6 45.4,440.6 45.7,440.2 46.1,439.8 48,438.3 47.8,437.7 47.4,435.4 47.4,434.9ZM36.7,439.2 36.4,439.4 36.1,439.6 35.9,439.8 35.6,440.1 35.3,440.3 35,440.5 34.8,440.8 34.5,441.1 34.2,441.3 34,441.6 33.7,441.9 33.5,442.1 35.2,443.4 37.2,444.4 39.3,445.2 39.2,444.9 39.1,444.5 39,444 39,443.6 39.1,443.1 39.5,442.3 38.8,441.5 37.2,439.4 36.9,439ZM25.3,457.9 25.2,458.3 25.1,458.6 24.9,459 24.8,459.4 24.7,459.8 27.6,460 29.5,460 28.2,459.1 25.8,457.9 25.4,457.7ZM24.8,476.3 24.7,476.8 24.5,477.2 24.2,477.7 24,478.1 23.7,478.6 23.5,478.9 23.2,479.3 22.9,479.7 22.7,480 22.4,480.4 24,481.4 25.4,482.1 25.9,482.4 26.3,482.6 26.6,482.8 25.5,480.7 24.7,479.2 24.5,478.8 24.4,478.3 24.4,477.7 24.5,477.2 24.7,476.8 25,476.3ZM15.4,495.3 15.2,496 15.1,496.7 14.9,497.5 14.8,498.3 14.7,499 14.6,499.8 14.5,500.4 15.2,500.5 17.9,500.8 19.1,501 20.2,499.9 20,499.5 19.4,497.7 17.4,496.3 15.4,495.2ZM65.1,544 64,543.4 63.4,543 63.4,544.8 63.8,544.6 64.4,544.4 65,544.3 65.5,544.3Z" fill="#e8e8e8" filter="url(#bw)"/>
<path d="M64.5,433.9 65.9,435.8 67.6,437.9 69.4,440.1 71.2,442.2 73.2,444.2 M73.5,432.7 73.3,435.3 72.9,438.4 72.4,441.6 71.7,444.7 70.9,447.8 M82.3,434.5 81.8,436.4 81.1,438.7 80.6,441.1 80.1,443.6 79.7,446 M91.6,441.4 90.6,442.2 89,443.2 87.3,444.1 85.5,444.8 83.6,445.4 M97.5,450.3 95.7,451.3 93.6,452.6 91.6,454 89.6,455.6 87.7,457.4 M100.6,460.9 98.2,461.1 95.4,461.2 92.5,461.2 89.6,461 86.7,460.7 M92.5,461.2 89.8,458.3 M98.3,470.8 95.8,469.8 92.8,468.9 89.6,468.2 86.4,467.7 83,467.5 M102.2,479.7 100,481.3 97.3,483.1 94.6,484.9 91.9,486.6 89.1,488.3 M94.6,484.9 94.6,488.6 M106.3,490.4 103.6,491 100.3,491.6 96.9,491.9 93.5,492 90,491.9 M109,500.8 106.6,501.4 103.7,502.2 100.9,503.3 98.2,504.6 95.5,506.2 M109.6,512.2 107.4,512.1 104.7,512.3 102,512.8 99.3,513.5 96.5,514.6 M107.4,523 105,522.3 102.2,521.6 99.2,521.2 96.2,520.9 93.1,520.9 M101.8,532.9 100.4,531.8 98.7,530.4 96.9,528.9 95.2,527.4 93.6,525.8 M94.7,540.6 93.6,539.3 92.3,537.7 91,535.9 89.9,534 88.8,532 M91,535.9 91.5,532.3 M88.1,546.8 86.9,545.1 85.6,542.9 84.4,540.5 83.5,537.9 82.8,535.2 M80.9,551.8 79.6,549.5 78.1,546.8 76.7,544 75.2,541.2 73.9,538.4 M76.7,544 73.4,543.6 M70.4,556.5 69.8,554.9 69.1,552.8 68.5,550.6 68,548.4 67.5,546.2 M61.7,556.6 62,555 62.5,553.1 63.2,551.1 64.1,549.1 65.2,547.2 M51.2,556.9 51.6,555 51.8,552.5 51.8,549.9 51.5,547.3 50.9,544.5 M51.8,549.9 50,547.6 M41,552.4 42.3,549.9 43.5,546.8 44.3,543.5 44.8,539.9 45,536.2 M44.3,543.5 42.9,540 M33.5,547.9 35,545.7 37,543.2 39.1,540.8 41.4,538.5 43.9,536.3 M39.1,540.8 37.8,537.2 M25,540.2 26.4,538.7 28.2,536.8 29.9,534.9 31.6,532.9 33.3,530.9 M29.9,534.9 29.5,531.9 M19.3,534.1 21,532.8 22.9,531.2 24.9,529.6 26.8,527.9 28.7,526.2 M14.1,523.6 16.8,522.7 20,521.4 23.1,519.9 26.1,518 29.1,515.9 M12.2,511.9 14.5,511.9 17.3,511.9 20.1,512.1 22.9,512.2 25.7,512.5 M12.7,502.8 14.9,503.1 17.6,503.4 20.3,503.9 23,504.3 25.6,504.9 M20.3,503.9 22.2,501.8 M14.7,491.5 16.7,492.3 19.1,493.6 21.4,495.2 23.5,497.1 25.6,499.3 M21.4,495.2 22.5,498.6 M19.4,481.5 20.8,482.5 22.7,483.7 24.6,484.7 26.6,485.7 28.7,486.6 M24.6,484.7 24.6,488.2 M23.9,473.4 26.3,473.7 29.2,474.4 32.1,475.3 35,476.4 37.8,477.7 M22.1,462.7 24.5,463 27.6,463.2 30.6,463.2 33.7,462.9 36.9,462.4 M24.7,454.4 27,455.3 29.7,456.7 32.2,458.3 34.7,460.2 37,462.4 M32.2,458.3 35.4,456.1 M30.3,443.5 31.9,444.6 34,445.8 36.1,446.8 38.4,447.7 40.9,448.5 M38.4,436.2 39.4,437.8 40.8,439.7 42.4,441.5 44.2,443.2 46.2,444.8 M42.4,441.5 41.3,443.9 M50,433.1 50.2,434.9 50.6,437.2 51.3,439.4 52.2,441.7 53.4,444 M51.3,439.4 47.9,442.1 M57.6,435.3 56.3,437.6 54.8,440.5 53.5,443.4 52.3,446.4 51.2,449.5 M60.7,434 60.7,436.2 60.7,439.2 60.7,442.7 60.7,446 60.7,449 60.8,452 60.8,455 60.8,458 60.8,461.3 60.8,464.8 60.8,467.8 60.8,470 M60.8,528 60.8,530.1 60.8,533 60.8,536.4 60.8,540 60.8,544.1 60.8,548.8 60.8,553 60.8,556 M27,478 27.8,479.4 28.9,481.5 30,483.8 31,486 31.7,488.2 32.2,490.5 32.7,492.6 33,494 M94.5,478 93.7,479.4 92.6,481.5 91.5,483.8 90.5,486 89.8,488.2 89.2,490.5 88.8,492.6 88.5,494 M88.4,525.2 88.9,526.1 89.7,527.2 90.6,528.1 91.8,528.5 93.2,528.6 94.2,528.6 M61,536.5 61.5,537.3 62.3,538.5 63.1,539.6 64.2,540.5 65.4,541.2 66.2,541.7 M36.4,534.4 37,535 38,535.8 39.1,536.4 40.3,536.5 41.6,536.4 42.5,536.2 M21.8,511.2 21,511.5 19.9,511.9 18.8,512.2 17.7,512.4 16.5,512.5 15.7,512.6 M33.2,483.4 32.7,484 31.9,484.9 31.4,485.8 31.5,486.9 31.8,488 32.1,488.7 M73.3,546 72.9,547 72.3,548.5 71.7,550 71,551.5 70.3,552.9 69.8,553.9 M92.3,495.9 92.5,496.8 92.8,498 93,499.3 93,500.6 93,501.9 92.9,502.8 M47.6,544 47.7,544.8 47.8,546 48.2,547 49.1,547.7 50.2,548.2 51,548.6 M94.9,503.3 96,503.6 97.5,504 98.7,504.6 99.6,505.8 100.2,507.2 100.6,508.3 M51.5,528.8 51.6,530.1 51.7,531.9 52.1,533.7 52.9,535.4 53.9,537 54.6,538.1 M29.7,515.2 30.8,515.1 32.3,515 33.8,515 35.3,515.3 36.8,515.8 37.8,516.1 M98.3,511 98.2,511.9 98,513.3 98,514.7 98.4,516 99.1,517.2 99.5,518.1" fill="none" stroke="#303030" stroke-width="1.1" stroke-linecap="round" stroke-linejoin="round"/>
<path d="M36,468 C38.2,465.4 43.9,464.8 48,464.5 C52.1,464.2 56.4,466 60.7,466 C65,466 69.9,464.2 74,464.5 C78.1,464.8 83.3,465.4 85.5,468 C87.7,470.6 87.1,475.8 87,480 C86.9,484.2 86.2,489.2 85,493 C83.8,496.8 82.5,500.7 80,503 C77.5,505.3 73.2,506.7 70,507 C66.8,507.3 63.9,505 60.7,505 C57.5,505 54.3,507.3 51,507 C47.7,506.7 43.5,505.3 41,503 C38.5,500.7 37.1,496.8 36,493 C34.9,489.2 34.5,484.2 34.5,480 C34.5,475.8 33.8,470.6 36,468Z" fill="#bdbdbd" filter="url(#b1)"/>
<path d="M44,477 C45.7,474.7 49.2,474.2 52,474 C54.8,473.8 57.9,476 60.7,476 C63.5,476 66.3,473.8 69,474 C71.7,474.2 75.3,474.7 77,477 C78.7,479.3 79.5,484.5 79,488 C78.5,491.5 77,495.8 74,498 C71,500.2 65.2,501 60.7,501 C56.2,501 50.1,500.2 47,498 C43.9,495.8 42.5,491.5 42,488 C41.5,484.5 42.3,479.3 44,477Z" fill="#b0b0b0" filter="url(#b1)"/>
<path d="M41,469 Q36.5,486 35.5,505 M80.4,469 Q85,486 86,505 M46,470 Q52,478 57,481 M75.4,470 Q69.4,478 64.4,481" fill="none" stroke="#e0e0e0" stroke-width="2.4" stroke-linecap="round" filter="url(#b1)"/>
<path d="M52,478.5 Q60.7,474.5 69.4,478.5" fill="none" stroke="#d6d6d6" stroke-width="1.1"/>
<path d="M60.7,481.5 L60.8,494" stroke="#fff" stroke-width="1.3"/>
<path d="M37,506 C38.3,504.5 41.8,503 44,503 C46.2,503 49.2,504.2 50,506 C50.8,507.8 49.8,511.7 49,514 C48.2,516.3 46.7,519.3 45,520 C43.3,520.7 40.5,519.3 39,518 C37.5,516.7 36.3,514 36,512 C35.7,510 35.7,507.5 37,506Z" fill="#808080" fill-opacity="0.55" filter="url(#b1)"/>
<path d="M84.4,506 C83.1,504.5 79.6,503 77.4,503 C75.2,503 72.2,504.2 71.4,506 C70.6,507.8 71.6,511.7 72.4,514 C73.2,516.3 74.7,519.3 76.4,520 C78.1,520.7 80.9,519.3 82.4,518 C83.9,516.7 85.1,514 85.4,512 C85.7,510 85.7,507.5 84.4,506Z" fill="#808080" fill-opacity="0.55" filter="url(#b1)"/>
<path d="M50,505.5 53.5,504 56.5,506.5 60.8,505 65,506.5 68.5,504 72,505.5 69.5,509.5 66.8,513 67.2,519.5 65,525.5 60.8,527.5 56.6,525.5 54.4,519.5 54.8,513 52,509.5Z" fill="#fff" stroke="#222" stroke-width="0.8"/>
<path d="M55.8,515 C56.6,513.8 59.1,513.3 60.8,513.3 C62.5,513.3 65,513.8 65.8,515 C66.6,516.2 66.1,518.9 65.6,520.5 C65.1,522.1 63.8,524 63,524.8 C62.2,525.6 61.5,525.4 60.8,525.4 C60.1,525.4 59.4,525.6 58.6,524.8 C57.8,524 56.5,522.1 56,520.5 C55.5,518.9 55,516.2 55.8,515Z" fill="#6e6e6e" stroke="#333" stroke-width="0.6"/>
<path d="M58.3,516 C58.6,515.4 60,515.2 60.8,515.2 C61.6,515.2 63,515.4 63.3,516 C63.6,516.6 63.2,518.4 62.8,519 C62.4,519.6 61.5,519.8 60.8,519.8 C60.1,519.8 59.2,519.6 58.8,519 C58.4,518.4 58,516.6 58.3,516Z" fill="#9a9a9a"/>
<circle cx="25.5" cy="475" r="2" fill="#222"/><circle cx="96.5" cy="474.5" r="2" fill="#222"/>
<path d="M54.8,442.5 C55.2,441.2 56.5,440.1 57.5,440 C58.5,439.9 59.5,442 60.5,442 C61.5,442 62.5,439.9 63.5,439.8 C64.5,439.7 66,440.4 66.5,441.5 C67,442.6 66.8,445 66.5,446.5 C66.2,448 65,449 64.5,450.5 C64,452 64.5,454.4 63.8,455.5 C63.1,456.6 61.5,456.9 60.5,456.8 C59.5,456.7 58.5,456.1 58,455 C57.5,453.9 58,451.8 57.5,450.5 C57,449.2 55.5,448.8 55,447.5 C54.5,446.2 54.4,443.8 54.8,442.5Z" fill="#1cb8f2" fill-opacity="1.0" />
<path d="M21.5,461 C22.2,459.8 23.6,458.8 25,458.5 C26.4,458.2 28.9,458.6 30,459.5 C31.1,460.4 31.5,462.2 31.5,464 C31.5,465.8 30.9,468.7 30,470 C29.1,471.3 27.2,472 26,472 C24.8,472 23.3,471.1 22.5,470 C21.7,468.9 21.2,467 21,465.5 C20.8,464 20.8,462.2 21.5,461Z" fill="#ee2a0a"/>
<path d="M22.4,461.5 21.9,463.2 22,465.4 22.5,467.6 23.3,469.4 24.6,470.5 25.6,470.9 27.1,470.8 28.3,470.3 29.5,468.8 30.3,465.9 30.5,463.2 30.2,461.7 29.7,460.6 28.2,459.7 26.6,459.4 25.2,459.5 23.6,460.2Z" fill="#ffa000"/>
<path d="M24.1,462.5 23.9,464.5 24.6,467.5 25.6,468.8 26,469 26.9,468.8 27.7,468 28.4,465.6 28.5,463.4 28.2,462 27.1,461.5 25.5,461.5 24.7,461.8Z" fill="#fff000"/>
<path d="M33.7,462 C34.3,461.1 36.2,460.4 37,460.8 C37.8,461.2 38.5,462.9 38.7,464.5 C38.9,466.1 38.6,469.6 38,470.5 C37.4,471.4 35.8,470.8 35,470 C34.2,469.2 33.7,467.3 33.5,466 C33.3,464.7 33.1,462.9 33.7,462Z" fill="#f02a0c" fill-opacity="1.0" />
<path d="M81.5,462.5 C82.2,460.7 84.1,459.7 86,459 C87.9,458.3 90.8,458.3 93,458.5 C95.2,458.7 98.2,458.9 99.5,460 C100.8,461.1 100.9,463.8 100.5,465 C100.1,466.2 98.5,466.9 97,467 C95.5,467.1 93.2,465.3 91.5,465.5 C89.8,465.7 88.1,466.9 87,468 C85.9,469.1 85.8,471.7 85,472 C84.2,472.3 82.6,471.6 82,470 C81.4,468.4 80.8,464.3 81.5,462.5Z" fill="#4a4aa8" fill-opacity="0.6" />
<path d="M85.5,461.5 C86.5,460.1 88.2,459.8 90,459.5 C91.8,459.2 94.4,459.1 96,459.5 C97.6,459.9 99.2,460.9 99.5,462 C99.8,463.1 99.1,465.5 98,466 C96.9,466.5 94.6,464.9 93,465 C91.4,465.1 89.7,465.6 88.5,466.5 C87.3,467.4 86.8,470.2 86,470.5 C85.2,470.8 84.1,469.5 84,468 C83.9,466.5 84.5,462.9 85.5,461.5Z" fill="#f0300c" fill-opacity="1.0" />
<path d="M89,461 C89.8,460.5 92.7,460.5 94,460.8 C95.3,461.1 97.2,462.5 97,463 C96.8,463.5 94.2,463.7 93,463.8 C91.8,463.9 90.2,464.3 89.5,463.8 C88.8,463.3 88.2,461.5 89,461Z" fill="#ff9a00" fill-opacity="1.0" />
<path d="M15,496 C15.9,494.8 18.2,493.8 20,494 C21.8,494.2 24.5,495.5 26,497 C27.5,498.5 28.8,500.8 29,503 C29.2,505.2 28.3,508.6 27,510 C25.7,511.4 22.9,511.8 21,511.5 C19.1,511.2 16.6,509.8 15.5,508 C14.4,506.2 14.6,503 14.5,501 C14.4,499 14.1,497.2 15,496Z" fill="#4a4aa8" fill-opacity="0.52" />
<path d="M16,496.5 C16.6,495.4 18.4,495 19.5,495.6 C20.6,496.2 22.2,498.5 22.8,500 C23.4,501.5 23.6,503.7 23,504.5 C22.4,505.3 20.2,505.4 19,505 C17.8,504.6 16.5,503.4 16,502 C15.5,500.6 15.4,497.6 16,496.5Z" fill="#f0280c" fill-opacity="1.0" />
<path d="M50.5,468.5 C50.9,467.1 52.7,466.9 53.5,467.5 C54.3,468.1 55.4,470.4 55.5,472 C55.6,473.6 54.8,476.3 54,477 C53.2,477.7 51.6,477.4 51,476 C50.4,474.6 50.1,469.9 50.5,468.5Z" fill="#4a4aa8" fill-opacity="0.6" />
<path d="M68.5,474 C68.8,473.2 70.9,473 71.5,473.5 C72.1,474 72.5,476.1 72.2,476.8 C71.9,477.6 70.1,478.5 69.5,478 C68.9,477.5 68.2,474.8 68.5,474Z" fill="#4a4aa8" fill-opacity="0.6" />
<path d="M95,500 C95.8,498.6 98.3,498.3 100,498.5 C101.7,498.7 104.1,499.6 105,501 C105.9,502.4 106.2,505.6 105.5,507 C104.8,508.4 102.2,509.5 100.5,509.5 C98.8,509.5 96.4,508.6 95.5,507 C94.6,505.4 94.2,501.4 95,500Z" fill="#4a4aa8" fill-opacity="0.6" />
<path d="M98.5,485 C98.9,484.2 100.3,483.3 101,484 C101.7,484.7 102.6,487.7 102.5,489 C102.4,490.3 101.2,492 100.5,492 C99.8,492 98.8,490.2 98.5,489 C98.2,487.8 98.1,485.8 98.5,485Z" fill="#4a4aa8" fill-opacity="0.6" />
<g>
<path d="M197,437 197.8,436.9 198.2,436.8 198.6,436.6 198.9,436.5 199.3,436.3 199.6,436.1 200,435.9 200.4,435.8 200.7,435.6 201.1,435.5 201.5,435.3 201.9,435.2 202.3,435.2 202.6,435.1 203.5,435.2 203.9,435.3 204.3,435.4 204.7,435.5 205.1,435.4 205.4,435.2 205.8,435.1 206.2,434.9 207,435 207.8,435 208.6,435 209.4,435.1 209.8,435.2 210.2,435.3 210.6,435.3 211,435.4 211.4,435.5 211.8,435.6 212.2,435.6 212.6,435.7 213,435.8 213.4,435.9 213.8,435.9 214.2,436 214.6,436.1 214.9,436.2 215.3,436.3 215.7,436.5 216.1,436.7 216.4,437 216.7,437.2 217.6,437.2 218.4,437.2 218.8,437.3 219.1,437.5 219.5,437.7 219.9,437.8 220.2,438 220.6,438.2 220.9,438.4 221.2,438.6 221.6,438.9 221.9,439.1 222.2,439.3 222.6,439.6 222.9,439.8 223.2,440.1 223.5,440.3 223.8,440.6 224.1,440.9 224.3,441.2 224.6,441.5 224.9,441.8 225,442.2 225.2,442.6 225.3,443 225.5,443.4 225.9,443.5 226.3,443.7 226.7,443.9 227,444.1 227.3,444.4 227.6,444.7 227.9,445 228.1,445.3 228.4,445.6 228.7,445.9 228.9,446.2 229.2,446.5 229.5,446.8 229.7,447.1 230,447.4 230.3,447.7 230.5,448 230.8,448.3 231,448.6 231.2,449 231.5,449.3 231.7,449.6 231.9,449.9 232.2,450.3 232.4,450.6 232.6,450.9 232.7,451.3 232.8,451.8 232.9,452.2 233,452.6 233.4,452.8 233.7,453.1 234,453.3 234.4,453.6 234.6,453.9 234.8,454.3 235.1,454.6 235.3,454.9 235.5,455.3 235.7,455.6 235.9,455.9 236.2,456.3 236.4,456.6 236.6,456.9 236.8,457.3 237,457.6 237.2,458 237.4,458.3 237.6,458.7 237.8,459 238,459.4 238.1,459.7 238.3,460.1 238.5,460.5 238.7,460.8 238.8,461.2 239,461.5 239.2,461.9 239.2,462.8 239.2,463.6 239.5,463.9 239.8,464.2 240,464.6 240.3,464.9 240.5,465.3 240.6,465.7 240.7,466 240.8,466.4 240.9,466.8 241,467.2 241.2,467.6 241.3,468 241.4,468.3 241.5,468.7 241.6,469.1 241.7,469.5 241.8,469.9 241.9,470.3 242,470.7 242,471.1 242.1,471.5 242.2,471.8 242.3,472.2 242.4,472.6 242.3,473.1 242.2,473.5 242.1,473.9 242.1,474.3 242.3,474.7 242.5,475.1 242.7,475.4 243,475.8 243,476.2 243.1,476.6 243.2,477 243.3,477.4 243.4,477.7 243.4,478.1 243.5,478.5 243.6,478.9 243.7,479.3 243.8,479.7 243.8,480.1 243.9,480.5 244,480.9 244.1,481.3 244.1,481.7 244.2,482.1 244.3,482.5 244.3,482.9 244.4,483.3 244.5,483.6 244.5,484 244.6,484.4 244.5,484.9 244.4,485.3 244.3,485.7 244.2,486.1 244.4,486.5 244.6,486.9 244.8,487.2 245,487.6 245,488.4 245.1,489.2 245.2,490 245.3,490.8 245.4,491.6 245.4,492.4 245.5,493.2 245.6,494 245.6,494.8 245.7,495.6 245.7,496.4 245.6,496.8 245.5,497.2 245.3,497.6 245.2,498 245.4,498.4 245.5,498.8 245.7,499.2 245.9,499.6 245.9,500.4 245.9,501.2 245.9,502 246,502.8 246,503.6 246,504.4 246,505.2 246,506 246,506.8 246,507.6 246,508.4 245.8,509.2 245.6,509.6 245.4,510 245.2,510.3 245.3,510.8 245.5,511.2 245.6,511.6 245.7,512 245.6,512.8 245.5,513.6 245.5,514.4 245.4,515.2 245.4,516 245.3,516.8 245.3,517.6 245.2,518.4 245,518.8 244.8,519.1 244.6,519.5 244.4,519.9 244.5,520.3 244.6,520.7 244.6,521.1 244.7,521.5 244.6,521.9 244.5,522.3 244.4,522.7 244.3,523.1 244.2,523.5 244.1,523.9 244,524.3 243.9,524.6 243.8,525 243.7,525.4 243.6,525.8 243.4,526.2 243.3,526.6 243.2,526.9 243.1,527.3 242.9,527.7 242.8,528.1 242.6,528.4 242.4,528.8 242.1,529.1 241.8,529.4 241.5,529.7 241.4,530.5 241.4,530.9 241.3,531.4 241.2,531.7 241,532.1 240.8,532.4 240.6,532.8 240.3,533.1 240.1,533.4 239.9,533.8 239.7,534.1 239.4,534.4 239.2,534.8 239,535.1 238.7,535.4 238.5,535.7 238.2,536 238,536.3 237.7,536.7 237.5,537 237.2,537.3 236.9,537.6 236.7,537.8 236.4,538.1 236.1,538.4 235.8,538.7 235.5,539 235.1,539.1 234.7,539.3 234.3,539.4 233.9,539.6 233.7,540 233.5,540.3 233.3,540.7 233.1,541.1 232.8,541.3 232.5,541.6 232.2,541.8 231.9,542.1 231.6,542.4 231.3,542.6 231,542.9 230.7,543.2 230.4,543.4 230.1,543.7 229.8,543.9 229.5,544.2 229.2,544.5 228.9,544.7 228.5,545 228.2,545.2 227.9,545.5 227.6,545.7 227.3,546 227,546.2 226.6,546.4 226.3,546.6 225.9,546.7 225.5,546.8 225,546.9 224.6,547 224.4,547.3 224.1,547.6 223.8,547.9 223.5,548.2 223.2,548.4 222.8,548.6 222.5,548.8 222.1,549 221.7,549.2 221.4,549.3 221,549.5 220.7,549.7 220.3,549.9 219.9,550 219.6,550.2 219.2,550.4 218.9,550.5 218.5,550.7 218.1,550.9 217.8,551 217.4,551.2 217,551.4 216.2,551.4 215.3,551.4 215,551.7 214.7,551.9 214.4,552.2 214,552.5 213.6,552.6 213.3,552.7 212.9,552.9 212.5,553 212.1,553.1 211.7,553.2 211.4,553.3 211,553.4 210.6,553.5 210.2,553.6 209.8,553.7 209.4,553.8 209,553.9 208.6,553.9 207.8,554 207,554.1 206.2,554.1 205.4,554.1 204.6,553.9 204.2,553.7 203.9,553.6 203.5,553.4 203.1,553.5 202.7,553.6 202.3,553.7 201.8,553.8 201.4,553.7 201.1,553.6 200.7,553.5 200.3,553.3 199.9,553.2 199.6,553 199.2,552.9 198.8,552.8 198.4,552.7 198,552.6 197.2,552.5 196.4,552.6 196,552.7 195.7,552.8 195.3,552.9 194.4,552.8 193.6,552.8 193.2,553.1 192.9,553.3 192.6,553.5 192.2,553.8 191.8,553.8 191,553.9 190.2,554 189.4,554.1 188.6,554.1 187.8,554.1 187,554.1 186.2,554 185.4,553.9 185,553.9 184.6,553.8 184.3,553.6 183.9,553.3 183.6,553.1 183.2,552.9 182.8,552.9 182.4,552.9 181.9,553 181.5,553 181.1,552.9 180.8,552.7 180.4,552.6 180,552.5 179.6,552.4 179.2,552.2 178.9,552.1 178.5,552 178.1,551.8 177.7,551.7 177.4,551.5 177,551.4 176.6,551.2 176.3,551 175.9,550.9 175.5,550.7 175.2,550.6 174.8,550.4 174.4,550.2 174.1,549.9 173.9,549.6 173.6,549.3 173.3,549 172.8,548.9 172.4,548.9 172,548.9 171.6,548.8 171.2,548.6 170.9,548.4 170.5,548.3 170.1,548.1 169.8,547.9 169.4,547.7 169.1,547.5 168.8,547.3 168.4,547.1 168.1,546.9 167.7,546.6 167.4,546.4 167.1,546.2 166.7,546 166.4,545.7 166.1,545.5 165.8,545.2 165.5,545 165.2,544.6 165,544.3 164.8,543.9 164.6,543.5 164.2,543.4 163.8,543.2 163.4,543.1 163,542.9 162.7,542.7 162.4,542.4 162.1,542.1 161.8,541.9 161.5,541.6 161.2,541.3 160.9,541 160.6,540.8 160.4,540.5 160.1,540.2 159.8,540 159.5,539.7 159.2,539.4 158.9,539.1 158.6,538.8 158.4,538.5 158.1,538.2 158,537.8 157.8,537.4 157.7,537 157.6,536.6 157.2,536.4 156.9,536.2 156.5,535.9 156.2,535.7 155.9,535.3 155.7,535 155.5,534.7 155.3,534.3 155.1,534 154.9,533.6 154.7,533.3 154.5,532.9 154.3,532.6 154.1,532.2 153.9,531.9 153.8,531.5 153.6,531.2 153.4,530.8 153.2,530.4 153.1,530.1 152.9,529.7 152.8,529.3 152.6,529 152.5,528.6 152.4,527.7 152.4,526.9 152.2,526.6 151.9,526.3 151.6,525.9 151.4,525.6 151.2,525.2 151.1,524.8 151,524.4 150.9,524.1 150.8,523.7 150.7,523.3 150.6,522.9 150.5,522.5 150.4,522.1 150.3,521.7 150.3,521.3 150.2,520.9 150.1,520.5 150,520.1 150,519.8 149.9,519.4 149.8,519 149.8,518.6 149.7,518.2 149.6,517.4 149.7,517 149.8,516.5 149.9,516.1 150.1,515.7 149.9,515.3 149.7,515 149.5,514.6 149.3,514.2 149.3,513.4 149.2,512.6 149.2,511.8 149.1,511 149.1,510.2 149,509.4 149,508.6 149,507.8 149,507 149.1,506.2 149.3,505.8 149.4,505.4 149.6,505 149.4,504.6 149.3,504.2 149.2,503.8 149,503.4 149,502.6 149.1,501.8 149.1,501 149.1,500.2 149.1,499.4 149.2,498.6 149.2,497.8 149.2,497 149.3,496.2 149.3,495.4 149.5,494.6 149.7,494.2 149.9,493.8 150.1,493.4 150,493 149.9,492.6 149.7,492.2 149.6,491.8 149.7,491 149.8,490.2 149.9,489.4 149.9,488.6 150,487.8 150.1,487 150.2,486.2 150.3,485.4 150.4,484.6 150.5,484.2 150.5,483.8 150.6,483.4 150.6,483 150.7,482.6 150.8,482.2 150.8,481.9 151,481.5 151.3,481.1 151.5,480.7 151.7,480.4 151.6,480 151.5,479.5 151.5,479.1 151.4,478.7 151.5,478.3 151.6,477.9 151.6,477.5 151.7,477.1 151.8,476.7 151.9,476.4 152,476 152.1,475.6 152.2,475.2 152.3,474.8 152.4,474.4 152.5,474 152.6,473.7 152.8,473.3 152.9,472.9 153,472.5 153.3,472.2 153.5,471.8 153.8,471.5 154,471.2 154,470.3 154,469.5 154.1,469.1 154.2,468.7 154.4,468.3 154.5,467.9 154.6,467.6 154.8,467.2 154.9,466.8 155,466.4 155.2,466 155.3,465.7 155.4,465.3 155.6,464.9 155.8,464.6 155.9,464.2 156.1,463.8 156.3,463.5 156.4,463.1 156.6,462.8 156.9,462.5 157.3,462.2 157.6,461.9 157.9,461.6 158,461.2 158,460.8 158.1,460.4 158.2,460 158.4,459.6 158.6,459.3 158.8,458.9 159,458.6 159.2,458.2 159.3,457.9 159.5,457.5 159.7,457.2 159.9,456.8 160.1,456.4 160.3,456.1 160.5,455.7 160.7,455.4 160.9,455 161.1,454.7 161.3,454.3 161.4,454 161.8,453.7 162.1,453.4 162.4,453.2 162.8,452.9 162.8,452.5 162.9,452.1 163,451.6 163,451.2 163.3,450.9 163.5,450.5 163.7,450.2 163.9,449.8 164.1,449.5 164.3,449.2 164.5,448.8 164.7,448.5 164.9,448.1 165.1,447.8 165.3,447.4 165.5,447.1 165.7,446.7 165.9,446.4 166.1,446 166.3,445.7 166.5,445.3 166.7,445 166.9,444.6 167.1,444.3 167.3,444 167.6,443.7 168,443.5 168.4,443.3 168.7,443.1 168.9,442.7 169,442.3 169.2,441.9 169.4,441.6 169.7,441.3 170,441 170.3,440.8 170.6,440.5 171,440.3 171.3,440 171.6,439.8 171.9,439.6 172.2,439.3 172.6,439.1 172.9,438.8 173.2,438.6 173.5,438.4 173.9,438.2 174.2,437.9 174.5,437.7 174.9,437.5 175.2,437.4 175.6,437.2 176,437 176.8,437 177.6,437.1 178,436.9 178.3,436.6 178.7,436.4 179.1,436.2 179.4,436.1 179.8,436 180.2,435.9 180.6,435.9 181,435.8 181.4,435.7 181.8,435.6 182.2,435.6 182.6,435.5 183,435.4 183.4,435.3 183.8,435.3 184.2,435.2 184.6,435.1 185.4,435 186.2,435 187,435.1 187.4,435.2 187.8,435.4 188.2,435.5 188.6,435.4 189,435.2 189.4,435.1 189.8,435 190.6,435 191.4,435.1 191.7,435.2 192.1,435.2 192.5,435.3 192.9,435.5 193.3,435.6 193.6,435.8 194,435.9 194.4,436.1 194.7,436.3 195.1,436.5 195.4,436.6 195.8,436.8 196.2,436.9 196.6,437Z" fill="#8a8a8a" stroke="#151515" stroke-width="0.9"/>
<path d="M168,446.6 167.9,447 167.7,447.3 167.5,447.7 167.3,448.1 167.1,448.4 166.9,448.8 166.6,449.2 166.4,449.5 166.2,449.9 166,450.2 165.8,450.5 165.6,450.9 165.4,451.2 165.5,451.6 167.5,452.8 169.6,453.9 171.6,455 173.7,456 174.1,456.3 174.5,456.6 174.8,457 175,457.5 175.1,457.9 175.1,458.4 175,458.9 174.8,459.3 174.5,459.7 174.2,460.1 173.8,460.4 173.4,460.6 172.9,460.7 172.4,460.7 171.9,460.6 171.5,460.4 169.4,459.3 167.3,458.2 165.2,457.1 163.1,455.9 162.8,455.7 162.4,456.3 162.2,456.7 162.1,457 161.9,457.4 161.7,457.7 161.5,458.1 161.3,458.5 161.1,458.8 160.9,459.2 160.7,459.5 160.5,459.9 160.7,460.3 162.7,461.5 164.7,462.7 166.7,464.1 168.7,465.4 169.1,465.7 169.4,466.1 169.6,466.6 169.8,467.1 169.8,467.6 169.8,468.1 169.6,468.6 169.4,469 169,469.4 168.6,469.7 168.2,470 167.7,470.1 167.2,470.2 166.7,470.1 166.2,469.9 165.7,469.7 163.8,468.4 161.9,467.1 160,465.9 158.1,464.8 157.7,465 157.6,465.3 157.5,465.7 157.3,466 157.2,466.4 157,466.8 156.9,467.1 156.8,467.5 156.6,467.8 156.5,468.2 156.4,468.6 156.3,469 156.8,469.2 159.3,470 161.8,470.9 164.3,471.9 166.8,472.8 167.3,473.1 167.7,473.4 168.1,473.8 168.3,474.3 168.5,474.8 168.6,475.3 168.5,475.9 168.4,476.4 168.1,476.9 167.8,477.3 167.4,477.7 166.9,477.9 166.4,478.1 165.9,478.2 165.3,478.1 164.8,478 162.4,477 159.9,476.1 157.5,475.3 155.1,474.4 154.6,474.3 154.3,475 154.2,475.3 154.1,475.7 154,476.1 153.9,476.5 153.9,476.8 153.8,477.2 153.7,477.6 153.6,478 154.2,478.4 156.8,479.2 158.4,479.7 159.4,478.8 159.7,478.5 160.1,478.4 160.5,478.2 161.1,478.2 161.5,478.3 161.9,478.5 162.3,478.7 162.5,479.1 162.8,479.4 162.9,479.8 163,480.2 162.9,480.8 162.8,481.2 162.6,481.5 164.6,482.5 165,482.8 165.3,483.1 165.6,483.5 165.8,484 165.9,484.5 165.9,484.9 165.8,485.4 165.6,485.9 165.4,486.3 165,486.6 164.6,486.9 164.2,487.1 163.7,487.2 163.2,487.2 162.7,487.1 162.3,486.9 160,485.7 157.7,484.7 155.4,483.9 153,483.2 152.6,483.1 152.6,483.7 152.4,484.5 152.3,485.3 152.2,486.1 152.1,486.8 152.1,487.6 152,488.4 151.9,489.2 151.8,490 151.7,490.8 151.7,491.3 152.3,491.4 154.9,492 156.2,492.5 157.1,491.4 157.4,491.1 157.8,490.9 158.2,490.7 158.7,490.6 159.1,490.6 159.6,490.7 160,490.9 160.3,491.2 160.6,491.5 160.9,491.9 161,492.3 161.1,492.8 161.1,493.2 161,493.6 160.8,494.1 160.5,494.4 162.7,495.8 163.1,496.1 163.4,496.5 163.7,496.9 163.8,497.3 163.9,497.8 163.9,498.2 163.7,498.7 163.5,499.1 163.2,499.5 162.9,499.8 162.5,500 162.1,500.2 161.6,500.2 161.1,500.2 160.7,500.1 160.3,499.9 158,498.5 155.8,497.4 153.7,496.6 151.5,496.1 151.3,496.7 151.2,497.5 151.2,498.3 151.2,499.1 151.1,499.9 151.1,500.6 151.1,501.4 151,502.2 152.3,502.5 154,502.5 155.6,502.5 157.3,502.4 157.8,502.5 158.3,502.6 158.7,502.8 159.1,503.1 159.4,503.5 159.7,503.9 159.8,504.3 159.9,504.8 159.9,505.3 159.7,505.8 159.5,506.2 159.2,506.6 158.8,506.9 158.4,507.2 158,507.3 157.5,507.4 155.8,507.5 154.1,507.5 152.4,507.5 151,507.5 151,508.1 151,508.9 151.1,509.7 151.1,510.5 151.1,511.3 151.2,512.1 151.2,512.7 153.2,512.3 155.2,511.7 157.2,510.9 159.3,510 159.8,509.8 160.4,509.7 160.9,509.8 161.5,509.9 162,510.1 162.4,510.5 162.8,510.9 163.1,511.4 163.3,511.9 163.3,512.5 163.3,513 163.2,513.6 162.9,514.1 162.6,514.5 162.2,514.9 161.7,515.1 159.5,516.1 157.1,517 154.7,517.7 152.3,518.3 151.8,518.3 151.9,519 152,519.8 152.1,520.5 152.2,520.9 152.3,521.3 152.4,521.7 152.5,522 152.6,522.4 152.6,522.8 152.7,523.2 152.8,523.5 152.9,523.9 153.8,523.8 156.8,523.2 159.9,522.8 163,522.7 166.3,522.9 166.8,523 167.2,523.2 167.7,523.4 168,523.8 168.3,524.2 168.5,524.6 168.7,525.1 168.9,525.4 169.1,525.8 169.3,526.2 169.3,526.6 169.3,527.1 169.2,527.5 169,527.9 167.1,530.4 165.1,532.7 163,534.8 160.8,536.8 160.1,537.4 160.4,537.7 160.6,538 160.9,538.2 161.2,538.5 161.4,538.8 161.7,539 162,539.3 162.3,539.6 162.6,539.8 162.9,540.1 163.5,540.6 163.8,540.9 164.5,540.5 166.7,538.7 169.2,537 172,535.6 175,534.4 175.4,534.3 175.8,534.3 176.3,534.3 176.7,534.5 177.1,534.7 177.4,535 177.7,535.3 177.9,535.7 178,536.1 178,536.6 178,537 177.8,537.4 177.6,537.8 177.3,538.1 177.3,539.7 177.2,541.7 177.3,542.2 177.3,542.7 177.2,543.2 177,543.5 176.8,545.3 176.1,547.9 175.8,548.6 176.4,548.9 176.7,549.1 177.1,549.2 177.4,549.4 177.8,549.5 178.1,549.7 178.5,549.8 178.8,550 179.2,550.1 179.6,550.2 179.9,550.4 180.3,550.5 180.6,550.6 181,550.7 181.2,550.1 182.2,547.4 182.8,546 181.9,544.9 181.7,544.5 181.5,544 181.4,543.5 181.4,543.1 181.5,542.6 181.7,542.1 182,541.8 182.3,541.4 182.7,541.2 183.2,541 183.6,540.9 184.1,540.9 184.6,541 185,541.2 185.3,541.4 186.4,539.7 186.8,539.3 187.2,538.9 187.6,538.7 188.2,538.5 188.7,538.4 189.2,538.5 189.8,538.6 190.2,538.9 190.8,539 191.3,539.2 191.8,539.4 192.2,539.8 192.5,540.2 192.7,540.7 193.5,543.3 194.2,545.6 194.9,547.9 195.4,549.6 195.4,547.4 195.4,543.8 195.4,540.5 195.4,539.5 195,539.7 194.7,539.9 194.1,539.9 193.6,539.8 193.2,539.6 192.9,539.4 192.7,539.1 192.5,538.8 192.1,537.5 191.5,536 191,534.1 190.6,532 190.5,529.8 190.6,527.4 190.8,525.1 191,523.1 191.4,521 192,519.1 192.5,517.5 192.9,516.4 193,516.1 193.2,515.8 193.5,515.5 193.8,515.3 194.1,515.2 194.7,515.1 195.2,515.2 195.4,514.7 195.3,511.8 195.2,508.9 195.2,506 195.2,503.1 195.4,497.3 195.4,494.5 195.4,491.7 195.3,488.8 195.2,485.9 195.2,483 195.2,480.1 195.4,474.3 195.4,471.5 195.4,469.5 195,469.7 194.7,469.8 194.1,469.9 193.6,469.8 193.2,469.6 192.9,469.4 192.7,469.1 192.5,468.8 192.1,467.6 191.5,466.2 191,464.3 190.6,462.3 190.5,460.2 190.6,457.9 190.8,455.7 191,453.7 191.4,451.8 192,450 192.5,448.4 192.9,447.4 193,447.1 193.2,446.8 193.5,446.5 193.8,446.3 194.2,446.2 194.7,446.1 195.3,446.2 195.4,445.2 195.4,441.6 195.3,438.7 194.8,438.5 194.3,438.3 193.9,438.1 193.5,437.9 193.1,437.7 192.8,437.6 192.2,437.3 191.7,437.2 191.1,437.1 190.6,437 190.6,438.3 190.5,439.9 190.4,441.6 190.3,443.3 190.2,443.8 190,444.2 189.7,444.6 189.4,445 189,445.3 188.6,445.5 188.1,445.6 187.6,445.6 187.1,445.5 186.7,445.3 186.3,445 185.9,444.7 185.6,444.3 185.3,444.1 184.7,444.1 184.8,444.6 185,445 185.1,445.4 185.1,445.9 185,446.3 184.9,446.7 184.6,447.1 184.3,447.4 184,447.7 183.6,447.8 183.1,447.9 182.7,448 182.3,447.9 181.9,447.7 181.5,447.5 181.2,447.2 180.2,446.1 179.8,446.4 179.4,446.6 178.9,446.8 178.4,446.9 177.9,446.8 177.5,446.7 177.6,447 177.7,447.4 177.7,448 177.6,448.4 177.4,448.8 177.1,449.1 176.8,449.3 177.7,451.6 177.8,452 177.9,452.6 177.9,453.1 177.8,453.6 177.5,454 177.2,454.5 176.9,454.8 176.4,455.1 175.9,455.3 175.4,455.3 174.9,455.3 174.4,455.2 173.9,455 173.5,454.6 173.2,454.3 172.9,453.8 171.8,451.6 170.7,449.6 169.4,447.8 168.2,446.4ZM154.7,528.9 154.9,529.3 155.1,529.6 155.2,530 155.4,530.3 155.5,530.6 155.7,531 155.9,531.3 156.1,531.6 156.3,532 156.4,532.3 156.6,532.6 156.8,533 157,533.3 157.2,533.6 157.4,533.9 157.9,533.5 159.9,531.7 161.8,529.7 163.4,527.9 160.3,527.9 157.7,528.2 155.2,528.8 154.7,528.9ZM167.6,544.1 167.9,544.3 168.2,544.6 168.5,544.8 168.8,545 169.1,545.2 169.5,545.4 169.8,545.6 170.1,545.8 170.4,545.9 170.8,546.1 171.1,546.3 171.4,546.5 171.8,546.7 172.4,544.5 172.6,543 171.5,540.9 169.5,542.2 167.6,543.7ZM186.4,552 187.1,552.1 187.8,552.1 188.6,552.1 189.3,552.1 190,552 190.5,552 189.8,549.5 189.1,547.1 188.8,546.4 188.4,547.2 187.3,549.5 186.4,551.8ZM199.3,550.8 199.8,551 200.3,551.2 200.7,551.3 200.7,549.6 200.5,547.5 200,545.4 199.4,543.4 199.4,543.9 199.4,547.5 199.3,550.8ZM206.6,552.1 207.3,552.1 208,552 208.7,551.9 209.4,551.8 210.1,551.6 210.8,551.4 211.2,551.3 211.5,551.2 211.9,551.1 212.3,551 212.7,550.8 212.4,549.8 211.4,546.8 210.6,543.8 209.9,540.7 209.3,537.6 209.2,537.1 209.3,536.7 209.4,536.3 209.6,535.9 209.9,535.5 210.3,535.3 210.6,535.1 211.1,534.9 211.5,534.9 211.9,534.9 212.4,535.1 212.7,535.3 213.1,535.6 213.4,535.9 213.6,536.3 213.7,536.7 214.3,539.7 214.9,542.6 215.7,545.5 216.6,548.4 216.9,549.2 217.3,549 217.7,548.9 218,548.7 218.4,548.6 218.7,548.4 219.1,548.2 219.4,548.1 219.8,547.9 220.1,547.7 220.5,547.5 220.9,547.4 221.2,547.2 221.6,547 221.9,546.9 221.6,546.4 220.2,544.2 218.7,542 217.2,539.8 215.7,537.7 215.4,537.3 215.3,536.9 215.2,536.4 215.2,536 215.4,535.5 215.5,535.1 215.8,534.7 216.2,534.4 216.5,534.2 217,534.1 217.4,534 217.9,534 218.3,534.1 218.7,534.3 219.1,534.6 219.4,534.9 221,537.1 222.5,539.3 224.1,541.6 225.5,543.9 225.9,544.5 226.4,544.1 226.7,543.9 227,543.7 227.3,543.4 227.6,543.2 227.9,542.9 228.2,542.7 228.5,542.4 228.8,542.2 229.1,541.9 229.4,541.6 229.7,541.4 230,541.1 230.3,540.9 230.6,540.6 230.9,540.3 230.8,539.9 229.5,538.1 229,537.3 226.3,537.5 225.8,537.4 225.3,537.3 224.8,537.1 224.4,536.8 224.1,536.5 223.8,536 223.6,535.6 223.5,535.1 223.6,534.6 223.7,534.1 223.9,533.6 224.2,533.2 224.5,532.9 225,532.6 225.4,532.4 225.9,532.3 226,531.7 225.9,531.2 225.8,530.7 225.8,530.2 225.9,529.7 225.6,529.4 225.3,528.9 225.1,528.4 225,527.8 225,527.3 225.1,526.7 225.3,526.2 225.6,525.7 226,525.3 226.5,525 227,524.8 227.5,524.7 230.7,524.6 230.6,524.2 230.6,523.7 230.7,523.3 230.9,522.8 231.1,522.5 231.4,522.1 231.8,521.9 232.2,521.7 232.6,521.6 233.1,521.5 233.5,521.6 234,521.8 234.4,522 234.7,522.3 235,522.7 235.1,523.1 235.6,525.1 237.2,525.4 240.2,526.2 241.2,526.5 241.4,525.9 241.5,525.5 241.7,525.2 241.8,524.8 241.9,524.4 242,524.1 242.1,523.7 242.2,523.4 242.3,523 242.4,522.6 242.5,522.2 242.6,521.9 242.1,521.8 239.9,521.1 237.5,520.2 235.2,519.2 233,517.9 232.6,517.6 232.3,517.3 232,516.9 231.9,516.5 231.8,516 231.8,515.5 231.9,515.1 232.1,514.7 232.3,514.3 232.7,514 233.1,513.7 233.5,513.6 233.9,513.5 233.7,513 233.4,512.6 233.2,512.1 233,511.5 233,511 233.1,510.5 233.3,509.9 233.6,509.5 234,509.1 234.5,508.8 235,508.6 237.3,508 239.5,507.7 241.6,507.5 243.8,507.5 244,507.1 244.1,506.4 244,505.6 244,504.9 244,504.1 244,503.3 244,502.5 243.9,501.7 243.9,500.9 241.9,501.1 239.9,501.6 237.8,502.3 235.7,503.2 235.2,503.3 234.7,503.4 234.2,503.3 233.7,503.2 233.3,502.9 232.9,502.6 232.5,502.2 232.3,501.8 232.2,501.3 232.1,500.8 232.2,500.3 232.3,499.8 232.5,499.3 232.9,498.9 233.3,498.6 233.7,498.4 235.9,497.4 238.3,496.6 240.7,496 243.1,495.6 243.7,495.5 243.6,494.9 243.6,494.2 243.5,493.4 243.4,492.6 243.4,491.8 243.3,491 243.2,490.2 243.1,489.4 243.1,488.6 241.6,488.7 239.8,488.8 238,488.8 236.2,488.8 235.7,488.7 235.3,488.6 234.9,488.4 234.5,488.1 234.2,487.7 234,487.3 233.9,486.8 233.8,486.3 233.9,485.9 234,485.4 234.3,485 234.6,484.7 234.9,484.4 235.4,484.1 235.8,484 236.3,484 238,484 239.6,484 241.2,483.9 242.5,483.8 242.4,483.2 242.2,482.4 242.1,481.6 242,480.9 241.9,480.5 241.8,480.1 241.7,479.7 241.7,479.3 241.6,478.9 241.5,478.5 241.4,478.2 241.3,477.8 241.2,477.4 241.2,477 238.9,477.8 237.5,478.4 236.6,480.2 236.4,480.6 236.1,481 235.7,481.2 235.3,481.4 234.8,481.5 234.3,481.5 233.9,481.5 233.4,481.3 232.7,481.6 232.3,481.9 231.9,482 231.4,482.1 231,482.1 230.5,482 230.1,481.8 229.8,481.5 229.4,481.2 229.2,480.8 229,480.3 229,479.9 229,479.4 229.1,479 229.3,478.6 229.6,478.2 229.9,477.9 232.1,476.3 234,475.1 234.3,474.8 234.7,474.6 235.2,474.4 236.9,473.5 239.5,472.6 240.3,472.4 240.2,471.9 240.1,471.5 240,471.1 239.9,470.8 239.8,470.4 239.7,470 239.6,469.6 239.5,469.2 239.4,468.9 239.3,468.5 239.2,468.1 239.1,467.7 239,467.4 238.9,467 237.9,467.1 234.9,467.9 232.9,468.2 232.4,469.9 232.2,470.3 232,470.7 231.7,471 231.3,471.2 230.9,471.4 230.5,471.5 230,471.5 229.6,471.4 229.2,471.3 228.8,471 228.5,470.7 228.2,470.4 228,470 228,469.5 227.9,469.1 225.2,468.8 224.6,468.8 224.1,468.6 223.6,468.4 223.1,468 222.8,467.6 222.5,467.1 222.3,466.6 222.2,466 222.3,465.4 222.4,464.9 222.7,464.4 223,464 223.5,463.6 224,463.3 224.5,463.1 225.1,463.1 228.1,463 230.9,462.7 233.6,462.2 236.2,461.6 236.7,461.4 236.5,461 236.4,460.6 236.2,460.3 236,460 235.8,459.6 235.6,459.3 235.5,459 235.3,458.6 235.1,458.3 234.9,458 234.7,457.7 234.5,457.3 234.3,457 234.1,456.7 233.8,456.4 233.6,456 233.4,455.7 233.2,455.4 232.6,455.5 230.3,456.7 227.9,457.8 225.4,458.8 222.8,459.6 222.4,459.7 221.7,459.7 221.3,459.6 220.9,459.4 220.6,459.1 220.3,458.8 220.1,458.4 219.9,458 219.9,457.5 219.9,457.1 220,456.7 220.2,456.3 220.5,455.9 220.8,455.6 221.2,455.4 223.8,454.6 226.1,453.7 228.2,452.7 230.3,451.6 230.5,451.4 230.3,451.1 230.1,450.8 229.9,450.5 229.6,450.2 229.4,449.9 229.2,449.5 228.9,449.3 228.7,449 228.5,448.7 228.2,448.4 228,448.1 227.7,447.8 227.5,447.5 227.2,447.2 226.9,446.9 226.7,446.6 225.9,447.2 225.1,448.5 224.4,449.9 223.7,451.7 223.5,452.1 223.2,452.6 222.8,452.9 222.3,453.2 221.8,453.4 221.3,453.4 220.7,453.4 220.2,453.2 219.7,453 219.3,452.7 219,452.3 218.7,451.8 218.5,451.3 218.4,450.8 218.5,450.2 218.6,449.7 219.3,447.9 220.2,446 221.3,444.2 222.6,442.5 222.4,442 222.1,441.8 221.9,441.6 221.6,441.3 221.4,441.1 221.1,440.9 220.8,440.7 220.5,440.5 220.2,440.3 219.9,440.1 219.6,440 219.2,439.8 218.3,441.3 217.6,443.3 216.7,445.2 215.8,447.1 215.5,447.6 215.1,448 214.6,448.3 214.1,448.5 213.6,448.7 213,448.7 212.5,448.6 211.9,448.4 211.4,448.1 211,447.7 210.7,447.2 210.5,446.7 210.4,446.2 210.3,445.6 210.4,445.1 210.5,444.7 210.3,444.4 210.1,444 210,443.5 210,443.1 210,442.6 210.2,442.1 210.4,441.7 210.7,441.4 211.1,441.1 211.6,440.8 212.5,440.5 213,439.4 213.5,437.9 213,437.8 212.6,437.8 212.2,437.7 211.8,437.6 211.4,437.5 211,437.4 210.6,437.4 209.9,437.2 209.2,437.1 208.5,437 207.7,437 207.3,437 207.3,437.5 207.7,440.2 208.2,442.9 208.9,445.5 209.9,448.3 210,448.8 210,449.3 209.9,449.7 209.7,450.2 209.5,450.6 209.1,451 208.7,451.3 208.3,451.5 207.8,451.6 207.3,451.6 206.8,451.5 206.4,451.3 205.9,451.1 205.6,450.7 205.3,450.3 205.1,449.9 204.2,447.1 203.4,444.1 202.7,441.1 202.3,438.1 202.3,437.2 201.8,437.3 201.2,437.6 200.9,437.7 200.5,437.9 200.2,438.1 199.8,438.3 199.4,438.5 199.4,441.5 199.4,445.1 199.4,446.2 199.9,446.1 200.4,446.2 200.8,446.3 201.1,446.5 201.4,446.8 201.6,447.1 201.7,447.4 202.1,448.4 202.6,449.9 203.1,451.7 203.6,453.6 203.8,455.7 204,457.8 204.1,460 204,462.1 203.7,464.1 203.1,466.1 202.5,467.6 202.2,468.6 202,469 201.8,469.3 201.5,469.5 201.2,469.7 200.8,469.8 200.3,469.9 199.7,469.8 199.4,469.6 199.4,471.5 199.4,474.4 199.2,480.2 199.2,483 199.2,485.8 199.3,488.7 199.4,491.6 199.4,494.5 199.4,497.4 199.2,503.2 199.2,506 199.2,508.8 199.3,511.7 199.4,514.6 199.4,515.2 199.9,515.1 200.5,515.2 200.8,515.3 201.1,515.5 201.4,515.8 201.6,516.1 201.7,516.4 202.1,517.5 202.6,519 203.1,520.9 203.6,522.9 203.8,525.1 204,527.3 204.1,529.6 204,531.8 203.7,533.9 203.1,535.9 202.5,537.5 202.2,538.6 202,539 201.8,539.3 201.5,539.5 201.2,539.7 201.7,539.6 202.3,539.6 202.8,539.7 203.3,539.9 203.7,540.2 204.1,540.6 204.4,541.1 204.6,541.5 205.3,543.9 205.8,546.5 206.2,549 206.3,551.6 206.3,552.1ZM235.2,536.5 235.5,536.2 235.7,535.9 236,535.7 236.2,535.4 236.4,535.1 236.7,534.8 236.9,534.5 237.1,534.2 237.4,533.9 237.6,533.6 237.8,533.3 238,533 238.2,532.7 238.4,532.3 238.6,532 238.5,531.7 236.1,531 233.5,530.6 231.3,530.4 231.8,531.4 232.8,533.3 233.9,535 235.1,536.6ZM243.3,517.1 243.4,516.3 243.4,515.5 243.4,514.7 243.5,514.2 243.5,513.8 243.6,513.1 242,513.1 240.2,513.3 238.4,513.6 238.7,513.9 239,514.3 239.9,516.1 241.3,516.6 243.3,517.2ZM185.5,437 184.8,437.1 184.1,437.2 183.4,437.4 183,437.4 182.6,437.5 182.2,437.6 181.8,437.7 181.4,437.8 181,437.8 180.6,437.9 181,439.3 181.4,440.1 181.8,440.4 182.1,440.8 182.4,441.2 182.5,441.7 183,442.4 183,441.9 183.1,441.5 183.2,441.1 183.5,440.8 183.8,440.5 185.6,439.1 185.6,438.1 185.7,437ZM175.8,439.3 175.6,439.5 175.3,439.6 175,439.8 174.7,440 174.4,440.2 174.1,440.5 173.7,440.7 173.4,440.9 173.1,441.2 172.8,441.4 172.5,441.6 172.2,441.9 171.9,442.1 172,442.6 173.5,444.5 174.5,445.8 175.3,445.6 175.9,445.6 176,445.1 175.9,444.6 175.8,444.1 175.9,443.6 176.1,443.2 176.4,442.8 177.2,441.8 176.9,441.3 176.1,439.4ZM195.3,465.4 195.2,462.9 195.2,460 195.2,457.1 195.3,454.2 195.4,451.9 195.1,452.7 194.8,454.3 194.5,456.1 194.4,458.1 194.3,460.1 194.4,461.8 194.6,463.3 195.1,464.9ZM199.4,540.5 199.4,541.3 199.7,540.8 200.1,540.4 200.5,540 200.8,539.8 200.3,539.9 199.8,539.8 199.4,539.6ZM199.2,529 199.2,531.8 199.3,534.6 199.3,535.3 199.5,534.8 200,533.1 200.2,531.5 200.3,529.7 200.2,527.6 200.1,525.5 199.8,523.6 199.5,521.9 199.4,521.5 199.2,526.2ZM200.2,458.1 200.1,456.1 199.8,454.3 199.5,452.7 199.4,452.3 199.3,454.4 199.2,457.2 199.2,460 199.2,462.8 199.3,465.4 199.5,464.9 200,463.3 200.2,461.8 200.3,460.1ZM195.2,531.9 195.2,529 195.2,526.1 195.4,521 195.1,521.9 194.8,523.6 194.5,525.5 194.4,527.6 194.3,529.7 194.4,531.5 194.6,533.1 195.1,534.8 195.3,535.3 195.3,534.8 195.2,531.9Z" fill="#ececec" filter="url(#bw)"/>
<path d="M204.7,435.4 204.8,437.8 205.2,440.6 205.8,443.4 206.5,446.3 207.5,449.1 M216.8,437.1 216.3,438.5 215.6,440.4 214.9,442.2 214.1,444 213.2,445.8 M214.9,442.2 212.4,443.1 M225.6,443.3 224.7,444.2 223.7,445.6 222.7,447.2 221.9,448.9 221.2,450.7 M233.1,452.5 231.4,453.6 229.2,454.7 226.9,455.8 224.6,456.7 222.1,457.5 M239.3,463.6 237,464.3 234.2,465.1 231.2,465.6 228.2,465.9 225.1,465.9 M231.2,465.6 230.2,469.3 M242.2,474.3 240.3,474.8 238,475.6 235.7,476.7 233.5,478.1 231.3,479.8 M235.7,476.7 234.5,479.1 M244.3,486.1 243.1,486.2 241.4,486.3 239.7,486.4 238,486.4 236.2,486.4 M245.3,498 243.6,498.2 241.3,498.6 239.1,499.1 236.9,499.9 234.7,500.8 M245.3,510.4 243.8,510.3 241.9,510.3 239.9,510.5 237.9,510.8 235.8,511.2 M244.5,519.9 242.8,519.5 240.6,518.9 238.4,518 236.2,517 234.1,515.8 M238.4,518 237,515.3 M241.6,529.7 239.4,528.9 236.7,528.2 233.8,527.7 230.9,527.5 227.8,527.5 M233.8,527.7 232.9,523.9 M234,539.7 233,538.3 231.7,536.5 230.5,534.6 229.4,532.6 228.5,530.6 M230.5,534.6 226.1,534.9 M224.7,547 223.6,545.2 222.1,542.9 220.7,540.7 219.1,538.5 217.5,536.3 M215.4,551.5 214.5,549.1 213.6,546.2 212.8,543.2 212.1,540.2 211.5,537.1 M203.5,553.5 203.5,551.7 203.5,549.4 203.2,547 202.7,544.7 202,542.3 M193.6,552.9 193,551 192.3,548.7 191.6,546.3 190.9,544 190.2,541.6 M183.2,553 183.8,550.9 184.8,548.4 185.9,545.9 187.2,543.5 188.7,541.2 M185.9,545.9 183.8,543.3 M173.2,549.1 173.9,547.3 174.6,544.9 174.9,542.4 175,539.8 174.9,537.1 M174.9,542.4 173.2,539 M164.6,543.6 166.1,542.1 168.1,540.4 170.5,538.9 173,537.6 175.8,536.5 M157.5,536.7 159.3,535.2 161.4,533.3 163.4,531.2 165.3,529 167.1,526.7 M152.4,526.9 154.6,526.3 157.3,525.7 160.2,525.4 163.1,525.3 166.1,525.5 M150,515.7 151.7,515.5 153.9,515 156.1,514.4 158.3,513.6 160.5,512.6 M149.5,505 150.7,505 152.3,505 154,505 155.7,505 157.4,504.9 M150,493.4 151.9,493.7 154.4,494.3 156.8,495.2 159.1,496.4 161.5,497.9 M156.8,495.2 158.8,492.9 M151.6,480.4 153.6,480.8 156.1,481.5 158.6,482.4 161,483.5 163.4,484.7 M158.6,482.4 160.9,480.3 M154,471.1 156,471.8 158.4,472.7 160.9,473.5 163.4,474.5 165.8,475.4 M157.8,461.6 159.4,462.5 161.4,463.7 163.3,465 165.3,466.2 167.2,467.5 M162.7,452.8 164.3,453.8 166.3,454.9 168.4,456 170.5,457.1 172.6,458.2 M168.6,443 170,444.4 171.5,446.2 172.9,448.2 174.2,450.4 175.3,452.7 M172.9,448.2 175.7,447.6 M177.6,437 178.1,438.5 179,440.4 180,442.2 181.3,444 182.9,445.7 M180,442.2 178.4,444.3 M188.2,435.4 188.1,436.6 188.1,438.2 188,439.8 187.9,441.5 187.8,443.1 M188,439.8 185,442.1 M197.3,436 197.3,438.3 197.4,441.5 197.4,445.2 197.5,448.5 197.4,451.4 197.3,454.3 197.2,457.1 197.2,460 197.2,462.9 197.3,465.8 197.4,468.6 197.5,471.5 197.4,474.4 197.3,477.2 197.2,480.1 197.2,483 197.2,485.9 197.3,488.8 197.4,491.6 197.5,494.5 197.4,497.4 197.3,500.2 197.2,503.1 197.2,506 197.2,508.9 197.3,511.8 197.4,514.6 197.5,517.5 197.4,520.4 197.3,523.2 197.2,526.1 197.2,529 197.2,531.9 197.3,534.7 197.4,537.6 197.5,540.5 197.4,543.8 197.4,547.5 197.3,550.7 197.3,553 M194.7,448 194.3,449 193.8,450.5 193.3,452.2 192.9,454 192.6,455.9 192.5,458 192.4,460.1 192.5,462 192.8,463.8 193.3,465.5 193.9,467 194.2,468 M199.9,448 200.3,449 200.8,450.5 201.3,452.2 201.7,454 202,455.9 202.1,458 202.2,460.1 202.1,462 201.8,463.8 201.3,465.5 200.7,467 200.4,468 M194.7,517 194.3,518.1 193.8,519.6 193.3,521.4 192.9,523.3 192.6,525.3 192.5,527.5 192.4,529.7 192.5,531.7 192.8,533.6 193.3,535.4 193.9,536.9 194.2,538 M199.9,517 200.3,518.1 200.8,519.6 201.3,521.4 201.7,523.3 202,525.3 202.1,527.5 202.2,529.7 202.1,531.7 201.8,533.6 201.3,535.4 200.7,536.9 200.4,538" fill="none" stroke="#303030" stroke-width="1.1" stroke-linecap="round" stroke-linejoin="round"/>
</g>
<path d="M197.3,447 L197.3,470 M197.3,513 L197.3,548" stroke="#f4f4f4" stroke-width="0.7" stroke-dasharray="2.5 2"/>
<path d="M182,472 C183.8,470.5 187.4,470.5 190,471 C192.6,471.5 194.8,475 197.3,475 C199.8,475 202.4,471.5 205,471 C207.6,470.5 211.2,470.5 213,472 C214.8,473.5 216.2,477 216,480 C215.8,483 212.2,485.3 212,490 C211.8,494.7 215.8,504.2 215,508 C214.2,511.8 209.9,514.3 207,513 C204.1,511.7 200.5,500 197.3,500 C194.1,500 190.9,511.7 188,513 C185.1,514.3 180.8,511.8 180,508 C179.2,504.2 183.2,494.7 183,490 C182.8,485.3 179.2,483 179,480 C178.8,477 180.2,473.5 182,472Z" fill="#b4b4b4" fill-opacity="0.55" filter="url(#b1)"/>
<path d="M184,475 C185.1,474.8 188.3,475.1 190,476.5 C191.7,477.9 193.2,481.2 194,483.5 C194.8,485.8 194.9,487.4 194.6,490 C194.3,492.6 193.5,496.2 192.3,499 C191.1,501.8 189.2,505 187.5,507 C185.8,509 183.2,511 182,511 C180.8,511 180.2,509.2 180.3,507 C180.4,504.8 181.5,501 182.6,498 C183.7,495 186.2,491.7 186.8,489 C187.5,486.3 187.1,483.9 186.5,482 C185.9,480.1 183.9,478.7 183.5,477.5 C183.1,476.3 182.9,475.2 184,475Z" fill="#fff" stroke="#2a2a2a" stroke-width="0.8"/>
<path d="M210.6,475 C209.5,474.8 206.3,475.1 204.6,476.5 C202.9,477.9 201.4,481.2 200.6,483.5 C199.8,485.8 199.7,487.4 200,490 C200.3,492.6 201.1,496.2 202.3,499 C203.5,501.8 205.4,505 207.1,507 C208.8,509 211.4,511 212.6,511 C213.8,511 214.4,509.2 214.3,507 C214.2,504.8 213.1,501 212,498 C210.9,495 208.5,491.7 207.8,489 C207.2,486.3 207.6,483.9 208.1,482 C208.6,480.1 210.7,478.7 211.1,477.5 C211.5,476.3 211.7,475.2 210.6,475Z" fill="#fff" stroke="#2a2a2a" stroke-width="0.8"/>
<path d="M184,439 C184.8,437.8 187.8,437.2 190,437 C192.2,436.8 194.7,437.5 197,437.5 C199.3,437.5 202.1,436.6 204,437 C205.9,437.4 208,438.5 208.5,440 C209,441.5 208.4,444.5 207,446 C205.6,447.5 202.7,448.7 200,449 C197.3,449.3 193.5,448.8 191,448 C188.5,447.2 186.2,446 185,444.5 C183.8,443 183.2,440.2 184,439Z" fill="#4a4aa8" fill-opacity="0.52" />
<path d="M195.5,437 C196,435.8 198.6,436.2 200,436.5 C201.4,436.8 203.5,437.2 204.2,438.5 C204.9,439.8 204.9,442.6 204.4,444 C203.9,445.4 202.2,446.6 201,446.6 C199.8,446.6 197.9,445.6 197,444 C196.1,442.4 195,438.2 195.5,437Z" fill="#f0200c" fill-opacity="1.0" />
<path d="M155.5,465 C156.2,463.4 158.4,463.1 160,463.3 C161.6,463.5 164.1,464.6 165,466 C165.9,467.4 166.2,470.2 165.5,472 C164.8,473.8 162.6,476.4 161,476.6 C159.4,476.8 156.9,474.9 156,473 C155.1,471.1 154.8,466.6 155.5,465Z" fill="#4a4aa8" fill-opacity="0.52" />
<path d="M156.7,466 C157.1,465.3 158.6,465.2 159.5,465.5 C160.4,465.8 162.1,466.8 162.2,467.5 C162.3,468.2 160.9,469.7 160,470 C159.1,470.3 157.6,470.2 157,469.5 C156.4,468.8 156.3,466.7 156.7,466Z" fill="#f0200c" fill-opacity="1.0" />
<path d="M225.5,464 C226.2,462.3 228.9,461.3 231,461 C233.1,460.7 236.7,460.8 238,462 C239.3,463.2 239.5,466.3 238.8,468 C238.1,469.7 236,471.5 234,472 C232,472.5 228.4,472.3 227,471 C225.6,469.7 224.8,465.7 225.5,464Z" fill="#4a4aa8" fill-opacity="0.52" />
<path d="M228,465 C228.8,464.1 231.4,462.4 233,462.2 C234.6,461.9 236.9,462.6 237.5,463.5 C238.1,464.4 237.5,466.6 236.5,467.5 C235.5,468.4 232.9,468.8 231.5,468.8 C230.1,468.8 228.6,468.1 228,467.5 C227.4,466.9 227.2,465.9 228,465Z" fill="#f0300c" fill-opacity="1.0" />
<path d="M231,464.5 C231.5,464 234.2,463.7 235,464 C235.8,464.3 236,465.8 235.5,466.3 C235,466.8 232.8,467.3 232,467 C231.2,466.7 230.5,465 231,464.5Z" fill="#ff9000" fill-opacity="1.0" />
<path d="M152.5,517 C153.2,514.9 155.9,514.4 158,514.4 C160.1,514.4 163.2,515.4 165,517 C166.8,518.6 168.3,521.7 168.5,524 C168.7,526.3 167.6,529.7 166,531 C164.4,532.3 161,532.7 159,532 C157,531.3 155.1,529.5 154,527 C152.9,524.5 151.8,519.1 152.5,517Z" fill="#4a4aa8" fill-opacity="0.52" />
<path d="M152.5,518 C153.1,517.1 154.9,516.4 156,516.6 C157.1,516.9 158.5,518.2 158.9,519.5 C159.3,520.8 159.2,523.5 158.5,524.5 C157.8,525.5 156,525.8 155,525.4 C154,525 152.9,523.2 152.5,522 C152.1,520.8 151.9,518.9 152.5,518Z" fill="#f0200c" fill-opacity="1.0" />
<path d="M188,515 C189.1,513.7 191.8,513.4 194,513.2 C196.2,513 199.3,513 201,514 C202.7,515 204.1,517 204.4,519 C204.7,521 204.2,524.2 203,526 C201.8,527.8 199.2,529.8 197,530 C194.8,530.2 191.6,529 190,527.5 C188.4,526 188,523.1 187.7,521 C187.4,518.9 186.9,516.3 188,515Z" fill="#4a4aa8" fill-opacity="0.56" />
<path d="M224.5,513 C225.5,510.3 228.6,510.4 231,510 C233.4,509.6 237,509.7 239,510.5 C241,511.3 242.3,512.8 243,515 C243.7,517.2 243.8,521.2 243,524 C242.2,526.8 240.2,530.2 238,531.5 C235.8,532.8 232.2,532.9 230,532 C227.8,531.1 225.9,529.2 225,526 C224.1,522.8 223.5,515.7 224.5,513Z" fill="#4a4aa8" fill-opacity="0.52" />
<path d="M227,514 C227.7,512.7 229.3,511.4 231,511 C232.7,510.6 235.1,511.1 237,511.5 C238.9,511.9 241.8,512.2 242.5,513.5 C243.2,514.8 242.2,517.4 241.5,519 C240.8,520.6 239.6,522.6 238,523.2 C236.4,523.8 233.8,523.2 232,522.5 C230.2,521.8 227.8,520.4 227,519 C226.2,517.6 226.3,515.3 227,514Z" fill="#ee2a0a"/>
<path d="M227.9,514.5 227.5,515.7 227.5,517.2 227.9,518.5 228.3,519 229.7,520.2 231.5,521.2 234.2,522.1 236.2,522.4 237.6,522.3 239.3,520.9 241,517.7 241.7,515 241.6,514 240.8,513.4 235.8,512.3 232.8,511.9 231.2,512 229.9,512.5 228.7,513.4Z" fill="#ff8c00"/>
<path d="M229.2,515.1 229,517 229.2,517.7 229.9,518.5 232.9,520.2 236.2,520.9 237.3,520.7 238.5,519.4 239.6,517.2 240.2,514.9 234.5,513.6 232.1,513.4 230.6,513.8Z" fill="#ffe000"/>
<path d="M286.5,496.5 286.4,495.7 286.4,494.9 286.5,494.1 286.6,493.3 286.6,492.9 286.7,492.5 286.8,492.1 286.8,491.7 286.9,491.3 287.2,491 287.6,490.7 288,490.3 288.3,490 288.1,489.6 287.9,489.1 287.8,488.7 287.6,488.2 287.7,487.8 287.8,487.4 287.8,487 287.9,486.6 288,486.2 288.1,485.8 288.2,485.5 288.2,485.1 288.3,484.7 288.4,484.3 288.5,483.9 288.6,483.5 288.7,483.1 288.7,482.7 288.8,482.3 288.9,481.9 289.3,481.6 289.7,481.3 290,481 290.4,480.7 290.2,480.2 290.1,479.8 289.9,479.3 289.8,478.8 289.9,478.5 290,478.1 290.1,477.7 290.3,477.3 290.4,476.9 290.6,476.6 290.7,476.2 290.9,475.8 291,475.5 291.2,475.1 291.3,474.7 291.5,474.4 291.7,474 291.9,473.7 292.1,473.3 292.3,472.9 292.5,472.6 292.7,472.2 292.9,471.9 293.1,471.6 293.3,471.2 293.5,470.9 293.9,470.7 294.3,470.5 294.8,470.3 295.2,470.1 295.2,469.6 295.2,469.1 295.2,468.6 295.2,468.2 295.4,467.8 295.6,467.5 295.9,467.2 296.1,466.8 296.3,466.5 296.6,466.2 296.8,465.9 297.1,465.6 297.3,465.3 297.6,465 297.8,464.7 298.1,464.4 298.4,464.1 298.7,463.8 299,463.5 299.3,463.3 299.8,463.2 300.2,463.2 300.7,463.2 301.2,463.2 301.3,462.8 301.5,462.3 301.7,461.9 302,461.5 302.3,461.4 303.1,461.4 303.5,461.5 303.9,461.6 304.2,461.8 304.6,462 305,462.1 305.3,462.3 306.1,462.2 306.4,462 306.6,461.6 306.8,461.3 306.9,460.9 307.1,460.5 307.3,460.2 307.6,459.9 308,459.8 308.5,459.9 308.9,459.9 309.4,460 309.6,459.6 309.8,459.2 310.1,458.8 310.4,458.5 310.8,458.3 311.2,458.2 311.6,458.1 311.9,458 312.3,458 312.7,457.9 313.1,457.8 313.9,457.8 314.7,457.8 315.5,457.8 316.3,457.9 316.7,458 317.1,458 317.5,458.4 317.8,458.7 318.1,459.1 318.4,459.4 318.9,459.2 319.3,459.1 319.7,458.9 320.2,458.8 320.5,459.1 320.8,459.3 321.1,459.7 321.3,460 321.5,460.3 321.8,460.6 322.1,460.9 322.4,461 322.8,460.8 323,460.5 323.3,460.2 323.5,459.8 323.7,459.5 323.9,459.1 324.2,458.8 324.4,458.5 324.8,458.4 325.2,458.5 325.6,458.7 326,458.9 326.4,459.2 326.8,458.9 327.1,458.7 327.5,458.4 328,458.2 328.4,458.2 328.8,458.3 329.1,458.4 329.5,458.5 329.9,458.7 330.2,458.9 330.5,459.2 330.7,459.5 331,459.9 331.1,460.2 331.3,460.6 331.5,460.9 331.7,461.3 331.9,461.6 332.2,461.9 332.5,462.2 332.8,462.3 333.6,462.3 334,462.2 334.4,462.1 334.8,462.1 335.2,462 335.6,462.2 335.9,462.5 336.2,462.9 336.5,463.2 337,463 337.4,462.8 337.9,462.7 338.3,462.5 338.7,462.7 339.1,462.8 339.5,463 339.8,463.1 340.2,463.3 340.5,463.5 340.9,463.7 341.2,463.9 341.5,464.2 341.8,464.4 342.1,464.7 342.4,465 342.7,465.3 342.9,465.6 343.2,465.9 343.2,466.4 343.2,466.9 343.3,467.3 343.3,467.8 343.7,468 344.2,468.1 344.7,468.3 345.1,468.5 345.4,468.8 345.6,469.1 345.8,469.4 346.1,469.7 346.3,470.1 346.5,470.4 346.7,470.8 346.9,471.1 347.1,471.4 347.3,471.8 347.5,472.1 347.7,472.5 347.8,472.9 348,473.3 348.1,473.6 348.2,474 348.3,474.4 348.1,474.9 348,475.3 347.9,475.8 347.8,476.4 348.2,476.7 348.8,477.1 349.6,477 349.8,476.5 350,476.2 350.2,475.8 350.3,475.4 350.5,475.1 350.7,474.7 350.8,474.3 351,474 351.2,473.6 351.4,473.3 351.6,472.9 351.9,472.7 352.3,472.5 352.7,472.5 353.5,472.5 353.9,472.6 354.2,472.9 354.4,473.3 354.7,473.7 354.9,474.1 355.3,474 355.8,474 356.2,474 356.7,473.9 357.1,474.2 357.4,474.4 357.7,474.7 358,474.9 358.3,475.2 358.6,475.5 358.9,475.7 359.2,476 359.4,476.3 359.7,476.6 360,476.9 360.2,477.2 360.5,477.6 360.7,477.9 360.9,478.2 361.1,478.6 361.1,479 361.1,479.5 361,480 361,480.5 361.4,480.7 361.8,480.9 362.3,481.1 362.7,481.4 362.9,481.7 363,482.1 363.2,482.4 363.4,482.8 363.6,483.1 363.7,483.5 363.9,483.9 364.1,484.2 364.3,484.6 364.4,485 364.6,485.3 364.8,485.7 364.9,486 365.1,486.4 365.3,486.8 365.4,487.1 365.6,487.5 365.7,487.9 365.9,488.3 366,488.6 366.2,489 366.3,489.4 366.4,489.8 366.5,490.1 366.4,490.6 366.2,491.1 366,491.5 365.8,491.9 366.2,492.2 366.5,492.6 366.8,492.9 367.2,493.3 367.3,494.1 367.4,494.9 367.5,495.7 367.5,496.1 367.6,496.5 367.7,496.8 367.8,497.2 367.9,497.6 368,498 368,498.8 367.9,499.2 367.9,499.6 367.5,499.9 367.1,500.2 366.8,500.5 366.4,500.8 366.5,501.3 366.7,501.7 366.8,502.2 366.9,502.7 366.8,503 366.6,503.4 366.5,503.8 366.3,504.1 366.1,504.5 365.9,504.8 365.7,505.2 365.4,505.5 365.2,505.8 364.8,506 364.5,506.2 364.1,506.4 363.8,506.5 363.4,506.6 363,506.7 362.6,506.8 361.8,506.9 361,506.7 360.6,506.4 360.3,506.1 359.9,505.8 359.5,506 359.1,506.3 358.7,506.5 358.2,506.6 357.8,506.5 357.5,506.4 357.1,506.2 356.8,506 356.5,505.7 356.1,505.5 355.8,505.3 355.5,505 355.2,504.8 354.9,504.5 354.5,504.3 354.2,504.1 353.9,503.8 353.5,503.7 353.1,503.5 352.4,503.6 352,503.7 351.5,503.6 350.9,503.7 350.4,503.8 349.9,504.1 349.8,504.6 349.9,505.2 350,505.7 350.2,506.2 350.4,506.9 350.5,507.3 350.7,507.7 350.9,508 351.1,508.4 351.3,508.7 351.5,509.1 351.6,509.5 351.7,509.8 351.8,510.2 351.9,511 351.8,511.8 351.7,512.6 351.6,513 351.6,513.4 351.5,513.8 351.1,514.1 350.7,514.4 350.3,514.7 350,515 350.1,515.4 350.2,515.9 350.3,516.3 350.4,516.8 350.3,517.2 350.1,517.5 349.9,517.9 349.7,518.3 349.5,518.6 349.3,519 349.1,519.3 348.9,519.6 348.7,520 348.5,520.3 348.3,520.7 348,521 347.8,521.3 347.6,521.6 347.3,522 347.1,522.3 346.8,522.6 346.6,522.9 346.1,523 345.6,523.1 345.2,523.2 344.7,523.3 344.6,523.8 344.6,524.2 344.4,524.7 344.3,525.2 344,525.4 343.7,525.7 343.4,525.9 343,526.1 342.7,526.3 342.3,526.5 342,526.7 341.7,526.9 341.3,527.1 340.9,527.3 340.6,527.5 340.2,527.6 339.8,527.8 339.5,528 339.1,528.1 338.6,528 338.2,527.9 337.7,527.7 337.3,527.6 337,527.9 336.7,528.3 336.4,528.7 336,529 335.7,529.1 335.3,529.2 334.9,529.2 334.5,529.3 333.7,529.4 332.9,529.4 332.1,529.4 331.3,529.3 330.5,529.3 329.7,529.1 329.3,529.1 328.9,528.7 328.6,528.4 328.3,528 328,527.7 327.5,527.8 327.1,528 326.6,528.2 326.2,528.3 325.8,528.2 325.4,528 325,527.9 324.7,527.7 324.3,527.6 323.9,527.4 323.6,527.3 323.2,527.1 322.8,526.9 322.5,526.7 322.1,526.6 321.8,526.4 321.4,526.2 321.1,526 320.7,525.8 320.4,525.6 320,525.4 319.7,525.2 319.5,524.8 319.3,524.3 319.1,523.9 318.8,523.4 318.4,523.5 317.9,523.5 317.4,523.5 316.9,523.6 316.6,523.4 316.2,523.2 315.9,522.9 315.6,522.7 315.2,522.5 314.9,522.3 314.5,522.1 314.2,521.9 313.9,521.6 313.5,521.4 313.2,521.2 312.9,521 312.5,520.7 312.2,520.5 311.9,520.3 311.6,520.1 311.2,519.8 310.9,519.6 310.6,519.4 310.2,519.2 309.9,518.9 309.7,518.5 309.6,518 309.4,517.6 309.2,517.1 308.7,517.1 308.3,517.1 307.8,517.1 307.3,517.1 307,516.9 306.6,516.6 306.3,516.4 306,516.1 305.7,515.9 305.3,515.7 305,515.4 304.7,515.2 304.4,515 304,514.7 303.7,514.5 303.4,514.2 303.1,514 302.8,513.8 302.4,513.5 302.1,513.3 301.8,513.1 301.5,512.8 301.1,512.6 301,512.1 300.8,511.7 300.6,511.2 300.5,510.8 300,510.8 299.5,510.7 299,510.7 298.5,510.7 298.2,510.5 297.8,510.3 297.5,510.1 297.2,509.9 296.8,509.7 296.5,509.5 296.1,509.3 295.8,509.1 295.4,508.9 295.1,508.7 294.7,508.5 294.4,508.3 294,508.1 293.7,507.9 293.3,507.7 293.1,507.3 293,506.8 292.8,506.4 292.7,505.9 292.2,505.9 291.7,505.9 291.2,505.9 290.8,505.8 290.5,505.5 290.2,505.2 290,504.9 289.7,504.6 289.5,504.3 289.2,503.9 289,503.6 288.8,503.3 288.6,502.9 288.4,502.6 288.2,502.2 288,501.9 287.9,501.5 287.7,501.1 287.6,500.8 287.4,500.4 287.3,500 287.2,499.6 287.1,499.2 287,498.9 286.9,498.5 286.8,498.1 286.7,497.7 286.6,497.3 286.6,496.9Z" fill="#8a8a8a" stroke="#151515" stroke-width="0.9"/>
<path d="M288.5,496.6 288.7,497.3 288.8,498 289,498.7 289.2,499.4 289.4,500 289.7,500.7 289.9,501 290,501.3 290.2,501.6 290.3,501.9 290.7,502.5 290.9,502.8 291.1,503.1 291.3,503.4 291.8,502.7 293.2,499.7 294.3,496.5 294.8,494.1 294.4,494 293.9,493.9 291.8,493.4 289.2,492.8 288.7,492.7 288.6,493.6 288.5,494.3 288.4,494.9 288.4,495.6 288.5,496.3ZM295.4,506.6 295.7,506.8 296,507 296.4,507.2 296.7,507.4 297.1,507.5 297.5,507.8 297.8,508 298.2,508.2 298.5,508.4 299.1,508.1 300.5,506.1 301.9,504 303.3,502 304.6,499.9 304,499.4 302.4,498.6 302.2,498.8 301.8,499.1 301.4,499.3 300.9,499.4 298.5,499.4 297.8,501.4 296.1,504.9 295.2,506.5ZM303.3,511.7 303.9,512.2 304.3,512.4 304.6,512.6 304.9,512.9 305.2,513.1 305.9,513.6 306.2,513.8 306.8,514.3 307.2,514.5 307.5,514.8 308.1,514.4 309.8,512.3 310.8,511 311,510.6 311.3,510.1 311.7,509.7 312.1,509.4 313.4,508.1 315.3,506.2 315.7,505.8 316.1,505.6 313.8,504.3 310.5,502.6 309.3,502 309.1,502.5 308.9,502.9 309.3,503.2 309.7,503.5 310,503.9 310.3,504.3 310.5,504.8 310.5,505.3 310.5,505.8 310.3,506.3 310.1,506.8 309.8,507.2 309.4,507.5 309,507.8 308.5,507.9 308,508 305.5,508.1 304.9,509 303.4,511.1 303.1,511.6ZM312,518 312.7,518.4 313,518.6 313.7,519.1 314,519.3 314.3,519.5 314.6,519.8 315,520 315.3,520.2 315.6,520.4 316,520.6 316.3,520.8 317,521.3 318.2,519.9 320.5,516.7 323.2,513.8 326.2,511 323.5,509.6 320.1,507.8 319.6,507.5 319.6,508.1 319.5,508.6 319.3,509 319.1,509.5 318.8,509.8 319.1,510.1 319.3,510.5 319.5,511.1 319.6,511.6 319.6,512.1 319.4,512.6 319.2,513.1 318.8,513.6 318.4,513.9 318,514.2 317.5,514.4 316.9,514.4 314.5,514.5 313.7,515.4 312.1,517.4 311.8,517.8ZM321.7,524 322,524.2 322.4,524.4 322.7,524.6 323.1,524.8 323.4,525 323.7,525.1 324.1,525.3 324.4,525.5 324.8,525.6 325.1,525.8 325.4,525.9 325.8,526 326.1,525.2 327,522.3 327.7,520.6 326.8,519.5 326.6,519.1 326.4,518.7 326.3,518.3 324.5,519.9 322.4,522.7 321.6,524ZM330.7,527.3 331.4,527.3 332.1,527.4 332.8,527.4 333.5,527.4 334.2,527.3 334.1,526.1 333.6,522.5 333.6,519.3 332.7,521.3 331.7,523.9 330.9,526.6 330.7,527.3ZM340,525.5 340.4,525.3 340.7,525.2 341,525 341.3,524.8 341.6,524.6 341.5,524.2 339.9,522.4 339.2,521.4 339.2,521.9 339.6,524.9 339.7,525.7ZM346.2,520.2 346.4,519.8 346.6,519.5 346.8,519.2 347,518.9 347.2,518.6 347.4,518.3 347.6,518 347.8,517.6 348,517.3 348.1,517 347.6,516.8 344.9,515.9 344.5,515.7 344.3,516.2 344,516.7 343.6,517 344.7,518.6 346.1,520.3ZM349.7,512.3 349.8,511.6 349.9,511 349.9,510.6 349.7,510.2 349.5,509.6 349.3,509.3 349.2,509 349,508.6 348.8,508.2 348.5,507.8 348.4,507.2 348.3,506.8 348.1,506.4 347.9,505.7 347.1,505 345,503 343.1,500.8 341.3,498.4 340.5,497 340,496.7 337.4,495.2 334.6,493.8 331.9,492.6 329.2,491.5 326.5,490.5 323.8,489.6 321.1,488.6 318.2,487.5 315.3,486.3 312.7,485.3 310.9,484.6 310.5,484.3 310.2,484.1 309.8,484.4 309.3,484.5 309.2,485 309,485.5 308.6,485.9 308.2,486.3 307.7,486.6 307.2,486.7 306.6,486.8 306.1,486.8 303.8,486.4 303.7,487 303.6,487.5 303.3,488 303,488.4 302.6,488.7 302.1,489 301.6,489.1 301,489.2 300.5,489.1 300.4,489.7 300.7,490.1 301.2,490.3 301.6,490.5 301.9,490.9 302.2,491.3 302.4,491.8 302.5,492.3 302.5,492.8 302.4,493.3 302.7,493.4 303.2,493.4 303.7,493.5 304.2,493.7 305.7,492.6 307.1,491.4 307.4,491.2 309.1,490.5 310.9,489.9 312,489.6 312.4,489.5 313.1,489.6 313.5,489.7 313.9,489.9 314.2,490.2 314.4,490.5 314.6,490.9 314.7,491.3 314.8,491.8 314.7,492.2 314.6,492.6 314.4,493 314.1,493.3 313.8,493.6 313.4,493.7 312.1,494.1 310.7,494.5 309.6,495 308.7,495.7 309.3,496.2 312.8,498 316.2,499.7 319.4,501.4 322.6,503.2 325.9,505 329.1,506.7 332.8,508.3 335.5,509.5 335.9,509.2 336.2,509 336.6,508.7 337,508.5 337.5,508.4 338,508.4 338.5,508.5 341.1,509.4 343.8,510.3 346.5,511.2 349.1,512.1 349.7,512.3ZM320.8,498.1 320.4,498 319.2,497.1 318.2,496.5 317.9,496.2 317.6,495.9 317.4,495.5 317.3,495.1 317.3,494.7 317.3,494.3 317.5,493.8 317.7,493.5 318,493.1 318.3,492.9 318.7,492.7 319.1,492.6 319.5,492.5 319.9,492.6 320.3,492.7 320.7,492.9 321.6,493.5 322.6,494.2 323.3,494.5 324.1,494.5 325.3,494.2 326.3,494 326.7,493.9 327.2,494 327.6,494.1 328,494.3 328.3,494.5 328.6,494.8 328.8,495.2 328.9,495.6 329,496 329,496.5 328.9,496.9 328.7,497.3 328.4,497.6 328.1,497.9 327.7,498.1 327.3,498.2 326.3,498.5 324.8,498.8 324.3,498.8 322.9,498.9 322.5,498.8 322.1,498.7ZM353.7,501.6 354.1,501.7 354.8,502 355.3,502.4 355.7,502.6 356.1,502.9 356.4,503.2 356.7,503.4 357,503.7 357.3,501.8 357.3,499.8 356.4,499.3 356,499 355.6,498.7 355.3,498.3 355.2,497.8 354.9,497.4 354.8,497 354.7,496.6 354.8,495.9 354.9,495.5 355.1,495.2 355.4,494.8 355.8,494.6 356.2,494.4 356.6,494.3 356,494 355.4,493.8 354.9,493.5 354.5,493.2 354.2,492.7 353.9,492.2 353.8,491.6 353.7,491.1 353,492.1 353,492.6 353.3,495.7 353.5,497.8 353.5,498.4 353.3,498.8 353.1,499.1 352.9,499.4 352.6,499.7 352.2,499.9 352.7,500.6 353.6,501.6ZM362.9,504.7 363.4,504.5 363.7,504.4 364,504.1 364.2,503.7 364.5,503.2 362.7,502.3 362.7,504.4ZM365.9,497.8 365.8,497.4 365.7,497 365.5,496.4 365.5,496 365.4,495.5 365.4,495.1 365.1,494.9 363,495 362.3,494.9 362.5,496.2 364.4,497.3 365.9,497.9ZM364,489 363.9,488.6 363.7,488.3 363.6,487.9 363.4,487.6 363.3,487.2 363.1,486.9 363,486.5 362.8,486.2 362.6,485.8 362.5,485.4 362.3,485.1 362.1,484.7 362,484.4 361.8,484 361.6,483.7 361.4,483.3 360.8,483.6 358.6,485.4 357.2,486.8 357.6,486.7 358.1,486.7 358.6,486.8 359.1,487 359.6,487.2 361.7,489.1 362.9,489.2 364.1,489.1ZM358.8,478.7 358.6,478.5 358.4,478.2 358.2,477.9 358,477.7 357.7,477.4 357.5,477.2 357.2,476.9 356.9,476.7 356.7,476.4 356.3,476.8 354.7,479.3 353,481.7 352.3,482.5 352.4,484.4 352.7,484.1 355.1,481.7 357.7,479.6 358.9,478.8ZM347.9,478.9 346.4,479.4 345.6,479.6 345.8,480.2 345.9,480.6 346,481.1 345.9,481.6 345.7,482.1 347.2,480.6 348.1,479.5 348.1,478.9ZM346.2,474.2 345.9,473.6 345.7,473 345.4,472.4 345.2,472.1 345,471.8 344.8,471.5 344.6,471.2 344.4,470.9 344.2,470.6 344,470.3 342.5,471.4 341.1,472.4 341.3,472.8 342.2,475 342.4,475.5 344.8,474.8 346.2,474.3ZM340.9,466.4 340.7,466.1 340.3,465.7 339.8,465.4 339.3,465.1 338.9,464.9 338.8,465.5 338.5,466.1 338.8,466.4 339.1,466.8 339.3,467.2 339.4,467.7 341.1,466.5ZM333.1,464.4 332.5,464.3 332.1,464.2 331.8,464 331.4,463.9 330.9,463.5 330.6,463.2 330.4,462.9 330,462.4 329.7,461.9 329.5,461.5 329.4,461.1 329.1,460.6 329.1,461.1 329.1,464.3 329.1,465 329.9,466.6 330.8,468.5 331.2,467.9 332.5,465.8 333.1,464.4ZM323.8,462.5 323.4,462.7 323.1,462.9 322.7,463 322,462.9 321.7,462.9 321.3,462.7 320.9,462.5 320.6,462.2 320.4,465.3 320.5,468.6 321.1,472.1 322,475.8 322.2,476.1 323.2,477.6 324,478.6 324.2,479 324.3,479.5 324.4,480 324.4,480.4 324.2,480.9 324,481.3 323.7,481.7 323.4,482 323,482.2 322.5,482.3 322,482.4 321.6,482.4 321.1,482.2 320.7,482 320.3,481.7 320,481.4 319.3,480.3 318.3,478.9 318,478.5 317.6,478.1 317.3,477.7 317.1,477.3 316,475.3 314.8,473.1 314.5,472.6 314,472.4 313.6,472.2 313.3,471.9 312.9,471.5 312.7,471.1 312.6,470.7 312.5,470.2 312.6,469.7 311.1,467.8 309.3,465.4 307.9,463.3 307.4,463.8 307,464 306.6,464.2 306.3,464.3 305.9,464.3 305.1,464.3 306.1,466.5 306.8,468.2 309.2,468.3 309.7,468.4 310.2,468.6 310.6,468.8 311,469.2 311.3,469.6 311.5,470 311.6,470.5 311.7,471 311.6,471.5 311.4,472 311.2,472.4 310.8,472.8 310.4,473.1 310,473.3 309.5,473.5 309,473.5 308.5,473.5 309.2,476.4 309.3,477 309.2,477.5 309.1,478 310.5,479.7 310.9,479.4 311.4,479.3 312,479.2 312.5,479.2 313.1,479.4 314.8,480.1 317.4,481.2 320.2,482.3 323,483.4 325.6,484.3 328.3,485.2 331.2,486.2 334.1,487.4 337,488.8 339.9,490.2 342.8,491.9 345.5,493.7 345.8,493.9 348.2,495.9 349.4,497.1 349.3,496 349.1,493.2 348.8,492.9 348.5,492.5 348.2,492.1 348.1,491.6 348,491.1 348.1,490.6 348.2,490.1 348.5,489.7 348.7,489.3 348.5,486.5 348.1,486.7 347.6,486.9 347.2,487 347,487.4 346.7,487.7 346.3,488 345.9,488.2 345.4,488.4 345,488.4 344.5,488.3 344,488.2 343.6,488 343.3,487.7 343,487.3 341.9,485.3 341.7,484.7 341.3,485.1 340.8,485.7 340.5,486 340.1,486.3 339.6,486.4 339.1,486.5 338.6,486.5 338.1,486.4 337.7,486.2 337.3,485.9 336.9,485.6 336.7,485.1 336.5,484.7 336.4,484.2 336.4,483.7 336.5,483.2 336.8,482.8 337,482.4 337.5,481.8 337.7,481.6 335.7,481.9 332,482.3 331.5,482.3 331,482.2 330.6,482.1 330.2,481.8 329.9,481.5 329.6,481.1 329.2,481.2 328.8,481.3 328.3,481.3 327.8,481.2 327.4,481 327,480.7 326.7,480.4 326.4,480 326.3,479.5 326.2,479.1 326.2,478.6 326.3,478.1 326.5,477.7 326.8,477.3 327.1,477 328.2,476.2 327.8,475.9 327.2,476 326.7,476.2 326.2,476.2 325.7,476.1 325.2,476 324.8,475.7 324.4,475.4 324.1,475 323.9,474.5 323.7,474 323.7,473.5 323.7,472.5 323.1,472.5 322.6,472.4 322.2,472.2 321.7,471.9 321.4,471.5 321.1,471.1 320.9,470.6 320.8,470.1 320.8,469.6 320.9,469.1 321.1,468.6 321.4,468.2 321.8,467.8 323.9,466.1 323.9,465.1 323.7,464.8 323.6,464.3 323.6,463.9 323.7,463.4 323.8,463 323.9,462.5ZM315.7,459.9 315,459.8 314.3,459.8 313.7,459.8 313,459.9 312.6,459.9 313.9,462 315.4,463.8 315.5,461.6 315.8,459.9ZM299.3,466 299.1,466.3 298.8,466.6 298.6,466.8 298.4,467.1 298.2,467.4 297.9,467.7 297.7,468 299,469.2 302,471.5 301,468.9 299.7,466.3 299.4,465.9ZM294.4,473.2 294.2,473.6 294,473.9 293.8,474.2 293.7,474.6 293.5,474.9 293.3,475.3 293.2,475.6 293,475.9 292.8,476.3 292.7,476.6 292.6,477 292.4,477.3 292.3,477.6 292.1,478 293.4,478.5 296.8,479.3 300.1,480 302.3,480.4 302.7,479.9 301.2,478.4 298.5,476.1 295.7,473.9 294.5,473.1ZM290.5,483.9 290.4,484.3 290.4,484.7 290.3,485.1 290.2,485.5 290.1,485.8 290.1,486.2 290,486.6 289.9,487 289.8,487.4 290.3,487.8 292.8,488.4 294,488.6 295.8,487.1 296.2,486.8 296.7,486.6 297.2,486.5 297.7,486.5 298.2,486.6 297.7,485.3 295.6,484.8 292.1,484 290.6,483.6ZM330.7,513.8 329.6,514.7 328.5,515.8 329,515.8 329.5,516 330.7,513.9Z" fill="#f0f0f0" filter="url(#bw)"/>
<path d="M287.7,489.9 289.8,490.3 292.3,490.9 294.8,491.4 297.4,492 299.9,492.5 M294.8,491.4 297.5,489.1 M289.8,480.5 292.7,481.2 296.1,482 299.6,482.8 303.1,483.4 306.5,484 M299.6,482.8 301.1,486.4 M294.7,469.8 297.4,471.6 300.3,473.8 303.2,476.3 305.9,478.9 308.5,481.8 M300.8,462.7 302.2,464.9 303.6,467.7 304.7,470.7 305.7,473.8 306.4,477 M304.7,470.7 309.1,470.9 M309.1,459.5 310.1,461.4 311.6,463.6 313.2,465.8 315.1,467.8 317.2,469.8 M318.6,458.8 318.1,461.8 317.8,465.3 318,468.9 318.6,472.6 319.5,476.4 M318,468.9 315,470.2 M326.4,458.6 326.5,461.2 326.5,464.3 326.5,467.4 326.4,470.5 326.3,473.6 M326.5,467.4 323.4,469.9 M336.7,462.6 336.1,464.6 335,467.1 333.6,469.5 331.9,471.8 329.9,474 M343.8,467.5 341,469.5 337.9,471.8 334.8,474.2 331.7,476.5 328.6,478.9 M334.8,474.2 334.8,477.4 M348.3,476.1 345.5,477.1 342.2,478.1 338.8,478.9 335.3,479.5 331.7,479.9 M338.8,478.9 335.2,476.8 M355.1,473.6 354,475.6 352.6,477.9 350.9,480.1 349.1,482.3 347.1,484.4 M361.5,480.2 359.3,481.6 356.9,483.5 354.6,485.7 352.5,488.3 350.6,491.1 M366.4,491.8 364.9,492 362.9,492.1 360.9,492 358.8,491.7 356.6,491.2 M360.9,492 358,489.4 M367,501 365.4,500.5 363.4,499.8 361.5,498.9 359.5,498 357.6,497 M359.9,506.4 360,504.3 360,501.7 359.9,499.1 359.8,496.5 359.5,493.9 M359.9,499.1 356.9,496.4 M350.4,504.4 348.7,503 346.8,501.2 345,499.1 343.3,496.9 341.8,494.4 M350.5,515.2 348.4,514.4 345.7,513.5 343,512.6 340.4,511.8 337.7,510.9 M343,512.6 339.5,515.1 M345.1,523.7 343.8,522.3 342.3,520.4 340.8,518.4 339.5,516.3 338.2,514 M340.8,518.4 338,518.8 M337.4,528.1 336.8,525.4 336.4,522.1 336.4,518.7 336.7,515.2 337.3,511.6 M327.8,528.2 328.5,525.9 329.4,523.1 330.4,520.4 331.6,517.6 332.9,514.9 M330.4,520.4 328.6,518.1 M318.5,524 320.3,521.3 322.6,518.3 325.1,515.5 327.9,512.8 331,510.3 M308.9,517.6 310.1,515.9 311.8,513.8 313.5,511.8 315.3,509.8 317.1,507.9 M313.5,511.8 316.8,511.7 M300.1,511.3 301.3,509.6 302.7,507.6 304.1,505.5 305.5,503.4 306.8,501.3 M304.1,505.5 307.9,505.4 M292.3,506.4 293.9,503.8 295.5,500.6 296.7,497.1 297.5,493.4 298,489.4 M296.7,497.1 300.7,497.1 M352,504 350.6,502.5 348.7,500.4 346.4,498 344,496 341.5,494.3 338.7,492.8 335.8,491.3 333,490 330.2,488.9 327.4,487.9 324.7,487 322,486 319.2,484.9 316.3,483.8 313.8,482.7 312,482 M303,496 305.1,497.1 308.2,498.6 311.6,500.3 315,502 318.2,503.7 321.4,505.5 324.7,507.3 328,509 331.8,510.7 335.8,512.4 339.5,513.9 342,515 M314,466 314.7,467.5 315.8,469.6 316.9,472 318,474 319.1,475.8 320.2,477.5 321.3,479 322,480 M326,464 326.7,465.5 327.7,467.6 328.8,470 330,472 331.3,473.8 332.8,475.5 334.1,477 335,478 M337,468 337.5,469.4 338.2,471.4 339,473.7 340,476 341.2,478.6 342.7,481.5 344.1,484.2 345,486 M349.8,474 349.9,476.2 350.1,479.2 350.3,482.7 350.5,486 350.8,489.3 351,492.8 351.3,495.8 351.5,498 M306.5,478.9 305.8,479.8 304.9,481.1 303.8,482.3 302.6,483.3 301.3,484.3 300.4,484.9 M343.4,481 342.7,481.2 341.8,481.6 340.9,482 340.1,482.7 339.4,483.5 338.9,484 M319.5,494.7 320.3,495.3 321.6,496.1 322.9,496.7 324.3,496.6 325.8,496.3 326.8,496.1 M312.6,491.7 311.5,492 309.9,492.5 308.5,493.1 307.2,494.1 306.1,495.2 305.3,496.1" fill="none" stroke="#303030" stroke-width="1.1" stroke-linecap="round" stroke-linejoin="round"/>
<path d="M292.3,524.5 C292.8,523.4 294.6,521.5 296,521.2 C297.4,520.9 300,521.6 301,522.5 C302,523.4 302.4,525.5 301.8,526.5 C301.2,527.5 299,528.4 297.5,528.6 C296,528.8 293.9,528.3 293,527.6 C292.1,526.9 291.8,525.6 292.3,524.5Z" fill="#8a8a8a" stroke="#1c1c1c" stroke-width="0.8"/>
<path d="M287,474 C287.7,470.8 289.8,470.5 291,470.5 C292.2,470.5 293.6,471.8 294,474 C294.4,476.2 294,480.7 293.5,484 C293,487.3 291.8,491.7 291,494 C290.2,496.3 289.2,498.7 288.5,498 C287.8,497.3 287.1,494 286.8,490 C286.6,486 286.3,477.2 287,474Z" fill="#4a4aa8" fill-opacity="0.6" />
<path d="M301,487 C302.5,486.4 306.5,487.6 309,488.5 C311.5,489.4 313.7,491.2 316,492.5 C318.3,493.8 320.7,495.1 323,496.5 C325.3,497.9 327.7,499.5 330,501 C332.3,502.5 334.7,504 337,505.5 C339.3,507 342.1,508.4 344,510 C345.9,511.6 348,513.4 348.5,515 C349,516.6 348.2,519.2 347,519.5 C345.8,519.8 343.2,518.2 341,517 C338.8,515.8 336.3,513.6 334,512 C331.7,510.4 329.3,509 327,507.5 C324.7,506 322.3,504.4 320,503 C317.7,501.6 315.3,500.3 313,499 C310.7,497.7 308.2,496.2 306,495 C303.8,493.8 300.8,493.3 300,492 C299.2,490.7 299.5,487.6 301,487Z" fill="#5a5aa8" fill-opacity="0.68" />
<path d="M352.5,480 C353.6,477.9 356.1,476.8 358,477.5 C359.9,478.2 362.6,481.2 364,484 C365.4,486.8 366.5,490.7 366.5,494 C366.5,497.3 365.4,502.1 364,504 C362.6,505.9 359.9,506.2 358,505.5 C356.1,504.8 353.7,502.6 352.6,500 C351.5,497.4 351.5,493.3 351.5,490 C351.5,486.7 351.4,482.1 352.5,480Z" fill="#4a4aa8" fill-opacity="0.52" />
<path d="M294,471.5 C294.8,470.5 296.8,469.9 298,469 C299.2,468.1 300.3,466.8 301.5,466.3 C302.7,465.8 304.1,465.5 305,466 C305.9,466.5 306.6,468 306.8,469.5 C307.1,471 306.1,473.1 306.5,475 C306.9,476.9 308.3,479.2 309,481 C309.7,482.8 310.8,484.8 310.6,486 C310.4,487.2 309,488.5 307.8,488.5 C306.6,488.5 304.9,486.9 303.5,486 C302.1,485.1 301,484.1 299.5,483 C298,481.9 295.5,480.8 294.5,479.5 C293.5,478.2 293.6,476.3 293.5,475 C293.4,473.7 293.2,472.5 294,471.5Z" fill="#ee2a0a"/>
<path d="M294.9,472.2 294.5,473.2 294.7,477.1 295.1,478.3 295.9,479.3 300.1,482.1 307,487.1 307.8,487.4 308.8,486.9 309.4,486.2 309.5,485.4 305.4,475.3 305.3,474 305.7,469.6 305.4,468.4 304.6,467.1 304.2,466.9 303.5,466.9 302,467.3 298.7,469.9Z" fill="#ff9200"/>
<path d="M297.3,473.8 297.6,477.1 301.6,479.7 305.4,482.6 303.5,478.4 302.7,475.7 302.5,473.8 302.9,470 300.4,472.1Z" fill="#ffe400"/>
<path d="M353,481 C353.5,479.2 355.5,478.8 356.5,479 C357.5,479.2 358.8,481 359,482.5 C359.2,484 357.1,486.2 357.5,488 C357.9,489.8 360.8,490.8 361.3,493 C361.8,495.2 361.5,499.2 360.6,501 C359.7,502.8 357.3,504 356,503.7 C354.7,503.4 353,501.3 352.6,499 C352.2,496.7 353.4,493 353.5,490 C353.6,487 352.5,482.8 353,481Z" fill="#f0300c" fill-opacity="1.0" />
<path d="M355,491 C355.6,490.1 357.7,489.9 358.5,490.7 C359.3,491.5 360,494.2 360,496 C360,497.8 359.2,500.7 358.5,501.5 C357.8,502.3 356.1,501.9 355.5,501 C354.9,500.1 354.9,497.7 354.8,496 C354.7,494.3 354.4,491.9 355,491Z" fill="#ff9a00" fill-opacity="1.0" />
</g>
<g shape-rendering="auto">
<line x1="477.5" y1="21" x2="477.5" y2="142.4" stroke="#6e6e6e" stroke-width="1"/>
<line x1="477.5" y1="142.4" x2="685" y2="142.4" stroke="#6e6e6e" stroke-width="1"/>
<line x1="477.5" y1="82.1" x2="685" y2="82.1" stroke="#6e6e6e" stroke-width="1"/>
<line x1="477.5" y1="21" x2="481" y2="21" stroke="#6e6e6e" stroke-width="1"/>
<text x="471.5" y="23.9" font-size="8.2" text-anchor="end" font-weight="normal" font-style="normal" fill="#231f20" >1.5</text>
<line x1="477.5" y1="61.5" x2="481" y2="61.5" stroke="#6e6e6e" stroke-width="1"/>
<text x="471.5" y="64.4" font-size="8.2" text-anchor="end" font-weight="normal" font-style="normal" fill="#231f20" >0.5</text>
<line x1="477.5" y1="102.2" x2="481" y2="102.2" stroke="#6e6e6e" stroke-width="1"/>
<text x="471.5" y="105.1" font-size="8.2" text-anchor="end" font-weight="normal" font-style="normal" fill="#231f20" >&#8722;0.5</text>
<line x1="477.5" y1="142.4" x2="481" y2="142.4" stroke="#6e6e6e" stroke-width="1"/>
<text x="471.5" y="145.3" font-size="8.2" text-anchor="end" font-weight="normal" font-style="normal" fill="#231f20" >&#8722;1.5</text>
<line x1="495.7" y1="142.4" x2="495.7" y2="139.2" stroke="#6e6e6e" stroke-width="1"/>
<text transform="translate(501.3,153) rotate(-45)" font-size="10.3" text-anchor="end" fill="#231f20">AI (l)</text>
<line x1="511.2" y1="142.4" x2="511.2" y2="139.2" stroke="#6e6e6e" stroke-width="1"/>
<text transform="translate(516.8,153) rotate(-45)" font-size="10.3" text-anchor="end" fill="#231f20">AI (r)</text>
<line x1="526.7" y1="142.4" x2="526.7" y2="139.2" stroke="#6e6e6e" stroke-width="1"/>
<text transform="translate(532.3,153) rotate(-45)" font-size="10.3" text-anchor="end" fill="#231f20">MTL (l)</text>
<line x1="542.2" y1="142.4" x2="542.2" y2="139.2" stroke="#6e6e6e" stroke-width="1"/>
<text transform="translate(547.8,153) rotate(-45)" font-size="10.3" text-anchor="end" fill="#231f20">MTL (r)</text>
<line x1="557.7" y1="142.4" x2="557.7" y2="139.2" stroke="#6e6e6e" stroke-width="1"/>
<text transform="translate(563.3,153) rotate(-45)" font-size="10.3" text-anchor="end" fill="#231f20">PC</text>
<line x1="573.2" y1="142.4" x2="573.2" y2="139.2" stroke="#6e6e6e" stroke-width="1"/>
<text transform="translate(578.8,153) rotate(-45)" font-size="10.3" text-anchor="end" fill="#231f20">TPJ (l)</text>
<line x1="588.7" y1="142.4" x2="588.7" y2="139.2" stroke="#6e6e6e" stroke-width="1"/>
<text transform="translate(594.3,153) rotate(-45)" font-size="10.3" text-anchor="end" fill="#231f20">TPJ (r)</text>
<line x1="604.2" y1="142.4" x2="604.2" y2="139.2" stroke="#6e6e6e" stroke-width="1"/>
<text transform="translate(609.8,153) rotate(-45)" font-size="10.3" text-anchor="end" fill="#231f20">dACC</text>
<line x1="619.7" y1="142.4" x2="619.7" y2="139.2" stroke="#6e6e6e" stroke-width="1"/>
<text transform="translate(625.3,153) rotate(-45)" font-size="10.3" text-anchor="end" fill="#231f20">dlPFC (l)</text>
<line x1="635.2" y1="142.4" x2="635.2" y2="139.2" stroke="#6e6e6e" stroke-width="1"/>
<text transform="translate(640.8,153) rotate(-45)" font-size="10.3" text-anchor="end" fill="#231f20">dlPFC (r)</text>
<line x1="650.7" y1="142.4" x2="650.7" y2="139.2" stroke="#6e6e6e" stroke-width="1"/>
<text transform="translate(656.3,153) rotate(-45)" font-size="10.3" text-anchor="end" fill="#231f20">dmPFC</text>
<line x1="666.2" y1="142.4" x2="666.2" y2="139.2" stroke="#6e6e6e" stroke-width="1"/>
<text transform="translate(671.8,153) rotate(-45)" font-size="10.3" text-anchor="end" fill="#231f20">vmPFC</text>
<rect x="597.9" y="82.1" width="12.6" height="27.9" fill="#62a7d8" stroke="#3a3a3a" stroke-width="0.7"/>
<line x1="604.2" y1="105" x2="604.2" y2="115" stroke="#333" stroke-width="0.8"/>
<rect x="613.4" y="82.1" width="12.6" height="19.9" fill="#62a7d8" stroke="#3a3a3a" stroke-width="0.7"/>
<line x1="619.7" y1="98" x2="619.7" y2="106" stroke="#333" stroke-width="0.8"/>
<rect x="644.4" y="40.2" width="12.6" height="41.9" fill="#e7956f" stroke="#3a3a3a" stroke-width="0.7"/>
<line x1="650.7" y1="31" x2="650.7" y2="49.6" stroke="#333" stroke-width="0.8"/>
<rect x="659.9" y="39.4" width="12.6" height="42.7" fill="#e7956f" stroke="#3a3a3a" stroke-width="0.7"/>
<line x1="666.2" y1="28" x2="666.2" y2="50.6" stroke="#333" stroke-width="0.8"/>
<text transform="translate(448.3,82.1) rotate(-90)" font-size="10.5" text-anchor="middle" fill="#231f20">Average <tspan font-style="italic">&#946;</tspan></text>
</g>
<g shape-rendering="auto">
<line x1="477.5" y1="219.4" x2="477.5" y2="340.6" stroke="#6e6e6e" stroke-width="1"/>
<line x1="477.5" y1="340.6" x2="685" y2="340.6" stroke="#6e6e6e" stroke-width="1"/>
<line x1="477.5" y1="280.2" x2="685" y2="280.2" stroke="#6e6e6e" stroke-width="1"/>
<line x1="477.5" y1="219.4" x2="481" y2="219.4" stroke="#6e6e6e" stroke-width="1"/>
<text x="471.5" y="222.3" font-size="8.2" text-anchor="end" font-weight="normal" font-style="normal" fill="#231f20" >1</text>
<line x1="477.5" y1="249.8" x2="481" y2="249.8" stroke="#6e6e6e" stroke-width="1"/>
<text x="471.5" y="252.7" font-size="8.2" text-anchor="end" font-weight="normal" font-style="normal" fill="#231f20" >0.5</text>
<line x1="477.5" y1="280.2" x2="481" y2="280.2" stroke="#6e6e6e" stroke-width="1"/>
<text x="471.5" y="283.1" font-size="8.2" text-anchor="end" font-weight="normal" font-style="normal" fill="#231f20" >0</text>
<line x1="477.5" y1="310.4" x2="481" y2="310.4" stroke="#6e6e6e" stroke-width="1"/>
<text x="471.5" y="313.3" font-size="8.2" text-anchor="end" font-weight="normal" font-style="normal" fill="#231f20" >&#8722;0.5</text>
<line x1="477.5" y1="340.6" x2="481" y2="340.6" stroke="#6e6e6e" stroke-width="1"/>
<text x="471.5" y="343.5" font-size="8.2" text-anchor="end" font-weight="normal" font-style="normal" fill="#231f20" >&#8722;1</text>
<line x1="495.7" y1="340.6" x2="495.7" y2="337.4" stroke="#6e6e6e" stroke-width="1"/>
<text transform="translate(501.3,351.2) rotate(-45)" font-size="10.3" text-anchor="end" fill="#231f20">AI (l)</text>
<line x1="511.2" y1="340.6" x2="511.2" y2="337.4" stroke="#6e6e6e" stroke-width="1"/>
<text transform="translate(516.8,351.2) rotate(-45)" font-size="10.3" text-anchor="end" fill="#231f20">AI (r)</text>
<line x1="526.7" y1="340.6" x2="526.7" y2="337.4" stroke="#6e6e6e" stroke-width="1"/>
<text transform="translate(532.3,351.2) rotate(-45)" font-size="10.3" text-anchor="end" fill="#231f20">MTL (l)</text>
<line x1="542.2" y1="340.6" x2="542.2" y2="337.4" stroke="#6e6e6e" stroke-width="1"/>
<text transform="translate(547.8,351.2) rotate(-45)" font-size="10.3" text-anchor="end" fill="#231f20">MTL (r)</text>
<line x1="557.7" y1="340.6" x2="557.7" y2="337.4" stroke="#6e6e6e" stroke-width="1"/>
<text transform="translate(563.3,351.2) rotate(-45)" font-size="10.3" text-anchor="end" fill="#231f20">PC</text>
<line x1="573.2" y1="340.6" x2="573.2" y2="337.4" stroke="#6e6e6e" stroke-width="1"/>
<text transform="translate(578.8,351.2) rotate(-45)" font-size="10.3" text-anchor="end" fill="#231f20">TPJ (l)</text>
<line x1="588.7" y1="340.6" x2="588.7" y2="337.4" stroke="#6e6e6e" stroke-width="1"/>
<text transform="translate(594.3,351.2) rotate(-45)" font-size="10.3" text-anchor="end" fill="#231f20">TPJ (r)</text>
<line x1="604.2" y1="340.6" x2="604.2" y2="337.4" stroke="#6e6e6e" stroke-width="1"/>
<text transform="translate(609.8,351.2) rotate(-45)" font-size="10.3" text-anchor="end" fill="#231f20">dACC</text>
<line x1="619.7" y1="340.6" x2="619.7" y2="337.4" stroke="#6e6e6e" stroke-width="1"/>
<text transform="translate(625.3,351.2) rotate(-45)" font-size="10.3" text-anchor="end" fill="#231f20">dlPFC (l)</text>
<line x1="635.2" y1="340.6" x2="635.2" y2="337.4" stroke="#6e6e6e" stroke-width="1"/>
<text transform="translate(640.8,351.2) rotate(-45)" font-size="10.3" text-anchor="end" fill="#231f20">dlPFC (r)</text>
<line x1="650.7" y1="340.6" x2="650.7" y2="337.4" stroke="#6e6e6e" stroke-width="1"/>
<text transform="translate(656.3,351.2) rotate(-45)" font-size="10.3" text-anchor="end" fill="#231f20">dmPFC</text>
<line x1="666.2" y1="340.6" x2="666.2" y2="337.4" stroke="#6e6e6e" stroke-width="1"/>
<text transform="translate(671.8,351.2) rotate(-45)" font-size="10.3" text-anchor="end" fill="#231f20">vmPFC</text>
<rect x="504.9" y="247.4" width="12.6" height="32.8" fill="#e7956f" stroke="#3a3a3a" stroke-width="0.7"/>
<line x1="511.2" y1="241.4" x2="511.2" y2="253" stroke="#333" stroke-width="0.8"/>
<rect x="551.4" y="280.2" width="12.6" height="28.2" fill="#62a7d8" stroke="#3a3a3a" stroke-width="0.7"/>
<line x1="557.7" y1="300" x2="557.7" y2="315.6" stroke="#333" stroke-width="0.8"/>
<rect x="582.4" y="248.2" width="12.6" height="32" fill="#e7956f" stroke="#3a3a3a" stroke-width="0.7"/>
<line x1="588.7" y1="242" x2="588.7" y2="255" stroke="#333" stroke-width="0.8"/>
<rect x="597.9" y="245" width="12.6" height="35.2" fill="#e7956f" stroke="#3a3a3a" stroke-width="0.7"/>
<line x1="604.2" y1="237" x2="604.2" y2="253" stroke="#333" stroke-width="0.8"/>
<rect x="628.9" y="246.2" width="12.6" height="34" fill="#e7956f" stroke="#3a3a3a" stroke-width="0.7"/>
<line x1="635.2" y1="238.4" x2="635.2" y2="254" stroke="#333" stroke-width="0.8"/>
<text transform="translate(448.3,280.2) rotate(-90)" font-size="10.5" text-anchor="middle" fill="#231f20">Average <tspan font-style="italic">&#946;</tspan></text>
</g>
<g shape-rendering="auto">
<line x1="477.5" y1="426" x2="477.5" y2="547.2" stroke="#6e6e6e" stroke-width="1"/>
<line x1="477.5" y1="547.2" x2="685" y2="547.2" stroke="#6e6e6e" stroke-width="1"/>
<line x1="477.5" y1="486.6" x2="685" y2="486.6" stroke="#6e6e6e" stroke-width="1"/>
<line x1="477.5" y1="426" x2="481" y2="426" stroke="#6e6e6e" stroke-width="1"/>
<text x="471.5" y="428.9" font-size="8.2" text-anchor="end" font-weight="normal" font-style="normal" fill="#231f20" >0.2</text>
<line x1="477.5" y1="456.3" x2="481" y2="456.3" stroke="#6e6e6e" stroke-width="1"/>
<text x="471.5" y="459.2" font-size="8.2" text-anchor="end" font-weight="normal" font-style="normal" fill="#231f20" >0.1</text>
<line x1="477.5" y1="486.6" x2="481" y2="486.6" stroke="#6e6e6e" stroke-width="1"/>
<text x="471.5" y="489.5" font-size="8.2" text-anchor="end" font-weight="normal" font-style="normal" fill="#231f20" >0</text>
<line x1="477.5" y1="516.9" x2="481" y2="516.9" stroke="#6e6e6e" stroke-width="1"/>
<text x="471.5" y="519.8" font-size="8.2" text-anchor="end" font-weight="normal" font-style="normal" fill="#231f20" >&#8722;0.1</text>
<line x1="477.5" y1="547.2" x2="481" y2="547.2" stroke="#6e6e6e" stroke-width="1"/>
<text x="471.5" y="550.1" font-size="8.2" text-anchor="end" font-weight="normal" font-style="normal" fill="#231f20" >&#8722;0.2</text>
<line x1="495.7" y1="547.2" x2="495.7" y2="544" stroke="#6e6e6e" stroke-width="1"/>
<text transform="translate(501.3,557.8) rotate(-45)" font-size="10.3" text-anchor="end" fill="#231f20">AI (l)</text>
<line x1="511.2" y1="547.2" x2="511.2" y2="544" stroke="#6e6e6e" stroke-width="1"/>
<text transform="translate(516.8,557.8) rotate(-45)" font-size="10.3" text-anchor="end" fill="#231f20">AI (r)</text>
<line x1="526.7" y1="547.2" x2="526.7" y2="544" stroke="#6e6e6e" stroke-width="1"/>
<text transform="translate(532.3,557.8) rotate(-45)" font-size="10.3" text-anchor="end" fill="#231f20">MTL (l)</text>
<line x1="542.2" y1="547.2" x2="542.2" y2="544" stroke="#6e6e6e" stroke-width="1"/>
<text transform="translate(547.8,557.8) rotate(-45)" font-size="10.3" text-anchor="end" fill="#231f20">MTL (r)</text>
<line x1="557.7" y1="547.2" x2="557.7" y2="544" stroke="#6e6e6e" stroke-width="1"/>
<text transform="translate(563.3,557.8) rotate(-45)" font-size="10.3" text-anchor="end" fill="#231f20">PC</text>
<line x1="573.2" y1="547.2" x2="573.2" y2="544" stroke="#6e6e6e" stroke-width="1"/>
<text transform="translate(578.8,557.8) rotate(-45)" font-size="10.3" text-anchor="end" fill="#231f20">TPJ (l)</text>
<line x1="588.7" y1="547.2" x2="588.7" y2="544" stroke="#6e6e6e" stroke-width="1"/>
<text transform="translate(594.3,557.8) rotate(-45)" font-size="10.3" text-anchor="end" fill="#231f20">TPJ (r)</text>
<line x1="604.2" y1="547.2" x2="604.2" y2="544" stroke="#6e6e6e" stroke-width="1"/>
<text transform="translate(609.8,557.8) rotate(-45)" font-size="10.3" text-anchor="end" fill="#231f20">dACC</text>
<line x1="619.7" y1="547.2" x2="619.7" y2="544" stroke="#6e6e6e" stroke-width="1"/>
<text transform="translate(625.3,557.8) rotate(-45)" font-size="10.3" text-anchor="end" fill="#231f20">dlPFC (l)</text>
<line x1="635.2" y1="547.2" x2="635.2" y2="544" stroke="#6e6e6e" stroke-width="1"/>
<text transform="translate(640.8,557.8) rotate(-45)" font-size="10.3" text-anchor="end" fill="#231f20">dlPFC (r)</text>
<line x1="650.7" y1="547.2" x2="650.7" y2="544" stroke="#6e6e6e" stroke-width="1"/>
<text transform="translate(656.3,557.8) rotate(-45)" font-size="10.3" text-anchor="end" fill="#231f20">dmPFC</text>
<line x1="666.2" y1="547.2" x2="666.2" y2="544" stroke="#6e6e6e" stroke-width="1"/>
<text transform="translate(671.8,557.8) rotate(-45)" font-size="10.3" text-anchor="end" fill="#231f20">vmPFC</text>
<rect x="489.4" y="452" width="12.6" height="34.6" fill="#e7956f" stroke="#3a3a3a" stroke-width="0.7"/>
<line x1="495.7" y1="442.6" x2="495.7" y2="461.6" stroke="#333" stroke-width="0.8"/>
<rect x="504.9" y="452.2" width="12.6" height="34.4" fill="#e7956f" stroke="#3a3a3a" stroke-width="0.7"/>
<line x1="511.2" y1="445" x2="511.2" y2="459.6" stroke="#333" stroke-width="0.8"/>
<rect x="520.4" y="454.4" width="12.6" height="32.2" fill="#e7956f" stroke="#3a3a3a" stroke-width="0.7"/>
<line x1="526.7" y1="446.6" x2="526.7" y2="463" stroke="#333" stroke-width="0.8"/>
<rect x="566.9" y="462.2" width="12.6" height="24.4" fill="#e7956f" stroke="#3a3a3a" stroke-width="0.7"/>
<line x1="573.2" y1="458" x2="573.2" y2="466" stroke="#333" stroke-width="0.8"/>
<rect x="582.4" y="447.6" width="12.6" height="39" fill="#e7956f" stroke="#3a3a3a" stroke-width="0.7"/>
<line x1="588.7" y1="441" x2="588.7" y2="454.4" stroke="#333" stroke-width="0.8"/>
<rect x="613.4" y="439.4" width="12.6" height="47.2" fill="#e7956f" stroke="#3a3a3a" stroke-width="0.7"/>
<line x1="619.7" y1="428.2" x2="619.7" y2="450.6" stroke="#333" stroke-width="0.8"/>
<rect x="628.9" y="448.2" width="12.6" height="38.4" fill="#e7956f" stroke="#3a3a3a" stroke-width="0.7"/>
<line x1="635.2" y1="440.6" x2="635.2" y2="456.6" stroke="#333" stroke-width="0.8"/>
<rect x="644.4" y="453.4" width="12.6" height="33.2" fill="#e7956f" stroke="#3a3a3a" stroke-width="0.7"/>
<line x1="650.7" y1="444" x2="650.7" y2="463" stroke="#333" stroke-width="0.8"/>
<rect x="659.9" y="486.6" width="12.6" height="29" fill="#62a7d8" stroke="#3a3a3a" stroke-width="0.7"/>
<line x1="666.2" y1="508" x2="666.2" y2="523.4" stroke="#333" stroke-width="0.8"/>
<text transform="translate(448.3,486.6) rotate(-90)" font-size="10.5" text-anchor="middle" fill="#231f20">Average <tspan font-style="italic">&#946;</tspan></text>
</g>
<text x="1.2" y="8.2" font-size="16" text-anchor="start" font-weight="bold" font-style="normal" fill="#000" >a</text>
<text x="1.2" y="208.9" font-size="16" text-anchor="start" font-weight="bold" font-style="normal" fill="#000" >b</text>
<text x="1.2" y="409.6" font-size="16" text-anchor="start" font-weight="bold" font-style="normal" fill="#000" >c</text>
<text x="350.5" y="12.8" font-size="10.6" text-anchor="middle" font-weight="normal" font-style="normal" fill="#231f20" >SV</text>
<text x="352" y="211.8" font-size="10.6" text-anchor="middle" font-weight="normal" font-style="normal" fill="#231f20" >APE</text>
<text x="335.5" y="413.1" font-size="10.6" text-anchor="middle" font-weight="normal" font-style="normal" fill="#231f20" >BU</text>
<defs>
<linearGradient id="gpos" x1="0" x2="1" y1="0" y2="0">
<stop offset="0" stop-color="#000000"/><stop offset="0.15" stop-color="#400000"/><stop offset="0.36" stop-color="#f50000"/>
<stop offset="0.52" stop-color="#ff5a00"/><stop offset="0.68" stop-color="#ffc000"/><stop offset="0.78" stop-color="#ffff00"/><stop offset="1" stop-color="#fffff2"/>
</linearGradient>
<linearGradient id="gneg" x1="0" x2="1" y1="0" y2="0">
<stop offset="0" stop-color="#0a8cff"/><stop offset="1" stop-color="#00f2ff"/>
</linearGradient>
</defs>
<rect x="381" y="26.4" width="30.8" height="8.4" fill="url(#gpos)" stroke="#555" stroke-width="0.6"/>
<rect x="381" y="40.2" width="30.8" height="8.4" fill="url(#gneg)" stroke="#2d5f80" stroke-width="0.6"/>
<text x="376.7" y="33.7" font-size="10" text-anchor="end" font-weight="normal" font-style="normal" fill="#231f20" >Pos</text>
<text x="376.7" y="47.4" font-size="10" text-anchor="end" font-weight="normal" font-style="normal" fill="#231f20" >Neg</text>
<text x="382.6" y="59.8" font-size="10" text-anchor="middle" font-weight="normal" font-style="normal" fill="#231f20" >0</text>
<text x="408.8" y="59.8" font-size="10" text-anchor="middle" font-weight="normal" font-style="normal" fill="#231f20" >6</text>
<ellipse cx="395.4" cy="71.9" rx="11.7" ry="8.9" fill="#a3a3cb"/>
<text x="395.3" y="74.8" font-size="9.6" text-anchor="middle" font-weight="normal" font-style="normal" fill="#2a2a2a" >ROI</text>
<rect x="381.2" y="222.4" width="31.3" height="8.4" fill="url(#gpos)" stroke="#555" stroke-width="0.6"/>
<rect x="381.2" y="236.4" width="31.3" height="8.4" fill="url(#gneg)" stroke="#2d5f80" stroke-width="0.6"/>
<text x="376.9" y="229.7" font-size="10" text-anchor="end" font-weight="normal" font-style="normal" fill="#231f20" >Pos</text>
<text x="376.9" y="243.6" font-size="10" text-anchor="end" font-weight="normal" font-style="normal" fill="#231f20" >Neg</text>
<text x="382.8" y="255" font-size="8.6" text-anchor="middle" font-weight="normal" font-style="normal" fill="#231f20" >0</text>
<text x="409.5" y="255" font-size="8.6" text-anchor="middle" font-weight="normal" font-style="normal" fill="#231f20" >6</text>
<ellipse cx="395.5" cy="268.4" rx="11.7" ry="8.9" fill="#a3a3cb"/>
<text x="395.4" y="271.6" font-size="9.6" text-anchor="middle" font-weight="normal" font-style="normal" fill="#2a2a2a" >ROI</text>
<rect x="383.3" y="429.6" width="31.3" height="8.4" fill="url(#gpos)" stroke="#555" stroke-width="0.6"/>
<rect x="383.3" y="443.5" width="31.3" height="8.4" fill="url(#gneg)" stroke="#2d5f80" stroke-width="0.6"/>
<text x="379" y="436.9" font-size="10" text-anchor="end" font-weight="normal" font-style="normal" fill="#231f20" >Pos</text>
<text x="379" y="450.7" font-size="10" text-anchor="end" font-weight="normal" font-style="normal" fill="#231f20" >Neg</text>
<text x="384.9" y="462.2" font-size="8.6" text-anchor="middle" font-weight="normal" font-style="normal" fill="#231f20" >0</text>
<text x="411.6" y="462.2" font-size="8.6" text-anchor="middle" font-weight="normal" font-style="normal" fill="#231f20" >6</text>
<ellipse cx="398.3" cy="475.7" rx="11.7" ry="8.9" fill="#a3a3cb"/>
<text x="398.2" y="478.7" font-size="9.6" text-anchor="middle" font-weight="normal" font-style="normal" fill="#2a2a2a" >ROI</text>
<text x="53.2" y="162.2" font-size="10" fill="#231f20"><tspan font-style="italic">x</tspan> = 5</text>
<text x="183.4" y="162.2" font-size="10" fill="#231f20"><tspan font-style="italic">z</tspan> = 29</text>
<text x="308.3" y="162.2" font-size="10" fill="#231f20"><tspan font-style="italic">x</tspan> = &#8211;43</text>
<text x="49.2" y="353.6" font-size="10" fill="#231f20"><tspan font-style="italic">x</tspan> = &#8211;6</text>
<text x="183.2" y="353.6" font-size="10" fill="#231f20"><tspan font-style="italic">z</tspan> = 27</text>
<text x="309.3" y="353.6" font-size="10.5" fill="#231f20"><tspan font-style="italic">x</tspan> = 50</text>
<text x="48.7" y="575" font-size="10" fill="#231f20"><tspan font-style="italic">z</tspan> = &#8211;5</text>
<text x="182.4" y="574.4" font-size="10" fill="#231f20"><tspan font-style="italic">z</tspan> = 22</text>
<text x="309" y="575" font-size="10" fill="#231f20"><tspan font-style="italic">x</tspan> = 54</text>
<text x="93" y="36.2" font-size="10.3" fill="#231f20">dACC</text>
<text x="119.6" y="54.4" font-size="10.3" fill="#231f20">dmPFC</text>
<text x="116" y="127.2" font-size="10.3" fill="#231f20">vmPFC</text>
<text x="250" y="49.8" font-size="10.3" fill="#231f20">dlPFC</text>
<text x="115.5" y="243.1" font-size="10.3" fill="#231f20">dACC</text>
<text x="121.8" y="322.6" font-size="10.3" fill="#231f20">PCC</text>
<text x="246.1" y="241.6" font-size="10.3" fill="#231f20">dlPFC</text>
<text x="252.6" y="326.6" font-size="10.3" fill="#231f20">rTPJ</text>
<text x="114.1" y="436" font-size="10.3" fill="#231f20">vmPFC</text>
<text x="122.8" y="456.5" font-size="10.3" fill="#231f20">AI</text>
<text x="115.9" y="544.7" font-size="10.3" fill="#231f20">lTPJ</text>
<text x="247.6" y="430.1" font-size="10.3" fill="#231f20">dmPFC</text>
<text x="251.9" y="456.8" font-size="10.3" fill="#231f20">vlPFC</text>
<text x="251.8" y="540.4" font-size="10.3" fill="#231f20">rTPJ</text>
<line x1="99" y1="39" x2="93" y2="52" stroke="#111" stroke-width="0.8"/>
<line x1="125" y1="59" x2="119" y2="71" stroke="#111" stroke-width="0.8"/>
<line x1="154" y1="47" x2="178" y2="37" stroke="#111" stroke-width="0.8"/>
<line x1="122" y1="119" x2="115" y2="111" stroke="#111" stroke-width="0.8"/>
<line x1="243.8" y1="46.2" x2="169" y2="66" stroke="#111" stroke-width="0.8"/>
<line x1="283.8" y1="46.2" x2="331.5" y2="69.2" stroke="#111" stroke-width="0.8"/>
<line x1="98.3" y1="249.6" x2="112.4" y2="244.3" stroke="#111" stroke-width="0.8"/>
<line x1="46.4" y1="272.4" x2="117.3" y2="318.7" stroke="#111" stroke-width="0.8"/>
<line x1="146.1" y1="318.5" x2="184" y2="309.6" stroke="#111" stroke-width="0.8"/>
<line x1="239.2" y1="247.9" x2="246.9" y2="244.3" stroke="#111" stroke-width="0.8"/>
<line x1="276" y1="244" x2="346" y2="264" stroke="#111" stroke-width="0.8"/>
<line x1="244.4" y1="311.5" x2="252.9" y2="318.1" stroke="#111" stroke-width="0.8"/>
<line x1="271.3" y1="316.8" x2="297" y2="280" stroke="#111" stroke-width="0.8"/>
<line x1="73.1" y1="444.6" x2="109.9" y2="434.5" stroke="#111" stroke-width="0.8"/>
<line x1="91.5" y1="460.7" x2="118.5" y2="453.9" stroke="#111" stroke-width="0.8"/>
<line x1="135.4" y1="534.4" x2="149.3" y2="529" stroke="#111" stroke-width="0.8"/>
<line x1="210.5" y1="440.2" x2="243.6" y2="428.1" stroke="#111" stroke-width="0.8"/>
<line x1="243.4" y1="462.3" x2="251" y2="459" stroke="#111" stroke-width="0.8"/>
<line x1="280.2" y1="458.4" x2="351" y2="479" stroke="#111" stroke-width="0.8"/>
<line x1="244" y1="525.2" x2="252.7" y2="531.7" stroke="#111" stroke-width="0.8"/>
<line x1="270.9" y1="530.3" x2="297.2" y2="489.6" stroke="#111" stroke-width="0.8"/>
</svg></body></html>
